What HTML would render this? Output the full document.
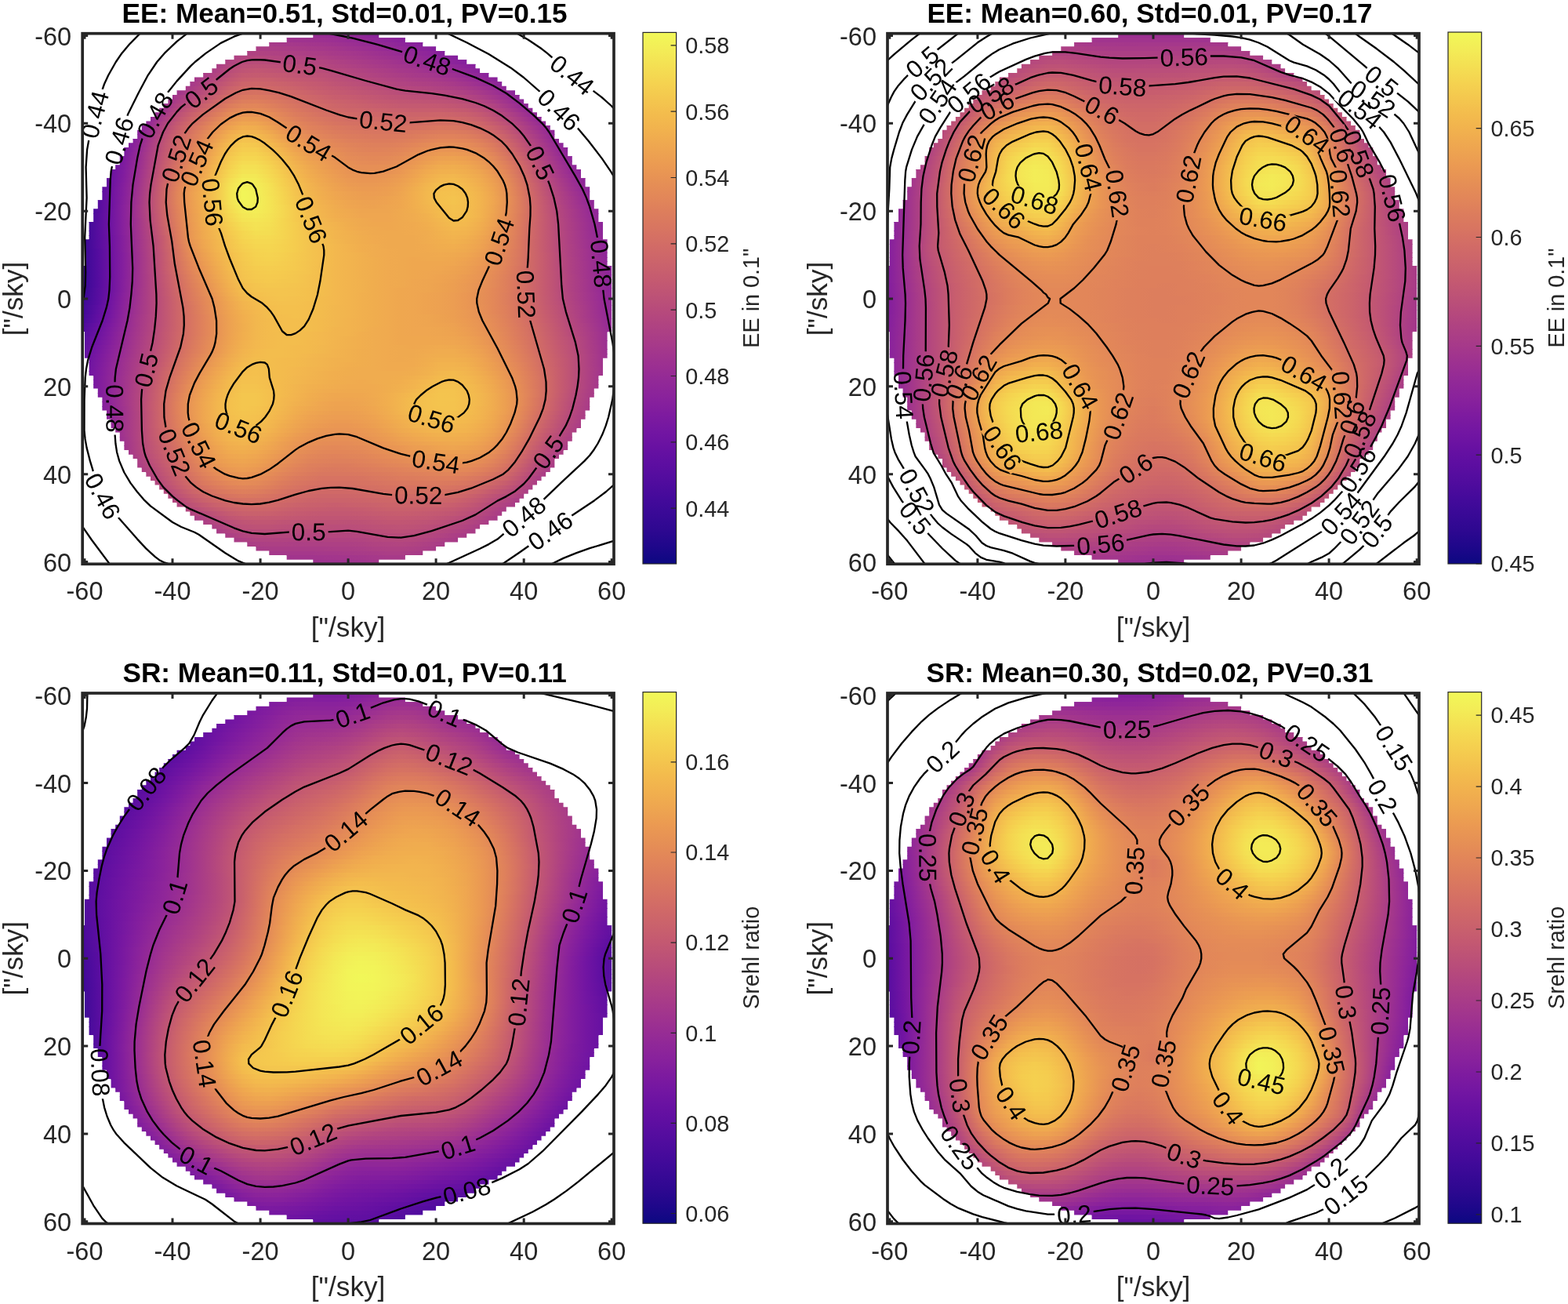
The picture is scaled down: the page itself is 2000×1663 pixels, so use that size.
<!DOCTYPE html><html><head><meta charset="utf-8"><style>
html,body{margin:0;padding:0;background:#fff}
body{width:2000px;height:1663px;position:relative;overflow:hidden}
.hm{position:absolute;overflow:hidden}
.hm div{position:absolute;left:0;width:100%}
svg{position:absolute;left:0;top:0}
text{font-family:"Liberation Sans",Arial,sans-serif}
</style></head><body>
<div class="hm" style="left:105.2px;top:42.7px;width:677.8px;height:676.6px;clip-path:polygon(378.1px 0.0px,378.1px 5.6px,411.7px 5.6px,411.7px 11.2px,434.1px 11.2px,434.1px 16.8px,450.9px 16.8px,450.9px 22.4px,462.1px 22.4px,462.1px 28.0px,478.9px 28.0px,478.9px 33.6px,490.1px 33.6px,490.1px 39.1px,501.3px 39.1px,501.3px 44.7px,506.9px 44.7px,506.9px 50.3px,518.2px 50.3px,518.2px 55.9px,529.4px 55.9px,529.4px 61.5px,535.0px 61.5px,535.0px 67.1px,540.6px 67.1px,540.6px 72.7px,551.8px 72.7px,551.8px 78.3px,557.4px 78.3px,557.4px 83.9px,563.0px 83.9px,563.0px 89.5px,568.6px 89.5px,568.6px 95.1px,574.2px 95.1px,574.2px 100.7px,579.8px 100.7px,579.8px 106.2px,585.4px 106.2px,585.4px 111.8px,591.0px 111.8px,591.0px 117.4px,596.6px 117.4px,596.6px 123.0px,602.2px 123.0px,602.2px 128.6px,602.2px 128.6px,602.2px 134.2px,607.8px 134.2px,607.8px 139.8px,613.4px 139.8px,613.4px 145.4px,619.0px 145.4px,619.0px 151.0px,619.0px 151.0px,619.0px 156.6px,624.6px 156.6px,624.6px 162.2px,624.6px 162.2px,624.6px 167.8px,630.2px 167.8px,630.2px 173.3px,635.8px 173.3px,635.8px 178.9px,635.8px 178.9px,635.8px 184.5px,641.4px 184.5px,641.4px 190.1px,641.4px 190.1px,641.4px 195.7px,647.0px 195.7px,647.0px 201.3px,647.0px 201.3px,647.0px 206.9px,647.0px 206.9px,647.0px 212.5px,652.6px 212.5px,652.6px 218.1px,652.6px 218.1px,652.6px 223.7px,658.2px 223.7px,658.2px 229.3px,658.2px 229.3px,658.2px 234.9px,658.2px 234.9px,658.2px 240.4px,663.8px 240.4px,663.8px 246.0px,663.8px 246.0px,663.8px 251.6px,663.8px 251.6px,663.8px 257.2px,663.8px 257.2px,663.8px 262.8px,669.4px 262.8px,669.4px 268.4px,669.4px 268.4px,669.4px 274.0px,669.4px 274.0px,669.4px 279.6px,669.4px 279.6px,669.4px 285.2px,669.4px 285.2px,669.4px 290.8px,669.4px 290.8px,669.4px 296.4px,675.0px 296.4px,675.0px 302.0px,675.0px 302.0px,675.0px 307.5px,675.0px 307.5px,675.0px 313.1px,675.0px 313.1px,675.0px 318.7px,675.0px 318.7px,675.0px 324.3px,675.0px 324.3px,675.0px 329.9px,675.0px 329.9px,675.0px 335.5px,675.0px 335.5px,675.0px 341.1px,675.0px 341.1px,675.0px 346.7px,675.0px 346.7px,675.0px 352.3px,675.0px 352.3px,675.0px 357.9px,675.0px 357.9px,675.0px 363.5px,675.0px 363.5px,675.0px 369.1px,675.0px 369.1px,675.0px 374.6px,675.0px 374.6px,675.0px 380.2px,669.4px 380.2px,669.4px 385.8px,669.4px 385.8px,669.4px 391.4px,669.4px 391.4px,669.4px 397.0px,669.4px 397.0px,669.4px 402.6px,669.4px 402.6px,669.4px 408.2px,669.4px 408.2px,669.4px 413.8px,663.8px 413.8px,663.8px 419.4px,663.8px 419.4px,663.8px 425.0px,663.8px 425.0px,663.8px 430.6px,663.8px 430.6px,663.8px 436.2px,658.2px 436.2px,658.2px 441.7px,658.2px 441.7px,658.2px 447.3px,658.2px 447.3px,658.2px 452.9px,652.6px 452.9px,652.6px 458.5px,652.6px 458.5px,652.6px 464.1px,647.0px 464.1px,647.0px 469.7px,647.0px 469.7px,647.0px 475.3px,647.0px 475.3px,647.0px 480.9px,641.4px 480.9px,641.4px 486.5px,641.4px 486.5px,641.4px 492.1px,635.8px 492.1px,635.8px 497.7px,635.8px 497.7px,635.8px 503.3px,630.2px 503.3px,630.2px 508.8px,624.6px 508.8px,624.6px 514.4px,624.6px 514.4px,624.6px 520.0px,619.0px 520.0px,619.0px 525.6px,619.0px 525.6px,619.0px 531.2px,613.4px 531.2px,613.4px 536.8px,607.8px 536.8px,607.8px 542.4px,602.2px 542.4px,602.2px 548.0px,602.2px 548.0px,602.2px 553.6px,596.6px 553.6px,596.6px 559.2px,591.0px 559.2px,591.0px 564.8px,585.4px 564.8px,585.4px 570.4px,579.8px 570.4px,579.8px 575.9px,574.2px 575.9px,574.2px 581.5px,568.6px 581.5px,568.6px 587.1px,563.0px 587.1px,563.0px 592.7px,557.4px 592.7px,557.4px 598.3px,551.8px 598.3px,551.8px 603.9px,540.6px 603.9px,540.6px 609.5px,535.0px 609.5px,535.0px 615.1px,529.4px 615.1px,529.4px 620.7px,518.2px 620.7px,518.2px 626.3px,506.9px 626.3px,506.9px 631.9px,501.3px 631.9px,501.3px 637.5px,490.1px 637.5px,490.1px 643.0px,478.9px 643.0px,478.9px 648.6px,462.1px 648.6px,462.1px 654.2px,450.9px 654.2px,450.9px 659.8px,434.1px 659.8px,434.1px 665.4px,411.7px 665.4px,411.7px 671.0px,378.1px 671.0px,378.1px 676.6px,294.1px 676.6px,294.1px 671.0px,260.5px 671.0px,260.5px 665.4px,238.1px 665.4px,238.1px 659.8px,221.3px 659.8px,221.3px 654.2px,210.1px 654.2px,210.1px 648.6px,193.3px 648.6px,193.3px 643.0px,182.1px 643.0px,182.1px 637.5px,170.9px 637.5px,170.9px 631.9px,165.2px 631.9px,165.2px 626.3px,154.0px 626.3px,154.0px 620.7px,142.8px 620.7px,142.8px 615.1px,137.2px 615.1px,137.2px 609.5px,131.6px 609.5px,131.6px 603.9px,120.4px 603.9px,120.4px 598.3px,114.8px 598.3px,114.8px 592.7px,109.2px 592.7px,109.2px 587.1px,103.6px 587.1px,103.6px 581.5px,98.0px 581.5px,98.0px 575.9px,92.4px 575.9px,92.4px 570.4px,86.8px 570.4px,86.8px 564.8px,81.2px 564.8px,81.2px 559.2px,75.6px 559.2px,75.6px 553.6px,70.0px 553.6px,70.0px 548.0px,70.0px 548.0px,70.0px 542.4px,64.4px 542.4px,64.4px 536.8px,58.8px 536.8px,58.8px 531.2px,53.2px 531.2px,53.2px 525.6px,53.2px 525.6px,53.2px 520.0px,47.6px 520.0px,47.6px 514.4px,47.6px 514.4px,47.6px 508.8px,42.0px 508.8px,42.0px 503.3px,36.4px 503.3px,36.4px 497.7px,36.4px 497.7px,36.4px 492.1px,30.8px 492.1px,30.8px 486.5px,30.8px 486.5px,30.8px 480.9px,25.2px 480.9px,25.2px 475.3px,25.2px 475.3px,25.2px 469.7px,25.2px 469.7px,25.2px 464.1px,19.6px 464.1px,19.6px 458.5px,19.6px 458.5px,19.6px 452.9px,14.0px 452.9px,14.0px 447.3px,14.0px 447.3px,14.0px 441.7px,14.0px 441.7px,14.0px 436.2px,8.4px 436.2px,8.4px 430.6px,8.4px 430.6px,8.4px 425.0px,8.4px 425.0px,8.4px 419.4px,8.4px 419.4px,8.4px 413.8px,2.8px 413.8px,2.8px 408.2px,2.8px 408.2px,2.8px 402.6px,2.8px 402.6px,2.8px 397.0px,2.8px 397.0px,2.8px 391.4px,2.8px 391.4px,2.8px 385.8px,2.8px 385.8px,2.8px 380.2px,-2.8px 380.2px,-2.8px 374.6px,-2.8px 374.6px,-2.8px 369.1px,-2.8px 369.1px,-2.8px 363.5px,-2.8px 363.5px,-2.8px 357.9px,-2.8px 357.9px,-2.8px 352.3px,-2.8px 352.3px,-2.8px 346.7px,-2.8px 346.7px,-2.8px 341.1px,-2.8px 341.1px,-2.8px 335.5px,-2.8px 335.5px,-2.8px 329.9px,-2.8px 329.9px,-2.8px 324.3px,-2.8px 324.3px,-2.8px 318.7px,-2.8px 318.7px,-2.8px 313.1px,-2.8px 313.1px,-2.8px 307.5px,-2.8px 307.5px,-2.8px 302.0px,-2.8px 302.0px,-2.8px 296.4px,2.8px 296.4px,2.8px 290.8px,2.8px 290.8px,2.8px 285.2px,2.8px 285.2px,2.8px 279.6px,2.8px 279.6px,2.8px 274.0px,2.8px 274.0px,2.8px 268.4px,2.8px 268.4px,2.8px 262.8px,8.4px 262.8px,8.4px 257.2px,8.4px 257.2px,8.4px 251.6px,8.4px 251.6px,8.4px 246.0px,8.4px 246.0px,8.4px 240.4px,14.0px 240.4px,14.0px 234.9px,14.0px 234.9px,14.0px 229.3px,14.0px 229.3px,14.0px 223.7px,19.6px 223.7px,19.6px 218.1px,19.6px 218.1px,19.6px 212.5px,25.2px 212.5px,25.2px 206.9px,25.2px 206.9px,25.2px 201.3px,25.2px 201.3px,25.2px 195.7px,30.8px 195.7px,30.8px 190.1px,30.8px 190.1px,30.8px 184.5px,36.4px 184.5px,36.4px 178.9px,36.4px 178.9px,36.4px 173.3px,42.0px 173.3px,42.0px 167.8px,47.6px 167.8px,47.6px 162.2px,47.6px 162.2px,47.6px 156.6px,53.2px 156.6px,53.2px 151.0px,53.2px 151.0px,53.2px 145.4px,58.8px 145.4px,58.8px 139.8px,64.4px 139.8px,64.4px 134.2px,70.0px 134.2px,70.0px 128.6px,70.0px 128.6px,70.0px 123.0px,75.6px 123.0px,75.6px 117.4px,81.2px 117.4px,81.2px 111.8px,86.8px 111.8px,86.8px 106.2px,92.4px 106.2px,92.4px 100.7px,98.0px 100.7px,98.0px 95.1px,103.6px 95.1px,103.6px 89.5px,109.2px 89.5px,109.2px 83.9px,114.8px 83.9px,114.8px 78.3px,120.4px 78.3px,120.4px 72.7px,131.6px 72.7px,131.6px 67.1px,137.2px 67.1px,137.2px 61.5px,142.8px 61.5px,142.8px 55.9px,154.0px 55.9px,154.0px 50.3px,165.2px 50.3px,165.2px 44.7px,170.9px 44.7px,170.9px 39.1px,182.1px 39.1px,182.1px 33.6px,193.3px 33.6px,193.3px 28.0px,210.1px 28.0px,210.1px 22.4px,221.3px 22.4px,221.3px 16.8px,238.1px 16.8px,238.1px 11.2px,260.5px 11.2px,260.5px 5.6px,294.1px 5.6px,294.1px 0.0px)"><div style="top:0.00px;height:6.29px;background:linear-gradient(90deg,#0c0881 2.8px,#0c0881,#20078b,#300892,#3c0997,#4a0b9c,#570da0,#6410a2,#7114a2,#7e1b9f,#89229c,#912898,#972c94,#9c3091,#9d3190,#9c3091,#9b2f92,#9a2e93,#982d93,#962b95,#942a96,#902798,#8c249a,#89229c,#851f9d,#7f1c9f,#7918a1,#7215a2,#6b12a2,#6210a2,#580da0,#500c9e,#470b9b,#3e0a98,#350994,#2d0890,#20078b,#140785,#0c0881,#0c0881,#0c0881 calc(100% - 2.8px))"></div><div style="top:5.59px;height:6.29px;background:linear-gradient(90deg,#0c0881 2.8px,#110783,#24078c,#330893,#410a99,#4e0c9e,#5b0ea1,#6a12a2,#7617a1,#831e9e,#8e259a,#972c94,#9d3190,#a2358d,#a2358d,#a0348e,#9f338f,#9e328f,#9d3190,#9b2f92,#972c94,#952a95,#912898,#8e259a,#8a229b,#851f9d,#7e1b9f,#7718a1,#7114a2,#6811a2,#5e0fa1,#560d9f,#4b0b9d,#420a9a,#390996,#300892,#26078d,#1a0788,#0c0881,#0c0881,#0c0881 calc(100% - 2.8px))"></div><div style="top:11.18px;height:6.29px;background:linear-gradient(90deg,#0c0881 2.8px,#160786,#29088f,#380995,#450a9b,#530c9f,#610fa1,#6f14a2,#7d1aa0,#89229c,#942a96,#9c3091,#a3368c,#a6398a,#a73a89,#a6398a,#a5388b,#a3368c,#a2358d,#9f338f,#9c3091,#982d93,#962b95,#922997,#8e259a,#89229c,#831e9e,#7d1aa0,#7617a1,#6e13a2,#6510a2,#5b0ea1,#510c9e,#480b9c,#3f0a98,#350994,#2b0890,#1e078a,#110783,#0c0881,#0c0881 calc(100% - 2.8px))"></div><div style="top:16.78px;height:6.29px;background:linear-gradient(90deg,#0c0881 2.8px,#1a0788,#2d0890,#3b0997,#4a0b9c,#570da0,#6510a2,#7316a2,#821d9e,#8e259a,#982d93,#a2358d,#a83b88,#ab3e86,#ab3e86,#aa3d86,#a93c87,#a73a89,#a6398a,#a4378b,#a0348e,#9d3190,#9a2e93,#962b95,#922997,#8e259a,#89229c,#821d9e,#7b1aa0,#7316a2,#6b12a2,#610fa1,#570da0,#4d0b9d,#440a9a,#390996,#2e0891,#24078c,#180787,#0c0881,#0c0881 calc(100% - 2.8px))"></div><div style="top:22.37px;height:6.29px;background:linear-gradient(90deg,#0c0881 2.8px,#20078b,#300892,#3f0a98,#4d0b9d,#5b0ea1,#6b12a2,#7918a1,#87219c,#922997,#9d3190,#a73a89,#ad4084,#b04381,#af4282,#ae4183,#ad4084,#ab3e86,#aa3d86,#a73a89,#a5388b,#a2358d,#9e328f,#9b2f92,#962b95,#922997,#8e259a,#87219c,#811d9f,#7918a1,#7114a2,#6711a2,#5d0ea1,#510c9e,#480b9c,#3e0a98,#330893,#28088e,#1c0789,#0f0882,#0c0881 calc(100% - 2.8px))"></div><div style="top:27.96px;height:6.29px;background:linear-gradient(90deg,#0c0881 2.8px,#24078c,#350994,#420a9a,#510c9e,#600fa1,#6f14a2,#7e1b9f,#8b239b,#972c94,#a2358d,#ab3e86,#b24580,#b5487d,#b4477e,#b24580,#b14481,#af4282,#ae4183,#ab3e86,#a83b88,#a5388b,#a2358d,#9e328f,#9b2f92,#962b95,#912898,#8c249a,#86209d,#7f1c9f,#7617a1,#6c13a2,#610fa1,#570da0,#4d0b9d,#420a9a,#380995,#2d0890,#22078c,#160786,#0c0881 calc(100% - 2.8px))"></div><div style="top:33.55px;height:6.29px;background:linear-gradient(90deg,#110783 2.8px,#28088e,#380995,#450a9b,#540c9f,#6410a2,#7316a2,#821d9e,#902798,#9c3091,#a6398a,#b04381,#b74a7c,#b94d7a,#b84b7b,#b6497d,#b5487d,#b3467f,#b24580,#af4282,#ac3f85,#a93c87,#a6398a,#a3368c,#9e328f,#9b2f92,#962b95,#912898,#8b239b,#851f9d,#7d1aa0,#7215a2,#6711a2,#5b0ea1,#510c9e,#450a9b,#3b0997,#310893,#28088e,#1c0789,#0f0882 calc(100% - 2.8px))"></div><div style="top:39.14px;height:6.29px;background:linear-gradient(90deg,#160786 2.8px,#29088f,#3b0997,#4a0b9c,#580da0,#6711a2,#7718a1,#87219c,#952a95,#a0348e,#aa3d86,#b4477e,#bc5078,#bd5276,#bc5177,#bb4f79,#b94d7a,#b74a7c,#b5487d,#b24580,#af4282,#ac3f85,#a93c87,#a6398a,#a3368c,#9f338f,#9b2f92,#962b95,#912898,#8b239b,#821d9e,#7918a1,#6e13a2,#610fa1,#560d9f,#4a0b9c,#3f0a98,#350994,#2b0890,#20078b,#160786 calc(100% - 2.8px))"></div><div style="top:44.73px;height:6.29px;background:linear-gradient(90deg,#1a0788 2.8px,#2d0890,#3c0997,#4b0b9d,#5b0ea1,#6b12a2,#7b1aa0,#8b239b,#982d93,#a4378b,#ae4183,#b94d7a,#bf5475,#c25773,#c05574,#be5376,#bc5177,#bb4f79,#b94d7a,#b6497d,#b3467f,#b04381,#ad4084,#aa3d86,#a6398a,#a4378b,#9f338f,#9c3091,#962b95,#902798,#89229c,#7f1c9f,#7316a2,#6711a2,#5a0ea0,#4e0c9e,#420a9a,#390996,#300892,#26078d,#1a0788 calc(100% - 2.8px))"></div><div style="top:50.33px;height:6.29px;background:linear-gradient(90deg,#1c0789 2.8px,#300892,#3f0a98,#4e0c9e,#5e0fa1,#6e13a2,#7f1c9f,#8f2699,#9d3190,#a83b88,#b24580,#bc5177,#c45971,#c55b70,#c45a71,#c35872,#c05574,#be5376,#bc5177,#ba4e7a,#b6497d,#b3467f,#b04381,#ad4084,#aa3d86,#a73a89,#a5388b,#a0348e,#9c3091,#962b95,#8f2699,#851f9d,#7a19a0,#6c13a2,#5e0fa1,#530c9f,#470b9b,#3c0997,#330893,#2b0890,#20078b calc(100% - 2.8px))"></div><div style="top:55.92px;height:6.29px;background:linear-gradient(90deg,#20078b 2.8px,#310893,#420a9a,#510c9e,#610fa1,#7215a2,#831e9e,#942a96,#a0348e,#ac3f85,#b74a7c,#c15673,#c85e6e,#c9616c,#c9606d,#c65c6f,#c45971,#c25773,#bf5475,#bc5177,#ba4e7a,#b74a7c,#b4477e,#b14481,#ae4183,#ab3e86,#a93c87,#a6398a,#a2358d,#9c3091,#952a95,#8c249a,#811d9f,#7215a2,#6410a2,#570da0,#4b0b9d,#410a99,#380995,#2e0891,#26078d calc(100% - 2.8px))"></div><div style="top:61.51px;height:6.29px;background:linear-gradient(90deg,#22078c 2.8px,#350994,#450a9b,#540c9f,#6410a2,#7516a1,#87219c,#972c94,#a5388b,#b04381,#bc5078,#c55b70,#cc646a,#cd6669,#cc646a,#ca626c,#c85e6e,#c55b70,#c35872,#bf5475,#bc5177,#ba4e7a,#b74a7c,#b4477e,#b14481,#af4282,#ad4084,#ab3e86,#a73a89,#a2358d,#9b2f92,#922997,#87219c,#7918a1,#6a12a2,#5b0ea1,#500c9e,#450a9b,#3c0997,#330893,#29088f calc(100% - 2.8px))"></div><div style="top:67.10px;height:6.29px;background:linear-gradient(90deg,#24078c 2.8px,#360995,#470b9b,#570da0,#6711a2,#7918a1,#8b239b,#9c3091,#a93c87,#b4477e,#c05574,#ca626c,#d06967,#d16b66,#d06967,#cd6669,#cb636b,#c85e6e,#c55b70,#c35872,#c05574,#bd5276,#bb4f79,#b84b7b,#b5487d,#b4477e,#b24580,#af4282,#ac3f85,#a83b88,#a2358d,#982d93,#8e259a,#7f1c9f,#6f14a2,#610fa1,#540c9f,#480b9c,#3f0a98,#380995,#2e0891 calc(100% - 2.8px))"></div><div style="top:72.69px;height:6.29px;background:linear-gradient(90deg,#26078d 2.8px,#390996,#4a0b9c,#5a0ea0,#6a12a2,#7b1aa0,#8f2699,#a0348e,#ae4183,#b94d7a,#c45a71,#ce6768,#d47063,#d67262,#d46f64,#d16b66,#ce6768,#cb636b,#c85e6e,#c55b70,#c35872,#c05574,#be5376,#bc5078,#b94d7a,#b84b7b,#b6497d,#b4477e,#b14481,#ad4084,#a73a89,#9f338f,#942a96,#86209d,#7516a1,#6510a2,#580da0,#4d0b9d,#440a9a,#3b0997,#310893 calc(100% - 2.8px))"></div><div style="top:78.28px;height:6.29px;background:linear-gradient(90deg,#28088e 2.8px,#3b0997,#4b0b9d,#5b0ea1,#6c13a2,#7f1c9f,#942a96,#a6398a,#b3467f,#bd5276,#c9616c,#d36e65,#d97760,#da795f,#d87661,#d47063,#d16b66,#ce6768,#cb636b,#c85e6e,#c65c6f,#c45971,#c25773,#bf5475,#bd5276,#bc5078,#bb4f79,#ba4e7a,#b74a7c,#b3467f,#ad4084,#a5388b,#9b2f92,#8c249a,#7b1aa0,#6b12a2,#5d0ea1,#510c9e,#480b9c,#3f0a98,#360995 calc(100% - 2.8px))"></div><div style="top:83.88px;height:6.29px;background:linear-gradient(90deg,#29088f 2.8px,#3c0997,#4d0b9d,#5e0fa1,#6f14a2,#821d9e,#972c94,#ab3e86,#b84b7b,#c35872,#ce6768,#d77461,#dd7e5d,#de7f5c,#dc7b5e,#d87661,#d47063,#d16a67,#cd6669,#cb636b,#c9606d,#c75d6e,#c45a71,#c35872,#c15673,#c05574,#bf5475,#be5376,#bc5177,#b94d7a,#b3467f,#ab3e86,#a0348e,#922997,#821d9e,#7215a2,#610fa1,#560d9f,#4b0b9d,#420a9a,#390996 calc(100% - 2.8px))"></div><div style="top:89.47px;height:6.29px;background:linear-gradient(90deg,#2b0890 2.8px,#3e0a98,#500c9e,#610fa1,#7215a2,#86209d,#9c3091,#b04381,#bd5276,#c9606d,#d36e65,#dc7c5d,#e1855a,#e28659,#df815b,#db7a5e,#d77461,#d46f64,#d16a67,#cd6669,#cb636b,#c9616c,#c85e6e,#c65c6f,#c45a71,#c45a71,#c45971,#c35872,#c15673,#be5376,#b94d7a,#b14481,#a6398a,#982d93,#89229c,#7718a1,#6711a2,#5a0ea0,#500c9e,#450a9b,#3c0997 calc(100% - 2.8px))"></div><div style="top:95.06px;height:6.29px;background:linear-gradient(90deg,#2d0890 2.8px,#3f0a98,#510c9e,#6410a2,#7617a1,#89229c,#a0348e,#b5487d,#c35872,#cd6669,#d87661,#e0845a,#e58d56,#e58d56,#e28759,#de805c,#da785f,#d67262,#d36e65,#d06967,#cd6669,#cd656a,#cb636b,#c9616c,#c9606d,#c85e6e,#c85e6e,#c85e6e,#c65c6f,#c45971,#be5376,#b74a7c,#ac3f85,#9e328f,#8f2699,#7e1b9f,#6c13a2,#5e0fa1,#530c9f,#4a0b9c,#3f0a98 calc(100% - 2.8px))"></div><div style="top:100.65px;height:6.29px;background:linear-gradient(90deg,#2e0891 2.8px,#410a99,#530c9f,#6510a2,#7918a1,#8c249a,#a6398a,#ba4e7a,#c85e6e,#d26d65,#dc7c5d,#e58c57,#e99554,#e99554,#e68f56,#e1855a,#dc7c5d,#d97760,#d57163,#d36e65,#d16a67,#cf6868,#ce6768,#cd656a,#cc646a,#cc646a,#cc646a,#cd656a,#cb636b,#c9606d,#c45971,#bc5078,#b24580,#a5388b,#952a95,#851f9d,#7215a2,#6210a2,#570da0,#4d0b9d,#420a9a calc(100% - 2.8px))"></div><div style="top:106.24px;height:6.29px;background:linear-gradient(90deg,#300892 2.8px,#420a9a,#560d9f,#6811a2,#7b1aa0,#912898,#ab3e86,#be5376,#cc646a,#d77362,#e0845a,#e89454,#ec9e51,#ec9d52,#e99554,#e38a58,#df815b,#db7a5e,#d87661,#d57163,#d36e65,#d26d65,#d16b66,#d06967,#cf6868,#cf6868,#d06967,#d16a67,#d06967,#cd6669,#c9606d,#c15673,#b74a7c,#aa3d86,#9b2f92,#8a229b,#7718a1,#6811a2,#5b0ea1,#500c9e,#450a9b calc(100% - 2.8px))"></div><div style="top:111.83px;height:6.29px;background:linear-gradient(90deg,#310893 2.8px,#440a9a,#570da0,#6b12a2,#7f1c9f,#962b95,#b04381,#c35872,#d06967,#da795f,#e48b57,#eb9b52,#efa650,#eea550,#eb9b52,#e69055,#e28659,#de7f5c,#da795f,#d77461,#d57163,#d47063,#d46f64,#d36e65,#d26d65,#d36e65,#d46f64,#d47063,#d47063,#d26d65,#cd6669,#c65c6f,#bc5078,#af4282,#a0348e,#902798,#7d1aa0,#6c13a2,#600fa1,#540c9f,#480b9c calc(100% - 2.8px))"></div><div style="top:117.43px;height:6.29px;background:linear-gradient(90deg,#330893 2.8px,#450a9b,#580da0,#6e13a2,#831e9e,#9b2f92,#b4477e,#c65c6f,#d36e65,#de7f5c,#e79155,#eda250,#f1ae4e,#f0ad4e,#eda250,#e99554,#e48b57,#e0825b,#dd7e5d,#da795f,#d87661,#d77362,#d67262,#d57163,#d57163,#d67262,#d77461,#d97760,#d87661,#d67262,#d16b66,#cb636b,#c15673,#b4477e,#a5388b,#952a95,#821d9e,#7114a2,#6210a2,#570da0,#4b0b9d calc(100% - 2.8px))"></div><div style="top:123.02px;height:6.29px;background:linear-gradient(90deg,#350994 2.8px,#470b9b,#5b0ea1,#6f14a2,#87219c,#9f338f,#b84b7b,#c9616c,#d67262,#e1855a,#ea9753,#f0aa4f,#f2b54e,#f2b44e,#efa94f,#eb9a52,#e69055,#e28759,#df815b,#dc7c5d,#da795f,#d97760,#d87661,#d87661,#d87661,#da785f,#db7a5e,#dc7c5d,#dc7c5d,#da795f,#d67262,#cf6868,#c55b70,#b84b7b,#a93c87,#9a2e93,#87219c,#7617a1,#6711a2,#5a0ea0,#4e0c9e calc(100% - 2.8px))"></div><div style="top:128.61px;height:6.29px;background:linear-gradient(90deg,#360995 2.8px,#4a0b9c,#5d0ea1,#7215a2,#8a229b,#a4378b,#bb4f79,#cc646a,#d87661,#e38858,#ec9d52,#f1b04e,#f3bd4d,#f3bb4d,#f1b04e,#eda151,#e99554,#e58c57,#e1855a,#de805c,#dc7c5d,#db7a5e,#da795f,#da795f,#db7a5e,#dc7c5d,#de805c,#e0825b,#e0825b,#de7f5c,#da785f,#d46f64,#c9616c,#bc5177,#ad4084,#9d3190,#8b239b,#7a19a0,#6b12a2,#5e0fa1,#510c9e calc(100% - 2.8px))"></div><div style="top:134.20px;height:6.29px;background:linear-gradient(90deg,#360995 2.8px,#4b0b9d,#5e0fa1,#7516a1,#8c249a,#a73a89,#bd5276,#cd6669,#da795f,#e58d56,#eda250,#f2b54e,#f4c34e,#f4c14e,#f2b54e,#efa650,#eb9a52,#e69055,#e38a58,#e1855a,#de805c,#dd7e5d,#dc7c5d,#dc7c5d,#dd7e5d,#df815b,#e1855a,#e38858,#e38858,#e28659,#de7f5c,#d77461,#cd6669,#c05574,#b14481,#a0348e,#8f2699,#7e1b9f,#6e13a2,#610fa1,#540c9f calc(100% - 2.8px))"></div><div style="top:139.79px;height:6.29px;background:linear-gradient(90deg,#380995 2.8px,#4d0b9d,#610fa1,#7617a1,#8f2699,#a93c87,#bf5475,#cf6868,#dc7c5d,#e79155,#efa74f,#f3bb4d,#f5c94e,#f4c74e,#f3bb4d,#f0ad4e,#ec9f51,#e99554,#e58d56,#e38858,#e0845a,#df815b,#de805c,#de805c,#e0825b,#e28659,#e48b57,#e68f56,#e68f56,#e58c57,#e1855a,#db7a5e,#d16b66,#c45971,#b4477e,#a4378b,#922997,#811d9f,#7215a2,#6410a2,#570da0 calc(100% - 2.8px))"></div><div style="top:145.39px;height:6.29px;background:linear-gradient(90deg,#390996 2.8px,#4e0c9e,#6210a2,#7918a1,#912898,#ab3e86,#c05574,#d06967,#de7f5c,#e89454,#f0ac4f,#f4c04d,#f5cd4f,#f5cd4f,#f4c14e,#f2b34e,#eea350,#ea9953,#e79155,#e58c57,#e28759,#e0845a,#e0825b,#e0845a,#e28659,#e48b57,#e69055,#e99554,#e99554,#e79255,#e48b57,#de7f5c,#d47063,#c75d6e,#b84b7b,#a73a89,#962b95,#851f9d,#7617a1,#6811a2,#5a0ea0 calc(100% - 2.8px))"></div><div style="top:150.98px;height:6.29px;background:linear-gradient(90deg,#390996 2.8px,#500c9e,#6410a2,#7a19a0,#942a96,#ad4084,#c25773,#d16b66,#df815b,#ea9753,#f1ae4e,#f4c44e,#f5d24f,#f5d24f,#f4c74e,#f2b74e,#efa94f,#ec9d52,#e99554,#e69055,#e38a58,#e28759,#e28659,#e28659,#e38a58,#e68f56,#e99653,#eb9a52,#eb9b52,#ea9753,#e69055,#e1855a,#d77461,#ca626c,#bb4f79,#aa3d86,#982d93,#89229c,#7918a1,#6b12a2,#5e0fa1 calc(100% - 2.8px))"></div><div style="top:156.57px;height:6.29px;background:linear-gradient(90deg,#390996 2.8px,#500c9e,#6711a2,#7d1aa0,#952a95,#ae4183,#c35872,#d36e65,#e0845a,#eb9a52,#f2b34e,#f5c94e,#f5d650,#f5d650,#f5cc4e,#f3bd4d,#f0ad4e,#eda151,#ea9953,#e79255,#e58c57,#e38a58,#e38858,#e38a58,#e58d56,#e89454,#eb9b52,#eda151,#eda250,#ec9e51,#e99653,#e38a58,#da795f,#cd6669,#bd5276,#ad4084,#9c3091,#8b239b,#7d1aa0,#6f14a2,#610fa1 calc(100% - 2.8px))"></div><div style="top:162.16px;height:6.29px;background:linear-gradient(90deg,#3b0997 2.8px,#510c9e,#6811a2,#7e1b9f,#962b95,#af4282,#c45a71,#d47063,#e28659,#ec9e51,#f2b54e,#f5cd4f,#f5db52,#f5db52,#f5d04f,#f4c14e,#f1b14e,#eea550,#ec9d52,#e99554,#e69055,#e58c57,#e48b57,#e58c57,#e69055,#ea9753,#ec9f51,#efa650,#efa74f,#eea350,#eb9b52,#e68f56,#dd7e5d,#d16a67,#c15673,#b04381,#9f338f,#8f2699,#811d9f,#7215a2,#6410a2 calc(100% - 2.8px))"></div><div style="top:167.75px;height:6.29px;background:linear-gradient(90deg,#3b0997 2.8px,#530c9f,#6a12a2,#7f1c9f,#972c94,#b04381,#c65c6f,#d77362,#e38a58,#eda151,#f3ba4d,#f5d04f,#f4e053,#f4e053,#f5d550,#f4c44e,#f2b54e,#efa94f,#ec9f51,#ea9753,#e79255,#e68f56,#e68f56,#e69055,#e89454,#eb9b52,#eea550,#f0ac4f,#f0ad4e,#efa94f,#ec9f51,#e79255,#e0825b,#d36e65,#c45971,#b24580,#a2358d,#922997,#831e9e,#7516a1,#6711a2 calc(100% - 2.8px))"></div><div style="top:173.34px;height:6.29px;background:linear-gradient(90deg,#3b0997 2.8px,#530c9f,#6b12a2,#811d9f,#9a2e93,#b24580,#c85e6e,#d97760,#e58d56,#eea550,#f3bd4d,#f5d550,#f4e354,#f4e354,#f5d851,#f5c94e,#f3b84e,#f0ac4f,#eda250,#eb9a52,#e89454,#e79155,#e79155,#e79255,#ea9753,#eda151,#f0aa4f,#f1b04e,#f1b14e,#f0ad4e,#eea550,#ea9753,#e28659,#d57163,#c55b70,#b5487d,#a5388b,#952a95,#87219c,#7918a1,#6b12a2 calc(100% - 2.8px))"></div><div style="top:178.94px;height:6.29px;background:linear-gradient(90deg,#3b0997 2.8px,#540c9f,#6c13a2,#821d9e,#9b2f92,#b3467f,#c9616c,#db7a5e,#e79155,#efa74f,#f4c04d,#f5d851,#f3e855,#f3e855,#f5db52,#f5cc4e,#f3bb4d,#f1ae4e,#eea550,#ec9d52,#e99653,#e89454,#e89454,#e99653,#eb9b52,#eea350,#f1ae4e,#f2b54e,#f2b74e,#f1b14e,#efa94f,#eb9b52,#e38a58,#d77461,#c85e6e,#b74a7c,#a73a89,#982d93,#8a229b,#7b1aa0,#6e13a2 calc(100% - 2.8px))"></div><div style="top:184.53px;height:6.29px;background:linear-gradient(90deg,#390996 2.8px,#540c9f,#6c13a2,#831e9e,#9c3091,#b5487d,#cb636b,#dd7e5d,#e99554,#f0ac4f,#f4c34e,#f4dd52,#f3ed57,#f3eb56,#f4de52,#f5cf4f,#f4be4d,#f1b14e,#efa74f,#ec9f51,#ea9953,#e99653,#e99653,#ea9953,#ec9e51,#efa74f,#f1b14e,#f3b84e,#f3ba4d,#f2b54e,#f0ac4f,#ec9e51,#e58d56,#d97760,#c9616c,#ba4e7a,#aa3d86,#9b2f92,#8c249a,#7e1b9f,#7114a2 calc(100% - 2.8px))"></div><div style="top:190.12px;height:6.29px;background:linear-gradient(90deg,#390996 2.8px,#540c9f,#6c13a2,#851f9d,#9d3190,#b6497d,#cd656a,#de805c,#ea9953,#f0ad4e,#f4c64e,#f4e053,#f2f058,#f3ed57,#f4e253,#f5d04f,#f4c14e,#f2b44e,#efa94f,#eda250,#eb9b52,#ea9953,#ea9953,#eb9b52,#eda151,#f0aa4f,#f2b54e,#f3bd4d,#f4be4d,#f3b84e,#f1ae4e,#eda151,#e69055,#da795f,#cc646a,#bc5078,#ac3f85,#9d3190,#8f2699,#811d9f,#7316a2 calc(100% - 2.8px))"></div><div style="top:195.71px;height:6.29px;background:linear-gradient(90deg,#390996 2.8px,#540c9f,#6e13a2,#86209d,#9e328f,#b74a7c,#cd6669,#e0825b,#eb9b52,#f1ae4e,#f4c64e,#f4e253,#f2f458,#f2ef57,#f4e354,#f5d350,#f4c34e,#f2b54e,#f0ac4f,#eea350,#ec9e51,#eb9b52,#eb9b52,#ec9e51,#eea350,#f0ad4e,#f2b74e,#f4be4d,#f4c04d,#f3bb4d,#f1b14e,#eea350,#e79155,#dc7b5e,#cd656a,#bd5276,#ae4183,#9f338f,#912898,#831e9e,#7516a1 calc(100% - 2.8px))"></div><div style="top:201.30px;height:6.29px;background:linear-gradient(90deg,#390996 2.8px,#540c9f,#6e13a2,#86209d,#9f338f,#b84b7b,#ce6768,#e0845a,#ec9d52,#f1b04e,#f4c64e,#f4e253,#f2f558,#f2f058,#f4e354,#f5d550,#f4c44e,#f2b74e,#f0ad4e,#efa650,#eda151,#ec9e51,#ec9d52,#ec9f51,#eea550,#f1ae4e,#f3b84e,#f4c04d,#f4c14e,#f3bd4d,#f2b34e,#eea550,#e79255,#dc7c5d,#ce6768,#be5376,#b04381,#a2358d,#942a96,#86209d,#7718a1 calc(100% - 2.8px))"></div><div style="top:206.89px;height:6.29px;background:linear-gradient(90deg,#380995 2.8px,#540c9f,#6e13a2,#87219c,#a0348e,#b94d7a,#ce6768,#e0845a,#ec9d52,#f1b04e,#f4c64e,#f4e253,#f2f558,#f2f058,#f4e554,#f5d650,#f4c64e,#f3ba4d,#f1ae4e,#efa74f,#eda250,#ec9f51,#ec9f51,#eda250,#efa650,#f1ae4e,#f3b84e,#f4c04d,#f4c34e,#f4be4d,#f2b44e,#efa650,#e89454,#dd7e5d,#cf6868,#c05574,#b14481,#a4378b,#962b95,#89229c,#7a19a0 calc(100% - 2.8px))"></div><div style="top:212.49px;height:6.29px;background:linear-gradient(90deg,#390996 2.8px,#540c9f,#6e13a2,#87219c,#a0348e,#b94d7a,#ce6768,#e0845a,#eb9b52,#f1b04e,#f4c44e,#f4e053,#f2f258,#f2f058,#f4e554,#f5d650,#f4c74e,#f3bb4d,#f1b14e,#f0aa4f,#eea550,#eda250,#eda151,#eea350,#efa74f,#f1ae4e,#f2b74e,#f4c04d,#f4c34e,#f4be4d,#f2b44e,#efa650,#e89454,#dd7e5d,#cf6868,#c15673,#b24580,#a5388b,#972c94,#8a229b,#7b1aa0 calc(100% - 2.8px))"></div><div style="top:218.08px;height:6.29px;background:linear-gradient(90deg,#390996 2.8px,#540c9f,#6e13a2,#89229c,#a2358d,#b94d7a,#ce6768,#e0825b,#eb9b52,#f1ae4e,#f4c34e,#f4dd52,#f2ef57,#f2ef57,#f4e554,#f5d851,#f5c94e,#f3bb4d,#f2b34e,#f0ac4f,#efa650,#eea350,#eda250,#eea550,#efa74f,#f1ae4e,#f2b54e,#f4be4d,#f4c14e,#f4be4d,#f2b44e,#eea550,#e79255,#dd7e5d,#d06967,#c25773,#b4477e,#a6398a,#9a2e93,#8c249a,#7e1b9f calc(100% - 2.8px))"></div><div style="top:223.67px;height:6.29px;background:linear-gradient(90deg,#390996 2.8px,#540c9f,#6f14a2,#89229c,#a2358d,#b94d7a,#cd6669,#df815b,#eb9a52,#f1ae4e,#f4c34e,#f5da51,#f3eb56,#f3ed57,#f4e554,#f5d851,#f5ca4e,#f3bd4d,#f2b44e,#f0ad4e,#efa94f,#eea550,#eea550,#eea550,#efa94f,#f0ad4e,#f2b44e,#f3bb4d,#f4c14e,#f3bd4d,#f2b34e,#eea550,#e79255,#dd7e5d,#d06967,#c25773,#b4477e,#a83b88,#9b2f92,#8e259a,#7f1c9f calc(100% - 2.8px))"></div><div style="top:229.26px;height:6.29px;background:linear-gradient(90deg,#3b0997 2.8px,#560d9f,#6f14a2,#89229c,#a2358d,#b84b7b,#cd656a,#de805c,#ea9953,#f0ad4e,#f4c14e,#f5d650,#f4e655,#f3ea56,#f4e354,#f5d851,#f5ca4e,#f4be4d,#f2b54e,#f1ae4e,#f0aa4f,#efa650,#efa650,#efa650,#efa94f,#f0ac4f,#f1b14e,#f3ba4d,#f4c04d,#f3bd4d,#f2b34e,#eea350,#e79155,#dc7c5d,#d06967,#c35872,#b5487d,#a83b88,#9c3091,#8f2699,#811d9f calc(100% - 2.8px))"></div><div style="top:234.85px;height:6.29px;background:linear-gradient(90deg,#3b0997 2.8px,#560d9f,#6f14a2,#89229c,#a0348e,#b84b7b,#cc646a,#de7f5c,#ea9953,#f0ad4e,#f4be4d,#f5d350,#f4e354,#f4e655,#f4e253,#f5d650,#f5ca4e,#f4c04d,#f2b74e,#f1b04e,#f0ac4f,#efa94f,#efa650,#efa650,#efa94f,#f0ac4f,#f1b04e,#f2b74e,#f4be4d,#f3ba4d,#f1b14e,#eda250,#e69055,#dc7c5d,#d06967,#c35872,#b6497d,#a93c87,#9d3190,#902798,#821d9e calc(100% - 2.8px))"></div><div style="top:240.44px;height:6.29px;background:linear-gradient(90deg,#3b0997 2.8px,#560d9f,#6f14a2,#89229c,#a0348e,#b74a7c,#cb636b,#dd7e5d,#ea9753,#f0ac4f,#f3bd4d,#f5cf4f,#f4de52,#f4e354,#f4e053,#f5d650,#f5cc4e,#f4c14e,#f3b84e,#f2b34e,#f0ad4e,#efa94f,#efa74f,#efa74f,#efa94f,#f0aa4f,#f1ae4e,#f2b54e,#f3bb4d,#f3b84e,#f1ae4e,#eda151,#e68f56,#dc7b5e,#cf6868,#c35872,#b6497d,#aa3d86,#9e328f,#912898,#831e9e calc(100% - 2.8px))"></div><div style="top:246.04px;height:6.29px;background:linear-gradient(90deg,#3c0997 2.8px,#560d9f,#6f14a2,#89229c,#a0348e,#b6497d,#c9616c,#dc7c5d,#ea9753,#f0aa4f,#f3ba4d,#f5cc4e,#f5db52,#f4e253,#f4de52,#f5d650,#f5cc4e,#f4c14e,#f3ba4d,#f2b44e,#f1ae4e,#f0aa4f,#efa94f,#efa74f,#efa94f,#f0aa4f,#f0ad4e,#f2b34e,#f3b84e,#f2b54e,#f0ad4e,#ec9e51,#e58d56,#db7a5e,#cf6868,#c35872,#b6497d,#aa3d86,#9e328f,#922997,#851f9d calc(100% - 2.8px))"></div><div style="top:251.63px;height:6.29px;background:linear-gradient(90deg,#3c0997 2.8px,#560d9f,#6f14a2,#89229c,#9f338f,#b5487d,#c9606d,#db7a5e,#e99653,#efa94f,#f3b84e,#f5c94e,#f5d650,#f4de52,#f4dd52,#f5d550,#f5cc4e,#f4c34e,#f3bb4d,#f2b54e,#f1b04e,#f0ac4f,#efa94f,#efa94f,#efa94f,#f0aa4f,#f0ac4f,#f1b14e,#f2b54e,#f2b34e,#f0aa4f,#ec9d52,#e58c57,#db7a5e,#cf6868,#c35872,#b74a7c,#ab3e86,#9f338f,#922997,#86209d calc(100% - 2.8px))"></div><div style="top:257.22px;height:6.29px;background:linear-gradient(90deg,#3c0997 2.8px,#560d9f,#6e13a2,#87219c,#9f338f,#b4477e,#c75d6e,#da795f,#e99653,#efa94f,#f2b74e,#f4c64e,#f5d550,#f5db52,#f5da51,#f5d550,#f5cc4e,#f4c44e,#f3bd4d,#f2b54e,#f1b14e,#f0ad4e,#f0aa4f,#efa94f,#efa94f,#efa94f,#f0ac4f,#f1b04e,#f2b34e,#f1b04e,#efa74f,#eb9a52,#e48b57,#da795f,#cf6868,#c35872,#b74a7c,#ab3e86,#9f338f,#942a96,#87219c calc(100% - 2.8px))"></div><div style="top:262.81px;height:6.29px;background:linear-gradient(90deg,#3c0997 2.8px,#560d9f,#6e13a2,#87219c,#9e328f,#b3467f,#c65c6f,#da785f,#e89454,#efa650,#f2b54e,#f4c44e,#f5d24f,#f5d851,#f5d851,#f5d350,#f5cc4e,#f4c44e,#f3bd4d,#f2b74e,#f1b14e,#f0ad4e,#f0aa4f,#efa94f,#efa94f,#efa94f,#f0ac4f,#f1ae4e,#f1b14e,#f0ad4e,#eea550,#ea9953,#e38a58,#da785f,#ce6768,#c35872,#b74a7c,#ab3e86,#a0348e,#952a95,#89229c calc(100% - 2.8px))"></div><div style="top:268.40px;height:6.29px;background:linear-gradient(90deg,#3c0997 2.8px,#560d9f,#6e13a2,#87219c,#9e328f,#b3467f,#c65c6f,#d87661,#e79155,#eea550,#f2b44e,#f4c34e,#f5cf4f,#f5d650,#f5d650,#f5d24f,#f5cc4e,#f4c44e,#f4be4d,#f3b84e,#f2b34e,#f1ae4e,#f0ac4f,#efa94f,#efa94f,#efa94f,#f0aa4f,#f0ad4e,#f1ae4e,#f0aa4f,#eea350,#e99653,#e38858,#da785f,#ce6768,#c35872,#b74a7c,#ac3f85,#a0348e,#952a95,#89229c calc(100% - 2.8px))"></div><div style="top:274.00px;height:6.29px;background:linear-gradient(90deg,#3c0997 2.8px,#540c9f,#6e13a2,#87219c,#9e328f,#b24580,#c55b70,#d77461,#e68f56,#eda250,#f2b34e,#f4c14e,#f5cd4f,#f5d350,#f5d550,#f5d24f,#f5cc4e,#f4c44e,#f4be4d,#f3b84e,#f2b34e,#f1ae4e,#f0ac4f,#f0aa4f,#efa94f,#efa94f,#f0aa4f,#f0ac4f,#f0ac4f,#efa94f,#eda151,#e99554,#e28659,#d97760,#ce6768,#c35872,#b74a7c,#ac3f85,#a2358d,#962b95,#8a229b calc(100% - 2.8px))"></div><div style="top:279.59px;height:6.29px;background:linear-gradient(90deg,#3c0997 2.8px,#540c9f,#6e13a2,#86209d,#9d3190,#b24580,#c45a71,#d77362,#e58c57,#ec9f51,#f1b04e,#f4be4d,#f5ca4e,#f5d24f,#f5d350,#f5d04f,#f5ca4e,#f4c44e,#f4be4d,#f3b84e,#f2b44e,#f1b04e,#f0ac4f,#f0aa4f,#efa94f,#efa94f,#efa94f,#f0aa4f,#efa94f,#efa650,#ec9e51,#e79255,#e1855a,#d97760,#ce6768,#c45971,#b84b7b,#ac3f85,#a2358d,#962b95,#8a229b calc(100% - 2.8px))"></div><div style="top:285.18px;height:6.29px;background:linear-gradient(90deg,#3c0997 2.8px,#540c9f,#6e13a2,#86209d,#9d3190,#b14481,#c45a71,#d67262,#e38a58,#ec9d52,#f1ae4e,#f3bd4d,#f5c94e,#f5d04f,#f5d24f,#f5cf4f,#f5ca4e,#f4c44e,#f4be4d,#f3b84e,#f2b44e,#f1b04e,#f0ad4e,#f0aa4f,#efa94f,#efa74f,#efa94f,#efa94f,#efa74f,#eea350,#eb9b52,#e79155,#e0845a,#d87661,#ce6768,#c45971,#b84b7b,#ad4084,#a2358d,#972c94,#8b239b calc(100% - 2.8px))"></div><div style="top:290.77px;height:6.29px;background:linear-gradient(90deg,#3b0997 2.8px,#540c9f,#6e13a2,#86209d,#9d3190,#b14481,#c45971,#d47063,#e28759,#eb9a52,#f0ac4f,#f3bb4d,#f4c74e,#f5cf4f,#f5d04f,#f5cd4f,#f5c94e,#f4c34e,#f4be4d,#f3b84e,#f2b44e,#f1b04e,#f0ad4e,#f0aa4f,#efa94f,#efa74f,#efa74f,#efa74f,#efa650,#eda151,#eb9a52,#e69055,#e0845a,#d87661,#ce6768,#c45971,#b84b7b,#ad4084,#a3368c,#972c94,#8b239b calc(100% - 2.8px))"></div><div style="top:296.36px;height:6.29px;background:linear-gradient(90deg,#3b0997 2.8px,#540c9f,#6e13a2,#86209d,#9d3190,#b14481,#c45971,#d46f64,#e1855a,#ea9753,#efa94f,#f3ba4d,#f4c64e,#f5cc4e,#f5cd4f,#f5cc4e,#f5c94e,#f4c34e,#f3bd4d,#f3b84e,#f2b44e,#f1b04e,#f0ad4e,#f0aa4f,#efa94f,#efa74f,#efa74f,#efa650,#eea350,#ec9f51,#ea9753,#e68f56,#e0825b,#d77461,#ce6768,#c45971,#b84b7b,#ad4084,#a3368c,#972c94,#8b239b calc(100% - 2.8px))"></div><div style="top:301.95px;height:6.29px;background:linear-gradient(90deg,#3b0997 2.8px,#540c9f,#6e13a2,#86209d,#9d3190,#b14481,#c35872,#d36e65,#e0825b,#e99554,#efa74f,#f2b74e,#f4c44e,#f5ca4e,#f5cc4e,#f5ca4e,#f4c74e,#f4c34e,#f3bd4d,#f3b84e,#f2b44e,#f1b04e,#f0ad4e,#f0aa4f,#efa94f,#efa74f,#efa650,#eea550,#eda250,#ec9e51,#e99653,#e58c57,#df815b,#d77461,#cd6669,#c45971,#b94d7a,#ad4084,#a3368c,#972c94,#8c249a calc(100% - 2.8px))"></div><div style="top:307.55px;height:6.29px;background:linear-gradient(90deg,#3b0997 2.8px,#540c9f,#6e13a2,#86209d,#9d3190,#b04381,#c25773,#d16b66,#de805c,#e79255,#eea550,#f2b54e,#f4c34e,#f5c94e,#f5ca4e,#f5c94e,#f4c64e,#f4c14e,#f3bd4d,#f3b84e,#f2b44e,#f1b04e,#f0ad4e,#f0aa4f,#efa94f,#efa74f,#efa650,#eea350,#eda151,#eb9b52,#e99554,#e48b57,#de805c,#d77362,#cd6669,#c45971,#b94d7a,#ae4183,#a3368c,#982d93,#8c249a calc(100% - 2.8px))"></div><div style="top:313.14px;height:6.29px;background:linear-gradient(90deg,#3b0997 2.8px,#540c9f,#6e13a2,#87219c,#9d3190,#b04381,#c25773,#d16a67,#dd7e5d,#e69055,#eda250,#f2b34e,#f4c14e,#f4c74e,#f5c94e,#f4c74e,#f4c64e,#f4c14e,#f3bd4d,#f3b84e,#f2b44e,#f1b14e,#f0ad4e,#f0aa4f,#efa94f,#efa650,#eea550,#eea350,#ec9f51,#eb9a52,#e89454,#e38a58,#de7f5c,#d77362,#cd6669,#c45971,#b94d7a,#ae4183,#a4378b,#982d93,#8c249a calc(100% - 2.8px))"></div><div style="top:318.73px;height:6.29px;background:linear-gradient(90deg,#3b0997 2.8px,#540c9f,#6e13a2,#87219c,#9d3190,#b04381,#c15673,#d06967,#dc7c5d,#e58d56,#ec9f51,#f1b14e,#f4be4d,#f4c44e,#f4c74e,#f4c64e,#f4c44e,#f4c14e,#f3bd4d,#f3b84e,#f2b44e,#f1b14e,#f0ad4e,#f0aa4f,#efa94f,#efa650,#eea550,#eda250,#ec9e51,#ea9953,#e79255,#e38a58,#de7f5c,#d77362,#cd6669,#c45971,#b94d7a,#ae4183,#a4378b,#982d93,#8c249a calc(100% - 2.8px))"></div><div style="top:324.32px;height:6.29px;background:linear-gradient(90deg,#3c0997 2.8px,#560d9f,#6e13a2,#87219c,#9e328f,#b04381,#c05574,#cf6868,#db7a5e,#e48b57,#ec9d52,#f1ae4e,#f3bd4d,#f4c34e,#f4c44e,#f4c44e,#f4c34e,#f4c04d,#f3bd4d,#f3b84e,#f2b44e,#f1b14e,#f0ad4e,#f0aa4f,#efa74f,#efa650,#eea550,#eda250,#ec9e51,#ea9953,#e79155,#e38858,#de7f5c,#d67262,#cd6669,#c45971,#b94d7a,#ae4183,#a4378b,#982d93,#8c249a calc(100% - 2.8px))"></div><div style="top:329.91px;height:6.29px;background:linear-gradient(90deg,#3e0a98 2.8px,#560d9f,#6f14a2,#89229c,#9e328f,#b04381,#c05574,#ce6768,#da795f,#e38a58,#eb9a52,#f0ac4f,#f3ba4d,#f4c04d,#f4c34e,#f4c44e,#f4c34e,#f4c04d,#f3bd4d,#f3b84e,#f2b44e,#f1b04e,#f0ad4e,#f0aa4f,#efa74f,#efa650,#eea350,#eda151,#ec9d52,#ea9753,#e69055,#e38858,#dd7e5d,#d67262,#cd6669,#c45971,#ba4e7a,#af4282,#a5388b,#9a2e93,#8e259a calc(100% - 2.8px))"></div><div style="top:335.50px;height:6.29px;background:linear-gradient(90deg,#3f0a98 2.8px,#570da0,#7114a2,#8a229b,#9f338f,#b04381,#bf5475,#cd6669,#da785f,#e28759,#ea9753,#efa94f,#f2b74e,#f4be4d,#f4c14e,#f4c34e,#f4c14e,#f4c04d,#f3bb4d,#f3b84e,#f2b44e,#f1b04e,#f0ad4e,#f0aa4f,#efa74f,#efa650,#eea350,#eda151,#ec9d52,#ea9753,#e69055,#e38858,#dd7e5d,#d67262,#cd6669,#c45a71,#ba4e7a,#af4282,#a5388b,#9a2e93,#8e259a calc(100% - 2.8px))"></div><div style="top:341.10px;height:6.29px;background:linear-gradient(90deg,#410a99 2.8px,#580da0,#7215a2,#8b239b,#9f338f,#b04381,#bf5475,#cd656a,#d87661,#e28659,#e99653,#efa650,#f2b44e,#f3bb4d,#f4c04d,#f4c14e,#f4c14e,#f4be4d,#f3bb4d,#f3b84e,#f2b44e,#f1b04e,#f0ad4e,#f0aa4f,#efa74f,#efa650,#eea350,#eda151,#ec9d52,#ea9753,#e69055,#e38858,#dd7e5d,#d77362,#ce6768,#c45a71,#bb4f79,#b04381,#a6398a,#9b2f92,#8f2699 calc(100% - 2.8px))"></div><div style="top:346.69px;height:6.29px;background:linear-gradient(90deg,#440a9a 2.8px,#5b0ea1,#7316a2,#8c249a,#a0348e,#b04381,#bf5475,#cd656a,#d77461,#e1855a,#e99554,#eea550,#f2b34e,#f3ba4d,#f4be4d,#f4c04d,#f4c04d,#f4be4d,#f3bb4d,#f2b74e,#f2b44e,#f1b04e,#f0ad4e,#f0aa4f,#efa74f,#efa650,#eea350,#eda151,#ec9d52,#ea9753,#e79155,#e38858,#de7f5c,#d77362,#ce6768,#c55b70,#bc5078,#b14481,#a73a89,#9b2f92,#8f2699 calc(100% - 2.8px))"></div><div style="top:352.28px;height:6.29px;background:linear-gradient(90deg,#450a9b 2.8px,#5e0fa1,#7617a1,#8e259a,#a0348e,#b04381,#bf5475,#cc646a,#d77461,#e0845a,#e89454,#eea350,#f1b04e,#f3b84e,#f3bd4d,#f4c04d,#f4c04d,#f4be4d,#f3bb4d,#f2b74e,#f2b44e,#f1b04e,#f0ad4e,#f0aa4f,#efa74f,#efa650,#eea350,#eda151,#ec9e51,#ea9953,#e79155,#e38858,#de7f5c,#d77461,#cf6868,#c65c6f,#bc5177,#b24580,#a83b88,#9c3091,#902798 calc(100% - 2.8px))"></div><div style="top:357.87px;height:6.29px;background:linear-gradient(90deg,#480b9c 2.8px,#610fa1,#7718a1,#8f2699,#a2358d,#b14481,#bf5475,#cc646a,#d77362,#e0825b,#e79255,#eda250,#f1ae4e,#f2b74e,#f3bd4d,#f4be4d,#f4c04d,#f4be4d,#f3bb4d,#f2b74e,#f2b44e,#f1b04e,#f0ad4e,#f0aa4f,#efa74f,#efa650,#eea550,#eda250,#ec9e51,#ea9953,#e79255,#e38a58,#de805c,#d77461,#d06967,#c75d6e,#bd5276,#b3467f,#a83b88,#9d3190,#902798 calc(100% - 2.8px))"></div><div style="top:363.46px;height:6.29px;background:linear-gradient(90deg,#4b0b9d 2.8px,#6210a2,#7a19a0,#902798,#a3368c,#b14481,#bf5475,#cc646a,#d77362,#e0825b,#e79255,#eda151,#f1ae4e,#f2b74e,#f3bb4d,#f4be4d,#f4be4d,#f3bd4d,#f3ba4d,#f2b74e,#f2b34e,#f1b04e,#f0ad4e,#f0aa4f,#efa74f,#efa650,#eea550,#eda250,#ec9f51,#eb9a52,#e89454,#e48b57,#df815b,#d87661,#d16a67,#c85e6e,#be5376,#b4477e,#a93c87,#9e328f,#912898 calc(100% - 2.8px))"></div><div style="top:369.05px;height:6.29px;background:linear-gradient(90deg,#500c9e 2.8px,#6711a2,#7d1aa0,#912898,#a3368c,#b24580,#bf5475,#cc646a,#d77362,#e0825b,#e79155,#eda151,#f0ad4e,#f2b74e,#f3bb4d,#f4be4d,#f4be4d,#f3bd4d,#f3ba4d,#f2b74e,#f2b34e,#f1b04e,#f0ad4e,#f0aa4f,#efa74f,#efa650,#eea550,#eea350,#eda151,#eb9b52,#e99554,#e58c57,#e0825b,#d97760,#d16b66,#c9606d,#bf5475,#b5487d,#ab3e86,#9f338f,#922997 calc(100% - 2.8px))"></div><div style="top:374.65px;height:6.29px;background:linear-gradient(90deg,#530c9f 2.8px,#6a12a2,#7f1c9f,#922997,#a4378b,#b24580,#c05574,#cc646a,#d77362,#e0825b,#e79155,#eda151,#f0ad4e,#f2b74e,#f3bb4d,#f4be4d,#f4be4d,#f3bd4d,#f3ba4d,#f2b54e,#f2b34e,#f1b04e,#f0ac4f,#f0aa4f,#efa74f,#efa650,#efa650,#eea550,#eda250,#ec9d52,#e99653,#e58d56,#e0845a,#da785f,#d26d65,#c9616c,#c05574,#b6497d,#ac3f85,#a0348e,#942a96 calc(100% - 2.8px))"></div><div style="top:380.24px;height:6.29px;background:linear-gradient(90deg,#560d9f 2.8px,#6c13a2,#811d9f,#952a95,#a5388b,#b3467f,#c15673,#cd656a,#d77362,#e0825b,#e79155,#eda151,#f1ae4e,#f2b74e,#f3bb4d,#f3bd4d,#f3bd4d,#f3bb4d,#f3b84e,#f2b54e,#f2b34e,#f1ae4e,#f0ac4f,#f0aa4f,#efa74f,#efa650,#efa650,#eea550,#eea350,#ec9e51,#ea9753,#e69055,#e1855a,#da795f,#d36e65,#ca626c,#c15673,#b74a7c,#ad4084,#a2358d,#942a96 calc(100% - 2.8px))"></div><div style="top:385.83px;height:6.29px;background:linear-gradient(90deg,#5a0ea0 2.8px,#6f14a2,#831e9e,#962b95,#a6398a,#b4477e,#c15673,#cd6669,#d77461,#e0845a,#e79255,#eda250,#f1ae4e,#f2b74e,#f3bb4d,#f3bd4d,#f3bd4d,#f3bb4d,#f3b84e,#f2b54e,#f1b14e,#f1ae4e,#f0ac4f,#f0aa4f,#efa74f,#efa74f,#efa74f,#efa650,#eea550,#eda151,#eb9a52,#e79155,#e28659,#db7a5e,#d46f64,#cb636b,#c25773,#b94d7a,#ae4183,#a2358d,#952a95 calc(100% - 2.8px))"></div><div style="top:391.42px;height:6.29px;background:linear-gradient(90deg,#5d0ea1 2.8px,#7215a2,#851f9d,#972c94,#a73a89,#b5487d,#c25773,#ce6768,#d87661,#e1855a,#e89454,#eea350,#f1b04e,#f3b84e,#f3bb4d,#f3bd4d,#f3bd4d,#f3ba4d,#f3b84e,#f2b44e,#f1b14e,#f1ae4e,#f0ac4f,#f0aa4f,#efa74f,#efa74f,#efa74f,#efa74f,#efa650,#eea350,#eb9b52,#e79255,#e38858,#dc7c5d,#d47063,#cc646a,#c35872,#ba4e7a,#af4282,#a3368c,#962b95 calc(100% - 2.8px))"></div><div style="top:397.01px;height:6.29px;background:linear-gradient(90deg,#600fa1 2.8px,#7516a1,#87219c,#982d93,#a83b88,#b6497d,#c35872,#cf6868,#d97760,#e28659,#e99554,#eea550,#f1b14e,#f3b84e,#f3bb4d,#f3bd4d,#f3bb4d,#f3ba4d,#f2b74e,#f2b44e,#f1b14e,#f1ae4e,#f0ac4f,#f0aa4f,#efa94f,#efa74f,#efa94f,#f0aa4f,#efa94f,#eea550,#ec9e51,#e99554,#e38a58,#dd7e5d,#d57163,#cd656a,#c45971,#bb4f79,#af4282,#a4378b,#962b95 calc(100% - 2.8px))"></div><div style="top:402.60px;height:6.29px;background:linear-gradient(90deg,#6210a2 2.8px,#7617a1,#89229c,#9a2e93,#a93c87,#b74a7c,#c45971,#d06967,#da795f,#e28759,#e99653,#efa650,#f2b34e,#f3ba4d,#f3bd4d,#f3bd4d,#f3bb4d,#f3ba4d,#f2b74e,#f2b34e,#f1b04e,#f0ad4e,#f0ac4f,#f0aa4f,#efa94f,#efa94f,#f0aa4f,#f0ac4f,#f0ac4f,#efa74f,#eda151,#e99653,#e48b57,#de7f5c,#d67262,#cd6669,#c45a71,#bb4f79,#b04381,#a4378b,#972c94 calc(100% - 2.8px))"></div><div style="top:408.20px;height:6.29px;background:linear-gradient(90deg,#6410a2 2.8px,#7918a1,#8b239b,#9b2f92,#aa3d86,#b84b7b,#c55b70,#d16b66,#dc7b5e,#e38a58,#ea9953,#efa94f,#f2b54e,#f3bb4d,#f3bd4d,#f3bd4d,#f3bb4d,#f3b84e,#f2b54e,#f2b34e,#f1b04e,#f0ad4e,#f0ac4f,#f0aa4f,#efa94f,#efa94f,#f0ac4f,#f0ad4e,#f0ad4e,#f0aa4f,#eea350,#ea9953,#e58d56,#df815b,#d77461,#ce6768,#c55b70,#bc5078,#b14481,#a5388b,#972c94 calc(100% - 2.8px))"></div><div style="top:413.79px;height:6.29px;background:linear-gradient(90deg,#6711a2 2.8px,#7a19a0,#8c249a,#9d3190,#ab3e86,#b94d7a,#c65c6f,#d36e65,#dd7e5d,#e58d56,#ec9d52,#f0ac4f,#f2b74e,#f3bd4d,#f3bd4d,#f3bb4d,#f3ba4d,#f2b74e,#f2b44e,#f1b14e,#f1b04e,#f0ad4e,#f0ac4f,#f0aa4f,#efa94f,#f0aa4f,#f0ad4e,#f1b04e,#f1b04e,#f0ad4e,#efa650,#eb9b52,#e68f56,#e0825b,#d87661,#cf6868,#c65c6f,#bc5177,#b14481,#a5388b,#982d93 calc(100% - 2.8px))"></div><div style="top:419.38px;height:6.29px;background:linear-gradient(90deg,#6811a2 2.8px,#7b1aa0,#8e259a,#9e328f,#ac3f85,#ba4e7a,#c85e6e,#d47063,#de805c,#e69055,#ec9f51,#f1ae4e,#f3ba4d,#f4be4d,#f3bd4d,#f3bb4d,#f3ba4d,#f2b74e,#f2b44e,#f1b14e,#f1ae4e,#f0ad4e,#f0ac4f,#f0aa4f,#f0aa4f,#f0aa4f,#f1ae4e,#f2b34e,#f2b34e,#f1b04e,#efa74f,#ec9e51,#e79155,#e1855a,#d97760,#d06967,#c65c6f,#bc5177,#b14481,#a5388b,#982d93 calc(100% - 2.8px))"></div><div style="top:424.97px;height:6.29px;background:linear-gradient(90deg,#6811a2 2.8px,#7d1aa0,#8f2699,#9e328f,#ad4084,#bc5078,#c9616c,#d67262,#e0825b,#e89454,#eea350,#f1b14e,#f3bd4d,#f4c04d,#f3bd4d,#f3bb4d,#f3b84e,#f2b54e,#f2b34e,#f1b04e,#f0ad4e,#f0ac4f,#f0ac4f,#f0aa4f,#f0aa4f,#f0ac4f,#f1b04e,#f2b44e,#f2b54e,#f2b34e,#f0aa4f,#ec9f51,#e89454,#e28659,#da785f,#d16a67,#c75d6e,#bc5177,#b14481,#a6398a,#982d93 calc(100% - 2.8px))"></div><div style="top:430.56px;height:6.29px;background:linear-gradient(90deg,#6a12a2 2.8px,#7d1aa0,#8f2699,#9f338f,#ae4183,#bc5177,#cb636b,#d77461,#e28659,#e99653,#efa650,#f2b44e,#f4be4d,#f4c04d,#f3bd4d,#f3bb4d,#f3b84e,#f2b54e,#f1b14e,#f1ae4e,#f0ad4e,#f0ac4f,#f0ac4f,#f0ac4f,#f0ac4f,#f0ad4e,#f1b14e,#f2b74e,#f3ba4d,#f2b54e,#f0ad4e,#eda250,#e99653,#e38858,#db7a5e,#d16b66,#c75d6e,#bc5177,#b14481,#a5388b,#982d93 calc(100% - 2.8px))"></div><div style="top:436.16px;height:6.29px;background:linear-gradient(90deg,#6b12a2 2.8px,#7e1b9f,#902798,#a0348e,#af4282,#bd5276,#cc646a,#d97760,#e38858,#eb9a52,#efa94f,#f2b74e,#f4c04d,#f4c14e,#f3bd4d,#f3bb4d,#f2b74e,#f2b44e,#f1b14e,#f1ae4e,#f0ac4f,#f0ac4f,#f0ac4f,#f0ac4f,#f0ad4e,#f1b04e,#f2b44e,#f3ba4d,#f3bb4d,#f3b84e,#f1b04e,#eea550,#ea9753,#e38a58,#dc7b5e,#d26d65,#c75d6e,#bc5177,#b14481,#a5388b,#982d93 calc(100% - 2.8px))"></div><div style="top:441.75px;height:6.29px;background:linear-gradient(90deg,#6b12a2 2.8px,#7e1b9f,#902798,#a0348e,#b04381,#bf5475,#cd6669,#da795f,#e48b57,#ec9d52,#f0ac4f,#f3ba4d,#f4c14e,#f4c14e,#f4be4d,#f3ba4d,#f2b74e,#f2b34e,#f1b04e,#f0ad4e,#f0ac4f,#f0aa4f,#f0ac4f,#f0ad4e,#f1ae4e,#f2b34e,#f3b84e,#f3bd4d,#f4be4d,#f3ba4d,#f1b14e,#efa74f,#eb9a52,#e48b57,#dc7c5d,#d26d65,#c75d6e,#bc5078,#b04381,#a5388b,#982d93 calc(100% - 2.8px))"></div><div style="top:447.34px;height:6.29px;background:linear-gradient(90deg,#6b12a2 2.8px,#7e1b9f,#902798,#a0348e,#b14481,#c05574,#cf6868,#dc7b5e,#e68f56,#ec9f51,#f1ae4e,#f3bb4d,#f4c34e,#f4c34e,#f4be4d,#f3ba4d,#f2b54e,#f1b14e,#f1ae4e,#f0ac4f,#f0aa4f,#f0aa4f,#f0aa4f,#f0ad4e,#f1b04e,#f2b44e,#f3bb4d,#f4c04d,#f4c14e,#f3bd4d,#f2b44e,#efa94f,#eb9b52,#e58d56,#dc7c5d,#d26d65,#c75d6e,#bc5078,#b04381,#a4378b,#972c94 calc(100% - 2.8px))"></div><div style="top:452.93px;height:6.29px;background:linear-gradient(90deg,#6b12a2 2.8px,#7e1b9f,#902798,#a2358d,#b14481,#c15673,#d06967,#dc7c5d,#e69055,#eda250,#f1b14e,#f3bd4d,#f4c44e,#f4c44e,#f4c04d,#f3ba4d,#f2b54e,#f1b04e,#f0ac4f,#f0aa4f,#efa94f,#efa94f,#f0aa4f,#f0ad4e,#f1b14e,#f2b74e,#f4be4d,#f4c34e,#f4c34e,#f3bd4d,#f2b54e,#f0aa4f,#ec9d52,#e58d56,#dd7e5d,#d26d65,#c75d6e,#bb4f79,#af4282,#a4378b,#972c94 calc(100% - 2.8px))"></div><div style="top:458.52px;height:6.29px;background:linear-gradient(90deg,#6b12a2 2.8px,#7e1b9f,#902798,#a2358d,#b24580,#c25773,#d16a67,#de7f5c,#e79255,#eea350,#f2b34e,#f4be4d,#f4c64e,#f4c64e,#f4c04d,#f3ba4d,#f2b44e,#f1ae4e,#f0aa4f,#efa74f,#efa74f,#efa74f,#f0aa4f,#f1ae4e,#f2b44e,#f3ba4d,#f4c04d,#f4c44e,#f4c34e,#f4be4d,#f2b74e,#f0ac4f,#ec9e51,#e68f56,#dd7e5d,#d26d65,#c65c6f,#ba4e7a,#ae4183,#a3368c,#962b95 calc(100% - 2.8px))"></div><div style="top:464.11px;height:6.29px;background:linear-gradient(90deg,#6b12a2 2.8px,#7e1b9f,#902798,#a2358d,#b24580,#c25773,#d16b66,#de805c,#e89454,#eea550,#f2b44e,#f4c04d,#f4c64e,#f4c64e,#f4c04d,#f3b84e,#f2b34e,#f0ad4e,#efa94f,#efa650,#eea550,#efa650,#efa94f,#f1ae4e,#f2b54e,#f3bd4d,#f4c14e,#f4c44e,#f4c44e,#f4be4d,#f2b74e,#f0ac4f,#ec9e51,#e68f56,#dc7c5d,#d16b66,#c55b70,#b94d7a,#ad4084,#a2358d,#962b95 calc(100% - 2.8px))"></div><div style="top:469.71px;height:6.29px;background:linear-gradient(90deg,#6c13a2 2.8px,#7e1b9f,#902798,#a2358d,#b24580,#c35872,#d16b66,#df815b,#e99554,#efa650,#f2b54e,#f4c04d,#f4c64e,#f4c64e,#f4c04d,#f3b84e,#f1b14e,#f0ac4f,#efa650,#eea350,#eea350,#eea550,#efa94f,#f1ae4e,#f2b54e,#f3bd4d,#f4c14e,#f4c44e,#f4c34e,#f4be4d,#f2b74e,#f0ac4f,#ec9e51,#e68f56,#dc7c5d,#d16a67,#c45a71,#b84b7b,#ac3f85,#a2358d,#952a95 calc(100% - 2.8px))"></div><div style="top:475.30px;height:6.29px;background:linear-gradient(90deg,#6c13a2 2.8px,#7e1b9f,#902798,#a0348e,#b24580,#c35872,#d16b66,#df815b,#e99554,#efa650,#f2b54e,#f4c04d,#f4c64e,#f4c44e,#f4be4d,#f2b74e,#f1ae4e,#efa94f,#eea550,#eda250,#eda250,#eea350,#efa74f,#f0ad4e,#f2b54e,#f3bd4d,#f4c14e,#f4c34e,#f4c34e,#f4be4d,#f2b54e,#f0ac4f,#ec9e51,#e58d56,#db7a5e,#d06967,#c45971,#b74a7c,#ab3e86,#a0348e,#942a96 calc(100% - 2.8px))"></div><div style="top:480.89px;height:6.29px;background:linear-gradient(90deg,#6c13a2 2.8px,#7e1b9f,#902798,#a0348e,#b14481,#c25773,#d16b66,#df815b,#e99554,#efa650,#f2b54e,#f4c04d,#f4c44e,#f4c34e,#f3bd4d,#f2b54e,#f0ad4e,#efa650,#eda250,#ec9f51,#ec9f51,#eda151,#efa650,#f0ac4f,#f2b44e,#f3bb4d,#f4c04d,#f4c14e,#f4c14e,#f3bd4d,#f2b54e,#f0aa4f,#ec9d52,#e48b57,#da785f,#ce6768,#c25773,#b6497d,#aa3d86,#9f338f,#922997 calc(100% - 2.8px))"></div><div style="top:486.48px;height:6.29px;background:linear-gradient(90deg,#6c13a2 2.8px,#7e1b9f,#902798,#a0348e,#b14481,#c25773,#d16b66,#de805c,#e89454,#efa650,#f2b44e,#f4be4d,#f4c34e,#f4c14e,#f3bb4d,#f2b34e,#f0aa4f,#eea350,#ec9f51,#ec9d52,#ec9d52,#ec9f51,#eea350,#f0aa4f,#f1b14e,#f3b84e,#f3bd4d,#f4c04d,#f4be4d,#f3ba4d,#f2b44e,#efa94f,#eb9a52,#e38a58,#d87661,#cd656a,#c05574,#b4477e,#a93c87,#9e328f,#922997 calc(100% - 2.8px))"></div><div style="top:492.07px;height:6.29px;background:linear-gradient(90deg,#6c13a2 2.8px,#7e1b9f,#902798,#a2358d,#b14481,#c25773,#d16a67,#de7f5c,#e79255,#eea550,#f2b34e,#f3bd4d,#f4c14e,#f4c04d,#f3b84e,#f1b04e,#efa74f,#eda151,#ec9d52,#eb9a52,#eb9a52,#ec9d52,#eda151,#efa74f,#f1ae4e,#f2b54e,#f3ba4d,#f3bd4d,#f3bb4d,#f3b84e,#f1b14e,#efa74f,#ea9953,#e28659,#d77362,#ca626c,#be5376,#b3467f,#a83b88,#9d3190,#912898 calc(100% - 2.8px))"></div><div style="top:497.66px;height:6.29px;background:linear-gradient(90deg,#6c13a2 2.8px,#7e1b9f,#902798,#a2358d,#b14481,#c25773,#d16a67,#dd7e5d,#e79155,#eda250,#f1b14e,#f3bb4d,#f4c04d,#f3bd4d,#f2b74e,#f0ad4e,#eea550,#ec9e51,#eb9a52,#ea9753,#ea9753,#eb9a52,#ec9f51,#eea550,#f0ac4f,#f2b34e,#f2b74e,#f3ba4d,#f3b84e,#f2b54e,#f1ae4e,#eea550,#e99653,#e0845a,#d47063,#c9606d,#bc5177,#b14481,#a6398a,#9b2f92,#902798 calc(100% - 2.8px))"></div><div style="top:503.26px;height:6.29px;background:linear-gradient(90deg,#6b12a2 2.8px,#7e1b9f,#902798,#a2358d,#b14481,#c15673,#cf6868,#dc7b5e,#e68f56,#eda151,#f1ae4e,#f3b84e,#f3bd4d,#f3ba4d,#f2b44e,#f0aa4f,#eda250,#eb9b52,#e99653,#e99554,#e99554,#ea9753,#eb9b52,#eda250,#efa94f,#f1ae4e,#f2b34e,#f2b54e,#f2b54e,#f2b34e,#f0ac4f,#eda250,#e89454,#df815b,#d36e65,#c65c6f,#bb4f79,#af4282,#a5388b,#9a2e93,#8e259a calc(100% - 2.8px))"></div><div style="top:508.85px;height:6.29px;background:linear-gradient(90deg,#6b12a2 2.8px,#7e1b9f,#902798,#a2358d,#b14481,#c15673,#ce6768,#da795f,#e58c57,#ec9e51,#f0ad4e,#f2b54e,#f3ba4d,#f2b74e,#f1b04e,#efa74f,#ec9e51,#ea9753,#e89454,#e79155,#e79155,#e99554,#ea9953,#ec9e51,#eea550,#f0aa4f,#f1ae4e,#f1b14e,#f1b14e,#f1ae4e,#efa94f,#ec9f51,#e69055,#dd7e5d,#d16a67,#c45971,#b84b7b,#ad4084,#a3368c,#982d93,#8c249a calc(100% - 2.8px))"></div><div style="top:514.44px;height:6.29px;background:linear-gradient(90deg,#6b12a2 2.8px,#7d1aa0,#8f2699,#a0348e,#b14481,#c05574,#cd6669,#d97760,#e38a58,#eb9b52,#f0aa4f,#f2b44e,#f2b74e,#f2b44e,#f0ad4e,#eea350,#eb9a52,#e99554,#e69055,#e68f56,#e68f56,#e79155,#e99653,#eb9b52,#eda151,#efa650,#f0aa4f,#f0ad4e,#f0ad4e,#f0ac4f,#eea550,#eb9b52,#e58c57,#db7a5e,#ce6768,#c25773,#b6497d,#ab3e86,#a0348e,#962b95,#8b239b calc(100% - 2.8px))"></div><div style="top:520.03px;height:6.29px;background:linear-gradient(90deg,#6a12a2 2.8px,#7d1aa0,#8f2699,#a0348e,#b04381,#bf5475,#cc646a,#d77461,#e28759,#ea9953,#efa74f,#f1b04e,#f2b44e,#f1b14e,#efa94f,#ec9f51,#ea9753,#e79155,#e58d56,#e58c57,#e58c57,#e68f56,#e79255,#ea9753,#ec9d52,#eda151,#eea550,#efa74f,#efa94f,#efa74f,#eda151,#ea9753,#e38858,#d97760,#cc646a,#be5376,#b3467f,#a93c87,#9f338f,#952a95,#89229c calc(100% - 2.8px))"></div><div style="top:525.62px;height:6.29px;background:linear-gradient(90deg,#6811a2 2.8px,#7b1aa0,#8e259a,#9f338f,#b04381,#be5376,#ca626c,#d67262,#e0845a,#e99653,#eea350,#f0ad4e,#f1b04e,#f0ad4e,#efa650,#ec9d52,#e89454,#e58d56,#e38a58,#e38858,#e38a58,#e48b57,#e68f56,#e89454,#ea9753,#ec9d52,#ec9f51,#eea350,#eea550,#eda250,#ec9d52,#e89454,#e1855a,#d77362,#c9616c,#bc5078,#b04381,#a6398a,#9d3190,#922997,#87219c calc(100% - 2.8px))"></div><div style="top:531.21px;height:6.29px;background:linear-gradient(90deg,#6711a2 2.8px,#7a19a0,#8c249a,#9e328f,#af4282,#bd5276,#c9606d,#d46f64,#df815b,#e79255,#eda151,#f0aa4f,#f0ad4e,#f0aa4f,#eda250,#ea9953,#e69055,#e48b57,#e28759,#e28659,#e28659,#e38858,#e58c57,#e69055,#e89454,#ea9753,#eb9b52,#ec9e51,#ec9f51,#ec9e51,#ea9953,#e68f56,#df815b,#d46f64,#c65c6f,#b94d7a,#ad4084,#a4378b,#9a2e93,#902798,#851f9d calc(100% - 2.8px))"></div><div style="top:536.81px;height:6.29px;background:linear-gradient(90deg,#6510a2 2.8px,#7918a1,#8b239b,#9d3190,#ad4084,#bc5078,#c85e6e,#d26d65,#de7f5c,#e69055,#ec9e51,#efa650,#efa94f,#efa650,#ec9e51,#e99554,#e58c57,#e28759,#e0845a,#e0825b,#e0845a,#e1855a,#e38858,#e58c57,#e69055,#e79255,#e99653,#ea9953,#eb9a52,#ea9953,#e89454,#e38a58,#dc7c5d,#d16b66,#c45971,#b6497d,#aa3d86,#a0348e,#972c94,#8e259a,#821d9e calc(100% - 2.8px))"></div><div style="top:542.40px;height:6.29px;background:linear-gradient(90deg,#6210a2 2.8px,#7617a1,#8a229b,#9b2f92,#ab3e86,#ba4e7a,#c65c6f,#d16a67,#dc7c5d,#e58c57,#eb9a52,#eda250,#eea550,#eda250,#eb9a52,#e79155,#e38a58,#e0845a,#df815b,#de805c,#de805c,#e0825b,#e1855a,#e38858,#e48b57,#e68f56,#e79155,#e89454,#e99554,#e89454,#e58d56,#e1855a,#da785f,#ce6768,#c05574,#b3467f,#a83b88,#9d3190,#942a96,#8a229b,#7f1c9f calc(100% - 2.8px))"></div><div style="top:547.99px;height:6.29px;background:linear-gradient(90deg,#610fa1 2.8px,#7516a1,#87219c,#9a2e93,#a93c87,#b84b7b,#c45a71,#d06967,#da795f,#e38858,#e99653,#ec9e51,#eda151,#ec9e51,#e99653,#e58d56,#e28659,#de805c,#dd7e5d,#dc7c5d,#dc7c5d,#de7f5c,#df815b,#e1855a,#e28759,#e38a58,#e58c57,#e68f56,#e69055,#e58d56,#e38858,#de805c,#d77362,#cb636b,#bc5177,#b04381,#a5388b,#9b2f92,#912898,#87219c,#7d1aa0 calc(100% - 2.8px))"></div><div style="top:553.58px;height:6.29px;background:linear-gradient(90deg,#600fa1 2.8px,#7316a2,#851f9d,#962b95,#a73a89,#b5487d,#c25773,#cd6669,#d97760,#e1855a,#e79155,#ea9953,#ec9d52,#ea9953,#e79155,#e38a58,#e0825b,#dd7e5d,#db7a5e,#da795f,#db7a5e,#dc7b5e,#dd7e5d,#de805c,#e0825b,#e1855a,#e28759,#e38a58,#e38a58,#e38858,#e0825b,#db7a5e,#d46f64,#c85e6e,#ba4e7a,#ac3f85,#a2358d,#972c94,#8e259a,#831e9e,#7918a1 calc(100% - 2.8px))"></div><div style="top:559.17px;height:6.29px;background:linear-gradient(90deg,#5e0fa1 2.8px,#7114a2,#831e9e,#942a96,#a4378b,#b3467f,#c05574,#cc646a,#d77362,#df815b,#e58c57,#e89454,#ea9753,#e89454,#e58d56,#e1855a,#de7f5c,#db7a5e,#d97760,#d97760,#d97760,#da785f,#db7a5e,#dc7c5d,#de7f5c,#de805c,#e0825b,#e0845a,#e1855a,#e0825b,#dc7c5d,#d77461,#d06967,#c45a71,#b6497d,#a93c87,#9e328f,#942a96,#8a229b,#7f1c9f,#7617a1 calc(100% - 2.8px))"></div><div style="top:564.77px;height:6.29px;background:linear-gradient(90deg,#5b0ea1 2.8px,#6f14a2,#811d9f,#912898,#a0348e,#b04381,#bd5276,#c9616c,#d47063,#dc7c5d,#e28759,#e68f56,#e79255,#e68f56,#e38858,#df815b,#db7a5e,#d97760,#d77362,#d77362,#d77362,#d77461,#d97760,#da795f,#dc7b5e,#dc7c5d,#dd7e5d,#de7f5c,#de7f5c,#dc7b5e,#d87661,#d36e65,#cc646a,#c05574,#b24580,#a6398a,#9a2e93,#902798,#86209d,#7d1aa0,#7215a2 calc(100% - 2.8px))"></div><div style="top:570.36px;height:6.29px;background:linear-gradient(90deg,#5a0ea0 2.8px,#6c13a2,#7e1b9f,#8e259a,#9d3190,#ac3f85,#bb4f79,#c75d6e,#d16b66,#da785f,#df815b,#e38858,#e58c57,#e38a58,#e0845a,#dc7c5d,#d97760,#d77362,#d57163,#d47063,#d47063,#d67262,#d77362,#d87661,#d97760,#da785f,#da795f,#db7a5e,#da795f,#d87661,#d46f64,#ce6768,#c75d6e,#bc5078,#af4282,#a3368c,#962b95,#8c249a,#821d9e,#7918a1,#6e13a2 calc(100% - 2.8px))"></div><div style="top:575.95px;height:6.29px;background:linear-gradient(90deg,#580da0 2.8px,#6a12a2,#7a19a0,#8a229b,#9a2e93,#a93c87,#b74a7c,#c45971,#ce6768,#d67262,#dc7b5e,#e0825b,#e1855a,#e0845a,#de7f5c,#da785f,#d77362,#d46f64,#d36e65,#d26d65,#d26d65,#d46f64,#d47063,#d67262,#d77362,#d77362,#d77461,#d87661,#d77362,#d47063,#d06967,#c9616c,#c25773,#b74a7c,#ab3e86,#9e328f,#922997,#87219c,#7e1b9f,#7516a1,#6b12a2 calc(100% - 2.8px))"></div><div style="top:581.54px;height:6.29px;background:linear-gradient(90deg,#560d9f 2.8px,#6811a2,#7718a1,#87219c,#952a95,#a5388b,#b3467f,#bf5475,#ca626c,#d26d65,#d87661,#dc7b5e,#de7f5c,#dd7e5d,#da795f,#d77362,#d46f64,#d16b66,#d06967,#d06967,#d06967,#d16a67,#d26d65,#d46f64,#d46f64,#d47063,#d47063,#d47063,#d46f64,#d06967,#cb636b,#c45971,#bc5177,#b3467f,#a73a89,#9b2f92,#8f2699,#831e9e,#7a19a0,#7114a2,#6711a2 calc(100% - 2.8px))"></div><div style="top:587.13px;height:6.29px;background:linear-gradient(90deg,#540c9f 2.8px,#6510a2,#7516a1,#831e9e,#912898,#a0348e,#ae4183,#bc5078,#c65c6f,#cd6669,#d46f64,#d77461,#da785f,#d97760,#d77362,#d46f64,#d16a67,#cf6868,#cd6669,#cd6669,#cd6669,#ce6768,#d06967,#d16b66,#d16b66,#d16b66,#d16b66,#d16b66,#d06967,#cc646a,#c65c6f,#be5376,#b74a7c,#ae4183,#a3368c,#962b95,#8a229b,#7f1c9f,#7617a1,#6c13a2,#6410a2 calc(100% - 2.8px))"></div><div style="top:592.72px;height:6.29px;background:linear-gradient(90deg,#510c9e 2.8px,#6210a2,#7215a2,#7f1c9f,#8e259a,#9b2f92,#a93c87,#b6497d,#c15673,#c9616c,#cf6868,#d36e65,#d57163,#d57163,#d46f64,#d16a67,#ce6768,#cc646a,#cb636b,#cb636b,#cb636b,#cc646a,#cd6669,#ce6768,#cf6868,#ce6768,#ce6768,#cd6669,#cc646a,#c85e6e,#c25773,#ba4e7a,#b24580,#a93c87,#9e328f,#922997,#86209d,#7b1aa0,#7215a2,#6811a2,#600fa1 calc(100% - 2.8px))"></div><div style="top:598.32px;height:6.29px;background:linear-gradient(90deg,#4e0c9e 2.8px,#600fa1,#6e13a2,#7b1aa0,#89229c,#962b95,#a4378b,#b14481,#bc5177,#c45971,#ca626c,#ce6768,#d16a67,#d16b66,#d06967,#cd6669,#cb636b,#c9616c,#c9606d,#c85e6e,#c9606d,#c9616c,#ca626c,#cc646a,#cc646a,#cc646a,#cb636b,#ca626c,#c85e6e,#c45971,#bd5276,#b5487d,#ae4183,#a5388b,#9a2e93,#8e259a,#811d9f,#7617a1,#6c13a2,#6410a2,#5d0ea1 calc(100% - 2.8px))"></div><div style="top:603.91px;height:6.29px;background:linear-gradient(90deg,#4d0b9d 2.8px,#5d0ea1,#6b12a2,#7718a1,#851f9d,#912898,#9e328f,#ab3e86,#b6497d,#be5376,#c55b70,#ca626c,#cd656a,#cd6669,#cd656a,#ca626c,#c85e6e,#c75d6e,#c65c6f,#c55b70,#c55b70,#c65c6f,#c85e6e,#c9616c,#c9616c,#c9606d,#c85e6e,#c65c6f,#c45971,#bf5475,#ba4e7a,#b14481,#a93c87,#a0348e,#952a95,#89229c,#7d1aa0,#7215a2,#6811a2,#610fa1,#580da0 calc(100% - 2.8px))"></div><div style="top:609.50px;height:6.29px;background:linear-gradient(90deg,#4a0b9c 2.8px,#580da0,#6711a2,#7516a1,#811d9f,#8c249a,#972c94,#a5388b,#b04381,#b84b7b,#bf5475,#c55b70,#c9606d,#c9616c,#c9606d,#c75d6e,#c55b70,#c45971,#c35872,#c35872,#c35872,#c45971,#c55b70,#c65c6f,#c75d6e,#c65c6f,#c45a71,#c35872,#c05574,#bc5078,#b6497d,#ae4183,#a6398a,#9c3091,#902798,#831e9e,#7718a1,#6c13a2,#6410a2,#5d0ea1,#560d9f calc(100% - 2.8px))"></div><div style="top:615.09px;height:6.29px;background:linear-gradient(90deg,#450a9b 2.8px,#560d9f,#6410a2,#7114a2,#7d1aa0,#87219c,#922997,#9e328f,#a93c87,#b14481,#ba4e7a,#c05574,#c45971,#c55b70,#c45a71,#c45971,#c25773,#c15673,#c05574,#c05574,#c05574,#c15673,#c25773,#c45971,#c45971,#c35872,#c25773,#bf5475,#bc5078,#b84b7b,#b24580,#aa3d86,#a2358d,#972c94,#8b239b,#7e1b9f,#7316a2,#6811a2,#600fa1,#580da0,#510c9e calc(100% - 2.8px))"></div><div style="top:620.68px;height:6.29px;background:linear-gradient(90deg,#420a9a 2.8px,#510c9e,#600fa1,#6c13a2,#7918a1,#831e9e,#8e259a,#982d93,#a2358d,#ab3e86,#b4477e,#bb4f79,#bf5475,#c15673,#c15673,#bf5475,#be5376,#bd5276,#bd5276,#bd5276,#bc5177,#bd5276,#bf5475,#c15673,#c15673,#c05574,#be5376,#bc5078,#b84b7b,#b4477e,#ae4183,#a73a89,#9e328f,#922997,#86209d,#7a19a0,#6e13a2,#6410a2,#5b0ea1,#540c9f,#4e0c9e calc(100% - 2.8px))"></div><div style="top:626.27px;height:6.29px;background:linear-gradient(90deg,#3f0a98 2.8px,#4e0c9e,#5d0ea1,#6a12a2,#7516a1,#7f1c9f,#89229c,#922997,#9b2f92,#a4378b,#ae4183,#b6497d,#bc5078,#bd5276,#bd5276,#bc5078,#bb4f79,#bb4f79,#bb4f79,#ba4e7a,#ba4e7a,#bb4f79,#bc5177,#bd5276,#be5376,#bd5276,#bb4f79,#b84b7b,#b4477e,#b04381,#aa3d86,#a4378b,#9a2e93,#8e259a,#811d9f,#7516a1,#6811a2,#5e0fa1,#570da0,#500c9e,#4a0b9c calc(100% - 2.8px))"></div><div style="top:631.87px;height:6.29px;background:linear-gradient(90deg,#3c0997 2.8px,#4b0b9d,#580da0,#6510a2,#7114a2,#7b1aa0,#831e9e,#8c249a,#942a96,#9d3190,#a83b88,#b14481,#b74a7c,#b94d7a,#b94d7a,#b84b7b,#b74a7c,#b74a7c,#b74a7c,#b74a7c,#b6497d,#b84b7b,#ba4e7a,#bb4f79,#bc5078,#ba4e7a,#b84b7b,#b4477e,#b04381,#ac3f85,#a73a89,#9f338f,#952a95,#89229c,#7b1aa0,#6f14a2,#6210a2,#5a0ea0,#530c9f,#4b0b9d,#470b9b calc(100% - 2.8px))"></div><div style="top:637.46px;height:6.29px;background:linear-gradient(90deg,#380995 2.8px,#470b9b,#560d9f,#6210a2,#6e13a2,#7718a1,#7f1c9f,#87219c,#8e259a,#972c94,#a3368c,#ac3f85,#b24580,#b5487d,#b5487d,#b4477e,#b4477e,#b4477e,#b4477e,#b4477e,#b3467f,#b4477e,#b6497d,#b84b7b,#b84b7b,#b74a7c,#b4477e,#b14481,#ac3f85,#a83b88,#a3368c,#9c3091,#912898,#831e9e,#7617a1,#6a12a2,#5e0fa1,#540c9f,#4d0b9d,#470b9b,#420a9a calc(100% - 2.8px))"></div><div style="top:643.05px;height:6.29px;background:linear-gradient(90deg,#350994 2.8px,#440a9a,#510c9e,#5e0fa1,#6b12a2,#7516a1,#7b1aa0,#821d9e,#89229c,#912898,#9d3190,#a73a89,#ad4084,#b14481,#b14481,#b04381,#b04381,#b04381,#b04381,#b04381,#b04381,#b14481,#b3467f,#b5487d,#b5487d,#b4477e,#b14481,#ad4084,#a93c87,#a4378b,#9e328f,#972c94,#8c249a,#7e1b9f,#6f14a2,#6210a2,#580da0,#500c9e,#480b9c,#420a9a,#3e0a98 calc(100% - 2.8px))"></div><div style="top:648.64px;height:6.29px;background:linear-gradient(90deg,#310893 2.8px,#3f0a98,#4e0c9e,#5b0ea1,#6711a2,#7114a2,#7918a1,#7e1b9f,#831e9e,#8c249a,#972c94,#a2358d,#a93c87,#ac3f85,#ad4084,#ad4084,#ac3f85,#ad4084,#ad4084,#ad4084,#ad4084,#ae4183,#b04381,#b14481,#b24580,#b04381,#ad4084,#a93c87,#a5388b,#9f338f,#9a2e93,#922997,#86209d,#7718a1,#6a12a2,#5d0ea1,#530c9f,#4a0b9c,#440a9a,#3e0a98,#390996 calc(100% - 2.8px))"></div><div style="top:654.23px;height:6.29px;background:linear-gradient(90deg,#2d0890 2.8px,#3c0997,#4b0b9d,#580da0,#6410a2,#6e13a2,#7516a1,#7a19a0,#7f1c9f,#87219c,#922997,#9d3190,#a5388b,#a83b88,#a93c87,#a93c87,#a93c87,#a93c87,#a93c87,#aa3d86,#aa3d86,#ab3e86,#ad4084,#ae4183,#ae4183,#ad4084,#aa3d86,#a6398a,#a0348e,#9c3091,#952a95,#8c249a,#7f1c9f,#7114a2,#6410a2,#570da0,#4d0b9d,#440a9a,#3e0a98,#390996,#350994 calc(100% - 2.8px))"></div><div style="top:659.82px;height:6.29px;background:linear-gradient(90deg,#29088f 2.8px,#390996,#470b9b,#560d9f,#610fa1,#6b12a2,#7215a2,#7617a1,#7a19a0,#821d9e,#8e259a,#982d93,#9f338f,#a4378b,#a5388b,#a5388b,#a5388b,#a5388b,#a6398a,#a6398a,#a73a89,#a83b88,#a93c87,#ab3e86,#ab3e86,#a93c87,#a6398a,#a2358d,#9d3190,#972c94,#902798,#86209d,#7918a1,#6b12a2,#5d0ea1,#510c9e,#470b9b,#3f0a98,#390996,#350994,#300892 calc(100% - 2.8px))"></div><div style="top:665.42px;height:6.29px;background:linear-gradient(90deg,#26078d 2.8px,#350994,#440a9a,#510c9e,#5e0fa1,#6811a2,#6e13a2,#7215a2,#7617a1,#7e1b9f,#89229c,#922997,#9b2f92,#9f338f,#a0348e,#a0348e,#a2358d,#a2358d,#a2358d,#a3368c,#a3368c,#a4378b,#a6398a,#a73a89,#a73a89,#a6398a,#a3368c,#9e328f,#982d93,#922997,#8a229b,#7f1c9f,#7215a2,#6410a2,#560d9f,#4a0b9c,#410a99,#390996,#330893,#2e0891,#2b0890 calc(100% - 2.8px))"></div><div style="top:671.01px;height:6.29px;background:linear-gradient(90deg,#20078b 2.8px,#310893,#3f0a98,#4e0c9e,#5b0ea1,#6510a2,#6b12a2,#6e13a2,#7215a2,#7918a1,#831e9e,#8e259a,#962b95,#9b2f92,#9c3091,#9d3190,#9d3190,#9d3190,#9e328f,#9e328f,#9f338f,#a0348e,#a3368c,#a4378b,#a4378b,#a2358d,#9e328f,#9a2e93,#942a96,#8e259a,#851f9d,#7918a1,#6a12a2,#5d0ea1,#500c9e,#440a9a,#3b0997,#330893,#2e0891,#29088f,#24078c calc(100% - 2.8px))"></div></div>
<div class="hm" style="left:1132.0px;top:42.7px;width:678.0px;height:676.6px;clip-path:polygon(378.2px 0.0px,378.2px 5.6px,411.8px 5.6px,411.8px 11.2px,434.3px 11.2px,434.3px 16.8px,451.1px 16.8px,451.1px 22.4px,462.3px 22.4px,462.3px 28.0px,479.1px 28.0px,479.1px 33.6px,490.3px 33.6px,490.3px 39.1px,501.5px 39.1px,501.5px 44.7px,507.1px 44.7px,507.1px 50.3px,518.3px 50.3px,518.3px 55.9px,529.5px 55.9px,529.5px 61.5px,535.1px 61.5px,535.1px 67.1px,540.7px 67.1px,540.7px 72.7px,551.9px 72.7px,551.9px 78.3px,557.5px 78.3px,557.5px 83.9px,563.1px 83.9px,563.1px 89.5px,568.7px 89.5px,568.7px 95.1px,574.3px 95.1px,574.3px 100.7px,579.9px 100.7px,579.9px 106.2px,585.5px 106.2px,585.5px 111.8px,591.1px 111.8px,591.1px 117.4px,596.8px 117.4px,596.8px 123.0px,602.4px 123.0px,602.4px 128.6px,602.4px 128.6px,602.4px 134.2px,608.0px 134.2px,608.0px 139.8px,613.6px 139.8px,613.6px 145.4px,619.2px 145.4px,619.2px 151.0px,619.2px 151.0px,619.2px 156.6px,624.8px 156.6px,624.8px 162.2px,624.8px 162.2px,624.8px 167.8px,630.4px 167.8px,630.4px 173.3px,636.0px 173.3px,636.0px 178.9px,636.0px 178.9px,636.0px 184.5px,641.6px 184.5px,641.6px 190.1px,641.6px 190.1px,641.6px 195.7px,647.2px 195.7px,647.2px 201.3px,647.2px 201.3px,647.2px 206.9px,647.2px 206.9px,647.2px 212.5px,652.8px 212.5px,652.8px 218.1px,652.8px 218.1px,652.8px 223.7px,658.4px 223.7px,658.4px 229.3px,658.4px 229.3px,658.4px 234.9px,658.4px 234.9px,658.4px 240.4px,664.0px 240.4px,664.0px 246.0px,664.0px 246.0px,664.0px 251.6px,664.0px 251.6px,664.0px 257.2px,664.0px 257.2px,664.0px 262.8px,669.6px 262.8px,669.6px 268.4px,669.6px 268.4px,669.6px 274.0px,669.6px 274.0px,669.6px 279.6px,669.6px 279.6px,669.6px 285.2px,669.6px 285.2px,669.6px 290.8px,669.6px 290.8px,669.6px 296.4px,675.2px 296.4px,675.2px 302.0px,675.2px 302.0px,675.2px 307.5px,675.2px 307.5px,675.2px 313.1px,675.2px 313.1px,675.2px 318.7px,675.2px 318.7px,675.2px 324.3px,675.2px 324.3px,675.2px 329.9px,675.2px 329.9px,675.2px 335.5px,675.2px 335.5px,675.2px 341.1px,675.2px 341.1px,675.2px 346.7px,675.2px 346.7px,675.2px 352.3px,675.2px 352.3px,675.2px 357.9px,675.2px 357.9px,675.2px 363.5px,675.2px 363.5px,675.2px 369.1px,675.2px 369.1px,675.2px 374.6px,675.2px 374.6px,675.2px 380.2px,669.6px 380.2px,669.6px 385.8px,669.6px 385.8px,669.6px 391.4px,669.6px 391.4px,669.6px 397.0px,669.6px 397.0px,669.6px 402.6px,669.6px 402.6px,669.6px 408.2px,669.6px 408.2px,669.6px 413.8px,664.0px 413.8px,664.0px 419.4px,664.0px 419.4px,664.0px 425.0px,664.0px 425.0px,664.0px 430.6px,664.0px 430.6px,664.0px 436.2px,658.4px 436.2px,658.4px 441.7px,658.4px 441.7px,658.4px 447.3px,658.4px 447.3px,658.4px 452.9px,652.8px 452.9px,652.8px 458.5px,652.8px 458.5px,652.8px 464.1px,647.2px 464.1px,647.2px 469.7px,647.2px 469.7px,647.2px 475.3px,647.2px 475.3px,647.2px 480.9px,641.6px 480.9px,641.6px 486.5px,641.6px 486.5px,641.6px 492.1px,636.0px 492.1px,636.0px 497.7px,636.0px 497.7px,636.0px 503.3px,630.4px 503.3px,630.4px 508.8px,624.8px 508.8px,624.8px 514.4px,624.8px 514.4px,624.8px 520.0px,619.2px 520.0px,619.2px 525.6px,619.2px 525.6px,619.2px 531.2px,613.6px 531.2px,613.6px 536.8px,608.0px 536.8px,608.0px 542.4px,602.4px 542.4px,602.4px 548.0px,602.4px 548.0px,602.4px 553.6px,596.8px 553.6px,596.8px 559.2px,591.1px 559.2px,591.1px 564.8px,585.5px 564.8px,585.5px 570.4px,579.9px 570.4px,579.9px 575.9px,574.3px 575.9px,574.3px 581.5px,568.7px 581.5px,568.7px 587.1px,563.1px 587.1px,563.1px 592.7px,557.5px 592.7px,557.5px 598.3px,551.9px 598.3px,551.9px 603.9px,540.7px 603.9px,540.7px 609.5px,535.1px 609.5px,535.1px 615.1px,529.5px 615.1px,529.5px 620.7px,518.3px 620.7px,518.3px 626.3px,507.1px 626.3px,507.1px 631.9px,501.5px 631.9px,501.5px 637.5px,490.3px 637.5px,490.3px 643.0px,479.1px 643.0px,479.1px 648.6px,462.3px 648.6px,462.3px 654.2px,451.1px 654.2px,451.1px 659.8px,434.3px 659.8px,434.3px 665.4px,411.8px 665.4px,411.8px 671.0px,378.2px 671.0px,378.2px 676.6px,294.2px 676.6px,294.2px 671.0px,260.6px 671.0px,260.6px 665.4px,238.1px 665.4px,238.1px 659.8px,221.3px 659.8px,221.3px 654.2px,210.1px 654.2px,210.1px 648.6px,193.3px 648.6px,193.3px 643.0px,182.1px 643.0px,182.1px 637.5px,170.9px 637.5px,170.9px 631.9px,165.3px 631.9px,165.3px 626.3px,154.1px 626.3px,154.1px 620.7px,142.9px 620.7px,142.9px 615.1px,137.3px 615.1px,137.3px 609.5px,131.7px 609.5px,131.7px 603.9px,120.5px 603.9px,120.5px 598.3px,114.9px 598.3px,114.9px 592.7px,109.3px 592.7px,109.3px 587.1px,103.7px 587.1px,103.7px 581.5px,98.1px 581.5px,98.1px 575.9px,92.5px 575.9px,92.5px 570.4px,86.9px 570.4px,86.9px 564.8px,81.2px 564.8px,81.2px 559.2px,75.6px 559.2px,75.6px 553.6px,70.0px 553.6px,70.0px 548.0px,70.0px 548.0px,70.0px 542.4px,64.4px 542.4px,64.4px 536.8px,58.8px 536.8px,58.8px 531.2px,53.2px 531.2px,53.2px 525.6px,53.2px 525.6px,53.2px 520.0px,47.6px 520.0px,47.6px 514.4px,47.6px 514.4px,47.6px 508.8px,42.0px 508.8px,42.0px 503.3px,36.4px 503.3px,36.4px 497.7px,36.4px 497.7px,36.4px 492.1px,30.8px 492.1px,30.8px 486.5px,30.8px 486.5px,30.8px 480.9px,25.2px 480.9px,25.2px 475.3px,25.2px 475.3px,25.2px 469.7px,25.2px 469.7px,25.2px 464.1px,19.6px 464.1px,19.6px 458.5px,19.6px 458.5px,19.6px 452.9px,14.0px 452.9px,14.0px 447.3px,14.0px 447.3px,14.0px 441.7px,14.0px 441.7px,14.0px 436.2px,8.4px 436.2px,8.4px 430.6px,8.4px 430.6px,8.4px 425.0px,8.4px 425.0px,8.4px 419.4px,8.4px 419.4px,8.4px 413.8px,2.8px 413.8px,2.8px 408.2px,2.8px 408.2px,2.8px 402.6px,2.8px 402.6px,2.8px 397.0px,2.8px 397.0px,2.8px 391.4px,2.8px 391.4px,2.8px 385.8px,2.8px 385.8px,2.8px 380.2px,-2.8px 380.2px,-2.8px 374.6px,-2.8px 374.6px,-2.8px 369.1px,-2.8px 369.1px,-2.8px 363.5px,-2.8px 363.5px,-2.8px 357.9px,-2.8px 357.9px,-2.8px 352.3px,-2.8px 352.3px,-2.8px 346.7px,-2.8px 346.7px,-2.8px 341.1px,-2.8px 341.1px,-2.8px 335.5px,-2.8px 335.5px,-2.8px 329.9px,-2.8px 329.9px,-2.8px 324.3px,-2.8px 324.3px,-2.8px 318.7px,-2.8px 318.7px,-2.8px 313.1px,-2.8px 313.1px,-2.8px 307.5px,-2.8px 307.5px,-2.8px 302.0px,-2.8px 302.0px,-2.8px 296.4px,2.8px 296.4px,2.8px 290.8px,2.8px 290.8px,2.8px 285.2px,2.8px 285.2px,2.8px 279.6px,2.8px 279.6px,2.8px 274.0px,2.8px 274.0px,2.8px 268.4px,2.8px 268.4px,2.8px 262.8px,8.4px 262.8px,8.4px 257.2px,8.4px 257.2px,8.4px 251.6px,8.4px 251.6px,8.4px 246.0px,8.4px 246.0px,8.4px 240.4px,14.0px 240.4px,14.0px 234.9px,14.0px 234.9px,14.0px 229.3px,14.0px 229.3px,14.0px 223.7px,19.6px 223.7px,19.6px 218.1px,19.6px 218.1px,19.6px 212.5px,25.2px 212.5px,25.2px 206.9px,25.2px 206.9px,25.2px 201.3px,25.2px 201.3px,25.2px 195.7px,30.8px 195.7px,30.8px 190.1px,30.8px 190.1px,30.8px 184.5px,36.4px 184.5px,36.4px 178.9px,36.4px 178.9px,36.4px 173.3px,42.0px 173.3px,42.0px 167.8px,47.6px 167.8px,47.6px 162.2px,47.6px 162.2px,47.6px 156.6px,53.2px 156.6px,53.2px 151.0px,53.2px 151.0px,53.2px 145.4px,58.8px 145.4px,58.8px 139.8px,64.4px 139.8px,64.4px 134.2px,70.0px 134.2px,70.0px 128.6px,70.0px 128.6px,70.0px 123.0px,75.6px 123.0px,75.6px 117.4px,81.2px 117.4px,81.2px 111.8px,86.9px 111.8px,86.9px 106.2px,92.5px 106.2px,92.5px 100.7px,98.1px 100.7px,98.1px 95.1px,103.7px 95.1px,103.7px 89.5px,109.3px 89.5px,109.3px 83.9px,114.9px 83.9px,114.9px 78.3px,120.5px 78.3px,120.5px 72.7px,131.7px 72.7px,131.7px 67.1px,137.3px 67.1px,137.3px 61.5px,142.9px 61.5px,142.9px 55.9px,154.1px 55.9px,154.1px 50.3px,165.3px 50.3px,165.3px 44.7px,170.9px 44.7px,170.9px 39.1px,182.1px 39.1px,182.1px 33.6px,193.3px 33.6px,193.3px 28.0px,210.1px 28.0px,210.1px 22.4px,221.3px 22.4px,221.3px 16.8px,238.1px 16.8px,238.1px 11.2px,260.6px 11.2px,260.6px 5.6px,294.2px 5.6px,294.2px 0.0px)"><div style="top:0.00px;height:6.29px;background:linear-gradient(90deg,#2e0891 2.8px,#390996,#440a9a,#4d0b9d,#570da0,#6210a2,#6f14a2,#7a19a0,#851f9d,#8e259a,#942a96,#972c94,#9c3091,#9e328f,#9e328f,#9e328f,#9d3190,#9c3091,#9c3091,#9c3091,#9c3091,#9c3091,#9c3091,#9c3091,#9b2f92,#9a2e93,#982d93,#962b95,#912898,#8a229b,#821d9e,#7a19a0,#7114a2,#6510a2,#580da0,#4b0b9d,#3e0a98,#330893,#28088e,#180787,#0c0881 calc(100% - 2.8px))"></div><div style="top:5.59px;height:6.29px;background:linear-gradient(90deg,#330893 2.8px,#3e0a98,#470b9b,#510c9e,#5b0ea1,#6811a2,#7516a1,#7f1c9f,#8b239b,#922997,#982d93,#9d3190,#a2358d,#a4378b,#a3368c,#a3368c,#a0348e,#a0348e,#a0348e,#a0348e,#a0348e,#a0348e,#a0348e,#a0348e,#9f338f,#9f338f,#9e328f,#9b2f92,#962b95,#8f2699,#87219c,#7e1b9f,#7516a1,#6b12a2,#5e0fa1,#510c9e,#440a9a,#380995,#2d0890,#20078b,#110783 calc(100% - 2.8px))"></div><div style="top:11.18px;height:6.29px;background:linear-gradient(90deg,#360995 2.8px,#410a99,#4b0b9d,#560d9f,#610fa1,#6c13a2,#7a19a0,#86209d,#902798,#982d93,#9e328f,#a3368c,#a73a89,#a83b88,#a83b88,#a6398a,#a5388b,#a5388b,#a4378b,#a5388b,#a5388b,#a5388b,#a5388b,#a5388b,#a5388b,#a4378b,#a3368c,#a0348e,#9c3091,#942a96,#8b239b,#821d9e,#7a19a0,#6f14a2,#6210a2,#560d9f,#4a0b9c,#3e0a98,#330893,#26078d,#180787 calc(100% - 2.8px))"></div><div style="top:16.78px;height:6.29px;background:linear-gradient(90deg,#3b0997 2.8px,#450a9b,#500c9e,#5a0ea0,#6510a2,#7215a2,#7e1b9f,#8b239b,#962b95,#9d3190,#a3368c,#a83b88,#ac3f85,#ad4084,#ac3f85,#aa3d86,#a93c87,#a83b88,#a83b88,#a83b88,#a83b88,#a93c87,#a93c87,#a93c87,#a93c87,#a93c87,#a83b88,#a6398a,#a0348e,#982d93,#8f2699,#87219c,#7e1b9f,#7516a1,#6811a2,#5b0ea1,#500c9e,#440a9a,#380995,#2d0890,#1e078a calc(100% - 2.8px))"></div><div style="top:22.37px;height:6.29px;background:linear-gradient(90deg,#3f0a98 2.8px,#4a0b9c,#540c9f,#600fa1,#6b12a2,#7718a1,#831e9e,#902798,#9b2f92,#a3368c,#a83b88,#ad4084,#b04381,#b14481,#b04381,#ae4183,#ad4084,#ac3f85,#ac3f85,#ac3f85,#ac3f85,#ac3f85,#ac3f85,#ad4084,#ad4084,#ad4084,#ac3f85,#aa3d86,#a6398a,#9d3190,#942a96,#8b239b,#851f9d,#7a19a0,#6e13a2,#610fa1,#540c9f,#480b9c,#3c0997,#310893,#24078c calc(100% - 2.8px))"></div><div style="top:27.96px;height:6.29px;background:linear-gradient(90deg,#440a9a 2.8px,#4e0c9e,#580da0,#6410a2,#7114a2,#7d1aa0,#89229c,#952a95,#9f338f,#a73a89,#ac3f85,#b14481,#b5487d,#b6497d,#b4477e,#b24580,#b04381,#af4282,#af4282,#af4282,#b04381,#b04381,#b04381,#b14481,#b14481,#b14481,#b14481,#af4282,#ab3e86,#a3368c,#982d93,#912898,#8a229b,#7f1c9f,#7316a2,#6510a2,#5a0ea0,#4e0c9e,#420a9a,#360995,#29088f calc(100% - 2.8px))"></div><div style="top:33.55px;height:6.29px;background:linear-gradient(90deg,#470b9b 2.8px,#510c9e,#5d0ea1,#6a12a2,#7617a1,#811d9f,#8e259a,#9a2e93,#a4378b,#ab3e86,#b04381,#b6497d,#b94d7a,#ba4e7a,#b84b7b,#b6497d,#b4477e,#b3467f,#b3467f,#b3467f,#b3467f,#b3467f,#b4477e,#b4477e,#b5487d,#b6497d,#b6497d,#b4477e,#b04381,#a83b88,#9e328f,#972c94,#902798,#86209d,#7718a1,#6b12a2,#5e0fa1,#530c9f,#470b9b,#3b0997,#2e0891 calc(100% - 2.8px))"></div><div style="top:39.14px;height:6.29px;background:linear-gradient(90deg,#4b0b9d 2.8px,#560d9f,#610fa1,#6e13a2,#7b1aa0,#86209d,#922997,#9e328f,#a83b88,#af4282,#b5487d,#ba4e7a,#bd5276,#bd5276,#bc5078,#ba4e7a,#b84b7b,#b6497d,#b6497d,#b6497d,#b74a7c,#b74a7c,#b74a7c,#b84b7b,#b94d7a,#ba4e7a,#ba4e7a,#b94d7a,#b4477e,#ad4084,#a5388b,#9e328f,#972c94,#8c249a,#7d1aa0,#6f14a2,#6210a2,#570da0,#4b0b9d,#3f0a98,#330893 calc(100% - 2.8px))"></div><div style="top:44.73px;height:6.29px;background:linear-gradient(90deg,#4e0c9e 2.8px,#5a0ea0,#6711a2,#7316a2,#811d9f,#8b239b,#972c94,#a4378b,#ad4084,#b3467f,#b94d7a,#be5376,#c15673,#c25773,#bf5475,#bd5276,#bb4f79,#ba4e7a,#b94d7a,#ba4e7a,#ba4e7a,#ba4e7a,#bb4f79,#bc5078,#bc5177,#bd5276,#be5376,#bc5177,#b94d7a,#b3467f,#ab3e86,#a5388b,#9e328f,#922997,#821d9e,#7316a2,#6711a2,#5b0ea1,#500c9e,#440a9a,#380995 calc(100% - 2.8px))"></div><div style="top:50.33px;height:6.29px;background:linear-gradient(90deg,#530c9f 2.8px,#5e0fa1,#6b12a2,#7918a1,#86209d,#912898,#9c3091,#a83b88,#b14481,#b74a7c,#bc5177,#c35872,#c55b70,#c55b70,#c45971,#c05574,#be5376,#bc5177,#bc5177,#bc5177,#bc5177,#bd5276,#bd5276,#bf5475,#c05574,#c25773,#c35872,#c15673,#be5376,#b94d7a,#b24580,#ad4084,#a5388b,#982d93,#87219c,#7718a1,#6b12a2,#600fa1,#540c9f,#480b9c,#3c0997 calc(100% - 2.8px))"></div><div style="top:55.92px;height:6.29px;background:linear-gradient(90deg,#560d9f 2.8px,#610fa1,#6f14a2,#7e1b9f,#8b239b,#962b95,#a2358d,#ac3f85,#b5487d,#bc5078,#c15673,#c75d6e,#c9616c,#c9616c,#c75d6e,#c45971,#c15673,#c05574,#bf5475,#bf5475,#c05574,#c05574,#c15673,#c25773,#c45971,#c55b70,#c65c6f,#c55b70,#c35872,#be5376,#b94d7a,#b4477e,#ac3f85,#9f338f,#8e259a,#7b1aa0,#6f14a2,#6410a2,#580da0,#4d0b9d,#410a99 calc(100% - 2.8px))"></div><div style="top:61.51px;height:6.29px;background:linear-gradient(90deg,#580da0 2.8px,#6510a2,#7316a2,#821d9e,#902798,#9b2f92,#a6398a,#b14481,#ba4e7a,#c05574,#c55b70,#cb636b,#ce6768,#cd6669,#ca626c,#c75d6e,#c45a71,#c35872,#c25773,#c25773,#c35872,#c35872,#c45971,#c55b70,#c75d6e,#c9616c,#ca626c,#ca626c,#c85e6e,#c45971,#bf5475,#bb4f79,#b3467f,#a6398a,#922997,#811d9f,#7516a1,#6a12a2,#5e0fa1,#530c9f,#450a9b calc(100% - 2.8px))"></div><div style="top:67.10px;height:6.29px;background:linear-gradient(90deg,#5b0ea1 2.8px,#6a12a2,#7617a1,#86209d,#942a96,#9f338f,#ab3e86,#b6497d,#be5376,#c45a71,#ca626c,#d06967,#d36e65,#d16b66,#cd6669,#c9616c,#c75d6e,#c55b70,#c45a71,#c45a71,#c55b70,#c55b70,#c65c6f,#c85e6e,#ca626c,#cd656a,#ce6768,#ce6768,#cd656a,#c9616c,#c55b70,#c05574,#ba4e7a,#ad4084,#982d93,#851f9d,#7918a1,#6f14a2,#6210a2,#570da0,#4a0b9c calc(100% - 2.8px))"></div><div style="top:72.69px;height:6.29px;background:linear-gradient(90deg,#5e0fa1 2.8px,#6c13a2,#7a19a0,#8a229b,#982d93,#a5388b,#b04381,#bb4f79,#c45971,#ca626c,#d06967,#d57163,#d77461,#d67262,#d16b66,#cd656a,#c9616c,#c85e6e,#c75d6e,#c75d6e,#c75d6e,#c85e6e,#c9606d,#ca626c,#cd6669,#d16a67,#d36e65,#d36e65,#d16b66,#cf6868,#cb636b,#c65c6f,#c05574,#b4477e,#9e328f,#8b239b,#7e1b9f,#7516a1,#6811a2,#5b0ea1,#4e0c9e calc(100% - 2.8px))"></div><div style="top:78.28px;height:6.29px;background:linear-gradient(90deg,#610fa1 2.8px,#6f14a2,#7d1aa0,#8c249a,#9c3091,#a93c87,#b4477e,#bf5475,#c9606d,#cf6868,#d57163,#da785f,#dc7b5e,#da785f,#d57163,#d06967,#cd656a,#ca626c,#c9616c,#c9606d,#c9616c,#ca626c,#cb636b,#cd6669,#d16a67,#d47063,#d77362,#d77461,#d67262,#d46f64,#d16a67,#cc646a,#c65c6f,#bc5078,#a5388b,#912898,#851f9d,#7a19a0,#6e13a2,#610fa1,#540c9f calc(100% - 2.8px))"></div><div style="top:83.88px;height:6.29px;background:linear-gradient(90deg,#6210a2 2.8px,#7215a2,#811d9f,#902798,#9f338f,#ad4084,#b94d7a,#c45a71,#cd6669,#d47063,#da795f,#de805c,#e0845a,#de7f5c,#d97760,#d36e65,#cf6868,#cd656a,#cb636b,#cb636b,#cb636b,#cc646a,#cd6669,#d06967,#d36e65,#d77461,#db7a5e,#dc7b5e,#db7a5e,#d97760,#d67262,#d16a67,#cc646a,#c25773,#ad4084,#982d93,#8a229b,#7f1c9f,#7316a2,#6711a2,#580da0 calc(100% - 2.8px))"></div><div style="top:89.47px;height:6.29px;background:linear-gradient(90deg,#6510a2 2.8px,#7516a1,#831e9e,#922997,#a3368c,#b04381,#bd5276,#c9616c,#d36e65,#da785f,#df815b,#e38858,#e48b57,#e28659,#dc7c5d,#d77362,#d26d65,#cf6868,#cd6669,#cd656a,#cd656a,#cd6669,#d06967,#d26d65,#d67262,#db7a5e,#de805c,#e0845a,#e0825b,#de7f5c,#da795f,#d67262,#d16b66,#c9606d,#b5487d,#9f338f,#902798,#851f9d,#7918a1,#6c13a2,#5e0fa1 calc(100% - 2.8px))"></div><div style="top:95.06px;height:6.29px;background:linear-gradient(90deg,#6811a2 2.8px,#7718a1,#86209d,#962b95,#a6398a,#b4477e,#c15673,#cd6669,#d87661,#df815b,#e48b57,#e79255,#e89454,#e68f56,#e0845a,#da785f,#d47063,#d16b66,#cf6868,#ce6768,#ce6768,#d06967,#d16b66,#d57163,#da785f,#de805c,#e28759,#e48b57,#e48b57,#e28759,#e0825b,#dc7b5e,#d77461,#ce6768,#bc5078,#a73a89,#962b95,#8a229b,#7e1b9f,#7215a2,#6210a2 calc(100% - 2.8px))"></div><div style="top:100.65px;height:6.29px;background:linear-gradient(90deg,#6a12a2 2.8px,#7a19a0,#8a229b,#982d93,#a93c87,#b84b7b,#c55b70,#d26d65,#dd7e5d,#e38a58,#e89454,#eb9b52,#ec9d52,#e99653,#e38a58,#dd7e5d,#d77461,#d36e65,#d16a67,#d06967,#d06967,#d16b66,#d46f64,#d77461,#dc7b5e,#e28659,#e58d56,#e89454,#e89454,#e79155,#e48b57,#e0845a,#dc7c5d,#d36e65,#c25773,#ad4084,#9c3091,#8f2699,#831e9e,#7617a1,#6811a2 calc(100% - 2.8px))"></div><div style="top:106.24px;height:6.29px;background:linear-gradient(90deg,#6c13a2 2.8px,#7d1aa0,#8c249a,#9c3091,#ac3f85,#bc5078,#c9616c,#d77362,#e28659,#e79255,#ec9d52,#eea550,#efa650,#ec9e51,#e69055,#e0825b,#da785f,#d57163,#d26d65,#d16a67,#d16a67,#d26d65,#d57163,#d97760,#de805c,#e48b57,#e89454,#eb9b52,#ec9e51,#eb9a52,#e89454,#e58d56,#e28659,#d77461,#c75d6e,#b3467f,#a2358d,#942a96,#89229c,#7b1aa0,#6c13a2 calc(100% - 2.8px))"></div><div style="top:111.83px;height:6.29px;background:linear-gradient(90deg,#6e13a2 2.8px,#7f1c9f,#8f2699,#9f338f,#af4282,#bf5475,#cd6669,#db7a5e,#e58d56,#eb9b52,#efa650,#f1ae4e,#f1b04e,#eea550,#e99653,#e28659,#db7a5e,#d77362,#d46f64,#d26d65,#d26d65,#d46f64,#d77362,#db7a5e,#e0845a,#e68f56,#eb9a52,#eea350,#efa74f,#eea350,#eb9b52,#e99653,#e58d56,#dc7b5e,#cc646a,#b94d7a,#a73a89,#982d93,#8c249a,#7f1c9f,#6f14a2 calc(100% - 2.8px))"></div><div style="top:117.43px;height:6.29px;background:linear-gradient(90deg,#7114a2 2.8px,#821d9e,#922997,#a3368c,#b24580,#c35872,#d16b66,#df815b,#e99653,#eea550,#f1ae4e,#f2b74e,#f3b84e,#f0ad4e,#eb9b52,#e48b57,#dd7e5d,#d87661,#d57163,#d36e65,#d36e65,#d57163,#d87661,#dc7c5d,#e28759,#e79255,#eda151,#f0ac4f,#f1b04e,#f0ac4f,#eea550,#ec9e51,#e89454,#e0825b,#d06967,#bd5276,#ab3e86,#9c3091,#902798,#821d9e,#7316a2 calc(100% - 2.8px))"></div><div style="top:123.02px;height:6.29px;background:linear-gradient(90deg,#7215a2 2.8px,#851f9d,#952a95,#a6398a,#b6497d,#c55b70,#d57163,#e38858,#ec9e51,#f0ad4e,#f2b74e,#f4c04d,#f4c14e,#f2b34e,#eda151,#e68f56,#de805c,#d97760,#d67262,#d46f64,#d46f64,#d67262,#da785f,#de7f5c,#e38a58,#e99653,#eea550,#f2b44e,#f3ba4d,#f2b44e,#f0ad4e,#efa650,#eb9b52,#e38858,#d46f64,#c25773,#ae4183,#9f338f,#942a96,#86209d,#7617a1 calc(100% - 2.8px))"></div><div style="top:128.61px;height:6.29px;background:linear-gradient(90deg,#7316a2 2.8px,#86209d,#972c94,#a83b88,#b84b7b,#c9606d,#d87661,#e68f56,#efa650,#f2b44e,#f4be4d,#f5c94e,#f5c94e,#f3ba4d,#efa650,#e79255,#e0825b,#da795f,#d77362,#d57163,#d47063,#d77362,#da795f,#df815b,#e58c57,#ea9953,#f0aa4f,#f3bb4d,#f4c14e,#f3bd4d,#f2b54e,#f0ad4e,#eda151,#e58c57,#d67262,#c55b70,#b14481,#a3368c,#962b95,#89229c,#7918a1 calc(100% - 2.8px))"></div><div style="top:134.20px;height:6.29px;background:linear-gradient(90deg,#7516a1 2.8px,#89229c,#9b2f92,#ab3e86,#bb4f79,#cb636b,#db7a5e,#e89454,#f0ad4e,#f3bb4d,#f4c64e,#f5cf4f,#f5cf4f,#f4be4d,#f0aa4f,#e99554,#e1855a,#db7a5e,#d77461,#d67262,#d67262,#d77461,#db7a5e,#e0825b,#e58d56,#eb9b52,#f0ad4e,#f4c14e,#f5c94e,#f4c44e,#f3bd4d,#f2b44e,#efa650,#e68f56,#d87661,#c85e6e,#b4477e,#a5388b,#982d93,#8b239b,#7b1aa0 calc(100% - 2.8px))"></div><div style="top:139.79px;height:6.29px;background:linear-gradient(90deg,#7718a1 2.8px,#8b239b,#9d3190,#ad4084,#bc5177,#cd6669,#dd7e5d,#ea9753,#f1b14e,#f4c34e,#f5cd4f,#f5d650,#f5d550,#f4c44e,#f1ae4e,#ea9953,#e28759,#dc7c5d,#d87661,#d77362,#d77362,#d87661,#dc7b5e,#e1855a,#e69055,#ec9e51,#f1b14e,#f4c44e,#f5cd4f,#f5cc4e,#f4c44e,#f3bb4d,#f0ac4f,#e79155,#d97760,#ca626c,#b74a7c,#a83b88,#9b2f92,#8e259a,#7d1aa0 calc(100% - 2.8px))"></div><div style="top:145.39px;height:6.29px;background:linear-gradient(90deg,#7918a1 2.8px,#8e259a,#9f338f,#af4282,#be5376,#d06967,#de805c,#ea9953,#f2b54e,#f5c94e,#f5d350,#f4dd52,#f5da51,#f5c94e,#f1b14e,#eb9b52,#e38858,#dd7e5d,#da785f,#d77461,#d77461,#d97760,#dc7c5d,#e28659,#e79155,#eda151,#f2b44e,#f5c94e,#f5d24f,#f5d24f,#f5cc4e,#f4c34e,#f1b04e,#e79255,#da795f,#cc646a,#ba4e7a,#ab3e86,#9d3190,#902798,#7f1c9f calc(100% - 2.8px))"></div><div style="top:150.98px;height:6.29px;background:linear-gradient(90deg,#7a19a0 2.8px,#8f2699,#a0348e,#b04381,#c05574,#d16b66,#e0825b,#eb9a52,#f3b84e,#f5cd4f,#f5da51,#f4e253,#f4de52,#f5cd4f,#f2b54e,#ec9e51,#e48b57,#de7f5c,#da795f,#d87661,#d87661,#da785f,#dd7e5d,#e28759,#e89454,#eea350,#f2b74e,#f5cc4e,#f5d650,#f5d650,#f5d24f,#f5c94e,#f2b54e,#e99554,#db7a5e,#cd656a,#bc5177,#ad4084,#a0348e,#922997,#821d9e calc(100% - 2.8px))"></div><div style="top:156.57px;height:6.29px;background:linear-gradient(90deg,#7d1aa0 2.8px,#912898,#a3368c,#b24580,#c35872,#d46f64,#e0845a,#eb9a52,#f3ba4d,#f5d24f,#f4de52,#f4e655,#f4e354,#f5d24f,#f3b84e,#eda151,#e58c57,#df815b,#db7a5e,#d97760,#d97760,#da795f,#de7f5c,#e38858,#e99554,#efa650,#f3ba4d,#f5cf4f,#f5da51,#f5db52,#f5d851,#f5cf4f,#f3bb4d,#ea9753,#dc7c5d,#ce6768,#bf5475,#b04381,#a3368c,#952a95,#851f9d calc(100% - 2.8px))"></div><div style="top:162.16px;height:6.29px;background:linear-gradient(90deg,#7e1b9f 2.8px,#922997,#a4378b,#b3467f,#c45971,#d57163,#e28659,#ea9953,#f3bb4d,#f5d550,#f4e253,#f3e855,#f4e655,#f5d550,#f3bb4d,#eea350,#e68f56,#e0825b,#dc7b5e,#da785f,#da785f,#db7a5e,#de805c,#e38a58,#e99653,#efa74f,#f3bd4d,#f5d04f,#f4dd52,#f4e053,#f4dd52,#f5d350,#f4c04d,#ec9d52,#de805c,#d06967,#c15673,#b3467f,#a5388b,#972c94,#87219c calc(100% - 2.8px))"></div><div style="top:167.75px;height:6.29px;background:linear-gradient(90deg,#7e1b9f 2.8px,#952a95,#a6398a,#b5487d,#c55b70,#d67262,#e28759,#ea9753,#f3bd4d,#f5d650,#f4e554,#f3eb56,#f3e855,#f5d851,#f4be4d,#eea550,#e79155,#e1855a,#dc7c5d,#da795f,#da795f,#dc7b5e,#df815b,#e38a58,#ea9753,#f0aa4f,#f4c04d,#f5d350,#f4de52,#f4e354,#f4e253,#f5d851,#f4c44e,#eea350,#e0845a,#d26d65,#c45971,#b5487d,#a73a89,#9a2e93,#8a229b calc(100% - 2.8px))"></div><div style="top:173.34px;height:6.29px;background:linear-gradient(90deg,#7f1c9f 2.8px,#952a95,#a73a89,#b6497d,#c65c6f,#d77461,#e38a58,#eb9a52,#f4c04d,#f5d851,#f4e655,#f3ed57,#f3ea56,#f5da51,#f4c04d,#efa74f,#e79255,#e28659,#dd7e5d,#db7a5e,#da795f,#dc7b5e,#df815b,#e48b57,#ea9953,#f0ac4f,#f4c14e,#f5d550,#f4e253,#f4e655,#f4e354,#f5da51,#f4c74e,#efa74f,#e28759,#d46f64,#c55b70,#b84b7b,#a93c87,#9c3091,#8e259a calc(100% - 2.8px))"></div><div style="top:178.94px;height:6.29px;background:linear-gradient(90deg,#7f1c9f 2.8px,#962b95,#a83b88,#b74a7c,#c75d6e,#d87661,#e58c57,#eda151,#f4c34e,#f5da51,#f4e655,#f3ed57,#f3eb56,#f4dd52,#f4c14e,#efa74f,#e99554,#e28759,#de7f5c,#dc7b5e,#db7a5e,#dc7c5d,#e0825b,#e48b57,#ea9953,#f0ac4f,#f4c34e,#f5d650,#f4e554,#f3ea56,#f4e655,#f4dd52,#f5ca4e,#f0ac4f,#e38a58,#d57163,#c85e6e,#ba4e7a,#ab3e86,#9d3190,#902798 calc(100% - 2.8px))"></div><div style="top:184.53px;height:6.29px;background:linear-gradient(90deg,#7f1c9f 2.8px,#962b95,#a83b88,#b84b7b,#c85e6e,#d97760,#e68f56,#efa650,#f4c64e,#f5da51,#f4e554,#f3ed57,#f3eb56,#f4dd52,#f4c34e,#efa94f,#e99653,#e38858,#de805c,#dc7c5d,#dc7b5e,#dd7e5d,#e0825b,#e58c57,#eb9a52,#f0ad4e,#f4c34e,#f5d851,#f4e655,#f3eb56,#f4e655,#f4dd52,#f5cc4e,#f0ad4e,#e48b57,#d67262,#c9616c,#bc5078,#ad4084,#9f338f,#922997 calc(100% - 2.8px))"></div><div style="top:190.12px;height:6.29px;background:linear-gradient(90deg,#7f1c9f 2.8px,#962b95,#a93c87,#b94d7a,#c9606d,#da785f,#e79155,#f0aa4f,#f4c64e,#f5d851,#f4e354,#f3eb56,#f3eb56,#f4de52,#f4c34e,#efa94f,#e99653,#e38a58,#df815b,#dd7e5d,#dc7c5d,#de7f5c,#e0845a,#e58c57,#eb9a52,#f0ad4e,#f4c34e,#f5d851,#f3e855,#f3eb56,#f4e655,#f4dd52,#f5cc4e,#f1ae4e,#e58c57,#d77461,#cb636b,#bd5276,#af4282,#a2358d,#952a95 calc(100% - 2.8px))"></div><div style="top:195.71px;height:6.29px;background:linear-gradient(90deg,#7f1c9f 2.8px,#962b95,#a93c87,#ba4e7a,#c9616c,#da785f,#e79155,#f0ac4f,#f4c64e,#f5d650,#f4e253,#f3ea56,#f3ea56,#f4de52,#f4c14e,#efa94f,#e99653,#e38a58,#e0825b,#dd7e5d,#dc7c5d,#de7f5c,#e1855a,#e58d56,#eb9a52,#f0ac4f,#f4c34e,#f5d650,#f4e655,#f3ea56,#f4e354,#f5db52,#f5cc4e,#f1b04e,#e58c57,#d87661,#cc646a,#bf5475,#b04381,#a3368c,#972c94 calc(100% - 2.8px))"></div><div style="top:201.30px;height:6.29px;background:linear-gradient(90deg,#811d9f 2.8px,#972c94,#a93c87,#ba4e7a,#c9616c,#da785f,#e79155,#f0ac4f,#f4c34e,#f5d350,#f4de52,#f4e655,#f3e855,#f5db52,#f4c04d,#efa74f,#e99653,#e48b57,#e0825b,#de7f5c,#dd7e5d,#de805c,#e1855a,#e58d56,#ea9953,#f0aa4f,#f4c14e,#f5d550,#f4e554,#f4e655,#f4e053,#f5d851,#f5cc4e,#f1b04e,#e58d56,#d97760,#cd6669,#c05574,#b14481,#a5388b,#982d93 calc(100% - 2.8px))"></div><div style="top:206.89px;height:6.29px;background:linear-gradient(90deg,#811d9f 2.8px,#972c94,#aa3d86,#ba4e7a,#c9616c,#d97760,#e69055,#efa94f,#f4c04d,#f5d04f,#f5db52,#f4e354,#f4e354,#f5d650,#f3bd4d,#efa650,#e99653,#e48b57,#e0845a,#de805c,#de7f5c,#de805c,#e28659,#e58d56,#ea9953,#efa94f,#f4be4d,#f5d04f,#f4e253,#f4e253,#f5db52,#f5d550,#f5c94e,#f1b04e,#e68f56,#da785f,#cd6669,#c05574,#b24580,#a6398a,#9b2f92 calc(100% - 2.8px))"></div><div style="top:212.49px;height:6.29px;background:linear-gradient(90deg,#821d9e 2.8px,#972c94,#aa3d86,#ba4e7a,#c9616c,#d97760,#e68f56,#efa650,#f3bd4d,#f5cc4e,#f5d650,#f4de52,#f4de52,#f5d24f,#f3b84e,#eea550,#e99554,#e48b57,#e0845a,#de805c,#de7f5c,#df815b,#e28659,#e58d56,#ea9753,#efa74f,#f3ba4d,#f5cc4e,#f5db52,#f4dd52,#f5d650,#f5cf4f,#f4c64e,#f1ae4e,#e69055,#da785f,#ce6768,#c15673,#b3467f,#a73a89,#9c3091 calc(100% - 2.8px))"></div><div style="top:218.08px;height:6.29px;background:linear-gradient(90deg,#821d9e 2.8px,#972c94,#aa3d86,#ba4e7a,#c9616c,#d87661,#e58c57,#eea350,#f2b74e,#f4c74e,#f5d24f,#f5da51,#f5da51,#f5cc4e,#f2b44e,#eda250,#e99554,#e48b57,#e1855a,#de805c,#de805c,#df815b,#e28659,#e58d56,#ea9753,#eea550,#f2b54e,#f4c64e,#f5d350,#f5d650,#f5d04f,#f5ca4e,#f4c14e,#f0ad4e,#e69055,#da785f,#cd6669,#c15673,#b4477e,#a83b88,#9d3190 calc(100% - 2.8px))"></div><div style="top:223.67px;height:6.29px;background:linear-gradient(90deg,#821d9e 2.8px,#972c94,#aa3d86,#ba4e7a,#c9606d,#d77362,#e38a58,#ec9f51,#f2b34e,#f4c14e,#f5cc4e,#f5d350,#f5d350,#f4c64e,#f1b04e,#ec9f51,#e79255,#e48b57,#e1855a,#df815b,#de805c,#e0825b,#e28659,#e58c57,#e99653,#eda250,#f1b14e,#f4c04d,#f5cd4f,#f5cf4f,#f5c94e,#f4c44e,#f3bb4d,#efa94f,#e68f56,#d97760,#cd6669,#c15673,#b5487d,#a93c87,#9e328f calc(100% - 2.8px))"></div><div style="top:229.26px;height:6.29px;background:linear-gradient(90deg,#831e9e 2.8px,#972c94,#aa3d86,#ba4e7a,#c9606d,#d67262,#e28659,#eb9b52,#f1ae4e,#f3bb4d,#f4c64e,#f5cd4f,#f5cf4f,#f4c04d,#f0aa4f,#eb9b52,#e79155,#e38a58,#e1855a,#df815b,#de805c,#e0825b,#e28659,#e58c57,#e99554,#ec9f51,#f0ad4e,#f3ba4d,#f4c64e,#f4c74e,#f4c34e,#f3bd4d,#f2b54e,#eea550,#e48b57,#d77461,#cd656a,#c15673,#b6497d,#ab3e86,#9f338f calc(100% - 2.8px))"></div><div style="top:234.85px;height:6.29px;background:linear-gradient(90deg,#831e9e 2.8px,#972c94,#aa3d86,#ba4e7a,#c85e6e,#d47063,#e0845a,#e99653,#efa94f,#f2b54e,#f4be4d,#f4c74e,#f5c94e,#f3ba4d,#efa650,#ea9953,#e69055,#e38a58,#e1855a,#df815b,#df815b,#e0825b,#e28659,#e48b57,#e79255,#ec9d52,#efa94f,#f2b44e,#f4be4d,#f4c04d,#f3bd4d,#f2b74e,#f1b04e,#ec9f51,#e28759,#d77362,#cc646a,#c15673,#b74a7c,#ac3f85,#a0348e calc(100% - 2.8px))"></div><div style="top:240.44px;height:6.29px;background:linear-gradient(90deg,#831e9e 2.8px,#982d93,#aa3d86,#ba4e7a,#c85e6e,#d46f64,#de805c,#e79255,#eea550,#f1b04e,#f2b74e,#f4c04d,#f4c34e,#f2b54e,#eda250,#e99653,#e68f56,#e38858,#e1855a,#df815b,#df815b,#e0825b,#e28659,#e48b57,#e79155,#eb9a52,#eea550,#f1ae4e,#f2b74e,#f3ba4d,#f2b74e,#f1b14e,#f0aa4f,#eb9a52,#e1855a,#d57163,#cb636b,#c15673,#b74a7c,#ad4084,#a2358d calc(100% - 2.8px))"></div><div style="top:246.04px;height:6.29px;background:linear-gradient(90deg,#831e9e 2.8px,#982d93,#aa3d86,#ba4e7a,#c75d6e,#d26d65,#dc7c5d,#e68f56,#ec9f51,#f0aa4f,#f1b14e,#f3ba4d,#f4be4d,#f1b04e,#ec9f51,#e99554,#e58d56,#e38858,#e1855a,#e0825b,#df815b,#e0825b,#e1855a,#e38a58,#e69055,#ea9753,#eda151,#f0aa4f,#f1b14e,#f2b34e,#f1b14e,#f0ac4f,#eea550,#e99653,#e0825b,#d46f64,#ca626c,#c25773,#b84b7b,#ae4183,#a3368c calc(100% - 2.8px))"></div><div style="top:251.63px;height:6.29px;background:linear-gradient(90deg,#851f9d 2.8px,#982d93,#ab3e86,#ba4e7a,#c75d6e,#d16b66,#db7a5e,#e48b57,#eb9a52,#eea550,#f0aa4f,#f2b34e,#f2b74e,#f0ac4f,#ec9d52,#e89454,#e58d56,#e38858,#e1855a,#e0825b,#df815b,#e0825b,#e1855a,#e38858,#e68f56,#e99554,#ec9d52,#eea550,#f0aa4f,#f0ad4e,#f0ac4f,#efa74f,#ec9f51,#e79255,#de805c,#d46f64,#ca626c,#c25773,#b84b7b,#ae4183,#a4378b calc(100% - 2.8px))"></div><div style="top:257.22px;height:6.29px;background:linear-gradient(90deg,#851f9d 2.8px,#982d93,#ab3e86,#bb4f79,#c75d6e,#d16a67,#d97760,#e28659,#e99653,#ec9f51,#eea550,#f0ad4e,#f1b04e,#efa74f,#eb9a52,#e79155,#e58c57,#e28759,#e0845a,#df815b,#df815b,#df815b,#e0845a,#e28759,#e58c57,#e79255,#eb9a52,#eda151,#efa650,#efa74f,#efa650,#eea350,#eb9b52,#e69055,#de7f5c,#d36e65,#ca626c,#c25773,#b94d7a,#af4282,#a5388b calc(100% - 2.8px))"></div><div style="top:262.81px;height:6.29px;background:linear-gradient(90deg,#851f9d 2.8px,#9a2e93,#ab3e86,#bb4f79,#c75d6e,#cf6868,#d77461,#e0825b,#e79155,#eb9a52,#ec9f51,#efa74f,#f0aa4f,#eea350,#ea9953,#e69055,#e48b57,#e28759,#e0845a,#df815b,#df815b,#df815b,#e0845a,#e28759,#e48b57,#e79155,#e99653,#ec9d52,#eda151,#eea350,#eda250,#ec9e51,#ea9953,#e58d56,#dd7e5d,#d36e65,#ca626c,#c25773,#b94d7a,#b04381,#a6398a calc(100% - 2.8px))"></div><div style="top:268.40px;height:6.29px;background:linear-gradient(90deg,#86209d 2.8px,#9a2e93,#ac3f85,#bc5078,#c75d6e,#ce6768,#d67262,#de7f5c,#e58c57,#e99653,#eb9b52,#eda250,#eea550,#ec9f51,#e99653,#e68f56,#e48b57,#e28759,#e0845a,#df815b,#de805c,#df815b,#e0825b,#e28659,#e38a58,#e68f56,#e89454,#ea9953,#ec9d52,#ec9e51,#ec9e51,#eb9a52,#e99554,#e48b57,#dc7c5d,#d36e65,#ca626c,#c25773,#ba4e7a,#b04381,#a6398a calc(100% - 2.8px))"></div><div style="top:274.00px;height:6.29px;background:linear-gradient(90deg,#86209d 2.8px,#9a2e93,#ac3f85,#bc5078,#c65c6f,#cd6669,#d47063,#dc7c5d,#e38858,#e79155,#ea9753,#ec9d52,#ec9f51,#eb9b52,#e89454,#e68f56,#e38a58,#e28659,#e0845a,#df815b,#de805c,#df815b,#e0825b,#e1855a,#e38858,#e58d56,#e79155,#e99653,#ea9953,#eb9a52,#eb9a52,#e99653,#e79155,#e38a58,#dc7b5e,#d26d65,#ca626c,#c25773,#ba4e7a,#b04381,#a73a89 calc(100% - 2.8px))"></div><div style="top:279.59px;height:6.29px;background:linear-gradient(90deg,#86209d 2.8px,#9a2e93,#ac3f85,#bb4f79,#c55b70,#cd656a,#d46f64,#da795f,#e1855a,#e58d56,#e89454,#ea9953,#eb9b52,#ea9753,#e79255,#e58d56,#e38858,#e28659,#e0845a,#df815b,#de805c,#de805c,#df815b,#e0845a,#e28759,#e48b57,#e69055,#e89454,#e99653,#ea9753,#e99653,#e89454,#e68f56,#e28759,#db7a5e,#d26d65,#ca626c,#c25773,#ba4e7a,#b14481,#a73a89 calc(100% - 2.8px))"></div><div style="top:285.18px;height:6.29px;background:linear-gradient(90deg,#86209d 2.8px,#9a2e93,#ab3e86,#ba4e7a,#c45a71,#cc646a,#d26d65,#d97760,#df815b,#e38a58,#e69055,#e99554,#ea9753,#e99554,#e69055,#e58c57,#e38858,#e1855a,#e0825b,#df815b,#de805c,#de805c,#df815b,#e0845a,#e28659,#e38a58,#e58d56,#e79155,#e89454,#e89454,#e79255,#e69055,#e48b57,#e0845a,#da785f,#d16b66,#c9616c,#c25773,#ba4e7a,#b14481,#a83b88 calc(100% - 2.8px))"></div><div style="top:290.77px;height:6.29px;background:linear-gradient(90deg,#86209d 2.8px,#9a2e93,#ab3e86,#b94d7a,#c45971,#cb636b,#d16b66,#d87661,#de7f5c,#e28759,#e58d56,#e79255,#e89454,#e79255,#e68f56,#e48b57,#e28759,#e1855a,#e0825b,#de805c,#de805c,#de805c,#de805c,#e0825b,#e1855a,#e38858,#e58c57,#e68f56,#e79155,#e79155,#e69055,#e58c57,#e38858,#df815b,#d97760,#d16a67,#c9616c,#c25773,#ba4e7a,#b14481,#a83b88 calc(100% - 2.8px))"></div><div style="top:296.36px;height:6.29px;background:linear-gradient(90deg,#86209d 2.8px,#9a2e93,#aa3d86,#b84b7b,#c35872,#ca626c,#d16a67,#d77362,#dc7c5d,#e1855a,#e48b57,#e68f56,#e79155,#e69055,#e58d56,#e38a58,#e28659,#e0845a,#e0825b,#de805c,#de7f5c,#de7f5c,#de805c,#e0825b,#e1855a,#e28759,#e38a58,#e58d56,#e68f56,#e68f56,#e58d56,#e38a58,#e1855a,#dd7e5d,#d77461,#d06967,#c9606d,#c25773,#ba4e7a,#b14481,#a83b88 calc(100% - 2.8px))"></div><div style="top:301.95px;height:6.29px;background:linear-gradient(90deg,#86209d 2.8px,#982d93,#a93c87,#b74a7c,#c25773,#c9616c,#d06967,#d67262,#db7a5e,#e0825b,#e38858,#e58c57,#e68f56,#e68f56,#e58c57,#e38858,#e28659,#e0845a,#df815b,#de805c,#de7f5c,#de7f5c,#de805c,#df815b,#e0845a,#e28659,#e38858,#e48b57,#e58c57,#e58c57,#e48b57,#e28759,#e0825b,#dc7b5e,#d67262,#cf6868,#c9606d,#c15673,#ba4e7a,#b14481,#a83b88 calc(100% - 2.8px))"></div><div style="top:307.55px;height:6.29px;background:linear-gradient(90deg,#86209d 2.8px,#982d93,#a93c87,#b74a7c,#c15673,#c9606d,#cf6868,#d47063,#da795f,#de805c,#e28659,#e48b57,#e58c57,#e58c57,#e48b57,#e28759,#e1855a,#e0845a,#df815b,#de805c,#de7f5c,#de7f5c,#de7f5c,#df815b,#e0825b,#e1855a,#e28759,#e38a58,#e48b57,#e48b57,#e38858,#e1855a,#de7f5c,#da795f,#d47063,#ce6768,#c85e6e,#c15673,#ba4e7a,#b14481,#a83b88 calc(100% - 2.8px))"></div><div style="top:313.14px;height:6.29px;background:linear-gradient(90deg,#86209d 2.8px,#982d93,#a83b88,#b6497d,#c15673,#c9606d,#ce6768,#d46f64,#d97760,#de7f5c,#e1855a,#e38858,#e48b57,#e48b57,#e38a58,#e28759,#e1855a,#e0825b,#df815b,#de7f5c,#de7f5c,#de7f5c,#de7f5c,#de805c,#e0825b,#e1855a,#e28659,#e38858,#e38a58,#e38858,#e28659,#e0825b,#dc7c5d,#d87661,#d46f64,#cd6669,#c85e6e,#c15673,#b94d7a,#b14481,#a83b88 calc(100% - 2.8px))"></div><div style="top:318.73px;height:6.29px;background:linear-gradient(90deg,#851f9d 2.8px,#972c94,#a73a89,#b5487d,#c05574,#c85e6e,#ce6768,#d46f64,#d87661,#dd7e5d,#e0845a,#e28759,#e38a58,#e38a58,#e38858,#e28659,#e1855a,#e0825b,#df815b,#de7f5c,#de7f5c,#dd7e5d,#de7f5c,#de805c,#df815b,#e0845a,#e28659,#e28759,#e38858,#e28759,#e1855a,#df815b,#dc7b5e,#d77461,#d26d65,#cd656a,#c75d6e,#c05574,#b94d7a,#b14481,#a83b88 calc(100% - 2.8px))"></div><div style="top:324.32px;height:6.29px;background:linear-gradient(90deg,#851f9d 2.8px,#972c94,#a73a89,#b4477e,#bf5475,#c85e6e,#cd6669,#d36e65,#d87661,#dc7c5d,#e0825b,#e28759,#e38858,#e38858,#e28759,#e28659,#e0845a,#e0825b,#de805c,#de7f5c,#dd7e5d,#dd7e5d,#de7f5c,#de805c,#df815b,#e0845a,#e1855a,#e28659,#e28759,#e28659,#e0845a,#de805c,#da795f,#d67262,#d16b66,#cd656a,#c75d6e,#c05574,#b94d7a,#b04381,#a73a89 calc(100% - 2.8px))"></div><div style="top:329.91px;height:6.29px;background:linear-gradient(90deg,#851f9d 2.8px,#962b95,#a6398a,#b4477e,#bf5475,#c85e6e,#cd6669,#d36e65,#d77461,#dc7c5d,#e0825b,#e28659,#e38858,#e38858,#e28759,#e28659,#e0845a,#e0825b,#de805c,#de7f5c,#dd7e5d,#dd7e5d,#de7f5c,#de7f5c,#df815b,#e0825b,#e1855a,#e28659,#e28659,#e28659,#e0845a,#de7f5c,#da795f,#d57163,#d16a67,#cc646a,#c65c6f,#c05574,#b84b7b,#b04381,#a73a89 calc(100% - 2.8px))"></div><div style="top:335.50px;height:6.29px;background:linear-gradient(90deg,#851f9d 2.8px,#962b95,#a6398a,#b4477e,#bf5475,#c85e6e,#cd6669,#d26d65,#d77461,#dc7c5d,#e0825b,#e28659,#e38858,#e38858,#e28759,#e28659,#e0845a,#e0825b,#de805c,#de7f5c,#dd7e5d,#dd7e5d,#dd7e5d,#de7f5c,#df815b,#e0825b,#e1855a,#e28659,#e28659,#e28659,#e0845a,#de7f5c,#da785f,#d47063,#d16a67,#cc646a,#c65c6f,#bf5475,#b84b7b,#af4282,#a6398a calc(100% - 2.8px))"></div><div style="top:341.10px;height:6.29px;background:linear-gradient(90deg,#851f9d 2.8px,#962b95,#a6398a,#b3467f,#bf5475,#c85e6e,#cd6669,#d36e65,#d77461,#dc7c5d,#e0825b,#e28659,#e38858,#e38858,#e28759,#e28659,#e0845a,#e0825b,#de805c,#de7f5c,#dd7e5d,#dd7e5d,#dd7e5d,#de7f5c,#df815b,#e0825b,#e1855a,#e28659,#e28659,#e28659,#e0845a,#de7f5c,#da785f,#d47063,#d16a67,#cc646a,#c65c6f,#bf5475,#b84b7b,#af4282,#a5388b calc(100% - 2.8px))"></div><div style="top:346.69px;height:6.29px;background:linear-gradient(90deg,#851f9d 2.8px,#962b95,#a6398a,#b3467f,#bf5475,#c85e6e,#cd6669,#d36e65,#d87661,#dd7e5d,#e0845a,#e28759,#e38858,#e38858,#e28759,#e28659,#e0845a,#e0825b,#de805c,#de7f5c,#dd7e5d,#dd7e5d,#de7f5c,#de7f5c,#df815b,#e0845a,#e1855a,#e28659,#e28759,#e28659,#e0845a,#de805c,#da795f,#d57163,#d16a67,#cc646a,#c65c6f,#bf5475,#b74a7c,#ae4183,#a5388b calc(100% - 2.8px))"></div><div style="top:352.28px;height:6.29px;background:linear-gradient(90deg,#851f9d 2.8px,#962b95,#a6398a,#b3467f,#be5376,#c85e6e,#ce6768,#d46f64,#d97760,#dd7e5d,#e0845a,#e28759,#e38a58,#e38a58,#e38858,#e28659,#e1855a,#e0825b,#de805c,#de7f5c,#dd7e5d,#dd7e5d,#de7f5c,#de805c,#df815b,#e0845a,#e28659,#e28759,#e38858,#e28759,#e1855a,#df815b,#db7a5e,#d67262,#d16a67,#cc646a,#c65c6f,#bf5475,#b74a7c,#ae4183,#a4378b calc(100% - 2.8px))"></div><div style="top:357.87px;height:6.29px;background:linear-gradient(90deg,#86209d 2.8px,#962b95,#a6398a,#b3467f,#be5376,#c85e6e,#ce6768,#d47063,#da785f,#de7f5c,#e1855a,#e38858,#e48b57,#e38a58,#e38858,#e28759,#e1855a,#e0825b,#de805c,#de7f5c,#dd7e5d,#dd7e5d,#de7f5c,#de805c,#e0825b,#e0845a,#e28759,#e38858,#e38a58,#e38858,#e28659,#e0825b,#dc7b5e,#d77362,#d16b66,#cc646a,#c65c6f,#bf5475,#b74a7c,#ae4183,#a4378b calc(100% - 2.8px))"></div><div style="top:363.46px;height:6.29px;background:linear-gradient(90deg,#86209d 2.8px,#972c94,#a6398a,#b3467f,#be5376,#c85e6e,#cf6868,#d57163,#da795f,#df815b,#e28759,#e48b57,#e58c57,#e48b57,#e38a58,#e28759,#e1855a,#e0825b,#df815b,#de7f5c,#de7f5c,#dd7e5d,#de7f5c,#de805c,#e0825b,#e1855a,#e28759,#e38a58,#e48b57,#e48b57,#e38858,#e0845a,#dd7e5d,#d87661,#d26d65,#cd656a,#c75d6e,#c05574,#b74a7c,#ad4084,#a4378b calc(100% - 2.8px))"></div><div style="top:369.05px;height:6.29px;background:linear-gradient(90deg,#86209d 2.8px,#972c94,#a6398a,#b3467f,#be5376,#c85e6e,#cf6868,#d67262,#db7a5e,#e0825b,#e38858,#e58c57,#e58d56,#e58c57,#e48b57,#e38858,#e28659,#e0845a,#df815b,#de805c,#de7f5c,#de7f5c,#de7f5c,#df815b,#e0845a,#e28659,#e38a58,#e58c57,#e58d56,#e58c57,#e38a58,#e28659,#de805c,#d97760,#d36e65,#cd6669,#c85e6e,#c05574,#b74a7c,#ad4084,#a3368c calc(100% - 2.8px))"></div><div style="top:374.65px;height:6.29px;background:linear-gradient(90deg,#87219c 2.8px,#972c94,#a6398a,#b3467f,#be5376,#c85e6e,#d06967,#d77362,#dc7c5d,#e1855a,#e48b57,#e68f56,#e69055,#e68f56,#e58c57,#e38a58,#e28659,#e0845a,#df815b,#de805c,#de7f5c,#de7f5c,#de805c,#df815b,#e0845a,#e28759,#e48b57,#e58d56,#e68f56,#e68f56,#e58c57,#e38858,#e0825b,#da795f,#d47063,#ce6768,#c85e6e,#c15673,#b84b7b,#ad4084,#a3368c calc(100% - 2.8px))"></div><div style="top:380.24px;height:6.29px;background:linear-gradient(90deg,#87219c 2.8px,#972c94,#a6398a,#b3467f,#be5376,#c85e6e,#d06967,#d77461,#de7f5c,#e28759,#e58c57,#e69055,#e79155,#e79155,#e58d56,#e48b57,#e28759,#e1855a,#e0825b,#de805c,#de7f5c,#de7f5c,#de805c,#e0825b,#e1855a,#e38858,#e58c57,#e69055,#e79155,#e79155,#e68f56,#e48b57,#e1855a,#dc7b5e,#d57163,#cf6868,#c9606d,#c25773,#b84b7b,#ad4084,#a4378b calc(100% - 2.8px))"></div><div style="top:385.83px;height:6.29px;background:linear-gradient(90deg,#87219c 2.8px,#982d93,#a6398a,#b3467f,#be5376,#c85e6e,#d16a67,#d87661,#df815b,#e38a58,#e68f56,#e79255,#e89454,#e79255,#e69055,#e58c57,#e38858,#e1855a,#e0825b,#de805c,#de7f5c,#de7f5c,#de805c,#e0825b,#e28659,#e38a58,#e68f56,#e79255,#e89454,#e89454,#e79155,#e58d56,#e28759,#dd7e5d,#d67262,#d06967,#c9616c,#c35872,#b94d7a,#ae4183,#a4378b calc(100% - 2.8px))"></div><div style="top:391.42px;height:6.29px;background:linear-gradient(90deg,#89229c 2.8px,#982d93,#a73a89,#b3467f,#be5376,#c9606d,#d16b66,#da785f,#e0845a,#e58c57,#e79255,#e99653,#ea9753,#e99554,#e79155,#e58d56,#e38858,#e28659,#e0825b,#df815b,#de805c,#de805c,#df815b,#e0845a,#e28759,#e58c57,#e79155,#e99554,#ea9753,#e99653,#e89454,#e68f56,#e38858,#de7f5c,#d77461,#d16a67,#cb636b,#c45971,#ba4e7a,#af4282,#a5388b calc(100% - 2.8px))"></div><div style="top:397.01px;height:6.29px;background:linear-gradient(90deg,#89229c 2.8px,#982d93,#a73a89,#b3467f,#be5376,#c9606d,#d26d65,#db7a5e,#e28659,#e69055,#e99554,#ea9953,#eb9a52,#ea9953,#e89454,#e68f56,#e38a58,#e28659,#e0845a,#df815b,#de805c,#de805c,#df815b,#e1855a,#e38858,#e68f56,#e89454,#ea9953,#eb9b52,#eb9a52,#e99653,#e79155,#e48b57,#df815b,#d87661,#d16b66,#cc646a,#c55b70,#bc5078,#b04381,#a5388b calc(100% - 2.8px))"></div><div style="top:402.60px;height:6.29px;background:linear-gradient(90deg,#89229c 2.8px,#982d93,#a73a89,#b3467f,#be5376,#c9616c,#d36e65,#dc7c5d,#e38a58,#e89454,#ea9953,#ec9e51,#ec9e51,#eb9b52,#e99653,#e69055,#e48b57,#e28759,#e0845a,#df815b,#de805c,#de805c,#e0825b,#e1855a,#e38a58,#e69055,#e99653,#ec9d52,#ec9f51,#ec9e51,#eb9a52,#e89454,#e58d56,#e0845a,#da785f,#d36e65,#cd656a,#c65c6f,#bd5276,#b24580,#a6398a calc(100% - 2.8px))"></div><div style="top:408.20px;height:6.29px;background:linear-gradient(90deg,#89229c 2.8px,#982d93,#a73a89,#b3467f,#be5376,#c9616c,#d46f64,#de7f5c,#e68f56,#ea9753,#ec9d52,#eda250,#eea350,#ec9f51,#ea9753,#e79155,#e58c57,#e28759,#e1855a,#e0825b,#de805c,#de805c,#e0825b,#e28659,#e58c57,#e79255,#eb9a52,#eda151,#eea350,#eda250,#ec9d52,#e99653,#e68f56,#e28659,#db7a5e,#d46f64,#cd6669,#c75d6e,#be5376,#b3467f,#a6398a calc(100% - 2.8px))"></div><div style="top:413.79px;height:6.29px;background:linear-gradient(90deg,#89229c 2.8px,#9a2e93,#a73a89,#b3467f,#bf5475,#ca626c,#d57163,#df815b,#e79255,#ec9d52,#eda250,#efa74f,#efa94f,#eea350,#eb9a52,#e79255,#e58c57,#e38858,#e1855a,#e0825b,#df815b,#df815b,#e0825b,#e28759,#e58d56,#e99554,#ec9d52,#eea550,#efa94f,#efa74f,#eda250,#eb9a52,#e79255,#e38858,#dc7c5d,#d47063,#ce6768,#c85e6e,#be5376,#b3467f,#a4378b calc(100% - 2.8px))"></div><div style="top:419.38px;height:6.29px;background:linear-gradient(90deg,#89229c 2.8px,#9a2e93,#a73a89,#b4477e,#c05574,#cb636b,#d67262,#e0845a,#ea9953,#eea350,#efa74f,#f1ae4e,#f1ae4e,#efa74f,#ec9d52,#e89454,#e58d56,#e38a58,#e28659,#e0825b,#df815b,#df815b,#e0845a,#e38858,#e68f56,#ea9753,#eda151,#efa94f,#f1ae4e,#f0ad4e,#efa650,#ec9e51,#e99554,#e48b57,#de7f5c,#d67262,#cf6868,#c85e6e,#be5376,#b24580,#a2358d calc(100% - 2.8px))"></div><div style="top:424.97px;height:6.29px;background:linear-gradient(90deg,#89229c 2.8px,#9a2e93,#a83b88,#b4477e,#c15673,#cd656a,#d77461,#e28759,#ec9e51,#efa94f,#f1ae4e,#f2b54e,#f2b54e,#f0ac4f,#ec9f51,#e99554,#e68f56,#e38a58,#e28659,#e0825b,#df815b,#df815b,#e0845a,#e38858,#e79155,#eb9a52,#eea550,#f1ae4e,#f2b44e,#f2b34e,#f0ac4f,#eda250,#ea9953,#e68f56,#df815b,#d77362,#cf6868,#c75d6e,#bd5276,#b04381,#9e328f calc(100% - 2.8px))"></div><div style="top:430.56px;height:6.29px;background:linear-gradient(90deg,#89229c 2.8px,#9a2e93,#a83b88,#b5487d,#c25773,#cd6669,#d97760,#e38a58,#eea550,#f1b04e,#f2b74e,#f3bd4d,#f3bd4d,#f1b14e,#eda250,#e99653,#e69055,#e48b57,#e28659,#e0825b,#df815b,#df815b,#e1855a,#e38a58,#e79255,#ec9d52,#efa94f,#f2b44e,#f3bb4d,#f3ba4d,#f2b34e,#efa74f,#ec9e51,#e89454,#e1855a,#d87661,#cf6868,#c75d6e,#bc5177,#ae4183,#9b2f92 calc(100% - 2.8px))"></div><div style="top:436.16px;height:6.29px;background:linear-gradient(90deg,#89229c 2.8px,#9a2e93,#a83b88,#b6497d,#c35872,#cf6868,#db7a5e,#e58d56,#f0aa4f,#f2b74e,#f4be4d,#f4c44e,#f4c34e,#f2b54e,#eea550,#ea9753,#e69055,#e48b57,#e28759,#e0825b,#df815b,#df815b,#e1855a,#e48b57,#e89454,#ec9f51,#f0ad4e,#f3ba4d,#f4c14e,#f4c14e,#f3ba4d,#f1ae4e,#eea550,#ea9953,#e28759,#d97760,#cf6868,#c65c6f,#bb4f79,#ac3f85,#972c94 calc(100% - 2.8px))"></div><div style="top:441.75px;height:6.29px;background:linear-gradient(90deg,#89229c 2.8px,#982d93,#a83b88,#b6497d,#c45a71,#d16b66,#dd7e5d,#e89454,#f1b04e,#f4be4d,#f4c64e,#f5cc4e,#f5ca4e,#f3bb4d,#efa74f,#eb9a52,#e79155,#e58c57,#e28759,#e0825b,#de805c,#df815b,#e28659,#e58c57,#e99554,#eda250,#f1b04e,#f4c04d,#f5c94e,#f5c94e,#f4c14e,#f2b74e,#f0ac4f,#ec9e51,#e48b57,#da785f,#cf6868,#c45a71,#b94d7a,#aa3d86,#962b95 calc(100% - 2.8px))"></div><div style="top:447.34px;height:6.29px;background:linear-gradient(90deg,#87219c 2.8px,#982d93,#a83b88,#b74a7c,#c55b70,#d36e65,#e0825b,#eb9a52,#f2b74e,#f4c64e,#f5cd4f,#f5d350,#f5d24f,#f4c04d,#f0ac4f,#eb9b52,#e79255,#e58c57,#e28759,#e0825b,#de805c,#e0825b,#e28659,#e58d56,#e99653,#eea350,#f2b44e,#f4c44e,#f5d04f,#f5d04f,#f5c94e,#f4be4d,#f2b44e,#eea350,#e58d56,#da785f,#ce6768,#c45971,#b74a7c,#a83b88,#942a96 calc(100% - 2.8px))"></div><div style="top:452.93px;height:6.29px;background:linear-gradient(90deg,#87219c 2.8px,#982d93,#a93c87,#b74a7c,#c65c6f,#d47063,#e28659,#eda151,#f3bd4d,#f5cc4e,#f5d350,#f5da51,#f5d851,#f4c74e,#f1b04e,#ec9e51,#e89454,#e58c57,#e28759,#df815b,#de805c,#df815b,#e28759,#e58d56,#ea9753,#efa650,#f2b74e,#f5ca4e,#f5d650,#f5d650,#f5cf4f,#f4c64e,#f3ba4d,#efa74f,#e69055,#da795f,#cd6669,#c35872,#b5487d,#a6398a,#922997 calc(100% - 2.8px))"></div><div style="top:458.52px;height:6.29px;background:linear-gradient(90deg,#86209d 2.8px,#982d93,#a93c87,#b84b7b,#c75d6e,#d67262,#e38a58,#efa650,#f4c34e,#f5d24f,#f5da51,#f4e053,#f4e053,#f5cd4f,#f2b54e,#eda151,#e99554,#e58c57,#e28659,#df815b,#de7f5c,#df815b,#e28759,#e68f56,#ea9953,#efa74f,#f3ba4d,#f5cf4f,#f4dd52,#f4dd52,#f5d550,#f5cd4f,#f4c14e,#f0ac4f,#e79155,#da785f,#cd656a,#c15673,#b4477e,#a4378b,#912898 calc(100% - 2.8px))"></div><div style="top:464.11px;height:6.29px;background:linear-gradient(90deg,#86209d 2.8px,#982d93,#a83b88,#b84b7b,#c75d6e,#d77461,#e58d56,#f0aa4f,#f4c74e,#f5d550,#f4de52,#f4e554,#f4e554,#f5d350,#f3bb4d,#eea550,#e99653,#e58c57,#e28659,#de805c,#dd7e5d,#df815b,#e28759,#e68f56,#eb9a52,#efa94f,#f3bd4d,#f5d24f,#f4e253,#f4e253,#f5db52,#f5d24f,#f4c64e,#f1ae4e,#e79155,#da785f,#cc646a,#bf5475,#b24580,#a3368c,#902798 calc(100% - 2.8px))"></div><div style="top:469.71px;height:6.29px;background:linear-gradient(90deg,#851f9d 2.8px,#972c94,#a83b88,#b84b7b,#c75d6e,#d87661,#e69055,#f0ad4e,#f5ca4e,#f5d851,#f4e053,#f3e855,#f3e855,#f5d851,#f4be4d,#efa650,#e99653,#e58c57,#e1855a,#de805c,#dd7e5d,#df815b,#e28759,#e69055,#eb9a52,#f0aa4f,#f4be4d,#f5d350,#f4e554,#f4e554,#f4de52,#f5d550,#f5c94e,#f1b04e,#e79155,#d97760,#cb636b,#be5376,#b04381,#a0348e,#8f2699 calc(100% - 2.8px))"></div><div style="top:475.30px;height:6.29px;background:linear-gradient(90deg,#851f9d 2.8px,#972c94,#a83b88,#b74a7c,#c75d6e,#d87661,#e69055,#f1ae4e,#f5ca4e,#f5da51,#f4e253,#f3e855,#f3ea56,#f5da51,#f4c04d,#efa74f,#e99653,#e58c57,#e1855a,#de7f5c,#dc7c5d,#de805c,#e28759,#e68f56,#eb9a52,#f0aa4f,#f4c04d,#f5d550,#f4e554,#f3e855,#f4e253,#f5d851,#f5c94e,#f1ae4e,#e69055,#d87661,#c9616c,#bc5177,#ae4183,#9e328f,#8c249a calc(100% - 2.8px))"></div><div style="top:480.89px;height:6.29px;background:linear-gradient(90deg,#831e9e 2.8px,#962b95,#a73a89,#b74a7c,#c65c6f,#d77461,#e69055,#f1ae4e,#f5ca4e,#f5da51,#f4e253,#f3e855,#f3ea56,#f5da51,#f4c04d,#efa74f,#e99653,#e58c57,#e0845a,#de7f5c,#dc7c5d,#de805c,#e28659,#e68f56,#eb9a52,#f0aa4f,#f4c04d,#f5d550,#f4e554,#f3e855,#f4e354,#f5da51,#f5c94e,#f0ad4e,#e58d56,#d77362,#c9606d,#bb4f79,#ac3f85,#9d3190,#8b239b calc(100% - 2.8px))"></div><div style="top:486.48px;height:6.29px;background:linear-gradient(90deg,#821d9e 2.8px,#952a95,#a6398a,#b6497d,#c55b70,#d77362,#e68f56,#f0ad4e,#f5c94e,#f5d851,#f4e253,#f3e855,#f3e855,#f5d851,#f4be4d,#efa650,#e99653,#e48b57,#e0825b,#dd7e5d,#dc7b5e,#de7f5c,#e1855a,#e58d56,#eb9a52,#f0aa4f,#f4be4d,#f5d350,#f4e354,#f3e855,#f4e354,#f5da51,#f4c74e,#f0ac4f,#e48b57,#d57163,#c75d6e,#b94d7a,#aa3d86,#9b2f92,#8a229b calc(100% - 2.8px))"></div><div style="top:492.07px;height:6.29px;background:linear-gradient(90deg,#811d9f 2.8px,#942a96,#a5388b,#b4477e,#c45971,#d57163,#e58c57,#f0aa4f,#f4c64e,#f5d851,#f4e053,#f4e655,#f4e554,#f5d650,#f3bd4d,#efa650,#e99554,#e38a58,#df815b,#dc7c5d,#dc7b5e,#dd7e5d,#e0845a,#e58c57,#ea9953,#f0aa4f,#f4be4d,#f5d24f,#f4e253,#f4e655,#f4e253,#f5d851,#f4c64e,#efa94f,#e38858,#d46f64,#c55b70,#b74a7c,#a83b88,#982d93,#87219c calc(100% - 2.8px))"></div><div style="top:497.66px;height:6.29px;background:linear-gradient(90deg,#7f1c9f 2.8px,#942a96,#a4378b,#b3467f,#c25773,#d47063,#e38a58,#efa650,#f4c34e,#f5d550,#f4e053,#f4e554,#f4e354,#f5d350,#f3bb4d,#eea550,#e89454,#e38858,#de805c,#dc7b5e,#db7a5e,#dc7c5d,#df815b,#e38a58,#e99653,#efa94f,#f3bb4d,#f5cf4f,#f4de52,#f4e354,#f4e053,#f5d650,#f4c44e,#eea550,#e1855a,#d16b66,#c35872,#b5487d,#a6398a,#972c94,#86209d calc(100% - 2.8px))"></div><div style="top:503.26px;height:6.29px;background:linear-gradient(90deg,#7f1c9f 2.8px,#922997,#a3368c,#b24580,#c15673,#d36e65,#e28759,#eea350,#f4c04d,#f5d350,#f4dd52,#f4e253,#f4e053,#f5d04f,#f3b84e,#eea350,#e79255,#e28759,#de7f5c,#db7a5e,#da795f,#db7a5e,#de805c,#e28759,#e89454,#efa650,#f3ba4d,#f5cc4e,#f5da51,#f4e053,#f4dd52,#f5d350,#f4c14e,#eda250,#df815b,#d06967,#c15673,#b24580,#a4378b,#952a95,#831e9e calc(100% - 2.8px))"></div><div style="top:508.85px;height:6.29px;background:linear-gradient(90deg,#7e1b9f 2.8px,#912898,#a2358d,#b14481,#c05574,#d16b66,#e28659,#eda151,#f3bd4d,#f5d04f,#f5db52,#f4e053,#f4dd52,#f5cf4f,#f2b74e,#eda250,#e79155,#e1855a,#dd7e5d,#da795f,#da785f,#da795f,#dd7e5d,#e1855a,#e79155,#eea350,#f2b74e,#f5c94e,#f5d650,#f5db52,#f5d851,#f5d04f,#f4be4d,#ec9f51,#dd7e5d,#cd6669,#be5376,#b04381,#a2358d,#922997,#821d9e calc(100% - 2.8px))"></div><div style="top:514.44px;height:6.29px;background:linear-gradient(90deg,#7d1aa0 2.8px,#902798,#a0348e,#af4282,#be5376,#d16a67,#e1855a,#ec9f51,#f3bb4d,#f5cd4f,#f5d851,#f4dd52,#f5da51,#f5cc4e,#f2b54e,#eda151,#e68f56,#e0845a,#dc7c5d,#da785f,#d97760,#da785f,#dc7b5e,#e0825b,#e58d56,#eda151,#f2b34e,#f4c44e,#f5d24f,#f5d650,#f5d350,#f5cc4e,#f3bb4d,#ec9d52,#db7a5e,#cb636b,#bc5177,#ad4084,#9f338f,#902798,#7f1c9f calc(100% - 2.8px))"></div><div style="top:520.03px;height:6.29px;background:linear-gradient(90deg,#7b1aa0 2.8px,#8f2699,#9f338f,#ae4183,#bd5276,#cf6868,#e0845a,#ec9e51,#f3b84e,#f5ca4e,#f5d550,#f5da51,#f5d851,#f5ca4e,#f2b44e,#ec9f51,#e58d56,#e0825b,#dc7b5e,#d97760,#d77461,#d87661,#da795f,#de805c,#e48b57,#ec9d52,#f1b04e,#f4c14e,#f5cd4f,#f5d24f,#f5cf4f,#f4c74e,#f3b84e,#ea9953,#da785f,#c9616c,#ba4e7a,#aa3d86,#9c3091,#8c249a,#7d1aa0 calc(100% - 2.8px))"></div><div style="top:525.62px;height:6.29px;background:linear-gradient(90deg,#7a19a0 2.8px,#8e259a,#9d3190,#ad4084,#bc5078,#cd6669,#df815b,#ec9d52,#f2b54e,#f4c74e,#f5d24f,#f5d650,#f5d550,#f4c74e,#f2b34e,#ec9d52,#e58c57,#df815b,#db7a5e,#d87661,#d77362,#d77461,#d97760,#dd7e5d,#e38858,#eb9a52,#f0ad4e,#f3bd4d,#f5c94e,#f5cd4f,#f5c94e,#f4c44e,#f2b44e,#e99653,#d87661,#c75d6e,#b74a7c,#a83b88,#982d93,#8a229b,#7a19a0 calc(100% - 2.8px))"></div><div style="top:531.21px;height:6.29px;background:linear-gradient(90deg,#7718a1 2.8px,#8b239b,#9c3091,#ab3e86,#ba4e7a,#cc646a,#de7f5c,#eb9b52,#f2b34e,#f4c34e,#f5cd4f,#f5d350,#f5d24f,#f4c44e,#f1b04e,#eb9b52,#e48b57,#de805c,#da795f,#d77461,#d67262,#d67262,#d87661,#dc7b5e,#e28659,#ea9753,#efa94f,#f3b84e,#f4c44e,#f5c94e,#f4c44e,#f4c04d,#f1b14e,#e89454,#d77362,#c45a71,#b4477e,#a5388b,#962b95,#87219c,#7718a1 calc(100% - 2.8px))"></div><div style="top:536.81px;height:6.29px;background:linear-gradient(90deg,#7516a1 2.8px,#89229c,#9a2e93,#a93c87,#b74a7c,#c9616c,#dc7c5d,#ea9753,#f1b04e,#f4be4d,#f4c74e,#f5cd4f,#f5cd4f,#f4c14e,#f0ad4e,#eb9a52,#e38a58,#dd7e5d,#d97760,#d67262,#d47063,#d47063,#d77362,#da795f,#e1855a,#e89454,#eea550,#f2b44e,#f4c04d,#f4c34e,#f4c04d,#f3bb4d,#f0ad4e,#e68f56,#d47063,#c35872,#b14481,#a2358d,#922997,#831e9e,#7516a1 calc(100% - 2.8px))"></div><div style="top:542.40px;height:6.29px;background:linear-gradient(90deg,#7114a2 2.8px,#851f9d,#972c94,#a6398a,#b4477e,#c75d6e,#da785f,#e79255,#f0aa4f,#f3b84e,#f4c04d,#f5c94e,#f5c94e,#f3bd4d,#efa94f,#ea9753,#e38858,#dc7c5d,#d87661,#d57163,#d46f64,#d46f64,#d57163,#d97760,#e0825b,#e79155,#ec9f51,#f1ae4e,#f3ba4d,#f3bd4d,#f3ba4d,#f2b54e,#efa94f,#e38a58,#d26d65,#bf5475,#ae4183,#9e328f,#8f2699,#811d9f,#7215a2 calc(100% - 2.8px))"></div><div style="top:547.99px;height:6.29px;background:linear-gradient(90deg,#6e13a2 2.8px,#811d9f,#922997,#a2358d,#b14481,#c45971,#d67262,#e58c57,#eea550,#f1b14e,#f3b84e,#f4c14e,#f4c44e,#f2b74e,#eea550,#e99554,#e28759,#dc7b5e,#d77461,#d47063,#d26d65,#d26d65,#d46f64,#d77461,#de7f5c,#e58d56,#eb9a52,#efa94f,#f2b44e,#f2b74e,#f2b44e,#f1b04e,#eda250,#e1855a,#cf6868,#bc5177,#ab3e86,#9a2e93,#8b239b,#7d1aa0,#6f14a2 calc(100% - 2.8px))"></div><div style="top:553.58px;height:6.29px;background:linear-gradient(90deg,#6b12a2 2.8px,#7d1aa0,#8f2699,#9e328f,#ae4183,#c05574,#d26d65,#e28659,#ec9d52,#efa94f,#f1b04e,#f3b84e,#f3bd4d,#f1b14e,#ec9f51,#e79155,#e0845a,#da795f,#d67262,#d36e65,#d16a67,#d16a67,#d26d65,#d67262,#dc7b5e,#e38858,#e99554,#eda250,#f1ae4e,#f1b04e,#f1ae4e,#efa94f,#eb9a52,#de7f5c,#cc646a,#b94d7a,#a73a89,#962b95,#87219c,#7a19a0,#6c13a2 calc(100% - 2.8px))"></div><div style="top:559.17px;height:6.29px;background:linear-gradient(90deg,#6711a2 2.8px,#7918a1,#8b239b,#9b2f92,#ab3e86,#bc5177,#ce6768,#de805c,#e99554,#eda151,#efa650,#f1b04e,#f2b34e,#f0aa4f,#eb9b52,#e58d56,#de805c,#d87661,#d47063,#d16b66,#d06967,#cf6868,#d16a67,#d47063,#da785f,#e0845a,#e68f56,#eb9b52,#efa74f,#efa94f,#efa650,#eda151,#e79155,#da785f,#c85e6e,#b5487d,#a3368c,#922997,#831e9e,#7617a1,#6a12a2 calc(100% - 2.8px))"></div><div style="top:564.77px;height:6.29px;background:linear-gradient(90deg,#6410a2 2.8px,#7617a1,#87219c,#982d93,#a83b88,#b94d7a,#ca626c,#da795f,#e58d56,#ea9753,#ec9e51,#efa650,#efa94f,#eda250,#e99554,#e38858,#dc7c5d,#d67262,#d26d65,#d06967,#ce6768,#cd6669,#cf6868,#d26d65,#d77461,#dd7e5d,#e38858,#e99554,#ec9f51,#eda151,#ec9d52,#e99653,#e28759,#d57163,#c45971,#b14481,#9f338f,#8e259a,#7f1c9f,#7215a2,#6711a2 calc(100% - 2.8px))"></div><div style="top:570.36px;height:6.29px;background:linear-gradient(90deg,#610fa1 2.8px,#7215a2,#851f9d,#952a95,#a6398a,#b5487d,#c65c6f,#d67262,#e1855a,#e69055,#e99554,#ec9d52,#ec9f51,#eb9a52,#e69055,#e0845a,#da795f,#d46f64,#d16a67,#ce6768,#cd656a,#cc646a,#cd6669,#d06967,#d47063,#da795f,#e0825b,#e58d56,#ea9753,#ea9953,#e89454,#e48b57,#dd7e5d,#d16a67,#bf5475,#ad4084,#9b2f92,#8a229b,#7b1aa0,#6f14a2,#6410a2 calc(100% - 2.8px))"></div><div style="top:575.95px;height:6.29px;background:linear-gradient(90deg,#5e0fa1 2.8px,#6f14a2,#811d9f,#942a96,#a4378b,#b24580,#c35872,#d16b66,#dd7e5d,#e28759,#e58d56,#e89454,#e99653,#e79255,#e38a58,#de7f5c,#d77461,#d26d65,#cf6868,#cd656a,#ca626c,#ca626c,#cb636b,#ce6768,#d26d65,#d77461,#dc7c5d,#e28759,#e68f56,#e69055,#e48b57,#df815b,#d77461,#cb636b,#bb4f79,#a83b88,#962b95,#86209d,#7718a1,#6b12a2,#610fa1 calc(100% - 2.8px))"></div><div style="top:581.54px;height:6.29px;background:linear-gradient(90deg,#5a0ea0 2.8px,#6b12a2,#7e1b9f,#912898,#a2358d,#b04381,#be5376,#cd656a,#d87661,#de7f5c,#e1855a,#e48b57,#e58d56,#e48b57,#e0845a,#db7a5e,#d57163,#d06967,#cd656a,#ca626c,#c9606d,#c9606d,#c9616c,#cc646a,#d06967,#d47063,#da785f,#de805c,#e28659,#e28659,#e0825b,#da795f,#d26d65,#c65c6f,#b6497d,#a4378b,#922997,#811d9f,#7316a2,#6711a2,#5d0ea1 calc(100% - 2.8px))"></div><div style="top:587.13px;height:6.29px;background:linear-gradient(90deg,#570da0 2.8px,#6811a2,#7a19a0,#8f2699,#a0348e,#ae4183,#bb4f79,#c85e6e,#d46f64,#da785f,#dc7c5d,#e0825b,#e28659,#e0845a,#dd7e5d,#d87661,#d26d65,#cd6669,#cb636b,#c9606d,#c75d6e,#c65c6f,#c85e6e,#ca626c,#cd6669,#d26d65,#d67262,#da795f,#dd7e5d,#dd7e5d,#da795f,#d57163,#cd656a,#c05574,#b14481,#9f338f,#8e259a,#7d1aa0,#6f14a2,#6410a2,#5a0ea0 calc(100% - 2.8px))"></div><div style="top:592.72px;height:6.29px;background:linear-gradient(90deg,#540c9f 2.8px,#6410a2,#7617a1,#8c249a,#9f338f,#ab3e86,#b74a7c,#c45971,#cf6868,#d47063,#d87661,#dc7b5e,#de7f5c,#dd7e5d,#da785f,#d47063,#d06967,#cc646a,#c9606d,#c75d6e,#c45a71,#c45a71,#c55b70,#c85e6e,#cc646a,#cf6868,#d36e65,#d67262,#d77461,#d87661,#d57163,#d06967,#c75d6e,#bb4f79,#ac3f85,#9b2f92,#8a229b,#7a19a0,#6b12a2,#600fa1,#570da0 calc(100% - 2.8px))"></div><div style="top:598.32px;height:6.29px;background:linear-gradient(90deg,#510c9e 2.8px,#600fa1,#7215a2,#89229c,#9d3190,#a93c87,#b4477e,#c05574,#ca626c,#d06967,#d46f64,#d77461,#da785f,#d97760,#d67262,#d16b66,#cd656a,#c9616c,#c75d6e,#c45a71,#c35872,#c25773,#c45971,#c65c6f,#c9616c,#cd656a,#d06967,#d26d65,#d36e65,#d36e65,#d06967,#ca626c,#c15673,#b5487d,#a73a89,#972c94,#86209d,#7617a1,#6811a2,#5d0ea1,#540c9f calc(100% - 2.8px))"></div><div style="top:603.91px;height:6.29px;background:linear-gradient(90deg,#4d0b9d 2.8px,#5b0ea1,#6e13a2,#831e9e,#9b2f92,#a5388b,#b04381,#bc5078,#c65c6f,#cc646a,#cf6868,#d36e65,#d57163,#d47063,#d26d65,#ce6768,#ca626c,#c75d6e,#c45a71,#c25773,#c05574,#c05574,#c15673,#c45971,#c75d6e,#ca626c,#cd656a,#ce6768,#ce6768,#ce6768,#cb636b,#c45a71,#bc5078,#b04381,#a2358d,#922997,#831e9e,#7215a2,#6410a2,#5a0ea0,#510c9e calc(100% - 2.8px))"></div><div style="top:609.50px;height:6.29px;background:linear-gradient(90deg,#4a0b9c 2.8px,#580da0,#6811a2,#7e1b9f,#952a95,#a0348e,#ac3f85,#b84b7b,#c25773,#c75d6e,#cb636b,#cf6868,#d16b66,#d16a67,#ce6768,#ca626c,#c75d6e,#c45a71,#c25773,#c05574,#be5376,#bd5276,#be5376,#c15673,#c45a71,#c85e6e,#c9616c,#ca626c,#ca626c,#c9616c,#c65c6f,#bf5475,#b6497d,#ab3e86,#9d3190,#8f2699,#7f1c9f,#6f14a2,#610fa1,#570da0,#4e0c9e calc(100% - 2.8px))"></div><div style="top:615.09px;height:6.29px;background:linear-gradient(90deg,#470b9b 2.8px,#540c9f,#6410a2,#7718a1,#8f2699,#9c3091,#a73a89,#b3467f,#bd5276,#c35872,#c75d6e,#cb636b,#cd656a,#cd656a,#ca626c,#c75d6e,#c45a71,#c25773,#bf5475,#bd5276,#bc5078,#bb4f79,#bc5177,#bf5475,#c25773,#c45a71,#c65c6f,#c75d6e,#c75d6e,#c55b70,#c15673,#ba4e7a,#b14481,#a6398a,#982d93,#8b239b,#7d1aa0,#6c13a2,#5e0fa1,#540c9f,#4b0b9d calc(100% - 2.8px))"></div><div style="top:620.68px;height:6.29px;background:linear-gradient(90deg,#440a9a 2.8px,#500c9e,#5e0fa1,#7215a2,#87219c,#962b95,#a3368c,#af4282,#b94d7a,#bf5475,#c35872,#c75d6e,#c9606d,#c9606d,#c65c6f,#c45971,#c15673,#be5376,#bc5177,#ba4e7a,#b94d7a,#b84b7b,#ba4e7a,#bc5078,#bf5475,#c25773,#c35872,#c45971,#c35872,#c15673,#bc5078,#b5487d,#ac3f85,#a2358d,#952a95,#87219c,#7918a1,#6811a2,#5b0ea1,#510c9e,#4a0b9c calc(100% - 2.8px))"></div><div style="top:626.27px;height:6.29px;background:linear-gradient(90deg,#3f0a98 2.8px,#4b0b9d,#5a0ea0,#6c13a2,#811d9f,#8f2699,#9d3190,#ab3e86,#b5487d,#bb4f79,#bf5475,#c35872,#c45a71,#c45a71,#c35872,#c05574,#bd5276,#bc5078,#ba4e7a,#b74a7c,#b5487d,#b5487d,#b6497d,#b94d7a,#bc5078,#be5376,#bf5475,#c05574,#bf5475,#bc5177,#b74a7c,#af4282,#a73a89,#9c3091,#902798,#831e9e,#7516a1,#6510a2,#580da0,#4e0c9e,#470b9b calc(100% - 2.8px))"></div><div style="top:631.87px;height:6.29px;background:linear-gradient(90deg,#3b0997 2.8px,#480b9c,#560d9f,#6711a2,#7918a1,#89229c,#962b95,#a6398a,#b04381,#b6497d,#bb4f79,#be5376,#c05574,#c05574,#be5376,#bc5177,#bb4f79,#b94d7a,#b74a7c,#b4477e,#b24580,#b24580,#b3467f,#b6497d,#b94d7a,#bb4f79,#bc5177,#bc5177,#bc5078,#b84b7b,#b24580,#aa3d86,#a2358d,#972c94,#8c249a,#7f1c9f,#7114a2,#610fa1,#560d9f,#4d0b9d,#450a9b calc(100% - 2.8px))"></div><div style="top:637.46px;height:6.29px;background:linear-gradient(90deg,#380995 2.8px,#440a9a,#510c9e,#610fa1,#7316a2,#811d9f,#902798,#a2358d,#ab3e86,#b14481,#b6497d,#b94d7a,#bc5078,#bc5078,#ba4e7a,#b94d7a,#b74a7c,#b5487d,#b3467f,#b14481,#af4282,#af4282,#b04381,#b24580,#b5487d,#b74a7c,#b94d7a,#b94d7a,#b84b7b,#b4477e,#ae4183,#a6398a,#9c3091,#942a96,#89229c,#7b1aa0,#6c13a2,#5e0fa1,#530c9f,#4a0b9c,#420a9a calc(100% - 2.8px))"></div><div style="top:643.05px;height:6.29px;background:linear-gradient(90deg,#330893 2.8px,#3f0a98,#4e0c9e,#5d0ea1,#6c13a2,#7a19a0,#89229c,#9d3190,#a6398a,#ab3e86,#b04381,#b4477e,#b74a7c,#b74a7c,#b6497d,#b5487d,#b3467f,#b24580,#b04381,#ae4183,#ac3f85,#ac3f85,#ad4084,#af4282,#b14481,#b3467f,#b5487d,#b5487d,#b4477e,#b04381,#a93c87,#a0348e,#972c94,#8f2699,#851f9d,#7617a1,#6811a2,#5a0ea0,#4e0c9e,#450a9b,#3f0a98 calc(100% - 2.8px))"></div><div style="top:648.64px;height:6.29px;background:linear-gradient(90deg,#2e0891 2.8px,#3c0997,#4a0b9c,#580da0,#6711a2,#7516a1,#821d9e,#972c94,#a0348e,#a6398a,#ab3e86,#af4282,#b14481,#b24580,#b14481,#b04381,#b04381,#ae4183,#ac3f85,#aa3d86,#a93c87,#a83b88,#a93c87,#ab3e86,#ad4084,#af4282,#b14481,#b14481,#b04381,#ac3f85,#a5388b,#9c3091,#922997,#8b239b,#811d9f,#7215a2,#6410a2,#560d9f,#4b0b9d,#420a9a,#3c0997 calc(100% - 2.8px))"></div><div style="top:654.23px;height:6.29px;background:linear-gradient(90deg,#2b0890 2.8px,#390996,#470b9b,#540c9f,#6210a2,#6f14a2,#7b1aa0,#912898,#9a2e93,#9f338f,#a6398a,#aa3d86,#ad4084,#ad4084,#ad4084,#ac3f85,#ac3f85,#ab3e86,#a93c87,#a73a89,#a5388b,#a5388b,#a6398a,#a83b88,#aa3d86,#ac3f85,#ad4084,#ae4183,#ac3f85,#a83b88,#a0348e,#972c94,#8f2699,#87219c,#7b1aa0,#6c13a2,#5e0fa1,#530c9f,#480b9c,#3f0a98,#380995 calc(100% - 2.8px))"></div><div style="top:659.82px;height:6.29px;background:linear-gradient(90deg,#26078d 2.8px,#350994,#420a9a,#510c9e,#5e0fa1,#6a12a2,#7617a1,#89229c,#912898,#972c94,#9f338f,#a6398a,#a83b88,#a83b88,#a83b88,#a83b88,#a83b88,#a73a89,#a5388b,#a4378b,#a2358d,#a2358d,#a3368c,#a4378b,#a6398a,#a83b88,#a93c87,#aa3d86,#a83b88,#a4378b,#9c3091,#922997,#8a229b,#821d9e,#7718a1,#6811a2,#5a0ea0,#4e0c9e,#440a9a,#3b0997,#350994 calc(100% - 2.8px))"></div><div style="top:665.42px;height:6.29px;background:linear-gradient(90deg,#22078c 2.8px,#310893,#3f0a98,#4d0b9d,#5a0ea0,#6510a2,#7114a2,#811d9f,#89229c,#8f2699,#982d93,#a0348e,#a3368c,#a4378b,#a4378b,#a4378b,#a4378b,#a3368c,#a2358d,#9f338f,#9e328f,#9d3190,#9e328f,#9f338f,#a2358d,#a4378b,#a6398a,#a6398a,#a4378b,#9f338f,#972c94,#8e259a,#851f9d,#7e1b9f,#7114a2,#610fa1,#560d9f,#4a0b9c,#3f0a98,#380995,#300892 calc(100% - 2.8px))"></div><div style="top:671.01px;height:6.29px;background:linear-gradient(90deg,#1e078a 2.8px,#2e0891,#3c0997,#4a0b9c,#560d9f,#610fa1,#6b12a2,#7718a1,#7e1b9f,#86209d,#922997,#9b2f92,#9e328f,#9e328f,#9f338f,#9f338f,#9f338f,#9f338f,#9d3190,#9c3091,#9b2f92,#9a2e93,#9b2f92,#9c3091,#9e328f,#9f338f,#a2358d,#a2358d,#9f338f,#9b2f92,#922997,#89229c,#7f1c9f,#7918a1,#6b12a2,#5b0ea1,#500c9e,#450a9b,#3c0997,#350994,#2d0890 calc(100% - 2.8px))"></div></div>
<div class="hm" style="left:105.2px;top:884.0px;width:677.8px;height:676.5px;clip-path:polygon(378.1px 0.0px,378.1px 5.6px,411.7px 5.6px,411.7px 11.2px,434.1px 11.2px,434.1px 16.8px,450.9px 16.8px,450.9px 22.4px,462.1px 22.4px,462.1px 28.0px,478.9px 28.0px,478.9px 33.5px,490.1px 33.5px,490.1px 39.1px,501.3px 39.1px,501.3px 44.7px,506.9px 44.7px,506.9px 50.3px,518.2px 50.3px,518.2px 55.9px,529.4px 55.9px,529.4px 61.5px,535.0px 61.5px,535.0px 67.1px,540.6px 67.1px,540.6px 72.7px,551.8px 72.7px,551.8px 78.3px,557.4px 78.3px,557.4px 83.9px,563.0px 83.9px,563.0px 89.5px,568.6px 89.5px,568.6px 95.0px,574.2px 95.0px,574.2px 100.6px,579.8px 100.6px,579.8px 106.2px,585.4px 106.2px,585.4px 111.8px,591.0px 111.8px,591.0px 117.4px,596.6px 117.4px,596.6px 123.0px,602.2px 123.0px,602.2px 128.6px,602.2px 128.6px,602.2px 134.2px,607.8px 134.2px,607.8px 139.8px,613.4px 139.8px,613.4px 145.4px,619.0px 145.4px,619.0px 151.0px,619.0px 151.0px,619.0px 156.5px,624.6px 156.5px,624.6px 162.1px,624.6px 162.1px,624.6px 167.7px,630.2px 167.7px,630.2px 173.3px,635.8px 173.3px,635.8px 178.9px,635.8px 178.9px,635.8px 184.5px,641.4px 184.5px,641.4px 190.1px,641.4px 190.1px,641.4px 195.7px,647.0px 195.7px,647.0px 201.3px,647.0px 201.3px,647.0px 206.9px,647.0px 206.9px,647.0px 212.5px,652.6px 212.5px,652.6px 218.0px,652.6px 218.0px,652.6px 223.6px,658.2px 223.6px,658.2px 229.2px,658.2px 229.2px,658.2px 234.8px,658.2px 234.8px,658.2px 240.4px,663.8px 240.4px,663.8px 246.0px,663.8px 246.0px,663.8px 251.6px,663.8px 251.6px,663.8px 257.2px,663.8px 257.2px,663.8px 262.8px,669.4px 262.8px,669.4px 268.4px,669.4px 268.4px,669.4px 274.0px,669.4px 274.0px,669.4px 279.5px,669.4px 279.5px,669.4px 285.1px,669.4px 285.1px,669.4px 290.7px,669.4px 290.7px,669.4px 296.3px,675.0px 296.3px,675.0px 301.9px,675.0px 301.9px,675.0px 307.5px,675.0px 307.5px,675.0px 313.1px,675.0px 313.1px,675.0px 318.7px,675.0px 318.7px,675.0px 324.3px,675.0px 324.3px,675.0px 329.9px,675.0px 329.9px,675.0px 335.5px,675.0px 335.5px,675.0px 341.0px,675.0px 341.0px,675.0px 346.6px,675.0px 346.6px,675.0px 352.2px,675.0px 352.2px,675.0px 357.8px,675.0px 357.8px,675.0px 363.4px,675.0px 363.4px,675.0px 369.0px,675.0px 369.0px,675.0px 374.6px,675.0px 374.6px,675.0px 380.2px,669.4px 380.2px,669.4px 385.8px,669.4px 385.8px,669.4px 391.4px,669.4px 391.4px,669.4px 397.0px,669.4px 397.0px,669.4px 402.5px,669.4px 402.5px,669.4px 408.1px,669.4px 408.1px,669.4px 413.7px,663.8px 413.7px,663.8px 419.3px,663.8px 419.3px,663.8px 424.9px,663.8px 424.9px,663.8px 430.5px,663.8px 430.5px,663.8px 436.1px,658.2px 436.1px,658.2px 441.7px,658.2px 441.7px,658.2px 447.3px,658.2px 447.3px,658.2px 452.9px,652.6px 452.9px,652.6px 458.5px,652.6px 458.5px,652.6px 464.0px,647.0px 464.0px,647.0px 469.6px,647.0px 469.6px,647.0px 475.2px,647.0px 475.2px,647.0px 480.8px,641.4px 480.8px,641.4px 486.4px,641.4px 486.4px,641.4px 492.0px,635.8px 492.0px,635.8px 497.6px,635.8px 497.6px,635.8px 503.2px,630.2px 503.2px,630.2px 508.8px,624.6px 508.8px,624.6px 514.4px,624.6px 514.4px,624.6px 520.0px,619.0px 520.0px,619.0px 525.5px,619.0px 525.5px,619.0px 531.1px,613.4px 531.1px,613.4px 536.7px,607.8px 536.7px,607.8px 542.3px,602.2px 542.3px,602.2px 547.9px,602.2px 547.9px,602.2px 553.5px,596.6px 553.5px,596.6px 559.1px,591.0px 559.1px,591.0px 564.7px,585.4px 564.7px,585.4px 570.3px,579.8px 570.3px,579.8px 575.9px,574.2px 575.9px,574.2px 581.5px,568.6px 581.5px,568.6px 587.0px,563.0px 587.0px,563.0px 592.6px,557.4px 592.6px,557.4px 598.2px,551.8px 598.2px,551.8px 603.8px,540.6px 603.8px,540.6px 609.4px,535.0px 609.4px,535.0px 615.0px,529.4px 615.0px,529.4px 620.6px,518.2px 620.6px,518.2px 626.2px,506.9px 626.2px,506.9px 631.8px,501.3px 631.8px,501.3px 637.4px,490.1px 637.4px,490.1px 643.0px,478.9px 643.0px,478.9px 648.5px,462.1px 648.5px,462.1px 654.1px,450.9px 654.1px,450.9px 659.7px,434.1px 659.7px,434.1px 665.3px,411.7px 665.3px,411.7px 670.9px,378.1px 670.9px,378.1px 676.5px,294.1px 676.5px,294.1px 670.9px,260.5px 670.9px,260.5px 665.3px,238.1px 665.3px,238.1px 659.7px,221.3px 659.7px,221.3px 654.1px,210.1px 654.1px,210.1px 648.5px,193.3px 648.5px,193.3px 643.0px,182.1px 643.0px,182.1px 637.4px,170.9px 637.4px,170.9px 631.8px,165.2px 631.8px,165.2px 626.2px,154.0px 626.2px,154.0px 620.6px,142.8px 620.6px,142.8px 615.0px,137.2px 615.0px,137.2px 609.4px,131.6px 609.4px,131.6px 603.8px,120.4px 603.8px,120.4px 598.2px,114.8px 598.2px,114.8px 592.6px,109.2px 592.6px,109.2px 587.0px,103.6px 587.0px,103.6px 581.5px,98.0px 581.5px,98.0px 575.9px,92.4px 575.9px,92.4px 570.3px,86.8px 570.3px,86.8px 564.7px,81.2px 564.7px,81.2px 559.1px,75.6px 559.1px,75.6px 553.5px,70.0px 553.5px,70.0px 547.9px,70.0px 547.9px,70.0px 542.3px,64.4px 542.3px,64.4px 536.7px,58.8px 536.7px,58.8px 531.1px,53.2px 531.1px,53.2px 525.5px,53.2px 525.5px,53.2px 520.0px,47.6px 520.0px,47.6px 514.4px,47.6px 514.4px,47.6px 508.8px,42.0px 508.8px,42.0px 503.2px,36.4px 503.2px,36.4px 497.6px,36.4px 497.6px,36.4px 492.0px,30.8px 492.0px,30.8px 486.4px,30.8px 486.4px,30.8px 480.8px,25.2px 480.8px,25.2px 475.2px,25.2px 475.2px,25.2px 469.6px,25.2px 469.6px,25.2px 464.0px,19.6px 464.0px,19.6px 458.5px,19.6px 458.5px,19.6px 452.9px,14.0px 452.9px,14.0px 447.3px,14.0px 447.3px,14.0px 441.7px,14.0px 441.7px,14.0px 436.1px,8.4px 436.1px,8.4px 430.5px,8.4px 430.5px,8.4px 424.9px,8.4px 424.9px,8.4px 419.3px,8.4px 419.3px,8.4px 413.7px,2.8px 413.7px,2.8px 408.1px,2.8px 408.1px,2.8px 402.5px,2.8px 402.5px,2.8px 397.0px,2.8px 397.0px,2.8px 391.4px,2.8px 391.4px,2.8px 385.8px,2.8px 385.8px,2.8px 380.2px,-2.8px 380.2px,-2.8px 374.6px,-2.8px 374.6px,-2.8px 369.0px,-2.8px 369.0px,-2.8px 363.4px,-2.8px 363.4px,-2.8px 357.8px,-2.8px 357.8px,-2.8px 352.2px,-2.8px 352.2px,-2.8px 346.6px,-2.8px 346.6px,-2.8px 341.0px,-2.8px 341.0px,-2.8px 335.5px,-2.8px 335.5px,-2.8px 329.9px,-2.8px 329.9px,-2.8px 324.3px,-2.8px 324.3px,-2.8px 318.7px,-2.8px 318.7px,-2.8px 313.1px,-2.8px 313.1px,-2.8px 307.5px,-2.8px 307.5px,-2.8px 301.9px,-2.8px 301.9px,-2.8px 296.3px,2.8px 296.3px,2.8px 290.7px,2.8px 290.7px,2.8px 285.1px,2.8px 285.1px,2.8px 279.5px,2.8px 279.5px,2.8px 274.0px,2.8px 274.0px,2.8px 268.4px,2.8px 268.4px,2.8px 262.8px,8.4px 262.8px,8.4px 257.2px,8.4px 257.2px,8.4px 251.6px,8.4px 251.6px,8.4px 246.0px,8.4px 246.0px,8.4px 240.4px,14.0px 240.4px,14.0px 234.8px,14.0px 234.8px,14.0px 229.2px,14.0px 229.2px,14.0px 223.6px,19.6px 223.6px,19.6px 218.0px,19.6px 218.0px,19.6px 212.5px,25.2px 212.5px,25.2px 206.9px,25.2px 206.9px,25.2px 201.3px,25.2px 201.3px,25.2px 195.7px,30.8px 195.7px,30.8px 190.1px,30.8px 190.1px,30.8px 184.5px,36.4px 184.5px,36.4px 178.9px,36.4px 178.9px,36.4px 173.3px,42.0px 173.3px,42.0px 167.7px,47.6px 167.7px,47.6px 162.1px,47.6px 162.1px,47.6px 156.5px,53.2px 156.5px,53.2px 151.0px,53.2px 151.0px,53.2px 145.4px,58.8px 145.4px,58.8px 139.8px,64.4px 139.8px,64.4px 134.2px,70.0px 134.2px,70.0px 128.6px,70.0px 128.6px,70.0px 123.0px,75.6px 123.0px,75.6px 117.4px,81.2px 117.4px,81.2px 111.8px,86.8px 111.8px,86.8px 106.2px,92.4px 106.2px,92.4px 100.6px,98.0px 100.6px,98.0px 95.0px,103.6px 95.0px,103.6px 89.5px,109.2px 89.5px,109.2px 83.9px,114.8px 83.9px,114.8px 78.3px,120.4px 78.3px,120.4px 72.7px,131.6px 72.7px,131.6px 67.1px,137.2px 67.1px,137.2px 61.5px,142.8px 61.5px,142.8px 55.9px,154.0px 55.9px,154.0px 50.3px,165.2px 50.3px,165.2px 44.7px,170.9px 44.7px,170.9px 39.1px,182.1px 39.1px,182.1px 33.5px,193.3px 33.5px,193.3px 28.0px,210.1px 28.0px,210.1px 22.4px,221.3px 22.4px,221.3px 16.8px,238.1px 16.8px,238.1px 11.2px,260.5px 11.2px,260.5px 5.6px,294.1px 5.6px,294.1px 0.0px)"><div style="top:0.00px;height:6.29px;background:linear-gradient(90deg,#160786 2.8px,#1c0789,#20078b,#28088e,#2d0890,#330893,#3b0997,#420a9a,#4b0b9d,#540c9f,#5d0ea1,#6410a2,#6b12a2,#7215a2,#7918a1,#7e1b9f,#811d9f,#811d9f,#7f1c9f,#7f1c9f,#821d9e,#86209d,#8b239b,#902798,#922997,#912898,#8c249a,#86209d,#7f1c9f,#7a19a0,#7516a1,#6f14a2,#6a12a2,#6410a2,#600fa1,#5d0ea1,#5b0ea1,#580da0,#560d9f,#530c9f,#510c9e calc(100% - 2.8px))"></div><div style="top:5.59px;height:6.29px;background:linear-gradient(90deg,#160786 2.8px,#1c0789,#22078c,#28088e,#2e0891,#350994,#3c0997,#440a9a,#4d0b9d,#570da0,#5e0fa1,#6711a2,#6e13a2,#7516a1,#7b1aa0,#811d9f,#831e9e,#851f9d,#831e9e,#831e9e,#86209d,#8a229b,#902798,#952a95,#972c94,#962b95,#912898,#8b239b,#851f9d,#7f1c9f,#7a19a0,#7316a2,#6e13a2,#6811a2,#6410a2,#610fa1,#5e0fa1,#5b0ea1,#5a0ea0,#570da0,#540c9f calc(100% - 2.8px))"></div><div style="top:11.18px;height:6.29px;background:linear-gradient(90deg,#160786 2.8px,#1c0789,#22078c,#29088f,#300892,#360995,#3e0a98,#450a9b,#4e0c9e,#580da0,#610fa1,#6811a2,#7114a2,#7718a1,#7e1b9f,#831e9e,#87219c,#89229c,#89229c,#89229c,#8a229b,#8f2699,#942a96,#9a2e93,#9c3091,#9b2f92,#962b95,#8f2699,#8a229b,#851f9d,#7e1b9f,#7718a1,#7215a2,#6b12a2,#6711a2,#6410a2,#6210a2,#600fa1,#5d0ea1,#5a0ea0,#570da0 calc(100% - 2.8px))"></div><div style="top:16.77px;height:6.29px;background:linear-gradient(90deg,#160786 2.8px,#1c0789,#24078c,#2b0890,#300892,#380995,#3f0a98,#470b9b,#510c9e,#5a0ea0,#6210a2,#6b12a2,#7215a2,#7a19a0,#811d9f,#87219c,#8b239b,#8c249a,#8c249a,#8c249a,#8f2699,#942a96,#982d93,#9e328f,#a0348e,#9f338f,#9b2f92,#942a96,#8e259a,#89229c,#831e9e,#7d1aa0,#7617a1,#6f14a2,#6b12a2,#6811a2,#6510a2,#6210a2,#610fa1,#5e0fa1,#5b0ea1 calc(100% - 2.8px))"></div><div style="top:22.36px;height:6.29px;background:linear-gradient(90deg,#160786 2.8px,#1e078a,#24078c,#2b0890,#310893,#390996,#410a99,#480b9c,#530c9f,#5b0ea1,#6410a2,#6c13a2,#7516a1,#7d1aa0,#831e9e,#8a229b,#8f2699,#902798,#902798,#902798,#922997,#972c94,#9d3190,#a3368c,#a5388b,#a4378b,#9f338f,#982d93,#922997,#8e259a,#89229c,#811d9f,#7918a1,#7316a2,#6f14a2,#6b12a2,#6a12a2,#6711a2,#6410a2,#610fa1,#5e0fa1 calc(100% - 2.8px))"></div><div style="top:27.95px;height:6.29px;background:linear-gradient(90deg,#160786 2.8px,#1e078a,#26078d,#2d0890,#330893,#3b0997,#420a9a,#4a0b9c,#540c9f,#5d0ea1,#6711a2,#6f14a2,#7718a1,#7f1c9f,#86209d,#8e259a,#912898,#942a96,#942a96,#942a96,#972c94,#9c3091,#a2358d,#a73a89,#a93c87,#a83b88,#a3368c,#9d3190,#972c94,#922997,#8c249a,#851f9d,#7d1aa0,#7718a1,#7215a2,#6f14a2,#6c13a2,#6a12a2,#6811a2,#6410a2,#610fa1 calc(100% - 2.8px))"></div><div style="top:33.55px;height:6.29px;background:linear-gradient(90deg,#160786 2.8px,#1e078a,#28088e,#2e0891,#350994,#3c0997,#440a9a,#4b0b9d,#560d9f,#600fa1,#6811a2,#7114a2,#7918a1,#811d9f,#89229c,#902798,#952a95,#972c94,#972c94,#982d93,#9c3091,#a0348e,#a73a89,#ab3e86,#ad4084,#ac3f85,#a73a89,#a2358d,#9c3091,#972c94,#912898,#8a229b,#811d9f,#7a19a0,#7617a1,#7316a2,#7114a2,#6e13a2,#6b12a2,#6811a2,#6510a2 calc(100% - 2.8px))"></div><div style="top:39.14px;height:6.29px;background:linear-gradient(90deg,#160786 2.8px,#20078b,#28088e,#300892,#360995,#3e0a98,#450a9b,#4d0b9d,#570da0,#610fa1,#6b12a2,#7316a2,#7b1aa0,#831e9e,#8b239b,#922997,#982d93,#9a2e93,#9b2f92,#9c3091,#9f338f,#a5388b,#ab3e86,#af4282,#b24580,#b04381,#ac3f85,#a6398a,#a0348e,#9c3091,#962b95,#8e259a,#851f9d,#7e1b9f,#7a19a0,#7617a1,#7316a2,#7215a2,#6e13a2,#6b12a2,#6811a2 calc(100% - 2.8px))"></div><div style="top:44.73px;height:6.29px;background:linear-gradient(90deg,#180787 2.8px,#20078b,#29088f,#310893,#380995,#3f0a98,#470b9b,#4e0c9e,#570da0,#6210a2,#6c13a2,#7617a1,#7e1b9f,#86209d,#8e259a,#952a95,#9b2f92,#9d3190,#9e328f,#a0348e,#a4378b,#a93c87,#af4282,#b4477e,#b6497d,#b4477e,#b04381,#aa3d86,#a5388b,#a0348e,#9a2e93,#912898,#89229c,#821d9e,#7d1aa0,#7a19a0,#7718a1,#7516a1,#7215a2,#6f14a2,#6b12a2 calc(100% - 2.8px))"></div><div style="top:50.32px;height:6.29px;background:linear-gradient(90deg,#180787 2.8px,#22078c,#2b0890,#310893,#390996,#410a99,#480b9c,#500c9e,#5a0ea0,#6410a2,#6f14a2,#7918a1,#811d9f,#89229c,#902798,#972c94,#9d3190,#a0348e,#a2358d,#a4378b,#a83b88,#ad4084,#b3467f,#b84b7b,#ba4e7a,#b84b7b,#b4477e,#af4282,#aa3d86,#a5388b,#9e328f,#952a95,#8c249a,#86209d,#811d9f,#7e1b9f,#7b1aa0,#7918a1,#7617a1,#7215a2,#6e13a2 calc(100% - 2.8px))"></div><div style="top:55.91px;height:6.29px;background:linear-gradient(90deg,#1a0788 2.8px,#24078c,#2d0890,#350994,#3b0997,#440a9a,#4b0b9d,#530c9f,#5b0ea1,#6711a2,#7114a2,#7a19a0,#831e9e,#8b239b,#922997,#9a2e93,#9f338f,#a4378b,#a5388b,#a83b88,#ac3f85,#b14481,#b74a7c,#bc5177,#be5376,#bc5177,#b84b7b,#b3467f,#ae4183,#a93c87,#a2358d,#982d93,#902798,#89229c,#851f9d,#821d9e,#7f1c9f,#7b1aa0,#7918a1,#7516a1,#7215a2 calc(100% - 2.8px))"></div><div style="top:61.50px;height:6.29px;background:linear-gradient(90deg,#1c0789 2.8px,#26078d,#2e0891,#360995,#3e0a98,#450a9b,#4d0b9d,#560d9f,#5d0ea1,#6811a2,#7316a2,#7e1b9f,#86209d,#8e259a,#952a95,#9c3091,#a3368c,#a6398a,#a93c87,#ab3e86,#af4282,#b5487d,#bb4f79,#c05574,#c25773,#c05574,#bc5078,#b74a7c,#b24580,#ad4084,#a6398a,#9d3190,#942a96,#8e259a,#89229c,#86209d,#821d9e,#7f1c9f,#7d1aa0,#7918a1,#7516a1 calc(100% - 2.8px))"></div><div style="top:67.09px;height:6.29px;background:linear-gradient(90deg,#1e078a 2.8px,#28088e,#300892,#380995,#3f0a98,#480b9c,#500c9e,#570da0,#600fa1,#6b12a2,#7718a1,#811d9f,#89229c,#902798,#972c94,#9f338f,#a5388b,#a93c87,#ac3f85,#af4282,#b3467f,#b94d7a,#be5376,#c45971,#c65c6f,#c45971,#c05574,#bc5078,#b6497d,#b14481,#aa3d86,#a0348e,#972c94,#912898,#8e259a,#8a229b,#86209d,#831e9e,#7f1c9f,#7b1aa0,#7718a1 calc(100% - 2.8px))"></div><div style="top:72.68px;height:6.29px;background:linear-gradient(90deg,#20078b 2.8px,#29088f,#310893,#390996,#420a9a,#4a0b9c,#530c9f,#5b0ea1,#6410a2,#6f14a2,#7a19a0,#831e9e,#8c249a,#942a96,#9b2f92,#a2358d,#a83b88,#ac3f85,#af4282,#b24580,#b6497d,#bc5177,#c25773,#c75d6e,#c9616c,#c85e6e,#c45971,#bf5475,#bb4f79,#b5487d,#ae4183,#a5388b,#9c3091,#962b95,#912898,#8e259a,#8a229b,#87219c,#831e9e,#7e1b9f,#7a19a0 calc(100% - 2.8px))"></div><div style="top:78.27px;height:6.29px;background:linear-gradient(90deg,#22078c 2.8px,#2b0890,#330893,#3b0997,#440a9a,#4d0b9d,#560d9f,#5e0fa1,#6811a2,#7215a2,#7e1b9f,#87219c,#902798,#972c94,#9e328f,#a5388b,#ab3e86,#af4282,#b24580,#b5487d,#ba4e7a,#bf5475,#c55b70,#ca626c,#cd656a,#cb636b,#c85e6e,#c45971,#be5376,#ba4e7a,#b24580,#aa3d86,#a0348e,#9b2f92,#962b95,#912898,#8e259a,#8a229b,#86209d,#821d9e,#7d1aa0 calc(100% - 2.8px))"></div><div style="top:83.86px;height:6.29px;background:linear-gradient(90deg,#24078c 2.8px,#2d0890,#350994,#3e0a98,#470b9b,#500c9e,#580da0,#610fa1,#6b12a2,#7617a1,#811d9f,#8b239b,#942a96,#9b2f92,#a2358d,#a83b88,#ae4183,#b24580,#b5487d,#b94d7a,#bc5177,#c35872,#c9606d,#cd6669,#d06967,#cf6868,#cc646a,#c85e6e,#c35872,#bd5276,#b74a7c,#ae4183,#a6398a,#9f338f,#9b2f92,#962b95,#912898,#8e259a,#89229c,#851f9d,#7f1c9f calc(100% - 2.8px))"></div><div style="top:89.45px;height:6.29px;background:linear-gradient(90deg,#26078d 2.8px,#2e0891,#380995,#3f0a98,#480b9c,#510c9e,#5b0ea1,#6510a2,#6f14a2,#7a19a0,#851f9d,#8f2699,#972c94,#9e328f,#a5388b,#ab3e86,#b14481,#b5487d,#b94d7a,#bc5078,#c05574,#c65c6f,#cc646a,#d16a67,#d36e65,#d26d65,#cf6868,#cc646a,#c75d6e,#c25773,#bb4f79,#b3467f,#ab3e86,#a4378b,#9f338f,#9a2e93,#952a95,#912898,#8c249a,#87219c,#821d9e calc(100% - 2.8px))"></div><div style="top:95.05px;height:6.29px;background:linear-gradient(90deg,#28088e 2.8px,#310893,#390996,#420a9a,#4b0b9d,#540c9f,#5e0fa1,#6a12a2,#7316a2,#7e1b9f,#89229c,#922997,#9b2f92,#a2358d,#a83b88,#ae4183,#b4477e,#b94d7a,#bc5078,#bf5475,#c35872,#c9616c,#cf6868,#d46f64,#d67262,#d57163,#d36e65,#cf6868,#cb636b,#c55b70,#bf5475,#b84b7b,#b04381,#a93c87,#a3368c,#9e328f,#982d93,#942a96,#8f2699,#8a229b,#831e9e calc(100% - 2.8px))"></div><div style="top:100.64px;height:6.29px;background:linear-gradient(90deg,#29088f 2.8px,#330893,#3c0997,#440a9a,#4d0b9d,#570da0,#610fa1,#6c13a2,#7718a1,#821d9e,#8c249a,#962b95,#9e328f,#a5388b,#ac3f85,#b24580,#b74a7c,#bc5078,#be5376,#c25773,#c65c6f,#cc646a,#d26d65,#d77362,#d97760,#d97760,#d77362,#d36e65,#cf6868,#c9616c,#c45971,#bc5078,#b4477e,#ad4084,#a73a89,#a2358d,#9c3091,#972c94,#912898,#8c249a,#86209d calc(100% - 2.8px))"></div><div style="top:106.23px;height:6.29px;background:linear-gradient(90deg,#2d0890 2.8px,#350994,#3e0a98,#470b9b,#500c9e,#5a0ea0,#6510a2,#7114a2,#7b1aa0,#86209d,#912898,#9a2e93,#a2358d,#a93c87,#af4282,#b5487d,#bb4f79,#be5376,#c25773,#c55b70,#c9616c,#cf6868,#d57163,#da785f,#dc7b5e,#dc7b5e,#da785f,#d77362,#d26d65,#cd6669,#c75d6e,#c05574,#b94d7a,#b24580,#ab3e86,#a5388b,#9f338f,#9a2e93,#942a96,#8e259a,#87219c calc(100% - 2.8px))"></div><div style="top:111.82px;height:6.29px;background:linear-gradient(90deg,#2e0891 2.8px,#380995,#410a99,#4a0b9c,#530c9f,#5d0ea1,#6811a2,#7316a2,#7f1c9f,#8b239b,#952a95,#9d3190,#a5388b,#ac3f85,#b24580,#b84b7b,#bd5276,#c15673,#c45a71,#c85e6e,#cd656a,#d26d65,#d87661,#dc7c5d,#de805c,#de805c,#dd7e5d,#da785f,#d67262,#d16a67,#cb636b,#c45971,#bc5177,#b6497d,#af4282,#a83b88,#a2358d,#9c3091,#962b95,#902798,#89229c calc(100% - 2.8px))"></div><div style="top:117.41px;height:6.29px;background:linear-gradient(90deg,#300892 2.8px,#390996,#420a9a,#4b0b9d,#560d9f,#600fa1,#6b12a2,#7718a1,#831e9e,#8f2699,#982d93,#a0348e,#a83b88,#af4282,#b5487d,#bb4f79,#c05574,#c45a71,#c75d6e,#cb636b,#cf6868,#d57163,#da795f,#df815b,#e1855a,#e1855a,#e0825b,#dd7e5d,#d97760,#d47063,#ce6768,#c85e6e,#c15673,#ba4e7a,#b24580,#ab3e86,#a5388b,#9e328f,#972c94,#912898,#8a229b calc(100% - 2.8px))"></div><div style="top:123.00px;height:6.29px;background:linear-gradient(90deg,#330893 2.8px,#3c0997,#450a9b,#4e0c9e,#570da0,#6210a2,#6e13a2,#7a19a0,#86209d,#922997,#9c3091,#a4378b,#ac3f85,#b24580,#b94d7a,#bd5276,#c35872,#c75d6e,#ca626c,#cd6669,#d26d65,#d77461,#dd7e5d,#e1855a,#e38a58,#e38a58,#e28759,#e0825b,#dc7b5e,#d77461,#d16b66,#cb636b,#c45a71,#bd5276,#b6497d,#ae4183,#a73a89,#a0348e,#9a2e93,#922997,#8b239b calc(100% - 2.8px))"></div><div style="top:128.59px;height:6.29px;background:linear-gradient(90deg,#350994 2.8px,#3e0a98,#480b9c,#510c9e,#5a0ea0,#6510a2,#7114a2,#7d1aa0,#8a229b,#952a95,#9f338f,#a73a89,#af4282,#b5487d,#bc5078,#c05574,#c55b70,#c9606d,#cd656a,#d06967,#d47063,#da785f,#df815b,#e38858,#e58d56,#e58d56,#e58c57,#e28759,#de805c,#da795f,#d47063,#ce6768,#c85e6e,#c05574,#b94d7a,#b04381,#a93c87,#a2358d,#9b2f92,#942a96,#8c249a calc(100% - 2.8px))"></div><div style="top:134.18px;height:6.29px;background:linear-gradient(90deg,#380995 2.8px,#410a99,#4a0b9c,#540c9f,#5d0ea1,#6811a2,#7316a2,#7f1c9f,#8c249a,#982d93,#a2358d,#aa3d86,#b24580,#b84b7b,#be5376,#c35872,#c85e6e,#cb636b,#ce6768,#d26d65,#d77362,#dc7c5d,#e1855a,#e58c57,#e79155,#e79155,#e69055,#e48b57,#e1855a,#dc7c5d,#d77461,#d16b66,#ca626c,#c45971,#bb4f79,#b24580,#aa3d86,#a3368c,#9c3091,#952a95,#8c249a calc(100% - 2.8px))"></div><div style="top:139.77px;height:6.29px;background:linear-gradient(90deg,#390996 2.8px,#420a9a,#4d0b9d,#560d9f,#600fa1,#6b12a2,#7617a1,#831e9e,#8f2699,#9b2f92,#a5388b,#ad4084,#b4477e,#bb4f79,#c05574,#c55b70,#c9616c,#cd6669,#d16a67,#d47063,#da785f,#de805c,#e38858,#e69055,#e89454,#e99554,#e89454,#e69055,#e38a58,#df815b,#da785f,#d46f64,#cd656a,#c55b70,#bd5276,#b4477e,#ac3f85,#a4378b,#9d3190,#952a95,#8c249a calc(100% - 2.8px))"></div><div style="top:145.36px;height:6.29px;background:linear-gradient(90deg,#3b0997 2.8px,#450a9b,#4e0c9e,#580da0,#6210a2,#6e13a2,#7918a1,#86209d,#912898,#9d3190,#a73a89,#af4282,#b74a7c,#bd5276,#c35872,#c85e6e,#cc646a,#cf6868,#d36e65,#d77362,#db7a5e,#e0825b,#e48b57,#e79255,#ea9753,#ea9953,#ea9753,#e89454,#e58d56,#e1855a,#dc7c5d,#d67262,#cf6868,#c85e6e,#be5376,#b6497d,#ad4084,#a5388b,#9d3190,#952a95,#8c249a calc(100% - 2.8px))"></div><div style="top:150.95px;height:6.29px;background:linear-gradient(90deg,#3e0a98 2.8px,#470b9b,#510c9e,#5b0ea1,#6510a2,#6f14a2,#7b1aa0,#87219c,#942a96,#9f338f,#a93c87,#b24580,#ba4e7a,#c05574,#c55b70,#c9616c,#cd6669,#d16b66,#d47063,#d97760,#dd7e5d,#e28659,#e68f56,#e99554,#eb9a52,#eb9b52,#eb9a52,#e99653,#e79155,#e38858,#de805c,#d87661,#d16b66,#c9616c,#c05574,#b74a7c,#ae4183,#a6398a,#9e328f,#952a95,#8c249a calc(100% - 2.8px))"></div><div style="top:156.55px;height:6.29px;background:linear-gradient(90deg,#3f0a98 2.8px,#4a0b9c,#540c9f,#5d0ea1,#6711a2,#7215a2,#7e1b9f,#8a229b,#962b95,#a2358d,#ab3e86,#b4477e,#bc5078,#c25773,#c85e6e,#cc646a,#d06967,#d36e65,#d77362,#da795f,#df815b,#e38a58,#e79155,#ea9753,#ec9d52,#ec9e51,#ec9d52,#eb9a52,#e89454,#e58c57,#e0825b,#da795f,#d36e65,#cb636b,#c15673,#b84b7b,#af4282,#a6398a,#9e328f,#952a95,#8c249a calc(100% - 2.8px))"></div><div style="top:162.14px;height:6.29px;background:linear-gradient(90deg,#410a99 2.8px,#4b0b9d,#560d9f,#600fa1,#6a12a2,#7516a1,#7f1c9f,#8c249a,#972c94,#a3368c,#ad4084,#b6497d,#bd5276,#c45a71,#c9616c,#cd6669,#d16b66,#d57163,#d87661,#dc7c5d,#e0845a,#e58c57,#e89454,#eb9a52,#ec9f51,#eda151,#ec9f51,#ec9d52,#ea9753,#e68f56,#e28659,#dc7b5e,#d47063,#cc646a,#c35872,#b94d7a,#af4282,#a73a89,#9e328f,#952a95,#8b239b calc(100% - 2.8px))"></div><div style="top:167.73px;height:6.29px;background:linear-gradient(90deg,#440a9a 2.8px,#4d0b9d,#570da0,#610fa1,#6b12a2,#7617a1,#821d9e,#8e259a,#9a2e93,#a5388b,#af4282,#b84b7b,#c05574,#c65c6f,#cb636b,#d06967,#d46f64,#d77362,#da795f,#de805c,#e28759,#e68f56,#e99653,#ec9d52,#eda250,#eea350,#eda250,#ec9f51,#eb9a52,#e79255,#e38858,#de7f5c,#d67262,#cd6669,#c45971,#ba4e7a,#b04381,#a73a89,#9d3190,#942a96,#8a229b calc(100% - 2.8px))"></div><div style="top:173.32px;height:6.29px;background:linear-gradient(90deg,#450a9b 2.8px,#500c9e,#5a0ea0,#6410a2,#6e13a2,#7918a1,#831e9e,#8f2699,#9b2f92,#a6398a,#b04381,#ba4e7a,#c25773,#c85e6e,#cd6669,#d16b66,#d57163,#d87661,#dc7b5e,#e0825b,#e48b57,#e79255,#eb9a52,#ec9f51,#eea350,#efa650,#eea550,#eda250,#ec9d52,#e99554,#e58c57,#df815b,#d77461,#ce6768,#c45971,#ba4e7a,#b04381,#a73a89,#9d3190,#942a96,#89229c calc(100% - 2.8px))"></div><div style="top:178.91px;height:6.29px;background:linear-gradient(90deg,#470b9b 2.8px,#510c9e,#5b0ea1,#6510a2,#6f14a2,#7a19a0,#851f9d,#902798,#9c3091,#a73a89,#b14481,#bb4f79,#c35872,#c9616c,#cf6868,#d46f64,#d77362,#da795f,#de7f5c,#e28659,#e58d56,#e99554,#ec9d52,#eda250,#efa650,#efa74f,#efa74f,#eea350,#ec9f51,#ea9753,#e68f56,#e0845a,#d97760,#cf6868,#c45a71,#bb4f79,#b04381,#a73a89,#9d3190,#922997,#87219c calc(100% - 2.8px))"></div><div style="top:184.50px;height:6.29px;background:linear-gradient(90deg,#480b9c 2.8px,#530c9f,#5d0ea1,#6711a2,#7114a2,#7b1aa0,#86209d,#912898,#9d3190,#a83b88,#b24580,#bc5177,#c45a71,#cb636b,#d16a67,#d57163,#d97760,#dc7b5e,#df815b,#e38858,#e79155,#ea9953,#ec9f51,#eea550,#efa94f,#f0aa4f,#efa94f,#efa650,#eda151,#eb9a52,#e79155,#e28659,#da785f,#d06967,#c55b70,#bb4f79,#b04381,#a6398a,#9c3091,#912898,#86209d calc(100% - 2.8px))"></div><div style="top:190.09px;height:6.29px;background:linear-gradient(90deg,#4a0b9c 2.8px,#540c9f,#5e0fa1,#6811a2,#7215a2,#7d1aa0,#87219c,#922997,#9e328f,#a93c87,#b3467f,#bd5276,#c55b70,#cd656a,#d26d65,#d77362,#da795f,#de7f5c,#e0845a,#e58c57,#e99554,#eb9b52,#eda250,#efa74f,#f0aa4f,#f0ac4f,#f0ac4f,#efa74f,#eea350,#eb9b52,#e79255,#e28759,#db7a5e,#d16b66,#c65c6f,#bc5078,#b14481,#a6398a,#9b2f92,#902798,#851f9d calc(100% - 2.8px))"></div><div style="top:195.68px;height:6.29px;background:linear-gradient(90deg,#4b0b9d 2.8px,#560d9f,#600fa1,#6a12a2,#7316a2,#7e1b9f,#89229c,#942a96,#9e328f,#a93c87,#b4477e,#be5376,#c65c6f,#cd6669,#d46f64,#d97760,#dc7c5d,#e0825b,#e28759,#e69055,#ea9753,#ec9f51,#eea550,#efa94f,#f0ac4f,#f0ad4e,#f0ad4e,#f0aa4f,#eea550,#ec9e51,#e99554,#e38a58,#dc7b5e,#d26d65,#c75d6e,#bc5078,#b14481,#a6398a,#9a2e93,#8f2699,#831e9e calc(100% - 2.8px))"></div><div style="top:201.27px;height:6.29px;background:linear-gradient(90deg,#4b0b9d 2.8px,#570da0,#610fa1,#6b12a2,#7516a1,#7f1c9f,#8a229b,#942a96,#9f338f,#aa3d86,#b4477e,#be5376,#c75d6e,#cf6868,#d57163,#da795f,#de805c,#e1855a,#e48b57,#e89454,#eb9b52,#eea350,#efa74f,#f0ac4f,#f1ae4e,#f1ae4e,#f1ae4e,#f0ac4f,#efa650,#ec9f51,#e99653,#e48b57,#dc7c5d,#d26d65,#c85e6e,#bc5177,#b04381,#a5388b,#9a2e93,#8e259a,#811d9f calc(100% - 2.8px))"></div><div style="top:206.86px;height:6.29px;background:linear-gradient(90deg,#4d0b9d 2.8px,#570da0,#6210a2,#6c13a2,#7617a1,#7f1c9f,#8a229b,#952a95,#9f338f,#aa3d86,#b5487d,#bf5475,#c85e6e,#d06967,#d77362,#dc7b5e,#e0845a,#e38a58,#e69055,#ea9753,#ec9f51,#efa650,#f0ac4f,#f1ae4e,#f1b04e,#f1b14e,#f1b04e,#f0ad4e,#efa74f,#eda151,#ea9753,#e58c57,#dd7e5d,#d36e65,#c85e6e,#bc5177,#b04381,#a4378b,#982d93,#8c249a,#7f1c9f calc(100% - 2.8px))"></div><div style="top:212.45px;height:6.29px;background:linear-gradient(90deg,#4e0c9e 2.8px,#580da0,#6210a2,#6c13a2,#7617a1,#811d9f,#8b239b,#952a95,#9f338f,#aa3d86,#b5487d,#bf5475,#c9606d,#d16a67,#d77461,#de7f5c,#e28659,#e58d56,#e99554,#ec9d52,#eea550,#f0aa4f,#f1ae4e,#f1b04e,#f1b14e,#f2b34e,#f1b14e,#f1ae4e,#efa94f,#eda250,#ea9953,#e58c57,#dd7e5d,#d46f64,#c85e6e,#bc5177,#b04381,#a4378b,#972c94,#8a229b,#7d1aa0 calc(100% - 2.8px))"></div><div style="top:218.05px;height:6.29px;background:linear-gradient(90deg,#4e0c9e 2.8px,#5a0ea0,#6410a2,#6e13a2,#7718a1,#811d9f,#8b239b,#952a95,#9f338f,#aa3d86,#b5487d,#bf5475,#c9606d,#d16b66,#d97760,#df815b,#e38a58,#e79155,#ea9953,#eda250,#efa94f,#f1ae4e,#f1b14e,#f2b34e,#f2b44e,#f2b44e,#f2b34e,#f1b04e,#f0aa4f,#eea350,#ea9953,#e58d56,#de7f5c,#d46f64,#c9606d,#bc5177,#af4282,#a3368c,#962b95,#89229c,#7b1aa0 calc(100% - 2.8px))"></div><div style="top:223.64px;height:6.29px;background:linear-gradient(90deg,#500c9e 2.8px,#5a0ea0,#6510a2,#6f14a2,#7918a1,#821d9e,#8b239b,#952a95,#9f338f,#aa3d86,#b5487d,#bf5475,#c9606d,#d26d65,#da795f,#e0845a,#e58d56,#e99653,#ec9e51,#efa650,#f0ad4e,#f1b14e,#f2b44e,#f2b44e,#f2b54e,#f2b54e,#f2b44e,#f1b04e,#f0ac4f,#eea350,#eb9a52,#e58d56,#de7f5c,#d46f64,#c85e6e,#bc5078,#af4282,#a2358d,#952a95,#87219c,#7a19a0 calc(100% - 2.8px))"></div><div style="top:229.23px;height:6.29px;background:linear-gradient(90deg,#500c9e 2.8px,#5b0ea1,#6510a2,#6f14a2,#7918a1,#821d9e,#8c249a,#962b95,#a0348e,#aa3d86,#b4477e,#bf5475,#c9606d,#d36e65,#db7a5e,#e28659,#e79155,#eb9a52,#eea350,#f0ac4f,#f2b34e,#f2b54e,#f2b74e,#f2b74e,#f2b74e,#f2b54e,#f2b44e,#f1b14e,#f0ac4f,#eea550,#eb9a52,#e58d56,#de7f5c,#d46f64,#c85e6e,#bc5078,#ae4183,#a0348e,#922997,#86209d,#7718a1 calc(100% - 2.8px))"></div><div style="top:234.82px;height:6.29px;background:linear-gradient(90deg,#510c9e 2.8px,#5b0ea1,#6711a2,#7114a2,#7a19a0,#831e9e,#8c249a,#962b95,#a0348e,#aa3d86,#b4477e,#be5376,#c9616c,#d36e65,#dc7c5d,#e38858,#e99554,#ec9e51,#efa94f,#f1b14e,#f2b74e,#f3ba4d,#f3ba4d,#f3b84e,#f3b84e,#f2b74e,#f2b54e,#f2b34e,#f0ad4e,#eea550,#eb9a52,#e58d56,#de7f5c,#d36e65,#c85e6e,#bb4f79,#ad4084,#9f338f,#912898,#831e9e,#7617a1 calc(100% - 2.8px))"></div><div style="top:240.41px;height:6.29px;background:linear-gradient(90deg,#510c9e 2.8px,#5d0ea1,#6711a2,#7114a2,#7b1aa0,#851f9d,#8e259a,#962b95,#a0348e,#aa3d86,#b4477e,#be5376,#c9616c,#d46f64,#dd7e5d,#e48b57,#ea9753,#eea350,#f0ad4e,#f2b54e,#f3bb4d,#f4be4d,#f3bd4d,#f3bb4d,#f3ba4d,#f3b84e,#f2b74e,#f2b34e,#f0ad4e,#eea550,#eb9a52,#e58d56,#dd7e5d,#d36e65,#c75d6e,#bb4f79,#ad4084,#9e328f,#902798,#821d9e,#7516a1 calc(100% - 2.8px))"></div><div style="top:246.00px;height:6.29px;background:linear-gradient(90deg,#510c9e 2.8px,#5d0ea1,#6811a2,#7215a2,#7b1aa0,#851f9d,#8e259a,#972c94,#a0348e,#aa3d86,#b4477e,#be5376,#c9616c,#d47063,#de805c,#e58d56,#eb9b52,#efa74f,#f1b14e,#f3bb4d,#f4c14e,#f4c14e,#f4c04d,#f3bd4d,#f3bb4d,#f3ba4d,#f3b84e,#f2b44e,#f1ae4e,#efa650,#eb9a52,#e58d56,#dd7e5d,#d36e65,#c65c6f,#ba4e7a,#ac3f85,#9e328f,#8f2699,#811d9f,#7215a2 calc(100% - 2.8px))"></div><div style="top:251.59px;height:6.29px;background:linear-gradient(90deg,#510c9e 2.8px,#5d0ea1,#6811a2,#7316a2,#7d1aa0,#86209d,#8f2699,#972c94,#a0348e,#aa3d86,#b4477e,#be5376,#c9616c,#d57163,#df815b,#e69055,#ec9e51,#f0aa4f,#f2b54e,#f4c04d,#f4c44e,#f4c44e,#f4c14e,#f4c04d,#f3bd4d,#f3bb4d,#f3b84e,#f2b54e,#f1ae4e,#efa650,#eb9a52,#e58d56,#dd7e5d,#d26d65,#c65c6f,#b94d7a,#ab3e86,#9d3190,#8e259a,#7f1c9f,#7114a2 calc(100% - 2.8px))"></div><div style="top:257.18px;height:6.29px;background:linear-gradient(90deg,#530c9f 2.8px,#5e0fa1,#6811a2,#7316a2,#7d1aa0,#87219c,#8f2699,#982d93,#a2358d,#ab3e86,#b4477e,#be5376,#c9616c,#d57163,#e0825b,#e79255,#eda151,#f1ae4e,#f3ba4d,#f4c34e,#f5c94e,#f5c94e,#f4c44e,#f4c14e,#f4be4d,#f3bd4d,#f3ba4d,#f2b54e,#f1b04e,#efa650,#eb9a52,#e58c57,#dc7c5d,#d16b66,#c55b70,#b84b7b,#aa3d86,#9c3091,#8c249a,#7e1b9f,#6f14a2 calc(100% - 2.8px))"></div><div style="top:262.77px;height:6.29px;background:linear-gradient(90deg,#530c9f 2.8px,#5e0fa1,#6a12a2,#7516a1,#7e1b9f,#87219c,#902798,#982d93,#a2358d,#ab3e86,#b4477e,#be5376,#c9616c,#d67262,#e0845a,#e99554,#eea350,#f1b14e,#f4be4d,#f4c74e,#f5cc4e,#f5cc4e,#f4c74e,#f4c44e,#f4c14e,#f4be4d,#f3bb4d,#f2b74e,#f1b04e,#efa650,#eb9a52,#e58c57,#dc7c5d,#d16b66,#c45a71,#b74a7c,#a93c87,#9b2f92,#8b239b,#7b1aa0,#6c13a2 calc(100% - 2.8px))"></div><div style="top:268.36px;height:6.29px;background:linear-gradient(90deg,#510c9e 2.8px,#5e0fa1,#6a12a2,#7516a1,#7f1c9f,#89229c,#912898,#9a2e93,#a3368c,#ac3f85,#b5487d,#bf5475,#ca626c,#d67262,#e1855a,#e99653,#efa650,#f2b44e,#f4c14e,#f5ca4e,#f5cf4f,#f5cf4f,#f5ca4e,#f4c74e,#f4c34e,#f4c04d,#f3bd4d,#f3b84e,#f1b14e,#efa650,#eb9a52,#e58c57,#dc7b5e,#d16a67,#c45971,#b6497d,#a73a89,#982d93,#8a229b,#7a19a0,#6b12a2 calc(100% - 2.8px))"></div><div style="top:273.95px;height:6.29px;background:linear-gradient(90deg,#510c9e 2.8px,#5e0fa1,#6a12a2,#7516a1,#7f1c9f,#8a229b,#922997,#9c3091,#a4378b,#ad4084,#b6497d,#bf5475,#cb636b,#d77362,#e28659,#ea9753,#efa74f,#f2b74e,#f4c44e,#f5cd4f,#f5d24f,#f5d24f,#f5cf4f,#f5ca4e,#f4c64e,#f4c34e,#f4be4d,#f3ba4d,#f1b14e,#efa74f,#eb9a52,#e48b57,#db7a5e,#d06967,#c35872,#b4477e,#a6398a,#972c94,#87219c,#7918a1,#6a12a2 calc(100% - 2.8px))"></div><div style="top:279.55px;height:6.29px;background:linear-gradient(90deg,#510c9e 2.8px,#5e0fa1,#6a12a2,#7617a1,#811d9f,#8b239b,#952a95,#9d3190,#a5388b,#ae4183,#b74a7c,#c05574,#cc646a,#d77461,#e28659,#ea9953,#efa94f,#f3b84e,#f4c74e,#f5d04f,#f5d550,#f5d550,#f5d24f,#f5cd4f,#f5c94e,#f4c44e,#f4c14e,#f3bb4d,#f2b34e,#efa74f,#eb9a52,#e48b57,#da795f,#cf6868,#c25773,#b3467f,#a4378b,#952a95,#86209d,#7617a1,#6711a2 calc(100% - 2.8px))"></div><div style="top:285.14px;height:6.29px;background:linear-gradient(90deg,#500c9e 2.8px,#5d0ea1,#6a12a2,#7617a1,#821d9e,#8c249a,#962b95,#9e328f,#a73a89,#af4282,#b84b7b,#c25773,#cd656a,#d87661,#e28759,#eb9a52,#f0ac4f,#f3bb4d,#f5c94e,#f5d350,#f5d851,#f5d851,#f5d550,#f5d04f,#f5cc4e,#f4c74e,#f4c34e,#f3bd4d,#f2b34e,#efa74f,#ea9953,#e38a58,#da785f,#ce6768,#c05574,#b14481,#a3368c,#922997,#831e9e,#7516a1,#6510a2 calc(100% - 2.8px))"></div><div style="top:290.73px;height:6.29px;background:linear-gradient(90deg,#500c9e 2.8px,#5d0ea1,#6a12a2,#7718a1,#831e9e,#8e259a,#972c94,#9f338f,#a83b88,#b04381,#b94d7a,#c35872,#cd6669,#d87661,#e38858,#eb9a52,#f0ad4e,#f3bd4d,#f5cc4e,#f5d550,#f5db52,#f5db52,#f5d851,#f5d350,#f5cf4f,#f5ca4e,#f4c44e,#f4be4d,#f2b44e,#efa74f,#ea9953,#e38858,#d97760,#cd6669,#bf5475,#b04381,#a0348e,#912898,#821d9e,#7215a2,#6410a2 calc(100% - 2.8px))"></div><div style="top:296.32px;height:6.29px;background:linear-gradient(90deg,#4e0c9e 2.8px,#5d0ea1,#6a12a2,#7718a1,#831e9e,#8f2699,#982d93,#a2358d,#a93c87,#b24580,#bb4f79,#c45971,#ce6768,#d97760,#e38a58,#ec9d52,#f1ae4e,#f4c04d,#f5cd4f,#f5d851,#f4dd52,#f4de52,#f4dd52,#f5d851,#f5d24f,#f5cd4f,#f4c74e,#f4c04d,#f2b54e,#efa74f,#ea9753,#e28759,#d87661,#cd656a,#be5376,#ae4183,#9e328f,#8f2699,#7f1c9f,#7114a2,#610fa1 calc(100% - 2.8px))"></div><div style="top:301.91px;height:6.29px;background:linear-gradient(90deg,#4d0b9d 2.8px,#5b0ea1,#6a12a2,#7718a1,#851f9d,#902798,#9b2f92,#a3368c,#ab3e86,#b3467f,#bc5078,#c55b70,#d06967,#da795f,#e48b57,#ec9e51,#f1b14e,#f4c14e,#f5d04f,#f5da51,#f4e053,#f4e253,#f4e053,#f5db52,#f5d550,#f5d04f,#f5c94e,#f4c14e,#f2b54e,#efa74f,#ea9753,#e28659,#d77461,#cb636b,#bd5276,#ad4084,#9c3091,#8c249a,#7d1aa0,#6e13a2,#600fa1 calc(100% - 2.8px))"></div><div style="top:307.50px;height:6.29px;background:linear-gradient(90deg,#4d0b9d 2.8px,#5b0ea1,#6a12a2,#7918a1,#86209d,#912898,#9c3091,#a5388b,#ac3f85,#b5487d,#bd5276,#c75d6e,#d16a67,#db7a5e,#e58c57,#ec9f51,#f2b34e,#f4c44e,#f5d24f,#f4dd52,#f4e354,#f4e554,#f4e354,#f4de52,#f5d851,#f5d24f,#f5cc4e,#f4c34e,#f2b74e,#efa74f,#e99653,#e1855a,#d77362,#ca626c,#bc5078,#ab3e86,#9b2f92,#8a229b,#7b1aa0,#6c13a2,#5e0fa1 calc(100% - 2.8px))"></div><div style="top:313.09px;height:6.29px;background:linear-gradient(90deg,#4b0b9d 2.8px,#5b0ea1,#6a12a2,#7918a1,#86209d,#922997,#9d3190,#a6398a,#ae4183,#b6497d,#bf5475,#c85e6e,#d26d65,#dc7b5e,#e58d56,#eda151,#f2b44e,#f4c64e,#f5d550,#f4de52,#f4e554,#f3e855,#f4e655,#f4e253,#f5db52,#f5d550,#f5cd4f,#f4c44e,#f2b74e,#efa74f,#e99653,#e0845a,#d67262,#c9616c,#bb4f79,#aa3d86,#982d93,#89229c,#7918a1,#6a12a2,#5b0ea1 calc(100% - 2.8px))"></div><div style="top:318.68px;height:6.29px;background:linear-gradient(90deg,#4a0b9c 2.8px,#5a0ea0,#6a12a2,#7918a1,#87219c,#942a96,#9e328f,#a83b88,#b04381,#b84b7b,#c15673,#c9616c,#d36e65,#dd7e5d,#e69055,#eea350,#f2b74e,#f5c94e,#f5d650,#f4e253,#f3e855,#f3ea56,#f3ea56,#f4e554,#f4de52,#f5d851,#f5d04f,#f4c64e,#f3b84e,#efa74f,#e99554,#e0845a,#d57163,#c9606d,#ba4e7a,#a93c87,#972c94,#87219c,#7718a1,#6811a2,#5a0ea0 calc(100% - 2.8px))"></div><div style="top:324.27px;height:6.29px;background:linear-gradient(90deg,#480b9c 2.8px,#5a0ea0,#6a12a2,#7a19a0,#89229c,#952a95,#a0348e,#a93c87,#b24580,#ba4e7a,#c35872,#cb636b,#d47063,#de7f5c,#e79155,#eea550,#f3ba4d,#f5ca4e,#f5da51,#f4e354,#f3ea56,#f3ed57,#f3eb56,#f4e655,#f4e253,#f5da51,#f5d24f,#f4c74e,#f3b84e,#efa74f,#e99554,#e0825b,#d47063,#c85e6e,#b94d7a,#a83b88,#962b95,#86209d,#7617a1,#6510a2,#570da0 calc(100% - 2.8px))"></div><div style="top:329.86px;height:6.29px;background:linear-gradient(90deg,#480b9c 2.8px,#580da0,#6a12a2,#7a19a0,#89229c,#962b95,#a2358d,#ab3e86,#b3467f,#bc5078,#c45a71,#cd656a,#d67262,#df815b,#e89454,#efa74f,#f3bb4d,#f5cd4f,#f5db52,#f4e655,#f3ed57,#f2ef57,#f2ef57,#f3ea56,#f4e354,#f5db52,#f5d350,#f4c74e,#f3b84e,#efa650,#e89454,#df815b,#d46f64,#c75d6e,#b84b7b,#a73a89,#962b95,#851f9d,#7516a1,#6410a2,#560d9f calc(100% - 2.8px))"></div><div style="top:335.45px;height:6.29px;background:linear-gradient(90deg,#470b9b 2.8px,#580da0,#6a12a2,#7a19a0,#8a229b,#972c94,#a3368c,#ad4084,#b5487d,#bd5276,#c65c6f,#ce6768,#d77461,#e0845a,#e99653,#f0aa4f,#f4be4d,#f5cf4f,#f4dd52,#f3e855,#f2ef57,#f2f258,#f2f058,#f3eb56,#f4e554,#f4dd52,#f5d550,#f5c94e,#f3b84e,#efa650,#e89454,#de805c,#d46f64,#c65c6f,#b84b7b,#a73a89,#952a95,#831e9e,#7316a2,#6210a2,#540c9f calc(100% - 2.8px))"></div><div style="top:341.05px;height:6.29px;background:linear-gradient(90deg,#450a9b 2.8px,#580da0,#6a12a2,#7a19a0,#8b239b,#982d93,#a5388b,#ae4183,#b74a7c,#bf5475,#c85e6e,#d16a67,#d97760,#e28659,#ea9953,#f0ad4e,#f4c04d,#f5d24f,#f4de52,#f3ea56,#f2f058,#f2f458,#f2f258,#f3ed57,#f4e655,#f4de52,#f5d550,#f5c94e,#f3ba4d,#efa650,#e79255,#de805c,#d36e65,#c65c6f,#b74a7c,#a6398a,#952a95,#831e9e,#7215a2,#6210a2,#530c9f calc(100% - 2.8px))"></div><div style="top:346.64px;height:6.29px;background:linear-gradient(90deg,#450a9b 2.8px,#570da0,#6a12a2,#7b1aa0,#8b239b,#9a2e93,#a6398a,#b04381,#ba4e7a,#c25773,#ca626c,#d26d65,#db7a5e,#e38a58,#eb9b52,#f1ae4e,#f4c34e,#f5d350,#f4e053,#f3eb56,#f2f258,#f2f558,#f2f458,#f2ef57,#f3e855,#f4e053,#f5d650,#f5c94e,#f3ba4d,#efa650,#e79255,#de7f5c,#d26d65,#c55b70,#b6497d,#a5388b,#942a96,#821d9e,#7215a2,#6210a2,#530c9f calc(100% - 2.8px))"></div><div style="top:352.23px;height:6.29px;background:linear-gradient(90deg,#440a9a 2.8px,#570da0,#6a12a2,#7b1aa0,#8c249a,#9b2f92,#a83b88,#b24580,#bc5078,#c45971,#cc646a,#d47063,#dc7c5d,#e58c57,#ec9e51,#f1b14e,#f4c44e,#f5d550,#f4e253,#f3eb56,#f2f458,#f2f558,#f2f458,#f2ef57,#f3e855,#f4e053,#f5d650,#f5c94e,#f3ba4d,#efa650,#e79255,#de7f5c,#d26d65,#c45a71,#b5487d,#a5388b,#942a96,#821d9e,#7215a2,#6210a2,#530c9f calc(100% - 2.8px))"></div><div style="top:357.82px;height:6.29px;background:linear-gradient(90deg,#440a9a 2.8px,#570da0,#6a12a2,#7b1aa0,#8e259a,#9d3190,#aa3d86,#b4477e,#bd5276,#c65c6f,#ce6768,#d67262,#de805c,#e69055,#eda151,#f2b44e,#f4c74e,#f5d650,#f4e354,#f3ed57,#f2f458,#f1f758,#f2f558,#f2f058,#f3ea56,#f4e253,#f5d650,#f5c94e,#f3ba4d,#efa650,#e79255,#de7f5c,#d26d65,#c45a71,#b5487d,#a4378b,#922997,#821d9e,#7215a2,#6210a2,#540c9f calc(100% - 2.8px))"></div><div style="top:363.41px;height:6.29px;background:linear-gradient(90deg,#420a9a 2.8px,#570da0,#6a12a2,#7d1aa0,#8e259a,#9e328f,#ab3e86,#b74a7c,#c05574,#c85e6e,#d16a67,#d87661,#e0845a,#e79255,#eea550,#f2b74e,#f5c94e,#f5d851,#f4e354,#f3ed57,#f2f458,#f1f758,#f2f558,#f2f058,#f3ea56,#f4e253,#f5d650,#f5ca4e,#f3ba4d,#efa74f,#e79255,#de7f5c,#d16b66,#c45971,#b4477e,#a4378b,#922997,#821d9e,#7215a2,#6210a2,#560d9f calc(100% - 2.8px))"></div><div style="top:369.00px;height:6.29px;background:linear-gradient(90deg,#420a9a 2.8px,#560d9f,#6a12a2,#7d1aa0,#8f2699,#9f338f,#ad4084,#b94d7a,#c25773,#ca626c,#d26d65,#da795f,#e28659,#e99653,#efa74f,#f3ba4d,#f5ca4e,#f5da51,#f4e554,#f3ed57,#f2f458,#f2f558,#f2f458,#f2f058,#f3ea56,#f4e053,#f5d650,#f5c94e,#f3ba4d,#efa74f,#e89454,#de7f5c,#d16b66,#c45971,#b4477e,#a3368c,#922997,#821d9e,#7215a2,#6410a2,#560d9f calc(100% - 2.8px))"></div><div style="top:374.59px;height:6.29px;background:linear-gradient(90deg,#410a99 2.8px,#560d9f,#6a12a2,#7d1aa0,#902798,#a0348e,#af4282,#bb4f79,#c45a71,#cd656a,#d47063,#dc7c5d,#e38a58,#ea9953,#f0aa4f,#f3bb4d,#f5cc4e,#f5da51,#f4e554,#f3ed57,#f2f458,#f2f558,#f2f458,#f2ef57,#f3e855,#f4e053,#f5d550,#f5c94e,#f3ba4d,#efa650,#e89454,#de7f5c,#d16b66,#c35872,#b3467f,#a3368c,#912898,#821d9e,#7215a2,#6410a2,#570da0 calc(100% - 2.8px))"></div><div style="top:380.18px;height:6.29px;background:linear-gradient(90deg,#410a99 2.8px,#560d9f,#6a12a2,#7e1b9f,#912898,#a3368c,#b14481,#bd5276,#c75d6e,#cf6868,#d77362,#de805c,#e58d56,#ec9d52,#f0ad4e,#f4be4d,#f5cd4f,#f5db52,#f4e655,#f3ed57,#f2f258,#f2f458,#f2f258,#f3ed57,#f4e655,#f4de52,#f5d550,#f5c94e,#f3b84e,#efa650,#e89454,#de7f5c,#d16b66,#c35872,#b24580,#a2358d,#912898,#821d9e,#7316a2,#6510a2,#580da0 calc(100% - 2.8px))"></div><div style="top:385.77px;height:6.29px;background:linear-gradient(90deg,#410a99 2.8px,#560d9f,#6a12a2,#7e1b9f,#912898,#a4378b,#b3467f,#bf5475,#c9616c,#d16b66,#d97760,#e0845a,#e79155,#eda151,#f1b14e,#f4c04d,#f5cf4f,#f5db52,#f4e655,#f3ed57,#f2f258,#f2f458,#f2f258,#f3eb56,#f4e554,#f4dd52,#f5d350,#f4c74e,#f2b74e,#efa650,#e79255,#de7f5c,#d16a67,#c25773,#b24580,#a2358d,#912898,#821d9e,#7316a2,#6711a2,#5a0ea0 calc(100% - 2.8px))"></div><div style="top:391.36px;height:6.29px;background:linear-gradient(90deg,#3f0a98 2.8px,#560d9f,#6b12a2,#7f1c9f,#922997,#a5388b,#b5487d,#c25773,#cb636b,#d46f64,#db7a5e,#e28759,#e99554,#eea550,#f2b44e,#f4c34e,#f5d04f,#f4dd52,#f4e655,#f3ed57,#f2f058,#f2f258,#f2ef57,#f3ea56,#f4e354,#f5db52,#f5d04f,#f4c64e,#f2b54e,#eea550,#e79255,#de7f5c,#d16a67,#c25773,#b14481,#a0348e,#902798,#821d9e,#7316a2,#6711a2,#5b0ea1 calc(100% - 2.8px))"></div><div style="top:396.95px;height:6.29px;background:linear-gradient(90deg,#3f0a98 2.8px,#560d9f,#6b12a2,#7f1c9f,#942a96,#a73a89,#b74a7c,#c45971,#cd6669,#d67262,#dd7e5d,#e48b57,#ea9953,#efa74f,#f2b74e,#f4c44e,#f5d24f,#f4dd52,#f4e655,#f3eb56,#f2f058,#f2f058,#f3ed57,#f3e855,#f4e053,#f5d851,#f5cf4f,#f4c34e,#f2b44e,#eea350,#e79155,#dd7e5d,#d06967,#c15673,#b14481,#a0348e,#902798,#811d9f,#7516a1,#6811a2,#5d0ea1 calc(100% - 2.8px))"></div><div style="top:402.55px;height:6.29px;background:linear-gradient(90deg,#3f0a98 2.8px,#560d9f,#6b12a2,#811d9f,#952a95,#a83b88,#b84b7b,#c55b70,#cf6868,#d77461,#df815b,#e68f56,#ec9d52,#f0ac4f,#f3ba4d,#f4c74e,#f5d350,#f4de52,#f4e655,#f3eb56,#f2ef57,#f2ef57,#f3eb56,#f4e554,#f4dd52,#f5d550,#f5cc4e,#f4c04d,#f1b14e,#eda151,#e68f56,#dc7c5d,#cf6868,#c05574,#b04381,#9f338f,#902798,#811d9f,#7516a1,#6811a2,#5d0ea1 calc(100% - 2.8px))"></div><div style="top:408.14px;height:6.29px;background:linear-gradient(90deg,#3f0a98 2.8px,#560d9f,#6c13a2,#821d9e,#962b95,#a93c87,#ba4e7a,#c75d6e,#d16a67,#da785f,#e1855a,#e79255,#eda151,#f1ae4e,#f3bd4d,#f5c94e,#f5d550,#f4de52,#f4e655,#f3eb56,#f3ed57,#f3ed57,#f3e855,#f4e253,#f5da51,#f5d24f,#f4c74e,#f3bd4d,#f1ae4e,#ec9e51,#e58d56,#db7a5e,#ce6768,#c05574,#b04381,#9f338f,#902798,#811d9f,#7516a1,#6a12a2,#5e0fa1 calc(100% - 2.8px))"></div><div style="top:413.73px;height:6.29px;background:linear-gradient(90deg,#3f0a98 2.8px,#560d9f,#6c13a2,#821d9e,#972c94,#ab3e86,#bb4f79,#c9606d,#d36e65,#db7a5e,#e38858,#e99653,#eea550,#f2b34e,#f4c04d,#f5ca4e,#f5d550,#f4de52,#f4e554,#f3ea56,#f3eb56,#f3ea56,#f4e655,#f4de52,#f5d650,#f5cd4f,#f4c44e,#f3b84e,#f0ac4f,#eb9b52,#e48b57,#da795f,#cd6669,#bf5475,#af4282,#9f338f,#8f2699,#811d9f,#7516a1,#6a12a2,#5e0fa1 calc(100% - 2.8px))"></div><div style="top:419.32px;height:6.29px;background:linear-gradient(90deg,#410a99 2.8px,#570da0,#6c13a2,#831e9e,#982d93,#ac3f85,#bc5177,#c9616c,#d46f64,#dd7e5d,#e48b57,#eb9a52,#efa94f,#f2b54e,#f4c14e,#f5cc4e,#f5d650,#f4de52,#f4e554,#f3e855,#f3ea56,#f3e855,#f4e354,#f5db52,#f5d350,#f5ca4e,#f4c04d,#f2b44e,#efa74f,#ea9953,#e38858,#d97760,#cd656a,#be5376,#ae4183,#9e328f,#8f2699,#811d9f,#7516a1,#6a12a2,#5e0fa1 calc(100% - 2.8px))"></div><div style="top:424.91px;height:6.29px;background:linear-gradient(90deg,#410a99 2.8px,#570da0,#6e13a2,#831e9e,#9a2e93,#ad4084,#bd5276,#cb636b,#d57163,#de805c,#e68f56,#ec9e51,#f0ac4f,#f3b84e,#f4c34e,#f5cd4f,#f5d650,#f4de52,#f4e354,#f4e655,#f3e855,#f4e554,#f4de52,#f5d650,#f5cf4f,#f4c64e,#f3bb4d,#f1b14e,#eea350,#e99554,#e28659,#d77461,#cc646a,#bd5276,#ae4183,#9e328f,#8f2699,#811d9f,#7516a1,#6a12a2,#600fa1 calc(100% - 2.8px))"></div><div style="top:430.50px;height:6.29px;background:linear-gradient(90deg,#410a99 2.8px,#580da0,#6e13a2,#851f9d,#9a2e93,#ad4084,#be5376,#cc646a,#d77362,#e0825b,#e79155,#eda151,#f1b04e,#f3bb4d,#f4c44e,#f5cf4f,#f5d650,#f4dd52,#f4e354,#f4e554,#f4e554,#f4e253,#f5db52,#f5d350,#f5ca4e,#f4c14e,#f2b74e,#f0ac4f,#ec9f51,#e79255,#e0825b,#d77362,#ca626c,#bc5177,#ad4084,#9d3190,#8f2699,#811d9f,#7516a1,#6a12a2,#600fa1 calc(100% - 2.8px))"></div><div style="top:436.09px;height:6.29px;background:linear-gradient(90deg,#420a9a 2.8px,#580da0,#6f14a2,#851f9d,#9b2f92,#ae4183,#bf5475,#cd656a,#d77461,#e0845a,#e89454,#eea550,#f2b34e,#f3bd4d,#f4c64e,#f5cf4f,#f5d650,#f4dd52,#f4e053,#f4e354,#f4e253,#f4de52,#f5d650,#f5cf4f,#f4c64e,#f3bd4d,#f2b34e,#efa74f,#eb9b52,#e68f56,#de805c,#d57163,#c9616c,#bc5078,#ad4084,#9d3190,#8e259a,#811d9f,#7516a1,#6a12a2,#600fa1 calc(100% - 2.8px))"></div><div style="top:441.68px;height:6.29px;background:linear-gradient(90deg,#420a9a 2.8px,#580da0,#6f14a2,#851f9d,#9b2f92,#af4282,#c05574,#cd6669,#d87661,#e28659,#e99653,#efa74f,#f2b54e,#f4c04d,#f4c74e,#f5cf4f,#f5d650,#f5db52,#f4de52,#f4e053,#f4de52,#f5da51,#f5d350,#f5ca4e,#f4c14e,#f2b74e,#f1ae4e,#eea350,#ea9753,#e48b57,#dd7e5d,#d46f64,#c9606d,#bc5078,#ac3f85,#9c3091,#8e259a,#811d9f,#7516a1,#6a12a2,#600fa1 calc(100% - 2.8px))"></div><div style="top:447.27px;height:6.29px;background:linear-gradient(90deg,#420a9a 2.8px,#580da0,#6f14a2,#86209d,#9b2f92,#af4282,#c05574,#ce6768,#d97760,#e28759,#ea9753,#f0aa4f,#f3ba4d,#f4c14e,#f4c74e,#f5cf4f,#f5d550,#f5da51,#f5db52,#f4dd52,#f5db52,#f5d650,#f5cd4f,#f4c44e,#f3bb4d,#f2b34e,#efa94f,#ec9f51,#e89454,#e28759,#dc7b5e,#d36e65,#c85e6e,#bb4f79,#ab3e86,#9c3091,#8e259a,#7f1c9f,#7516a1,#6a12a2,#600fa1 calc(100% - 2.8px))"></div><div style="top:452.86px;height:6.29px;background:linear-gradient(90deg,#420a9a 2.8px,#580da0,#6f14a2,#86209d,#9b2f92,#af4282,#c15673,#ce6768,#d97760,#e28759,#ea9953,#f0ac4f,#f3bb4d,#f4c44e,#f5c94e,#f5cf4f,#f5d350,#f5d650,#f5d851,#f5da51,#f5d650,#f5d24f,#f5c94e,#f4be4d,#f2b54e,#f0ad4e,#eea550,#eb9a52,#e69055,#e0845a,#da785f,#d16b66,#c75d6e,#ba4e7a,#aa3d86,#9b2f92,#8c249a,#7f1c9f,#7516a1,#6a12a2,#600fa1 calc(100% - 2.8px))"></div><div style="top:458.45px;height:6.29px;background:linear-gradient(90deg,#420a9a 2.8px,#580da0,#6f14a2,#851f9d,#9b2f92,#b04381,#c15673,#ce6768,#da785f,#e28759,#eb9a52,#f0ad4e,#f4be4d,#f4c64e,#f5c94e,#f5cd4f,#f5d24f,#f5d350,#f5d550,#f5d550,#f5d24f,#f5cc4e,#f4c34e,#f3b84e,#f1b04e,#efa74f,#ec9f51,#e99653,#e58c57,#df815b,#d87661,#d06967,#c55b70,#b94d7a,#a93c87,#9a2e93,#8b239b,#7f1c9f,#7316a2,#6a12a2,#600fa1 calc(100% - 2.8px))"></div><div style="top:464.05px;height:6.29px;background:linear-gradient(90deg,#420a9a 2.8px,#580da0,#6f14a2,#851f9d,#9b2f92,#af4282,#c15673,#ce6768,#d97760,#e28759,#eb9a52,#f1ae4e,#f4c04d,#f4c74e,#f5c94e,#f5cc4e,#f5cf4f,#f5d04f,#f5d04f,#f5cf4f,#f5cd4f,#f4c64e,#f3bd4d,#f2b34e,#f0aa4f,#eda250,#eb9a52,#e79155,#e28759,#dd7e5d,#d67262,#ce6768,#c45a71,#b74a7c,#a83b88,#982d93,#8b239b,#7e1b9f,#7316a2,#6a12a2,#600fa1 calc(100% - 2.8px))"></div><div style="top:469.64px;height:6.29px;background:linear-gradient(90deg,#420a9a 2.8px,#580da0,#6f14a2,#851f9d,#9b2f92,#af4282,#c15673,#ce6768,#d97760,#e28759,#ea9953,#f0ad4e,#f4c04d,#f4c64e,#f5c94e,#f5ca4e,#f5cc4e,#f5cc4e,#f5ca4e,#f5ca4e,#f4c74e,#f4c04d,#f2b54e,#f0ac4f,#eea350,#eb9b52,#e99554,#e58c57,#e0845a,#da795f,#d46f64,#cc646a,#c35872,#b6497d,#a73a89,#972c94,#8a229b,#7d1aa0,#7215a2,#6811a2,#600fa1 calc(100% - 2.8px))"></div><div style="top:475.23px;height:6.29px;background:linear-gradient(90deg,#420a9a 2.8px,#580da0,#6f14a2,#851f9d,#9a2e93,#ae4183,#c05574,#cd6669,#d87661,#e28659,#ea9753,#f0ac4f,#f3bd4d,#f4c44e,#f4c64e,#f4c74e,#f4c74e,#f4c74e,#f4c44e,#f4c34e,#f4c04d,#f3b84e,#f1ae4e,#eea550,#ec9d52,#e99653,#e69055,#e38858,#de805c,#d87661,#d16b66,#c9616c,#c05574,#b4477e,#a6398a,#962b95,#89229c,#7b1aa0,#7114a2,#6811a2,#5e0fa1 calc(100% - 2.8px))"></div><div style="top:480.82px;height:6.29px;background:linear-gradient(90deg,#420a9a 2.8px,#580da0,#6e13a2,#831e9e,#9a2e93,#ae4183,#bf5475,#cd656a,#d77461,#e1855a,#e99653,#efa94f,#f3ba4d,#f4c34e,#f4c44e,#f4c44e,#f4c34e,#f4c14e,#f4be4d,#f3bb4d,#f2b74e,#f1b04e,#efa74f,#ec9e51,#e99653,#e69055,#e38a58,#e0845a,#dc7b5e,#d67262,#cf6868,#c75d6e,#be5376,#b24580,#a4378b,#952a95,#87219c,#7a19a0,#7114a2,#6711a2,#5e0fa1 calc(100% - 2.8px))"></div><div style="top:486.41px;height:6.29px;background:linear-gradient(90deg,#420a9a 2.8px,#580da0,#6e13a2,#831e9e,#982d93,#ac3f85,#be5376,#cc646a,#d77362,#e0825b,#e89454,#efa650,#f2b54e,#f4be4d,#f4c04d,#f4c04d,#f4be4d,#f3bb4d,#f2b74e,#f2b44e,#f1ae4e,#efa74f,#ec9f51,#ea9753,#e69055,#e38a58,#e1855a,#de7f5c,#d97760,#d36e65,#cc646a,#c45a71,#bc5078,#af4282,#a2358d,#922997,#851f9d,#7918a1,#6f14a2,#6510a2,#5d0ea1 calc(100% - 2.8px))"></div><div style="top:492.00px;height:6.29px;background:linear-gradient(90deg,#420a9a 2.8px,#580da0,#6c13a2,#821d9e,#972c94,#ab3e86,#bc5177,#ca626c,#d57163,#de805c,#e69055,#eda250,#f1b14e,#f3ba4d,#f3bb4d,#f3ba4d,#f3b84e,#f2b44e,#f1b04e,#f0ac4f,#efa650,#ec9f51,#ea9753,#e69055,#e38858,#e0845a,#de7f5c,#db7a5e,#d77362,#d16a67,#c9616c,#c25773,#b84b7b,#ad4084,#9f338f,#912898,#831e9e,#7718a1,#6c13a2,#6410a2,#5b0ea1 calc(100% - 2.8px))"></div><div style="top:497.59px;height:6.29px;background:linear-gradient(90deg,#420a9a 2.8px,#570da0,#6c13a2,#811d9f,#962b95,#aa3d86,#bb4f79,#c9606d,#d46f64,#dd7e5d,#e58d56,#ec9e51,#f0ad4e,#f2b54e,#f2b74e,#f2b54e,#f1b14e,#f0ad4e,#efa74f,#eea350,#ec9d52,#ea9753,#e69055,#e38858,#e0825b,#dd7e5d,#db7a5e,#d77461,#d46f64,#cd6669,#c65c6f,#be5376,#b5487d,#aa3d86,#9d3190,#8f2699,#821d9e,#7617a1,#6b12a2,#610fa1,#580da0 calc(100% - 2.8px))"></div><div style="top:503.18px;height:6.29px;background:linear-gradient(90deg,#420a9a 2.8px,#570da0,#6b12a2,#811d9f,#952a95,#a83b88,#b94d7a,#c75d6e,#d26d65,#dc7b5e,#e38a58,#eb9a52,#efa74f,#f1b04e,#f1b14e,#f1ae4e,#f0aa4f,#efa650,#eda151,#eb9a52,#e99554,#e68f56,#e38858,#df815b,#dc7b5e,#da785f,#d77461,#d47063,#d16a67,#cb636b,#c45971,#bc5078,#b24580,#a73a89,#9b2f92,#8c249a,#7f1c9f,#7316a2,#6811a2,#5e0fa1,#560d9f calc(100% - 2.8px))"></div><div style="top:508.77px;height:6.29px;background:linear-gradient(90deg,#420a9a 2.8px,#560d9f,#6b12a2,#7e1b9f,#922997,#a6398a,#b74a7c,#c55b70,#d16a67,#da785f,#e28659,#e99554,#eea350,#f0aa4f,#f0ac4f,#efa94f,#eea350,#ec9e51,#ea9953,#e79255,#e58c57,#e28759,#df815b,#db7a5e,#d87661,#d67262,#d46f64,#d16b66,#cd6669,#c85e6e,#c05574,#b84b7b,#af4282,#a4378b,#972c94,#8a229b,#7d1aa0,#7114a2,#6510a2,#5d0ea1,#530c9f calc(100% - 2.8px))"></div><div style="top:514.36px;height:6.29px;background:linear-gradient(90deg,#410a99 2.8px,#560d9f,#6a12a2,#7d1aa0,#912898,#a4378b,#b5487d,#c35872,#ce6768,#d77461,#e0825b,#e79155,#ec9e51,#eea550,#efa650,#eda250,#ec9d52,#e99653,#e69055,#e38a58,#e0845a,#de7f5c,#da795f,#d77461,#d46f64,#d16b66,#d06967,#ce6768,#ca626c,#c45a71,#bc5177,#b4477e,#ab3e86,#a0348e,#952a95,#87219c,#7a19a0,#6e13a2,#6210a2,#5a0ea0,#500c9e calc(100% - 2.8px))"></div><div style="top:519.95px;height:6.29px;background:linear-gradient(90deg,#410a99 2.8px,#540c9f,#6811a2,#7b1aa0,#8f2699,#a2358d,#b24580,#c15673,#cd656a,#d67262,#de7f5c,#e58c57,#ea9953,#ec9f51,#ec9f51,#eb9b52,#e99554,#e69055,#e38858,#e0825b,#dc7c5d,#da785f,#d67262,#d36e65,#d06967,#cd6669,#cc646a,#ca626c,#c75d6e,#c15673,#ba4e7a,#b14481,#a83b88,#9d3190,#912898,#831e9e,#7718a1,#6b12a2,#600fa1,#560d9f,#4d0b9d calc(100% - 2.8px))"></div><div style="top:525.55px;height:6.29px;background:linear-gradient(90deg,#3f0a98 2.8px,#530c9f,#6510a2,#7918a1,#8b239b,#9e328f,#af4282,#be5376,#ca626c,#d36e65,#db7a5e,#e28759,#e89454,#ea9953,#ea9953,#e99554,#e68f56,#e38858,#df815b,#db7a5e,#d77461,#d47063,#d16b66,#ce6768,#cb636b,#c9616c,#c85e6e,#c65c6f,#c45971,#bd5276,#b6497d,#ad4084,#a4378b,#9a2e93,#8e259a,#811d9f,#7316a2,#6811a2,#5d0ea1,#530c9f,#480b9c calc(100% - 2.8px))"></div><div style="top:531.14px;height:6.29px;background:linear-gradient(90deg,#3f0a98 2.8px,#510c9e,#6410a2,#7617a1,#89229c,#9b2f92,#ac3f85,#bc5078,#c85e6e,#d16a67,#d97760,#e0825b,#e58d56,#e79255,#e79255,#e58d56,#e28759,#df815b,#db7a5e,#d67262,#d36e65,#d06967,#cd656a,#c9616c,#c75d6e,#c55b70,#c45a71,#c35872,#bf5475,#ba4e7a,#b24580,#a93c87,#a0348e,#962b95,#8a229b,#7d1aa0,#7114a2,#6410a2,#5a0ea0,#500c9e,#450a9b calc(100% - 2.8px))"></div><div style="top:536.73px;height:6.29px;background:linear-gradient(90deg,#3e0a98 2.8px,#500c9e,#6210a2,#7316a2,#86209d,#972c94,#a93c87,#b84b7b,#c45a71,#cd6669,#d67262,#dd7e5d,#e38858,#e58c57,#e48b57,#e28759,#df815b,#db7a5e,#d77362,#d16b66,#cd6669,#ca626c,#c85e6e,#c45a71,#c25773,#c15673,#c05574,#be5376,#bb4f79,#b5487d,#ad4084,#a5388b,#9c3091,#912898,#86209d,#7a19a0,#6c13a2,#610fa1,#560d9f,#4b0b9d,#410a99 calc(100% - 2.8px))"></div><div style="top:542.32px;height:6.29px;background:linear-gradient(90deg,#3c0997 2.8px,#4e0c9e,#600fa1,#7114a2,#821d9e,#942a96,#a5388b,#b4477e,#c15673,#ca626c,#d26d65,#da785f,#df815b,#e28659,#e1855a,#de805c,#db7a5e,#d77362,#d26d65,#cd656a,#c9606d,#c55b70,#c35872,#c05574,#bd5276,#bc5177,#bc5078,#ba4e7a,#b6497d,#b14481,#a93c87,#a0348e,#972c94,#8e259a,#821d9e,#7617a1,#6a12a2,#5d0ea1,#530c9f,#470b9b,#3c0997 calc(100% - 2.8px))"></div><div style="top:547.91px;height:6.29px;background:linear-gradient(90deg,#3b0997 2.8px,#4b0b9d,#5d0ea1,#6e13a2,#7e1b9f,#8f2699,#a0348e,#b04381,#bc5177,#c75d6e,#cf6868,#d67262,#dc7b5e,#de7f5c,#dd7e5d,#db7a5e,#d77461,#d36e65,#cd6669,#c85e6e,#c45971,#c05574,#bd5276,#bc5078,#b94d7a,#b84b7b,#b74a7c,#b5487d,#b24580,#ac3f85,#a5388b,#9c3091,#942a96,#8a229b,#7e1b9f,#7215a2,#6510a2,#5a0ea0,#4e0c9e,#440a9a,#390996 calc(100% - 2.8px))"></div><div style="top:553.50px;height:6.29px;background:linear-gradient(90deg,#390996 2.8px,#4a0b9c,#5a0ea0,#6a12a2,#7a19a0,#8b239b,#9c3091,#ac3f85,#b94d7a,#c35872,#cb636b,#d26d65,#d77461,#da785f,#d97760,#d77362,#d36e65,#ce6768,#c9606d,#c35872,#be5376,#bb4f79,#b94d7a,#b6497d,#b4477e,#b3467f,#b24580,#b04381,#ad4084,#a73a89,#a0348e,#972c94,#8f2699,#851f9d,#7a19a0,#6e13a2,#610fa1,#560d9f,#4a0b9c,#3f0a98,#350994 calc(100% - 2.8px))"></div><div style="top:559.09px;height:6.29px;background:linear-gradient(90deg,#360995 2.8px,#470b9b,#570da0,#6510a2,#7516a1,#86209d,#972c94,#a73a89,#b4477e,#be5376,#c65c6f,#cd6669,#d36e65,#d57163,#d47063,#d26d65,#cf6868,#ca626c,#c45971,#bd5276,#b94d7a,#b6497d,#b3467f,#b14481,#b04381,#ae4183,#ad4084,#ab3e86,#a83b88,#a3368c,#9b2f92,#942a96,#8b239b,#811d9f,#7617a1,#6a12a2,#5d0ea1,#510c9e,#470b9b,#3b0997,#300892 calc(100% - 2.8px))"></div><div style="top:564.68px;height:6.29px;background:linear-gradient(90deg,#350994 2.8px,#440a9a,#530c9f,#610fa1,#7114a2,#811d9f,#922997,#a2358d,#af4282,#b94d7a,#c25773,#c9606d,#ce6768,#d16a67,#d06967,#cd6669,#ca626c,#c55b70,#bf5475,#b94d7a,#b3467f,#b04381,#ae4183,#ad4084,#ab3e86,#aa3d86,#a83b88,#a6398a,#a3368c,#9d3190,#962b95,#8f2699,#86209d,#7d1aa0,#7215a2,#6510a2,#5a0ea0,#4d0b9d,#420a9a,#360995,#2b0890 calc(100% - 2.8px))"></div><div style="top:570.27px;height:6.29px;background:linear-gradient(90deg,#330893 2.8px,#410a99,#500c9e,#5d0ea1,#6b12a2,#7b1aa0,#8c249a,#9c3091,#a93c87,#b4477e,#bc5177,#c45971,#c9606d,#cc646a,#cb636b,#c9616c,#c55b70,#c15673,#ba4e7a,#b3467f,#ae4183,#ab3e86,#a93c87,#a83b88,#a73a89,#a5388b,#a3368c,#a0348e,#9d3190,#982d93,#912898,#8a229b,#821d9e,#7918a1,#6e13a2,#610fa1,#560d9f,#4a0b9c,#3e0a98,#330893,#26078d calc(100% - 2.8px))"></div><div style="top:575.86px;height:6.29px;background:linear-gradient(90deg,#300892 2.8px,#3e0a98,#4b0b9d,#580da0,#6510a2,#7617a1,#87219c,#962b95,#a4378b,#ae4183,#b74a7c,#be5376,#c45971,#c65c6f,#c65c6f,#c45a71,#c15673,#bc5078,#b5487d,#ae4183,#a83b88,#a5388b,#a4378b,#a3368c,#a2358d,#a0348e,#9e328f,#9c3091,#982d93,#922997,#8c249a,#851f9d,#7d1aa0,#7516a1,#6a12a2,#5e0fa1,#510c9e,#450a9b,#390996,#2e0891,#20078b calc(100% - 2.8px))"></div><div style="top:581.45px;height:6.29px;background:linear-gradient(90deg,#2d0890 2.8px,#3b0997,#480b9c,#540c9f,#610fa1,#7114a2,#811d9f,#902798,#9e328f,#a83b88,#b14481,#b94d7a,#be5376,#c15673,#c25773,#bf5475,#bc5078,#b6497d,#af4282,#a83b88,#a3368c,#9f338f,#9e328f,#9e328f,#9d3190,#9b2f92,#982d93,#962b95,#922997,#8e259a,#87219c,#811d9f,#7918a1,#7114a2,#6510a2,#5a0ea0,#4d0b9d,#410a99,#350994,#29088f,#1a0788 calc(100% - 2.8px))"></div><div style="top:587.05px;height:6.29px;background:linear-gradient(90deg,#2b0890 2.8px,#380995,#440a9a,#500c9e,#5b0ea1,#6b12a2,#7b1aa0,#8a229b,#972c94,#a3368c,#ab3e86,#b3467f,#b94d7a,#bc5177,#bc5177,#bb4f79,#b74a7c,#b14481,#aa3d86,#a3368c,#9d3190,#9b2f92,#9a2e93,#9a2e93,#982d93,#962b95,#942a96,#912898,#8e259a,#89229c,#821d9e,#7b1aa0,#7516a1,#6b12a2,#610fa1,#560d9f,#480b9c,#3c0997,#300892,#24078c,#140785 calc(100% - 2.8px))"></div><div style="top:592.64px;height:6.29px;background:linear-gradient(90deg,#28088e 2.8px,#350994,#410a99,#4b0b9d,#570da0,#6510a2,#7516a1,#831e9e,#912898,#9c3091,#a5388b,#ac3f85,#b3467f,#b74a7c,#b74a7c,#b5487d,#b14481,#ac3f85,#a5388b,#9d3190,#972c94,#952a95,#952a95,#952a95,#942a96,#912898,#8f2699,#8b239b,#87219c,#831e9e,#7d1aa0,#7617a1,#6f14a2,#6711a2,#5d0ea1,#510c9e,#440a9a,#380995,#2b0890,#1e078a,#0c0881 calc(100% - 2.8px))"></div><div style="top:598.23px;height:6.29px;background:linear-gradient(90deg,#26078d 2.8px,#310893,#3c0997,#470b9b,#530c9f,#610fa1,#6f14a2,#7d1aa0,#8a229b,#952a95,#9d3190,#a73a89,#ae4183,#b14481,#b24580,#b04381,#ac3f85,#a73a89,#9f338f,#982d93,#922997,#902798,#902798,#902798,#8f2699,#8c249a,#89229c,#86209d,#821d9e,#7e1b9f,#7918a1,#7215a2,#6b12a2,#6210a2,#580da0,#4d0b9d,#3f0a98,#330893,#26078d,#180787,#0c0881 calc(100% - 2.8px))"></div><div style="top:603.82px;height:6.29px;background:linear-gradient(90deg,#22078c 2.8px,#2e0891,#390996,#440a9a,#4e0c9e,#5b0ea1,#6a12a2,#7617a1,#831e9e,#8e259a,#962b95,#a0348e,#a83b88,#ac3f85,#ad4084,#ab3e86,#a73a89,#a2358d,#9a2e93,#942a96,#8e259a,#8b239b,#8b239b,#8b239b,#8a229b,#87219c,#831e9e,#811d9f,#7d1aa0,#7918a1,#7316a2,#6c13a2,#6510a2,#5d0ea1,#530c9f,#470b9b,#3b0997,#2e0891,#20078b,#110783,#0c0881 calc(100% - 2.8px))"></div><div style="top:609.41px;height:6.29px;background:linear-gradient(90deg,#20078b 2.8px,#2d0890,#360995,#3f0a98,#4a0b9c,#570da0,#6210a2,#6f14a2,#7b1aa0,#86209d,#902798,#9a2e93,#a3368c,#a73a89,#a83b88,#a6398a,#a2358d,#9c3091,#952a95,#8f2699,#8a229b,#87219c,#86209d,#86209d,#851f9d,#821d9e,#7e1b9f,#7b1aa0,#7718a1,#7316a2,#6e13a2,#6711a2,#600fa1,#580da0,#4e0c9e,#420a9a,#360995,#29088f,#1a0788,#0c0881,#0c0881 calc(100% - 2.8px))"></div><div style="top:615.00px;height:6.29px;background:linear-gradient(90deg,#1c0789 2.8px,#29088f,#330893,#3c0997,#470b9b,#510c9e,#5d0ea1,#6a12a2,#7516a1,#7e1b9f,#89229c,#942a96,#9d3190,#a2358d,#a3368c,#a0348e,#9d3190,#972c94,#902798,#8a229b,#851f9d,#821d9e,#821d9e,#811d9f,#7f1c9f,#7d1aa0,#7918a1,#7516a1,#7215a2,#6e13a2,#6811a2,#6210a2,#5b0ea1,#530c9f,#480b9c,#3e0a98,#310893,#24078c,#140785,#0c0881,#0c0881 calc(100% - 2.8px))"></div><div style="top:620.59px;height:6.29px;background:linear-gradient(90deg,#1a0788 2.8px,#26078d,#300892,#390996,#420a9a,#4d0b9d,#570da0,#6210a2,#6c13a2,#7718a1,#821d9e,#8e259a,#972c94,#9c3091,#9d3190,#9b2f92,#972c94,#922997,#8b239b,#86209d,#811d9f,#7e1b9f,#7d1aa0,#7b1aa0,#7a19a0,#7718a1,#7316a2,#6f14a2,#6c13a2,#6811a2,#6210a2,#5d0ea1,#560d9f,#4d0b9d,#440a9a,#380995,#2b0890,#1e078a,#0c0881,#0c0881,#0c0881 calc(100% - 2.8px))"></div><div style="top:626.18px;height:6.29px;background:linear-gradient(90deg,#180787 2.8px,#24078c,#2d0890,#360995,#3e0a98,#480b9c,#510c9e,#5b0ea1,#6510a2,#6f14a2,#7b1aa0,#87219c,#912898,#962b95,#972c94,#962b95,#922997,#8e259a,#87219c,#811d9f,#7d1aa0,#7a19a0,#7918a1,#7718a1,#7516a1,#7215a2,#6e13a2,#6a12a2,#6711a2,#6210a2,#5d0ea1,#570da0,#500c9e,#470b9b,#3e0a98,#330893,#26078d,#160786,#0c0881,#0c0881,#0c0881 calc(100% - 2.8px))"></div><div style="top:631.77px;height:6.29px;background:linear-gradient(90deg,#160786 2.8px,#22078c,#2b0890,#330893,#3b0997,#420a9a,#4d0b9d,#560d9f,#5e0fa1,#6811a2,#7516a1,#811d9f,#8b239b,#902798,#912898,#902798,#8c249a,#89229c,#821d9e,#7d1aa0,#7918a1,#7617a1,#7516a1,#7316a2,#7114a2,#6c13a2,#6811a2,#6410a2,#610fa1,#5d0ea1,#570da0,#510c9e,#4a0b9c,#410a99,#380995,#2d0890,#20078b,#0f0882,#0c0881,#0c0881,#0c0881 calc(100% - 2.8px))"></div><div style="top:637.36px;height:6.29px;background:linear-gradient(90deg,#140785 2.8px,#1e078a,#28088e,#300892,#360995,#3e0a98,#470b9b,#500c9e,#580da0,#610fa1,#6e13a2,#7a19a0,#851f9d,#8b239b,#8c249a,#8b239b,#87219c,#831e9e,#7e1b9f,#7918a1,#7516a1,#7215a2,#7114a2,#6e13a2,#6b12a2,#6711a2,#6210a2,#5e0fa1,#5b0ea1,#570da0,#510c9e,#4b0b9d,#440a9a,#3b0997,#310893,#26078d,#180787,#0c0881,#0c0881,#0c0881,#0c0881 calc(100% - 2.8px))"></div><div style="top:642.95px;height:6.29px;background:linear-gradient(90deg,#110783 2.8px,#1c0789,#26078d,#2d0890,#330893,#390996,#410a99,#480b9c,#510c9e,#5b0ea1,#6711a2,#7516a1,#7f1c9f,#851f9d,#86209d,#86209d,#821d9e,#7e1b9f,#7918a1,#7516a1,#7114a2,#6f14a2,#6c13a2,#6a12a2,#6711a2,#6210a2,#5d0ea1,#580da0,#560d9f,#510c9e,#4b0b9d,#450a9b,#3e0a98,#350994,#2b0890,#20078b,#110783,#0c0881,#0c0881,#0c0881,#0c0881 calc(100% - 2.8px))"></div><div style="top:648.55px;height:6.29px;background:linear-gradient(90deg,#0f0882 2.8px,#1a0788,#22078c,#29088f,#300892,#350994,#3c0997,#420a9a,#4b0b9d,#540c9f,#610fa1,#6f14a2,#7918a1,#7f1c9f,#811d9f,#7f1c9f,#7d1aa0,#7918a1,#7516a1,#7114a2,#6e13a2,#6b12a2,#6811a2,#6510a2,#610fa1,#5d0ea1,#580da0,#540c9f,#500c9e,#4b0b9d,#450a9b,#3f0a98,#380995,#2e0891,#24078c,#180787,#0c0881,#0c0881,#0c0881,#0c0881,#0c0881 calc(100% - 2.8px))"></div><div style="top:654.14px;height:6.29px;background:linear-gradient(90deg,#0f0882 2.8px,#180787,#20078b,#26078d,#2b0890,#300892,#360995,#3e0a98,#450a9b,#4e0c9e,#5b0ea1,#6811a2,#7316a2,#7918a1,#7b1aa0,#7a19a0,#7718a1,#7516a1,#7114a2,#6c13a2,#6a12a2,#6811a2,#6510a2,#610fa1,#5d0ea1,#580da0,#530c9f,#4e0c9e,#4a0b9c,#450a9b,#3f0a98,#390996,#310893,#28088e,#1c0789,#0f0882,#0c0881,#0c0881,#0c0881,#0c0881,#0c0881 calc(100% - 2.8px))"></div><div style="top:659.73px;height:6.29px;background:linear-gradient(90deg,#0c0881 2.8px,#160786,#1e078a,#22078c,#28088e,#2d0890,#310893,#380995,#3f0a98,#480b9c,#560d9f,#6210a2,#6e13a2,#7316a2,#7617a1,#7516a1,#7316a2,#6f14a2,#6b12a2,#6811a2,#6510a2,#6410a2,#610fa1,#5d0ea1,#580da0,#530c9f,#4d0b9d,#480b9c,#440a9a,#3f0a98,#390996,#330893,#2b0890,#20078b,#160786,#0c0881,#0c0881,#0c0881,#0c0881,#0c0881,#0c0881 calc(100% - 2.8px))"></div><div style="top:665.32px;height:6.29px;background:linear-gradient(90deg,#0c0881 2.8px,#140785,#1c0789,#20078b,#22078c,#28088e,#2d0890,#310893,#390996,#420a9a,#500c9e,#5e0fa1,#6811a2,#6e13a2,#7114a2,#6f14a2,#6e13a2,#6a12a2,#6711a2,#6410a2,#6210a2,#610fa1,#5e0fa1,#580da0,#540c9f,#4e0c9e,#480b9c,#420a9a,#3e0a98,#390996,#330893,#2d0890,#24078c,#180787,#0c0881,#0c0881,#0c0881,#0c0881,#0c0881,#0c0881,#0c0881 calc(100% - 2.8px))"></div><div style="top:670.91px;height:6.29px;background:linear-gradient(90deg,#0c0881 2.8px,#110783,#180787,#1c0789,#1e078a,#22078c,#26078d,#2d0890,#330893,#3e0a98,#4a0b9c,#580da0,#6210a2,#6811a2,#6a12a2,#6a12a2,#6811a2,#6510a2,#6210a2,#600fa1,#5e0fa1,#5d0ea1,#5a0ea0,#560d9f,#500c9e,#480b9c,#420a9a,#3e0a98,#380995,#330893,#2d0890,#26078d,#1c0789,#0f0882,#0c0881,#0c0881,#0c0881,#0c0881,#0c0881,#0c0881,#0c0881 calc(100% - 2.8px))"></div></div>
<div class="hm" style="left:1132.0px;top:884.0px;width:678.0px;height:676.5px;clip-path:polygon(378.2px 0.0px,378.2px 5.6px,411.8px 5.6px,411.8px 11.2px,434.3px 11.2px,434.3px 16.8px,451.1px 16.8px,451.1px 22.4px,462.3px 22.4px,462.3px 28.0px,479.1px 28.0px,479.1px 33.5px,490.3px 33.5px,490.3px 39.1px,501.5px 39.1px,501.5px 44.7px,507.1px 44.7px,507.1px 50.3px,518.3px 50.3px,518.3px 55.9px,529.5px 55.9px,529.5px 61.5px,535.1px 61.5px,535.1px 67.1px,540.7px 67.1px,540.7px 72.7px,551.9px 72.7px,551.9px 78.3px,557.5px 78.3px,557.5px 83.9px,563.1px 83.9px,563.1px 89.5px,568.7px 89.5px,568.7px 95.0px,574.3px 95.0px,574.3px 100.6px,579.9px 100.6px,579.9px 106.2px,585.5px 106.2px,585.5px 111.8px,591.1px 111.8px,591.1px 117.4px,596.8px 117.4px,596.8px 123.0px,602.4px 123.0px,602.4px 128.6px,602.4px 128.6px,602.4px 134.2px,608.0px 134.2px,608.0px 139.8px,613.6px 139.8px,613.6px 145.4px,619.2px 145.4px,619.2px 151.0px,619.2px 151.0px,619.2px 156.5px,624.8px 156.5px,624.8px 162.1px,624.8px 162.1px,624.8px 167.7px,630.4px 167.7px,630.4px 173.3px,636.0px 173.3px,636.0px 178.9px,636.0px 178.9px,636.0px 184.5px,641.6px 184.5px,641.6px 190.1px,641.6px 190.1px,641.6px 195.7px,647.2px 195.7px,647.2px 201.3px,647.2px 201.3px,647.2px 206.9px,647.2px 206.9px,647.2px 212.5px,652.8px 212.5px,652.8px 218.0px,652.8px 218.0px,652.8px 223.6px,658.4px 223.6px,658.4px 229.2px,658.4px 229.2px,658.4px 234.8px,658.4px 234.8px,658.4px 240.4px,664.0px 240.4px,664.0px 246.0px,664.0px 246.0px,664.0px 251.6px,664.0px 251.6px,664.0px 257.2px,664.0px 257.2px,664.0px 262.8px,669.6px 262.8px,669.6px 268.4px,669.6px 268.4px,669.6px 274.0px,669.6px 274.0px,669.6px 279.5px,669.6px 279.5px,669.6px 285.1px,669.6px 285.1px,669.6px 290.7px,669.6px 290.7px,669.6px 296.3px,675.2px 296.3px,675.2px 301.9px,675.2px 301.9px,675.2px 307.5px,675.2px 307.5px,675.2px 313.1px,675.2px 313.1px,675.2px 318.7px,675.2px 318.7px,675.2px 324.3px,675.2px 324.3px,675.2px 329.9px,675.2px 329.9px,675.2px 335.5px,675.2px 335.5px,675.2px 341.0px,675.2px 341.0px,675.2px 346.6px,675.2px 346.6px,675.2px 352.2px,675.2px 352.2px,675.2px 357.8px,675.2px 357.8px,675.2px 363.4px,675.2px 363.4px,675.2px 369.0px,675.2px 369.0px,675.2px 374.6px,675.2px 374.6px,675.2px 380.2px,669.6px 380.2px,669.6px 385.8px,669.6px 385.8px,669.6px 391.4px,669.6px 391.4px,669.6px 397.0px,669.6px 397.0px,669.6px 402.5px,669.6px 402.5px,669.6px 408.1px,669.6px 408.1px,669.6px 413.7px,664.0px 413.7px,664.0px 419.3px,664.0px 419.3px,664.0px 424.9px,664.0px 424.9px,664.0px 430.5px,664.0px 430.5px,664.0px 436.1px,658.4px 436.1px,658.4px 441.7px,658.4px 441.7px,658.4px 447.3px,658.4px 447.3px,658.4px 452.9px,652.8px 452.9px,652.8px 458.5px,652.8px 458.5px,652.8px 464.0px,647.2px 464.0px,647.2px 469.6px,647.2px 469.6px,647.2px 475.2px,647.2px 475.2px,647.2px 480.8px,641.6px 480.8px,641.6px 486.4px,641.6px 486.4px,641.6px 492.0px,636.0px 492.0px,636.0px 497.6px,636.0px 497.6px,636.0px 503.2px,630.4px 503.2px,630.4px 508.8px,624.8px 508.8px,624.8px 514.4px,624.8px 514.4px,624.8px 520.0px,619.2px 520.0px,619.2px 525.5px,619.2px 525.5px,619.2px 531.1px,613.6px 531.1px,613.6px 536.7px,608.0px 536.7px,608.0px 542.3px,602.4px 542.3px,602.4px 547.9px,602.4px 547.9px,602.4px 553.5px,596.8px 553.5px,596.8px 559.1px,591.1px 559.1px,591.1px 564.7px,585.5px 564.7px,585.5px 570.3px,579.9px 570.3px,579.9px 575.9px,574.3px 575.9px,574.3px 581.5px,568.7px 581.5px,568.7px 587.0px,563.1px 587.0px,563.1px 592.6px,557.5px 592.6px,557.5px 598.2px,551.9px 598.2px,551.9px 603.8px,540.7px 603.8px,540.7px 609.4px,535.1px 609.4px,535.1px 615.0px,529.5px 615.0px,529.5px 620.6px,518.3px 620.6px,518.3px 626.2px,507.1px 626.2px,507.1px 631.8px,501.5px 631.8px,501.5px 637.4px,490.3px 637.4px,490.3px 643.0px,479.1px 643.0px,479.1px 648.5px,462.3px 648.5px,462.3px 654.1px,451.1px 654.1px,451.1px 659.7px,434.3px 659.7px,434.3px 665.3px,411.8px 665.3px,411.8px 670.9px,378.2px 670.9px,378.2px 676.5px,294.2px 676.5px,294.2px 670.9px,260.6px 670.9px,260.6px 665.3px,238.1px 665.3px,238.1px 659.7px,221.3px 659.7px,221.3px 654.1px,210.1px 654.1px,210.1px 648.5px,193.3px 648.5px,193.3px 643.0px,182.1px 643.0px,182.1px 637.4px,170.9px 637.4px,170.9px 631.8px,165.3px 631.8px,165.3px 626.2px,154.1px 626.2px,154.1px 620.6px,142.9px 620.6px,142.9px 615.0px,137.3px 615.0px,137.3px 609.4px,131.7px 609.4px,131.7px 603.8px,120.5px 603.8px,120.5px 598.2px,114.9px 598.2px,114.9px 592.6px,109.3px 592.6px,109.3px 587.0px,103.7px 587.0px,103.7px 581.5px,98.1px 581.5px,98.1px 575.9px,92.5px 575.9px,92.5px 570.3px,86.9px 570.3px,86.9px 564.7px,81.2px 564.7px,81.2px 559.1px,75.6px 559.1px,75.6px 553.5px,70.0px 553.5px,70.0px 547.9px,70.0px 547.9px,70.0px 542.3px,64.4px 542.3px,64.4px 536.7px,58.8px 536.7px,58.8px 531.1px,53.2px 531.1px,53.2px 525.5px,53.2px 525.5px,53.2px 520.0px,47.6px 520.0px,47.6px 514.4px,47.6px 514.4px,47.6px 508.8px,42.0px 508.8px,42.0px 503.2px,36.4px 503.2px,36.4px 497.6px,36.4px 497.6px,36.4px 492.0px,30.8px 492.0px,30.8px 486.4px,30.8px 486.4px,30.8px 480.8px,25.2px 480.8px,25.2px 475.2px,25.2px 475.2px,25.2px 469.6px,25.2px 469.6px,25.2px 464.0px,19.6px 464.0px,19.6px 458.5px,19.6px 458.5px,19.6px 452.9px,14.0px 452.9px,14.0px 447.3px,14.0px 447.3px,14.0px 441.7px,14.0px 441.7px,14.0px 436.1px,8.4px 436.1px,8.4px 430.5px,8.4px 430.5px,8.4px 424.9px,8.4px 424.9px,8.4px 419.3px,8.4px 419.3px,8.4px 413.7px,2.8px 413.7px,2.8px 408.1px,2.8px 408.1px,2.8px 402.5px,2.8px 402.5px,2.8px 397.0px,2.8px 397.0px,2.8px 391.4px,2.8px 391.4px,2.8px 385.8px,2.8px 385.8px,2.8px 380.2px,-2.8px 380.2px,-2.8px 374.6px,-2.8px 374.6px,-2.8px 369.0px,-2.8px 369.0px,-2.8px 363.4px,-2.8px 363.4px,-2.8px 357.8px,-2.8px 357.8px,-2.8px 352.2px,-2.8px 352.2px,-2.8px 346.6px,-2.8px 346.6px,-2.8px 341.0px,-2.8px 341.0px,-2.8px 335.5px,-2.8px 335.5px,-2.8px 329.9px,-2.8px 329.9px,-2.8px 324.3px,-2.8px 324.3px,-2.8px 318.7px,-2.8px 318.7px,-2.8px 313.1px,-2.8px 313.1px,-2.8px 307.5px,-2.8px 307.5px,-2.8px 301.9px,-2.8px 301.9px,-2.8px 296.3px,2.8px 296.3px,2.8px 290.7px,2.8px 290.7px,2.8px 285.1px,2.8px 285.1px,2.8px 279.5px,2.8px 279.5px,2.8px 274.0px,2.8px 274.0px,2.8px 268.4px,2.8px 268.4px,2.8px 262.8px,8.4px 262.8px,8.4px 257.2px,8.4px 257.2px,8.4px 251.6px,8.4px 251.6px,8.4px 246.0px,8.4px 246.0px,8.4px 240.4px,14.0px 240.4px,14.0px 234.8px,14.0px 234.8px,14.0px 229.2px,14.0px 229.2px,14.0px 223.6px,19.6px 223.6px,19.6px 218.0px,19.6px 218.0px,19.6px 212.5px,25.2px 212.5px,25.2px 206.9px,25.2px 206.9px,25.2px 201.3px,25.2px 201.3px,25.2px 195.7px,30.8px 195.7px,30.8px 190.1px,30.8px 190.1px,30.8px 184.5px,36.4px 184.5px,36.4px 178.9px,36.4px 178.9px,36.4px 173.3px,42.0px 173.3px,42.0px 167.7px,47.6px 167.7px,47.6px 162.1px,47.6px 162.1px,47.6px 156.5px,53.2px 156.5px,53.2px 151.0px,53.2px 151.0px,53.2px 145.4px,58.8px 145.4px,58.8px 139.8px,64.4px 139.8px,64.4px 134.2px,70.0px 134.2px,70.0px 128.6px,70.0px 128.6px,70.0px 123.0px,75.6px 123.0px,75.6px 117.4px,81.2px 117.4px,81.2px 111.8px,86.9px 111.8px,86.9px 106.2px,92.5px 106.2px,92.5px 100.6px,98.1px 100.6px,98.1px 95.0px,103.7px 95.0px,103.7px 89.5px,109.3px 89.5px,109.3px 83.9px,114.9px 83.9px,114.9px 78.3px,120.5px 78.3px,120.5px 72.7px,131.7px 72.7px,131.7px 67.1px,137.3px 67.1px,137.3px 61.5px,142.9px 61.5px,142.9px 55.9px,154.1px 55.9px,154.1px 50.3px,165.3px 50.3px,165.3px 44.7px,170.9px 44.7px,170.9px 39.1px,182.1px 39.1px,182.1px 33.5px,193.3px 33.5px,193.3px 28.0px,210.1px 28.0px,210.1px 22.4px,221.3px 22.4px,221.3px 16.8px,238.1px 16.8px,238.1px 11.2px,260.6px 11.2px,260.6px 5.6px,294.2px 5.6px,294.2px 0.0px)"><div style="top:0.00px;height:6.29px;background:linear-gradient(90deg,#0f0882 2.8px,#20078b,#2e0891,#390996,#420a9a,#4d0b9d,#570da0,#610fa1,#6b12a2,#7316a2,#7918a1,#7e1b9f,#831e9e,#86209d,#87219c,#86209d,#851f9d,#851f9d,#86209d,#87219c,#8a229b,#8e259a,#902798,#942a96,#962b95,#972c94,#972c94,#952a95,#902798,#89229c,#811d9f,#7918a1,#7215a2,#6811a2,#5e0fa1,#530c9f,#470b9b,#390996,#2b0890,#180787,#0c0881 calc(100% - 2.8px))"></div><div style="top:5.59px;height:6.29px;background:linear-gradient(90deg,#160786 2.8px,#26078d,#330893,#3e0a98,#480b9c,#530c9f,#5d0ea1,#6811a2,#7215a2,#7a19a0,#811d9f,#86209d,#8b239b,#8c249a,#8c249a,#8b239b,#8b239b,#8a229b,#8b239b,#8c249a,#8f2699,#912898,#952a95,#982d93,#9b2f92,#9d3190,#9c3091,#9a2e93,#952a95,#8f2699,#86209d,#7e1b9f,#7617a1,#6e13a2,#6210a2,#570da0,#4b0b9d,#3e0a98,#2e0891,#1c0789,#0c0881 calc(100% - 2.8px))"></div><div style="top:11.18px;height:6.29px;background:linear-gradient(90deg,#1c0789 2.8px,#2b0890,#380995,#420a9a,#4d0b9d,#570da0,#6210a2,#6e13a2,#7918a1,#811d9f,#87219c,#8e259a,#912898,#942a96,#922997,#912898,#902798,#8f2699,#8f2699,#902798,#922997,#962b95,#9a2e93,#9d3190,#9f338f,#a2358d,#a2358d,#9f338f,#9b2f92,#942a96,#8c249a,#831e9e,#7b1aa0,#7215a2,#6711a2,#5b0ea1,#4e0c9e,#410a99,#330893,#22078c,#0c0881 calc(100% - 2.8px))"></div><div style="top:16.77px;height:6.29px;background:linear-gradient(90deg,#22078c 2.8px,#300892,#3c0997,#480b9c,#530c9f,#5d0ea1,#6811a2,#7316a2,#7e1b9f,#87219c,#8e259a,#942a96,#982d93,#9a2e93,#982d93,#962b95,#952a95,#942a96,#942a96,#952a95,#972c94,#9b2f92,#9e328f,#a2358d,#a4378b,#a6398a,#a6398a,#a4378b,#9f338f,#9a2e93,#912898,#89229c,#811d9f,#7617a1,#6c13a2,#600fa1,#530c9f,#450a9b,#360995,#26078d,#110783 calc(100% - 2.8px))"></div><div style="top:22.36px;height:6.29px;background:linear-gradient(90deg,#28088e 2.8px,#350994,#410a99,#4d0b9d,#570da0,#6210a2,#6e13a2,#7a19a0,#851f9d,#8e259a,#952a95,#9b2f92,#9e328f,#9f338f,#9e328f,#9c3091,#9a2e93,#982d93,#982d93,#9a2e93,#9c3091,#9e328f,#a2358d,#a6398a,#a83b88,#aa3d86,#aa3d86,#a93c87,#a5388b,#9e328f,#972c94,#8e259a,#851f9d,#7b1aa0,#7114a2,#6410a2,#570da0,#480b9c,#390996,#29088f,#160786 calc(100% - 2.8px))"></div><div style="top:27.95px;height:6.29px;background:linear-gradient(90deg,#2b0890 2.8px,#390996,#450a9b,#510c9e,#5b0ea1,#6711a2,#7316a2,#7f1c9f,#8b239b,#942a96,#9b2f92,#a0348e,#a5388b,#a5388b,#a3368c,#a0348e,#9e328f,#9d3190,#9d3190,#9e328f,#9f338f,#a3368c,#a6398a,#a93c87,#ac3f85,#ae4183,#ae4183,#ad4084,#a93c87,#a4378b,#9c3091,#922997,#8a229b,#7f1c9f,#7516a1,#6811a2,#5a0ea0,#4d0b9d,#3c0997,#2d0890,#1a0788 calc(100% - 2.8px))"></div><div style="top:33.55px;height:6.29px;background:linear-gradient(90deg,#300892 2.8px,#3c0997,#4a0b9c,#560d9f,#600fa1,#6c13a2,#7918a1,#851f9d,#902798,#9a2e93,#a2358d,#a73a89,#aa3d86,#aa3d86,#a83b88,#a5388b,#a3368c,#a2358d,#a0348e,#a2358d,#a4378b,#a6398a,#aa3d86,#ad4084,#b04381,#b24580,#b3467f,#b14481,#ae4183,#a83b88,#a0348e,#972c94,#8f2699,#851f9d,#7918a1,#6c13a2,#5e0fa1,#500c9e,#410a99,#310893,#20078b calc(100% - 2.8px))"></div><div style="top:39.14px;height:6.29px;background:linear-gradient(90deg,#330893 2.8px,#410a99,#4d0b9d,#580da0,#6410a2,#7114a2,#7d1aa0,#8a229b,#962b95,#a0348e,#a73a89,#ac3f85,#af4282,#af4282,#ac3f85,#a93c87,#a73a89,#a5388b,#a5388b,#a6398a,#a73a89,#aa3d86,#ad4084,#b14481,#b4477e,#b6497d,#b74a7c,#b6497d,#b24580,#ac3f85,#a5388b,#9c3091,#922997,#89229c,#7d1aa0,#6f14a2,#610fa1,#530c9f,#440a9a,#350994,#24078c calc(100% - 2.8px))"></div><div style="top:44.73px;height:6.29px;background:linear-gradient(90deg,#380995 2.8px,#450a9b,#510c9e,#5d0ea1,#6811a2,#7516a1,#821d9e,#8f2699,#9c3091,#a6398a,#ad4084,#b24580,#b4477e,#b4477e,#b14481,#ae4183,#ab3e86,#a93c87,#a93c87,#a93c87,#ab3e86,#ae4183,#b14481,#b5487d,#b84b7b,#bb4f79,#bc5078,#ba4e7a,#b74a7c,#b14481,#aa3d86,#a0348e,#972c94,#8c249a,#811d9f,#7316a2,#6510a2,#560d9f,#470b9b,#380995,#28088e calc(100% - 2.8px))"></div><div style="top:50.32px;height:6.29px;background:linear-gradient(90deg,#3b0997 2.8px,#480b9c,#560d9f,#610fa1,#6c13a2,#7918a1,#86209d,#942a96,#a2358d,#ac3f85,#b3467f,#b74a7c,#b94d7a,#b84b7b,#b6497d,#b24580,#af4282,#ad4084,#ac3f85,#ad4084,#ae4183,#b14481,#b5487d,#b84b7b,#bc5078,#be5376,#bf5475,#be5376,#bb4f79,#b5487d,#ae4183,#a6398a,#9c3091,#912898,#851f9d,#7718a1,#6811a2,#580da0,#4a0b9c,#3b0997,#2b0890 calc(100% - 2.8px))"></div><div style="top:55.91px;height:6.29px;background:linear-gradient(90deg,#3f0a98 2.8px,#4d0b9d,#580da0,#6410a2,#7114a2,#7d1aa0,#8a229b,#982d93,#a83b88,#b3467f,#ba4e7a,#bc5177,#bd5276,#bc5177,#ba4e7a,#b6497d,#b3467f,#b04381,#b04381,#b04381,#b24580,#b5487d,#b84b7b,#bc5078,#bf5475,#c25773,#c45971,#c35872,#bf5475,#ba4e7a,#b3467f,#aa3d86,#a0348e,#952a95,#89229c,#7b1aa0,#6c13a2,#5d0ea1,#4d0b9d,#3e0a98,#2e0891 calc(100% - 2.8px))"></div><div style="top:61.50px;height:6.29px;background:linear-gradient(90deg,#420a9a 2.8px,#500c9e,#5d0ea1,#6811a2,#7316a2,#7f1c9f,#8e259a,#9d3190,#ad4084,#b94d7a,#bf5475,#c35872,#c35872,#c25773,#be5376,#bb4f79,#b6497d,#b4477e,#b3467f,#b4477e,#b5487d,#b84b7b,#bc5078,#bf5475,#c35872,#c65c6f,#c85e6e,#c75d6e,#c45971,#be5376,#b74a7c,#af4282,#a5388b,#9a2e93,#8e259a,#7f1c9f,#6f14a2,#600fa1,#500c9e,#410a99,#330893 calc(100% - 2.8px))"></div><div style="top:67.09px;height:6.29px;background:linear-gradient(90deg,#450a9b 2.8px,#530c9f,#600fa1,#6c13a2,#7718a1,#831e9e,#902798,#a2358d,#b3467f,#bf5475,#c55b70,#c85e6e,#c85e6e,#c65c6f,#c35872,#be5376,#ba4e7a,#b84b7b,#b74a7c,#b74a7c,#b94d7a,#bc5078,#be5376,#c35872,#c65c6f,#c9616c,#cc646a,#cc646a,#c9606d,#c35872,#bc5177,#b4477e,#aa3d86,#9f338f,#912898,#831e9e,#7316a2,#6210a2,#530c9f,#440a9a,#360995 calc(100% - 2.8px))"></div><div style="top:72.68px;height:6.29px;background:linear-gradient(90deg,#4a0b9c 2.8px,#570da0,#6410a2,#6f14a2,#7b1aa0,#86209d,#942a96,#a73a89,#b94d7a,#c55b70,#cb636b,#cd6669,#cd656a,#cb636b,#c75d6e,#c35872,#bd5276,#bb4f79,#ba4e7a,#bb4f79,#bc5078,#be5376,#c25773,#c65c6f,#c9616c,#cd6669,#d06967,#d16a67,#cd6669,#c85e6e,#c25773,#ba4e7a,#b04381,#a4378b,#962b95,#87219c,#7617a1,#6510a2,#560d9f,#470b9b,#390996 calc(100% - 2.8px))"></div><div style="top:78.27px;height:6.29px;background:linear-gradient(90deg,#4d0b9d 2.8px,#5a0ea0,#6811a2,#7316a2,#7f1c9f,#8a229b,#972c94,#ab3e86,#bf5475,#cb636b,#d16a67,#d36e65,#d26d65,#d06967,#cc646a,#c65c6f,#c15673,#be5376,#bd5276,#bd5276,#bf5475,#c25773,#c55b70,#c9606d,#cd6669,#d16b66,#d47063,#d57163,#d36e65,#cd6669,#c75d6e,#c05574,#b6497d,#a93c87,#9b2f92,#8b239b,#7a19a0,#6811a2,#580da0,#4a0b9c,#3c0997 calc(100% - 2.8px))"></div><div style="top:83.86px;height:6.29px;background:linear-gradient(90deg,#500c9e 2.8px,#5e0fa1,#6b12a2,#7718a1,#831e9e,#8f2699,#9c3091,#b04381,#c45a71,#d06967,#d67262,#d87661,#d77461,#d57163,#d06967,#ca626c,#c45a71,#c15673,#c05574,#c05574,#c25773,#c45a71,#c85e6e,#cc646a,#d16a67,#d57163,#d87661,#da785f,#d87661,#d36e65,#cd656a,#c55b70,#bc5078,#af4282,#a0348e,#902798,#7e1b9f,#6c13a2,#5b0ea1,#4d0b9d,#3f0a98 calc(100% - 2.8px))"></div><div style="top:89.45px;height:6.29px;background:linear-gradient(90deg,#530c9f 2.8px,#610fa1,#6f14a2,#7b1aa0,#89229c,#942a96,#a0348e,#b5487d,#c9616c,#d57163,#db7a5e,#dd7e5d,#dc7c5d,#da785f,#d47063,#ce6768,#c85e6e,#c45a71,#c35872,#c45971,#c45a71,#c75d6e,#cb636b,#cf6868,#d46f64,#d87661,#dc7c5d,#de7f5c,#dd7e5d,#d87661,#d26d65,#cb636b,#c25773,#b5487d,#a73a89,#952a95,#821d9e,#6f14a2,#5e0fa1,#510c9e,#420a9a calc(100% - 2.8px))"></div><div style="top:95.05px;height:6.29px;background:linear-gradient(90deg,#560d9f 2.8px,#6510a2,#7316a2,#811d9f,#8c249a,#9a2e93,#a73a89,#bc5078,#ce6768,#da785f,#df815b,#e28659,#e1855a,#de805c,#d97760,#d26d65,#cc646a,#c85e6e,#c65c6f,#c65c6f,#c75d6e,#ca626c,#cd6669,#d26d65,#d77362,#dc7b5e,#e0825b,#e28759,#e28659,#de7f5c,#d87661,#d16a67,#c85e6e,#bc5078,#ad4084,#9b2f92,#86209d,#7215a2,#610fa1,#530c9f,#450a9b calc(100% - 2.8px))"></div><div style="top:100.64px;height:6.29px;background:linear-gradient(90deg,#580da0 2.8px,#6811a2,#7718a1,#851f9d,#912898,#9f338f,#af4282,#c35872,#d46f64,#de805c,#e38a58,#e68f56,#e58d56,#e28759,#dd7e5d,#d67262,#cf6868,#cb636b,#c9606d,#c9606d,#ca626c,#cd656a,#d06967,#d47063,#da785f,#df815b,#e38a58,#e68f56,#e68f56,#e28759,#dd7e5d,#d77362,#cd656a,#c25773,#b3467f,#9f338f,#8a229b,#7617a1,#6410a2,#560d9f,#480b9c calc(100% - 2.8px))"></div><div style="top:106.23px;height:6.29px;background:linear-gradient(90deg,#5b0ea1 2.8px,#6b12a2,#7a19a0,#89229c,#972c94,#a6398a,#b74a7c,#c9616c,#d97760,#e28759,#e79155,#ea9753,#ea9753,#e69055,#e1855a,#da785f,#d26d65,#cd6669,#cc646a,#cb636b,#cd656a,#cf6868,#d26d65,#d77461,#dc7c5d,#e28659,#e69055,#e99653,#ea9753,#e79155,#e28659,#dc7b5e,#d26d65,#c75d6e,#b94d7a,#a5388b,#8e259a,#7918a1,#6711a2,#580da0,#4a0b9c calc(100% - 2.8px))"></div><div style="top:111.82px;height:6.29px;background:linear-gradient(90deg,#5e0fa1 2.8px,#6f14a2,#7e1b9f,#8c249a,#9c3091,#ab3e86,#be5376,#d06967,#de7f5c,#e68f56,#ea9953,#ec9f51,#ec9f51,#ea9953,#e48b57,#dc7c5d,#d57163,#d16a67,#ce6768,#cd6669,#cf6868,#d16b66,#d47063,#da785f,#df815b,#e58c57,#e99653,#ec9e51,#eda151,#eb9a52,#e68f56,#e0825b,#d77362,#cc646a,#bd5276,#a93c87,#922997,#7d1aa0,#6a12a2,#5a0ea0,#4b0b9d calc(100% - 2.8px))"></div><div style="top:117.41px;height:6.29px;background:linear-gradient(90deg,#610fa1 2.8px,#7215a2,#811d9f,#902798,#a0348e,#b04381,#c45a71,#d67262,#e28759,#e99653,#eda151,#efa74f,#efa94f,#eda151,#e79255,#e0825b,#d87661,#d46f64,#d16a67,#d06967,#d16b66,#d46f64,#d77362,#dc7b5e,#e28659,#e79155,#eb9b52,#efa650,#efa94f,#eda250,#ea9753,#e38a58,#da795f,#d06967,#c25773,#ae4183,#962b95,#7f1c9f,#6c13a2,#5d0ea1,#4e0c9e calc(100% - 2.8px))"></div><div style="top:123.00px;height:6.29px;background:linear-gradient(90deg,#6410a2 2.8px,#7516a1,#851f9d,#942a96,#a4378b,#b5487d,#c9606d,#da795f,#e68f56,#ec9e51,#efa74f,#f1b04e,#f1b14e,#efa94f,#ea9953,#e38858,#db7a5e,#d67262,#d36e65,#d26d65,#d36e65,#d57163,#d97760,#de7f5c,#e38a58,#e99653,#eda250,#f0ad4e,#f1b14e,#f0aa4f,#ec9e51,#e69055,#de7f5c,#d46f64,#c65c6f,#b24580,#9b2f92,#831e9e,#6f14a2,#600fa1,#500c9e calc(100% - 2.8px))"></div><div style="top:128.59px;height:6.29px;background:linear-gradient(90deg,#6510a2 2.8px,#7718a1,#87219c,#972c94,#a73a89,#b94d7a,#cc646a,#de7f5c,#e99554,#eea550,#f1b04e,#f2b74e,#f3b84e,#f1b04e,#ec9f51,#e58d56,#de7f5c,#d87661,#d57163,#d47063,#d57163,#d77461,#db7a5e,#e0825b,#e58d56,#eb9a52,#efa74f,#f2b34e,#f3b84e,#f2b34e,#efa650,#e99653,#e0845a,#d77362,#ca626c,#b84b7b,#a0348e,#89229c,#7316a2,#6210a2,#510c9e calc(100% - 2.8px))"></div><div style="top:134.18px;height:6.29px;background:linear-gradient(90deg,#6811a2 2.8px,#7918a1,#8a229b,#9a2e93,#aa3d86,#bc5078,#ce6768,#e0845a,#eb9b52,#f0ac4f,#f2b54e,#f4be4d,#f4c04d,#f2b54e,#eea550,#e79255,#e0825b,#db7a5e,#d77461,#d77362,#d77461,#da785f,#dd7e5d,#e28659,#e79255,#ec9f51,#f0ad4e,#f3b84e,#f4be4d,#f3b84e,#f0ad4e,#ec9d52,#e38a58,#d97760,#cd6669,#bc5177,#a5388b,#8c249a,#7718a1,#6510a2,#530c9f calc(100% - 2.8px))"></div><div style="top:139.77px;height:6.29px;background:linear-gradient(90deg,#6a12a2 2.8px,#7b1aa0,#8c249a,#9d3190,#ad4084,#bd5276,#d16a67,#e28759,#eda151,#f1b14e,#f3bd4d,#f4c64e,#f4c64e,#f3bd4d,#f0aa4f,#ea9753,#e28759,#dd7e5d,#da785f,#d87661,#d97760,#db7a5e,#de805c,#e38858,#e99653,#eea350,#f2b34e,#f4be4d,#f4c44e,#f4c04d,#f2b44e,#eea350,#e68f56,#dc7b5e,#d16b66,#c25773,#aa3d86,#912898,#7b1aa0,#6811a2,#560d9f calc(100% - 2.8px))"></div><div style="top:145.36px;height:6.29px;background:linear-gradient(90deg,#6b12a2 2.8px,#7d1aa0,#8e259a,#9f338f,#af4282,#c05574,#d26d65,#e48b57,#efa650,#f3b84e,#f4c44e,#f5cc4e,#f5cc4e,#f4c14e,#f1b04e,#eb9b52,#e48b57,#df815b,#dc7b5e,#da795f,#da795f,#dc7c5d,#e0825b,#e58c57,#ea9953,#efa94f,#f2b74e,#f4c44e,#f5ca4e,#f4c74e,#f3bb4d,#f0ac4f,#e99554,#df815b,#d47063,#c65c6f,#af4282,#962b95,#7f1c9f,#6b12a2,#570da0 calc(100% - 2.8px))"></div><div style="top:150.95px;height:6.29px;background:linear-gradient(90deg,#6c13a2 2.8px,#7e1b9f,#902798,#a0348e,#b24580,#c35872,#d47063,#e68f56,#f0ac4f,#f4be4d,#f5ca4e,#f5d24f,#f5d24f,#f4c74e,#f2b44e,#ec9f51,#e68f56,#e1855a,#dd7e5d,#dc7b5e,#dc7b5e,#de7f5c,#e28659,#e69055,#ec9d52,#f0ad4e,#f3bb4d,#f5c94e,#f5d04f,#f5cd4f,#f4c34e,#f2b34e,#ec9d52,#e28759,#d77362,#c9606d,#b3467f,#9b2f92,#831e9e,#6f14a2,#5a0ea0 calc(100% - 2.8px))"></div><div style="top:156.55px;height:6.29px;background:linear-gradient(90deg,#6e13a2 2.8px,#7f1c9f,#912898,#a3368c,#b4477e,#c45a71,#d67262,#e79155,#f1b04e,#f4c44e,#f5d04f,#f5d851,#f5d650,#f5cc4e,#f3b84e,#eea350,#e79255,#e28759,#df815b,#dd7e5d,#dd7e5d,#df815b,#e38858,#e79255,#ec9f51,#f1b04e,#f4c14e,#f5cf4f,#f5d550,#f5d350,#f5ca4e,#f3ba4d,#eea550,#e58c57,#d97760,#cb636b,#b74a7c,#9f338f,#89229c,#7215a2,#5d0ea1 calc(100% - 2.8px))"></div><div style="top:162.14px;height:6.29px;background:linear-gradient(90deg,#6e13a2 2.8px,#811d9f,#922997,#a5388b,#b6497d,#c75d6e,#d77461,#e89454,#f2b34e,#f5c94e,#f5d550,#f4dd52,#f5db52,#f5cf4f,#f3bb4d,#efa74f,#e99653,#e38a58,#e0845a,#de805c,#de805c,#e0845a,#e38a58,#e99554,#eea350,#f2b44e,#f4c44e,#f5d350,#f5db52,#f5da51,#f5d04f,#f4c14e,#f0ad4e,#e79255,#db7a5e,#cd656a,#ba4e7a,#a3368c,#8c249a,#7617a1,#600fa1 calc(100% - 2.8px))"></div><div style="top:167.73px;height:6.29px;background:linear-gradient(90deg,#6f14a2 2.8px,#821d9e,#942a96,#a6398a,#b84b7b,#c9606d,#da785f,#e99653,#f2b74e,#f5cc4e,#f5da51,#f4e053,#f4de52,#f5d350,#f4c04d,#f0aa4f,#ea9953,#e58c57,#e1855a,#df815b,#df815b,#e1855a,#e58c57,#e99653,#eea550,#f2b74e,#f5c94e,#f5d650,#f4de52,#f4de52,#f5d550,#f4c74e,#f2b44e,#ea9753,#dd7e5d,#ce6768,#bc5078,#a73a89,#902798,#7918a1,#6210a2 calc(100% - 2.8px))"></div><div style="top:173.32px;height:6.29px;background:linear-gradient(90deg,#6f14a2 2.8px,#821d9e,#952a95,#a73a89,#ba4e7a,#cb636b,#db7a5e,#ea9953,#f3b84e,#f5cf4f,#f4dd52,#f4e554,#f4e354,#f5d650,#f4c14e,#f0ac4f,#eb9b52,#e68f56,#e28759,#e0845a,#e0825b,#e28659,#e58d56,#ea9953,#efa74f,#f3b84e,#f5cc4e,#f5db52,#f4e354,#f4e354,#f5db52,#f5cd4f,#f3b84e,#eb9b52,#de805c,#d16a67,#be5376,#a93c87,#942a96,#7d1aa0,#6711a2 calc(100% - 2.8px))"></div><div style="top:178.91px;height:6.29px;background:linear-gradient(90deg,#7114a2 2.8px,#831e9e,#962b95,#a83b88,#bc5078,#cd656a,#dc7c5d,#eb9b52,#f3bb4d,#f5d24f,#f4e053,#f4e655,#f4e655,#f5d851,#f4c34e,#f0ad4e,#ec9d52,#e69055,#e38858,#e1855a,#e0845a,#e28759,#e68f56,#eb9a52,#efa94f,#f3bb4d,#f5cd4f,#f4de52,#f4e655,#f4e655,#f4de52,#f5d24f,#f3bd4d,#eda151,#e0845a,#d26d65,#c05574,#ac3f85,#962b95,#7f1c9f,#6a12a2 calc(100% - 2.8px))"></div><div style="top:184.50px;height:6.29px;background:linear-gradient(90deg,#7114a2 2.8px,#831e9e,#962b95,#a93c87,#bc5177,#ce6768,#de7f5c,#ec9e51,#f3bd4d,#f5d24f,#f4e053,#f3e855,#f3e855,#f5db52,#f4c44e,#f1ae4e,#ec9e51,#e79155,#e38a58,#e1855a,#e0845a,#e28759,#e68f56,#eb9b52,#f0aa4f,#f3bb4d,#f5cf4f,#f4e053,#f3ea56,#f3e855,#f4e253,#f5d550,#f4c14e,#eea550,#e28759,#d46f64,#c25773,#ae4183,#9a2e93,#831e9e,#6c13a2 calc(100% - 2.8px))"></div><div style="top:190.09px;height:6.29px;background:linear-gradient(90deg,#7114a2 2.8px,#831e9e,#962b95,#aa3d86,#bd5276,#cf6868,#df815b,#ec9f51,#f3bd4d,#f5d24f,#f4e053,#f3ea56,#f3ea56,#f4dd52,#f4c44e,#f1ae4e,#ec9e51,#e79255,#e38a58,#e1855a,#e0845a,#e38858,#e69055,#eb9b52,#f0aa4f,#f3bd4d,#f5d04f,#f4e253,#f3eb56,#f3ea56,#f4e354,#f5d650,#f4c44e,#efa94f,#e48b57,#d57163,#c45971,#b04381,#9c3091,#86209d,#6f14a2 calc(100% - 2.8px))"></div><div style="top:195.68px;height:6.29px;background:linear-gradient(90deg,#7114a2 2.8px,#831e9e,#972c94,#aa3d86,#be5376,#d06967,#e0825b,#ec9f51,#f3bd4d,#f5d24f,#f4e053,#f3e855,#f3eb56,#f4dd52,#f4c44e,#f1ae4e,#ec9e51,#e79255,#e38a58,#e0845a,#e0825b,#e28759,#e69055,#eb9b52,#f0aa4f,#f3bd4d,#f5cf4f,#f4e253,#f3eb56,#f3eb56,#f4e554,#f5d851,#f4c64e,#f0ac4f,#e58d56,#d67262,#c45a71,#b24580,#9e328f,#89229c,#7215a2 calc(100% - 2.8px))"></div><div style="top:201.27px;height:6.29px;background:linear-gradient(90deg,#7114a2 2.8px,#831e9e,#972c94,#aa3d86,#be5376,#d16a67,#e0825b,#ec9f51,#f3bb4d,#f5cf4f,#f4dd52,#f4e655,#f3ea56,#f5db52,#f4c34e,#f0ad4e,#ec9e51,#e79255,#e38a58,#e0825b,#df815b,#e28659,#e68f56,#eb9b52,#f0aa4f,#f3bb4d,#f5cf4f,#f4e053,#f3ea56,#f3ea56,#f4e354,#f5d851,#f4c64e,#f0ad4e,#e68f56,#d77362,#c55b70,#b3467f,#9f338f,#8b239b,#7516a1 calc(100% - 2.8px))"></div><div style="top:206.86px;height:6.29px;background:linear-gradient(90deg,#6f14a2 2.8px,#831e9e,#962b95,#aa3d86,#be5376,#d16a67,#e0825b,#ec9e51,#f3b84e,#f5cc4e,#f5da51,#f4e554,#f3e855,#f5d851,#f4c04d,#f0ac4f,#ec9d52,#e79255,#e38a58,#df815b,#dd7e5d,#e1855a,#e58d56,#eb9a52,#efa94f,#f3ba4d,#f5cc4e,#f4dd52,#f3e855,#f3ea56,#f4e253,#f5d650,#f4c44e,#f0ac4f,#e58d56,#d77362,#c55b70,#b4477e,#a2358d,#8c249a,#7617a1 calc(100% - 2.8px))"></div><div style="top:212.45px;height:6.29px;background:linear-gradient(90deg,#6f14a2 2.8px,#831e9e,#962b95,#aa3d86,#be5376,#d06967,#df815b,#eb9b52,#f2b54e,#f4c74e,#f5d650,#f4e053,#f4e354,#f5d350,#f3bd4d,#f0aa4f,#ec9d52,#e79255,#e38a58,#df815b,#db7a5e,#e0825b,#e58d56,#ea9953,#efa74f,#f2b74e,#f5c94e,#f5da51,#f4e554,#f4e655,#f4e053,#f5d350,#f4c14e,#efa94f,#e58c57,#d67262,#c65c6f,#b5487d,#a3368c,#8f2699,#7918a1 calc(100% - 2.8px))"></div><div style="top:218.05px;height:6.29px;background:linear-gradient(90deg,#6e13a2 2.8px,#821d9e,#962b95,#aa3d86,#bd5276,#d06967,#de805c,#eb9a52,#f1b14e,#f4c34e,#f5d04f,#f5db52,#f4de52,#f5cf4f,#f3ba4d,#efa74f,#eb9b52,#e79155,#e38a58,#df815b,#db7a5e,#df815b,#e58c57,#ea9753,#efa650,#f2b44e,#f4c64e,#f5d550,#f4e053,#f4e253,#f5db52,#f5d04f,#f4be4d,#eea550,#e38858,#d57163,#c65c6f,#b5487d,#a4378b,#902798,#7a19a0 calc(100% - 2.8px))"></div><div style="top:223.64px;height:6.29px;background:linear-gradient(90deg,#6c13a2 2.8px,#821d9e,#962b95,#a93c87,#bd5276,#ce6768,#dd7e5d,#e99653,#f0ad4e,#f3bd4d,#f5cc4e,#f5d550,#f5d650,#f5c94e,#f2b54e,#efa650,#eb9a52,#e79155,#e38a58,#e0825b,#dc7b5e,#df815b,#e48b57,#ea9753,#eea350,#f1b14e,#f4c14e,#f5d04f,#f5db52,#f4dd52,#f5d851,#f5cc4e,#f3ba4d,#eda151,#e28659,#d47063,#c55b70,#b6497d,#a5388b,#912898,#7d1aa0 calc(100% - 2.8px))"></div><div style="top:229.23px;height:6.29px;background:linear-gradient(90deg,#6c13a2 2.8px,#811d9f,#952a95,#a93c87,#bc5177,#cd6669,#dc7c5d,#e89454,#efa94f,#f2b74e,#f4c44e,#f5cf4f,#f5d04f,#f4c34e,#f1b14e,#eea350,#ea9953,#e69055,#e38a58,#e0825b,#dc7c5d,#df815b,#e48b57,#e99653,#eda250,#f1ae4e,#f3bb4d,#f5ca4e,#f5d550,#f5d650,#f5d24f,#f4c74e,#f2b54e,#ec9d52,#e0845a,#d36e65,#c55b70,#b6497d,#a5388b,#922997,#7e1b9f calc(100% - 2.8px))"></div><div style="top:234.82px;height:6.29px;background:linear-gradient(90deg,#6b12a2 2.8px,#7f1c9f,#952a95,#a83b88,#bb4f79,#cc646a,#db7a5e,#e69055,#eea350,#f1b14e,#f4be4d,#f5c94e,#f5c94e,#f4be4d,#f0ad4e,#eda151,#e99653,#e68f56,#e38858,#e0825b,#de7f5c,#e0825b,#e48b57,#e99554,#ec9f51,#f0ac4f,#f2b74e,#f4c44e,#f5cd4f,#f5d04f,#f5cc4e,#f4c14e,#f1b14e,#ea9953,#df815b,#d26d65,#c45a71,#b6497d,#a6398a,#942a96,#7f1c9f calc(100% - 2.8px))"></div><div style="top:240.41px;height:6.29px;background:linear-gradient(90deg,#6a12a2 2.8px,#7f1c9f,#942a96,#a73a89,#ba4e7a,#ca626c,#d97760,#e58c57,#ec9f51,#f0ad4e,#f3b84e,#f4c34e,#f4c34e,#f3b84e,#f0aa4f,#ec9e51,#e99554,#e58d56,#e38858,#e0825b,#de805c,#e0845a,#e48b57,#e89454,#ec9e51,#efa74f,#f2b34e,#f4be4d,#f4c74e,#f5ca4e,#f4c64e,#f3bb4d,#f0ac4f,#e99554,#de7f5c,#d16b66,#c45a71,#b6497d,#a6398a,#952a95,#811d9f calc(100% - 2.8px))"></div><div style="top:246.00px;height:6.29px;background:linear-gradient(90deg,#6811a2 2.8px,#7e1b9f,#922997,#a6398a,#b84b7b,#c9606d,#d77461,#e38a58,#eb9b52,#efa94f,#f2b44e,#f3bd4d,#f3bd4d,#f2b44e,#efa650,#eb9b52,#e79255,#e58c57,#e28759,#e0825b,#df815b,#e0845a,#e48b57,#e79255,#eb9b52,#eea550,#f1ae4e,#f3b84e,#f4c14e,#f4c34e,#f4c04d,#f2b54e,#efa650,#e79155,#dc7c5d,#d16a67,#c45971,#b6497d,#a6398a,#952a95,#821d9e calc(100% - 2.8px))"></div><div style="top:251.59px;height:6.29px;background:linear-gradient(90deg,#6811a2 2.8px,#7d1aa0,#912898,#a4378b,#b6497d,#c75d6e,#d67262,#e28659,#ea9753,#eea550,#f1ae4e,#f2b74e,#f2b74e,#f1b04e,#eea350,#ea9953,#e79155,#e48b57,#e28659,#e0825b,#df815b,#e1855a,#e48b57,#e79155,#ea9953,#eda250,#f0aa4f,#f2b34e,#f3ba4d,#f3bd4d,#f3b84e,#f1ae4e,#eda151,#e58d56,#db7a5e,#cf6868,#c35872,#b6497d,#a73a89,#962b95,#821d9e calc(100% - 2.8px))"></div><div style="top:257.18px;height:6.29px;background:linear-gradient(90deg,#6711a2 2.8px,#7b1aa0,#902798,#a3368c,#b4477e,#c55b70,#d46f64,#e0825b,#e89454,#eda151,#f0aa4f,#f1b14e,#f1b14e,#f0aa4f,#eda151,#e99653,#e68f56,#e38a58,#e1855a,#e0825b,#df815b,#e1855a,#e38a58,#e69055,#ea9753,#ec9f51,#efa650,#f1ae4e,#f2b44e,#f2b54e,#f2b34e,#efa94f,#eb9b52,#e38a58,#da785f,#ce6768,#c35872,#b5487d,#a73a89,#962b95,#831e9e calc(100% - 2.8px))"></div><div style="top:262.77px;height:6.29px;background:linear-gradient(90deg,#6510a2 2.8px,#7a19a0,#8f2699,#a0348e,#b24580,#c45971,#d26d65,#de805c,#e69055,#ec9d52,#efa650,#f0ac4f,#f0ad4e,#efa650,#ec9d52,#e89454,#e58c57,#e28759,#e0845a,#df815b,#df815b,#e1855a,#e38a58,#e69055,#e99653,#ec9d52,#eea350,#efa94f,#f1ae4e,#f1b04e,#f0ac4f,#eea350,#e99653,#e28659,#d87661,#cd6669,#c25773,#b5487d,#a73a89,#962b95,#831e9e calc(100% - 2.8px))"></div><div style="top:268.36px;height:6.29px;background:linear-gradient(90deg,#6410a2 2.8px,#7918a1,#8e259a,#9f338f,#b14481,#c25773,#d16a67,#dd7e5d,#e58d56,#ea9953,#eda151,#efa650,#efa74f,#eda250,#eb9a52,#e79155,#e48b57,#e28659,#e0825b,#de805c,#df815b,#e1855a,#e38858,#e68f56,#e89454,#eb9a52,#ec9f51,#eea550,#efa94f,#f0aa4f,#efa650,#ec9e51,#e79155,#e0825b,#d77362,#cd656a,#c15673,#b4477e,#a6398a,#962b95,#851f9d calc(100% - 2.8px))"></div><div style="top:273.95px;height:6.29px;background:linear-gradient(90deg,#6410a2 2.8px,#7918a1,#8c249a,#9e328f,#b04381,#c05574,#cf6868,#db7a5e,#e48b57,#e99554,#ec9d52,#eda250,#eda250,#ec9e51,#e99653,#e68f56,#e38858,#e0845a,#df815b,#de805c,#de805c,#e0845a,#e38858,#e58d56,#e79255,#ea9753,#ec9d52,#eda151,#eea350,#eea550,#eda151,#eb9a52,#e68f56,#de805c,#d67262,#cb636b,#c05574,#b4477e,#a6398a,#962b95,#851f9d calc(100% - 2.8px))"></div><div style="top:279.55px;height:6.29px;background:linear-gradient(90deg,#6210a2 2.8px,#7718a1,#8b239b,#9d3190,#ae4183,#bf5475,#cd6669,#da785f,#e38858,#e79255,#ea9953,#ec9d52,#ec9e51,#eb9a52,#e89454,#e58c57,#e28659,#e0825b,#de7f5c,#dd7e5d,#de7f5c,#e0825b,#e28759,#e58c57,#e69055,#e99554,#ea9953,#ec9d52,#ec9f51,#ec9f51,#eb9b52,#e99554,#e48b57,#dd7e5d,#d47063,#ca626c,#bf5475,#b3467f,#a6398a,#962b95,#851f9d calc(100% - 2.8px))"></div><div style="top:285.14px;height:6.29px;background:linear-gradient(90deg,#610fa1 2.8px,#7617a1,#8a229b,#9c3091,#ad4084,#bd5276,#cc646a,#d87661,#e1855a,#e68f56,#e99554,#ea9953,#eb9a52,#e99653,#e79155,#e38a58,#e0845a,#de805c,#dd7e5d,#dc7c5d,#dd7e5d,#df815b,#e28659,#e48b57,#e68f56,#e79255,#e99653,#ea9953,#eb9b52,#eb9a52,#ea9753,#e79155,#e38858,#dc7c5d,#d36e65,#c9616c,#be5376,#b24580,#a5388b,#952a95,#851f9d calc(100% - 2.8px))"></div><div style="top:290.73px;height:6.29px;background:linear-gradient(90deg,#600fa1 2.8px,#7516a1,#89229c,#9c3091,#ac3f85,#bc5177,#ca626c,#d77362,#df815b,#e48b57,#e79155,#e99554,#e99653,#e89454,#e58d56,#e28759,#e0825b,#de7f5c,#dc7c5d,#dc7b5e,#dc7c5d,#de805c,#e1855a,#e38a58,#e58d56,#e79155,#e89454,#e99653,#ea9753,#e99653,#e89454,#e68f56,#e28759,#db7a5e,#d26d65,#c85e6e,#bd5276,#b14481,#a4378b,#952a95,#851f9d calc(100% - 2.8px))"></div><div style="top:296.32px;height:6.29px;background:linear-gradient(90deg,#600fa1 2.8px,#7516a1,#89229c,#9b2f92,#ab3e86,#bb4f79,#c9606d,#d47063,#dd7e5d,#e28759,#e58d56,#e79155,#e79255,#e69055,#e48b57,#e28659,#de805c,#dc7c5d,#db7a5e,#da795f,#dc7b5e,#de7f5c,#e0845a,#e38858,#e58c57,#e68f56,#e79155,#e89454,#e89454,#e79255,#e69055,#e48b57,#e1855a,#da795f,#d16b66,#c75d6e,#bc5177,#b04381,#a4378b,#952a95,#831e9e calc(100% - 2.8px))"></div><div style="top:301.91px;height:6.29px;background:linear-gradient(90deg,#5e0fa1 2.8px,#7316a2,#87219c,#9a2e93,#ab3e86,#ba4e7a,#c75d6e,#d36e65,#db7a5e,#e0845a,#e38a58,#e58d56,#e68f56,#e58d56,#e38858,#e0845a,#de7f5c,#dc7b5e,#da795f,#da785f,#da795f,#dd7e5d,#e0825b,#e28759,#e48b57,#e58d56,#e69055,#e79155,#e79155,#e69055,#e58d56,#e38858,#e0845a,#da785f,#d06967,#c65c6f,#bb4f79,#af4282,#a3368c,#942a96,#831e9e calc(100% - 2.8px))"></div><div style="top:307.50px;height:6.29px;background:linear-gradient(90deg,#5e0fa1 2.8px,#7316a2,#87219c,#9a2e93,#aa3d86,#b94d7a,#c65c6f,#d16a67,#d97760,#de805c,#e28659,#e48b57,#e58c57,#e48b57,#e28759,#e0825b,#dd7e5d,#da795f,#d97760,#d97760,#da785f,#dc7b5e,#df815b,#e28659,#e38a58,#e58c57,#e58d56,#e68f56,#e68f56,#e58d56,#e48b57,#e28759,#e0825b,#d97760,#cf6868,#c55b70,#ba4e7a,#ae4183,#a2358d,#942a96,#831e9e calc(100% - 2.8px))"></div><div style="top:313.09px;height:6.29px;background:linear-gradient(90deg,#5e0fa1 2.8px,#7316a2,#87219c,#982d93,#a93c87,#b84b7b,#c45a71,#cf6868,#d77461,#dd7e5d,#e0845a,#e38858,#e38a58,#e38858,#e1855a,#de805c,#dc7b5e,#da785f,#d87661,#d77461,#d97760,#db7a5e,#de805c,#e1855a,#e38858,#e48b57,#e58c57,#e58c57,#e58c57,#e48b57,#e38858,#e28659,#de805c,#d77461,#ce6768,#c45971,#b94d7a,#ad4084,#a0348e,#922997,#821d9e calc(100% - 2.8px))"></div><div style="top:318.68px;height:6.29px;background:linear-gradient(90deg,#5d0ea1 2.8px,#7215a2,#86209d,#982d93,#a93c87,#b74a7c,#c35872,#cd6669,#d67262,#dc7b5e,#df815b,#e28659,#e28759,#e28759,#e0845a,#de7f5c,#db7a5e,#d97760,#d77461,#d77362,#d77461,#da795f,#de7f5c,#e0845a,#e28759,#e38a58,#e48b57,#e48b57,#e48b57,#e38a58,#e28759,#e0845a,#de7f5c,#d77362,#cd6669,#c35872,#b84b7b,#ad4084,#a0348e,#922997,#821d9e calc(100% - 2.8px))"></div><div style="top:324.27px;height:6.29px;background:linear-gradient(90deg,#5d0ea1 2.8px,#7215a2,#86209d,#982d93,#a83b88,#b6497d,#c25773,#cc646a,#d47063,#da795f,#de805c,#e0845a,#e28659,#e1855a,#e0825b,#dd7e5d,#db7a5e,#d87661,#d77362,#d67262,#d77362,#da785f,#dd7e5d,#e0845a,#e28759,#e38a58,#e38a58,#e48b57,#e38a58,#e38858,#e28659,#e0845a,#dd7e5d,#d67262,#cc646a,#c25773,#b84b7b,#ac3f85,#9f338f,#912898,#821d9e calc(100% - 2.8px))"></div><div style="top:329.86px;height:6.29px;background:linear-gradient(90deg,#5d0ea1 2.8px,#7215a2,#86209d,#982d93,#a83b88,#b6497d,#c15673,#cb636b,#d36e65,#d97760,#dd7e5d,#e0825b,#e1855a,#e0845a,#df815b,#dc7c5d,#da795f,#d87661,#d77362,#d67262,#d77362,#da785f,#dd7e5d,#e0825b,#e28759,#e38858,#e38a58,#e38a58,#e38a58,#e28759,#e1855a,#e0825b,#dc7c5d,#d57163,#cb636b,#c25773,#b74a7c,#ab3e86,#9f338f,#912898,#811d9f calc(100% - 2.8px))"></div><div style="top:335.45px;height:6.29px;background:linear-gradient(90deg,#5d0ea1 2.8px,#7215a2,#86209d,#982d93,#a83b88,#b5487d,#c05574,#ca626c,#d26d65,#d87661,#dc7c5d,#df815b,#e0845a,#e0825b,#de805c,#dc7c5d,#da785f,#d77461,#d67262,#d57163,#d67262,#d97760,#dd7e5d,#e0825b,#e28759,#e38858,#e38a58,#e38a58,#e38a58,#e28759,#e28659,#e0825b,#dc7c5d,#d57163,#cb636b,#c15673,#b74a7c,#ab3e86,#9e328f,#902798,#811d9f calc(100% - 2.8px))"></div><div style="top:341.05px;height:6.29px;background:linear-gradient(90deg,#5d0ea1 2.8px,#7215a2,#86209d,#982d93,#a83b88,#b5487d,#c05574,#c9616c,#d16b66,#d87661,#dc7c5d,#df815b,#e0825b,#e0825b,#de805c,#dc7b5e,#da785f,#d77461,#d67262,#d57163,#d67262,#d97760,#dd7e5d,#e0845a,#e28759,#e38a58,#e48b57,#e48b57,#e48b57,#e38858,#e28659,#e0845a,#dc7c5d,#d47063,#cb636b,#c15673,#b6497d,#ab3e86,#9e328f,#902798,#811d9f calc(100% - 2.8px))"></div><div style="top:346.64px;height:6.29px;background:linear-gradient(90deg,#5d0ea1 2.8px,#7215a2,#86209d,#982d93,#a83b88,#b5487d,#c05574,#c9616c,#d16b66,#d77461,#dc7c5d,#df815b,#e0845a,#e0825b,#de805c,#dc7b5e,#da785f,#d77461,#d67262,#d57163,#d67262,#da785f,#dd7e5d,#e0845a,#e28759,#e38a58,#e58c57,#e58c57,#e58c57,#e38a58,#e38858,#e0845a,#dc7c5d,#d57163,#cb636b,#c15673,#b6497d,#aa3d86,#9e328f,#8f2699,#7f1c9f calc(100% - 2.8px))"></div><div style="top:352.23px;height:6.29px;background:linear-gradient(90deg,#5b0ea1 2.8px,#7215a2,#86209d,#982d93,#a93c87,#b6497d,#c15673,#c9616c,#d16b66,#d77461,#dc7c5d,#df815b,#e1855a,#e0825b,#de805c,#dc7b5e,#d97760,#d77461,#d67262,#d57163,#d77362,#da785f,#de7f5c,#e0845a,#e38858,#e48b57,#e58d56,#e58d56,#e58d56,#e58c57,#e38a58,#e28659,#dd7e5d,#d57163,#cc646a,#c25773,#b6497d,#aa3d86,#9d3190,#8f2699,#7e1b9f calc(100% - 2.8px))"></div><div style="top:357.82px;height:6.29px;background:linear-gradient(90deg,#5b0ea1 2.8px,#7215a2,#86209d,#9a2e93,#a93c87,#b74a7c,#c25773,#ca626c,#d26d65,#d87661,#dc7c5d,#e0825b,#e1855a,#e0845a,#de805c,#dc7b5e,#d97760,#d77461,#d67262,#d67262,#d77461,#da795f,#de7f5c,#e1855a,#e38a58,#e58c57,#e68f56,#e69055,#e69055,#e68f56,#e58c57,#e28759,#de7f5c,#d67262,#cd656a,#c25773,#b74a7c,#ab3e86,#9d3190,#8f2699,#7e1b9f calc(100% - 2.8px))"></div><div style="top:363.41px;height:6.29px;background:linear-gradient(90deg,#5b0ea1 2.8px,#7215a2,#86209d,#9a2e93,#aa3d86,#b74a7c,#c25773,#cb636b,#d26d65,#d87661,#dd7e5d,#e0825b,#e28659,#e0845a,#de805c,#dc7b5e,#da785f,#d77461,#d67262,#d67262,#d77461,#db7a5e,#de805c,#e28659,#e48b57,#e68f56,#e79155,#e79255,#e89454,#e79255,#e69055,#e38a58,#df815b,#d77362,#cd656a,#c25773,#b74a7c,#ab3e86,#9d3190,#8e259a,#7d1aa0 calc(100% - 2.8px))"></div><div style="top:369.00px;height:6.29px;background:linear-gradient(90deg,#5b0ea1 2.8px,#7215a2,#86209d,#9a2e93,#aa3d86,#b84b7b,#c45971,#cc646a,#d36e65,#d97760,#de7f5c,#e0845a,#e28659,#e1855a,#df815b,#dc7c5d,#da785f,#d77461,#d77362,#d77362,#d87661,#dc7b5e,#df815b,#e28759,#e58c57,#e69055,#e89454,#e99554,#e99653,#e99653,#e79255,#e58d56,#e0845a,#d77461,#cd6669,#c35872,#b74a7c,#ab3e86,#9d3190,#8e259a,#7b1aa0 calc(100% - 2.8px))"></div><div style="top:374.59px;height:6.29px;background:linear-gradient(90deg,#5b0ea1 2.8px,#7215a2,#87219c,#9b2f92,#ab3e86,#ba4e7a,#c45a71,#cd656a,#d46f64,#da785f,#de805c,#e1855a,#e28759,#e28659,#df815b,#dc7c5d,#da785f,#d87661,#d77461,#d77461,#d97760,#dc7c5d,#e0825b,#e38858,#e58d56,#e79255,#e99653,#ea9953,#eb9a52,#eb9a52,#e99653,#e69055,#e1855a,#d97760,#ce6768,#c35872,#b74a7c,#ab3e86,#9d3190,#8c249a,#7a19a0 calc(100% - 2.8px))"></div><div style="top:380.18px;height:6.29px;background:linear-gradient(90deg,#5a0ea0 2.8px,#7114a2,#87219c,#9b2f92,#ac3f85,#bb4f79,#c65c6f,#ce6768,#d57163,#da795f,#df815b,#e28759,#e38a58,#e28759,#e0825b,#dd7e5d,#da795f,#d97760,#d77461,#d87661,#da785f,#dc7c5d,#e0845a,#e38a58,#e68f56,#e89454,#ea9953,#ec9d52,#ec9e51,#ec9e51,#eb9a52,#e89454,#e28759,#da785f,#ce6768,#c35872,#b84b7b,#ab3e86,#9d3190,#8c249a,#7918a1 calc(100% - 2.8px))"></div><div style="top:385.77px;height:6.29px;background:linear-gradient(90deg,#5a0ea0 2.8px,#7114a2,#87219c,#9b2f92,#ad4084,#bc5078,#c75d6e,#d06967,#d67262,#dc7b5e,#e0845a,#e38a58,#e48b57,#e38858,#e0845a,#de7f5c,#db7a5e,#d97760,#d87661,#d97760,#da795f,#dd7e5d,#e0845a,#e48b57,#e79155,#e99653,#eb9b52,#ec9f51,#eda250,#eda250,#ec9f51,#e99653,#e38a58,#da795f,#cf6868,#c45971,#b84b7b,#ab3e86,#9d3190,#8b239b,#7918a1 calc(100% - 2.8px))"></div><div style="top:391.36px;height:6.29px;background:linear-gradient(90deg,#5a0ea0 2.8px,#7114a2,#87219c,#9b2f92,#ae4183,#bd5276,#c9606d,#d16a67,#d77461,#dd7e5d,#e28659,#e58c57,#e58d56,#e48b57,#e1855a,#de805c,#dc7b5e,#da785f,#d97760,#da785f,#db7a5e,#de7f5c,#e1855a,#e58c57,#e79255,#ea9953,#ec9f51,#eea550,#efa74f,#efa74f,#eea350,#eb9a52,#e58c57,#db7a5e,#d06967,#c45971,#b84b7b,#ab3e86,#9d3190,#8b239b,#7718a1 calc(100% - 2.8px))"></div><div style="top:396.95px;height:6.29px;background:linear-gradient(90deg,#5a0ea0 2.8px,#7114a2,#86209d,#9c3091,#ae4183,#be5376,#ca626c,#d26d65,#d97760,#de805c,#e38858,#e68f56,#e69055,#e58d56,#e28759,#df815b,#dc7c5d,#da795f,#da785f,#da795f,#dc7b5e,#de805c,#e28659,#e58d56,#e99554,#eb9b52,#eda250,#efa94f,#f0ac4f,#f0ad4e,#efa94f,#ec9f51,#e69055,#dc7c5d,#d16a67,#c45a71,#b84b7b,#ab3e86,#9c3091,#8b239b,#7718a1 calc(100% - 2.8px))"></div><div style="top:402.55px;height:6.29px;background:linear-gradient(90deg,#580da0 2.8px,#7114a2,#86209d,#9c3091,#af4282,#bf5475,#cb636b,#d46f64,#db7a5e,#e0845a,#e58c57,#e79255,#e89454,#e69055,#e38a58,#e0825b,#dd7e5d,#db7a5e,#da795f,#db7a5e,#dc7c5d,#df815b,#e38858,#e68f56,#e99653,#ec9e51,#efa650,#f0ad4e,#f1b14e,#f2b34e,#f1ae4e,#eea350,#e79255,#de7f5c,#d16b66,#c55b70,#b94d7a,#ab3e86,#9c3091,#8a229b,#7718a1 calc(100% - 2.8px))"></div><div style="top:408.14px;height:6.29px;background:linear-gradient(90deg,#580da0 2.8px,#6f14a2,#86209d,#9c3091,#b04381,#c15673,#cd656a,#d57163,#dc7c5d,#e28759,#e69055,#e99653,#ea9753,#e89454,#e58c57,#e1855a,#de7f5c,#dc7b5e,#db7a5e,#dc7b5e,#dd7e5d,#e0825b,#e38a58,#e79155,#ea9953,#eda151,#f0aa4f,#f2b34e,#f2b74e,#f3b84e,#f2b44e,#efa94f,#e99653,#df815b,#d26d65,#c65c6f,#b94d7a,#ab3e86,#9c3091,#8a229b,#7617a1 calc(100% - 2.8px))"></div><div style="top:413.73px;height:6.29px;background:linear-gradient(90deg,#580da0 2.8px,#6f14a2,#86209d,#9c3091,#b04381,#c15673,#cd6669,#d77362,#de7f5c,#e48b57,#e99554,#eb9b52,#eb9b52,#ea9753,#e68f56,#e28659,#de805c,#dc7c5d,#dc7b5e,#dc7b5e,#dd7e5d,#e0845a,#e48b57,#e79255,#eb9b52,#eea550,#f1ae4e,#f2b74e,#f3bd4d,#f4be4d,#f3ba4d,#f0ad4e,#eb9a52,#e0845a,#d46f64,#c65c6f,#b94d7a,#ab3e86,#9b2f92,#8a229b,#7617a1 calc(100% - 2.8px))"></div><div style="top:419.32px;height:6.29px;background:linear-gradient(90deg,#580da0 2.8px,#6f14a2,#86209d,#9c3091,#b14481,#c25773,#ce6768,#d87661,#e0825b,#e69055,#eb9a52,#ec9f51,#eda151,#eb9b52,#e79255,#e38858,#df815b,#dd7e5d,#dc7c5d,#dc7c5d,#de7f5c,#e1855a,#e58c57,#e89454,#ec9d52,#efa74f,#f2b34e,#f3bd4d,#f4c44e,#f4c64e,#f4c04d,#f2b44e,#ec9f51,#e28659,#d47063,#c75d6e,#ba4e7a,#aa3d86,#9a2e93,#89229c,#7617a1 calc(100% - 2.8px))"></div><div style="top:424.91px;height:6.29px;background:linear-gradient(90deg,#580da0 2.8px,#6f14a2,#86209d,#9d3190,#b14481,#c25773,#d06967,#da785f,#e28659,#e89454,#ec9f51,#eea550,#eea550,#ec9f51,#e99554,#e48b57,#e0825b,#de805c,#de7f5c,#dd7e5d,#de7f5c,#e1855a,#e58c57,#e99554,#ec9f51,#f0aa4f,#f2b74e,#f4c34e,#f5ca4e,#f5cc4e,#f4c64e,#f3ba4d,#eea550,#e38a58,#d67262,#c85e6e,#ba4e7a,#aa3d86,#9a2e93,#87219c,#7516a1 calc(100% - 2.8px))"></div><div style="top:430.50px;height:6.29px;background:linear-gradient(90deg,#5a0ea0 2.8px,#7114a2,#87219c,#9d3190,#b14481,#c35872,#d16a67,#db7a5e,#e38a58,#ea9953,#eea550,#f0aa4f,#f0aa4f,#eea350,#ea9953,#e58d56,#e1855a,#df815b,#de805c,#dd7e5d,#de7f5c,#e28659,#e58d56,#ea9753,#eda250,#f0ad4e,#f3bb4d,#f5c94e,#f5d04f,#f5d24f,#f5cc4e,#f4c04d,#f0aa4f,#e58d56,#d77362,#c9606d,#ba4e7a,#a93c87,#982d93,#87219c,#7316a2 calc(100% - 2.8px))"></div><div style="top:436.09px;height:6.29px;background:linear-gradient(90deg,#5a0ea0 2.8px,#7114a2,#87219c,#9d3190,#b14481,#c35872,#d16b66,#dc7c5d,#e58d56,#ec9e51,#f0aa4f,#f1b04e,#f1b04e,#efa74f,#eb9b52,#e69055,#e28659,#e0825b,#df815b,#de7f5c,#de7f5c,#e1855a,#e68f56,#ea9953,#eea350,#f1b04e,#f4c04d,#f5cd4f,#f5d650,#f5d851,#f5d24f,#f4c44e,#f1ae4e,#e69055,#d87661,#c9616c,#ba4e7a,#a93c87,#972c94,#86209d,#7215a2 calc(100% - 2.8px))"></div><div style="top:441.68px;height:6.29px;background:linear-gradient(90deg,#5a0ea0 2.8px,#7215a2,#87219c,#9d3190,#b14481,#c45971,#d26d65,#de805c,#e79255,#eea550,#f1b04e,#f2b54e,#f2b44e,#f0ac4f,#ec9f51,#e79255,#e38858,#e1855a,#e0825b,#de7f5c,#dd7e5d,#e1855a,#e68f56,#eb9a52,#efa650,#f2b34e,#f4c34e,#f5d350,#f4dd52,#f4de52,#f5d851,#f5ca4e,#f2b34e,#e79255,#d97760,#ca626c,#bb4f79,#a83b88,#962b95,#831e9e,#7114a2 calc(100% - 2.8px))"></div><div style="top:447.27px;height:6.29px;background:linear-gradient(90deg,#5b0ea1 2.8px,#7215a2,#89229c,#9d3190,#b14481,#c45971,#d36e65,#e0825b,#ea9753,#f0aa4f,#f2b54e,#f3bb4d,#f3b84e,#f1b04e,#eda250,#e99554,#e48b57,#e28759,#e1855a,#de7f5c,#dc7c5d,#e1855a,#e69055,#eb9b52,#efa94f,#f2b54e,#f4c74e,#f5d851,#f4e354,#f4e354,#f5db52,#f5cf4f,#f2b74e,#e99554,#da785f,#cb636b,#bb4f79,#a83b88,#952a95,#821d9e,#6e13a2 calc(100% - 2.8px))"></div><div style="top:452.86px;height:6.29px;background:linear-gradient(90deg,#5d0ea1 2.8px,#7316a2,#89229c,#9d3190,#b14481,#c45a71,#d47063,#e28659,#ec9e51,#f1b04e,#f3bb4d,#f4c04d,#f3bd4d,#f2b34e,#eea550,#ea9753,#e58d56,#e38858,#e28659,#de7f5c,#dc7b5e,#e1855a,#e79155,#ec9d52,#f0aa4f,#f3ba4d,#f5cc4e,#f4de52,#f3ea56,#f3e855,#f4e053,#f5d24f,#f3bb4d,#ea9953,#da795f,#cc646a,#bb4f79,#a83b88,#942a96,#7f1c9f,#6b12a2 calc(100% - 2.8px))"></div><div style="top:458.45px;height:6.29px;background:linear-gradient(90deg,#5d0ea1 2.8px,#7316a2,#89229c,#9d3190,#b14481,#c45a71,#d57163,#e38a58,#eda250,#f2b54e,#f4c04d,#f4c44e,#f4c14e,#f2b74e,#efa94f,#eb9a52,#e69055,#e38a58,#e28659,#de7f5c,#db7a5e,#e1855a,#e79155,#ec9e51,#f0ad4e,#f3bb4d,#f5cf4f,#f4e253,#f2ef57,#f3ed57,#f4e354,#f5d550,#f4c04d,#ec9d52,#dc7b5e,#cd656a,#bc5078,#a73a89,#922997,#7d1aa0,#6811a2 calc(100% - 2.8px))"></div><div style="top:464.05px;height:6.29px;background:linear-gradient(90deg,#5e0fa1 2.8px,#7516a1,#8a229b,#9d3190,#b14481,#c45a71,#d67262,#e58c57,#efa650,#f3ba4d,#f4c44e,#f4c74e,#f4c44e,#f3ba4d,#f0aa4f,#ec9d52,#e79155,#e48b57,#e28659,#de7f5c,#db7a5e,#e28659,#e79255,#ec9f51,#f1ae4e,#f4be4d,#f5d04f,#f4e554,#f2f258,#f2ef57,#f4e554,#f5d650,#f4c14e,#eda151,#dd7e5d,#cd6669,#bc5078,#a73a89,#902798,#7a19a0,#6510a2 calc(100% - 2.8px))"></div><div style="top:469.64px;height:6.29px;background:linear-gradient(90deg,#5e0fa1 2.8px,#7516a1,#8a229b,#9d3190,#b14481,#c45a71,#d77362,#e68f56,#f0aa4f,#f3bd4d,#f4c74e,#f5cc4e,#f4c74e,#f3bb4d,#f0ad4e,#ec9e51,#e79255,#e48b57,#e1855a,#de7f5c,#dd7e5d,#e28759,#e79255,#ec9f51,#f1ae4e,#f4be4d,#f5d24f,#f4e655,#f2f458,#f2f058,#f4e554,#f5d851,#f4c34e,#eea350,#de805c,#ce6768,#bc5078,#a6398a,#8f2699,#7718a1,#6210a2 calc(100% - 2.8px))"></div><div style="top:475.23px;height:6.29px;background:linear-gradient(90deg,#5e0fa1 2.8px,#7516a1,#8a229b,#9d3190,#b14481,#c45a71,#d77362,#e69055,#f0aa4f,#f4be4d,#f5ca4e,#f5cd4f,#f5c94e,#f4be4d,#f1ae4e,#ec9f51,#e89454,#e48b57,#e1855a,#de7f5c,#de805c,#e38858,#e79255,#ec9f51,#f1ae4e,#f4be4d,#f5d24f,#f4e655,#f2f458,#f2f058,#f4e655,#f5d851,#f4c34e,#eea350,#de805c,#ce6768,#bc5078,#a5388b,#8c249a,#7617a1,#600fa1 calc(100% - 2.8px))"></div><div style="top:480.82px;height:6.29px;background:linear-gradient(90deg,#600fa1 2.8px,#7516a1,#8a229b,#9d3190,#b14481,#c45a71,#d77461,#e69055,#f0aa4f,#f4be4d,#f5ca4e,#f5cf4f,#f5cc4e,#f4c04d,#f1b14e,#eda151,#e89454,#e48b57,#e1855a,#de805c,#df815b,#e38858,#e79255,#ec9f51,#f0ad4e,#f3bd4d,#f5d04f,#f4e554,#f2f058,#f2ef57,#f4e554,#f5d650,#f4c14e,#eda151,#de805c,#cd6669,#bb4f79,#a4378b,#8a229b,#7316a2,#5d0ea1 calc(100% - 2.8px))"></div><div style="top:486.41px;height:6.29px;background:linear-gradient(90deg,#600fa1 2.8px,#7516a1,#8a229b,#9d3190,#b04381,#c45a71,#d77461,#e69055,#f0aa4f,#f4be4d,#f5cc4e,#f5d04f,#f5cd4f,#f4c14e,#f1b14e,#eda151,#e89454,#e38a58,#e0845a,#de805c,#df815b,#e38858,#e79255,#ec9e51,#f0ac4f,#f3bb4d,#f5cf4f,#f4e253,#f3eb56,#f3eb56,#f4e354,#f5d550,#f4be4d,#ec9e51,#de7f5c,#cd6669,#ba4e7a,#a2358d,#87219c,#7114a2,#5b0ea1 calc(100% - 2.8px))"></div><div style="top:492.00px;height:6.29px;background:linear-gradient(90deg,#600fa1 2.8px,#7516a1,#89229c,#9d3190,#b04381,#c45971,#d77362,#e69055,#efa94f,#f3bd4d,#f5ca4e,#f5d04f,#f5cd4f,#f4c14e,#f2b34e,#eda250,#e79255,#e38858,#e0825b,#de7f5c,#df815b,#e38858,#e79155,#ec9d52,#f0aa4f,#f3b84e,#f5cc4e,#f4dd52,#f4e655,#f3e855,#f4e053,#f5d24f,#f3ba4d,#eb9b52,#dc7c5d,#cd656a,#b94d7a,#a0348e,#86209d,#6e13a2,#580da0 calc(100% - 2.8px))"></div><div style="top:497.59px;height:6.29px;background:linear-gradient(90deg,#600fa1 2.8px,#7516a1,#89229c,#9c3091,#af4282,#c45971,#d77362,#e68f56,#efa74f,#f3bb4d,#f5c94e,#f5d04f,#f5cd4f,#f4c34e,#f2b34e,#eda151,#e79255,#e28759,#df815b,#de7f5c,#df815b,#e28759,#e79155,#eb9b52,#efa74f,#f2b54e,#f5c94e,#f5da51,#f4e354,#f4e354,#f4dd52,#f5cf4f,#f2b74e,#ea9753,#dc7b5e,#cb636b,#b74a7c,#9e328f,#831e9e,#6b12a2,#570da0 calc(100% - 2.8px))"></div><div style="top:503.18px;height:6.29px;background:linear-gradient(90deg,#600fa1 2.8px,#7316a2,#87219c,#9b2f92,#af4282,#c35872,#d67262,#e68f56,#efa650,#f3b84e,#f4c74e,#f5cf4f,#f5cc4e,#f4c14e,#f1b14e,#eda151,#e79155,#e28659,#de805c,#dd7e5d,#de805c,#e28659,#e69055,#eb9a52,#efa650,#f2b34e,#f4c64e,#f5d650,#f4de52,#f4e053,#f5da51,#f5ca4e,#f2b34e,#e89454,#da795f,#ca626c,#b5487d,#9b2f92,#811d9f,#6a12a2,#560d9f calc(100% - 2.8px))"></div><div style="top:508.77px;height:6.29px;background:linear-gradient(90deg,#5e0fa1 2.8px,#7316a2,#87219c,#9b2f92,#ae4183,#c25773,#d67262,#e68f56,#eea550,#f2b54e,#f4c44e,#f5cc4e,#f5ca4e,#f4c14e,#f1b04e,#ec9f51,#e69055,#e0845a,#de7f5c,#dc7c5d,#de7f5c,#e1855a,#e68f56,#ea9953,#eea350,#f1b14e,#f4c34e,#f5d24f,#f5db52,#f4dd52,#f5d550,#f4c64e,#f1ae4e,#e69055,#da785f,#c9616c,#b3467f,#972c94,#7d1aa0,#6711a2,#540c9f calc(100% - 2.8px))"></div><div style="top:514.36px;height:6.29px;background:linear-gradient(90deg,#5e0fa1 2.8px,#7215a2,#86209d,#9a2e93,#ac3f85,#c15673,#d57163,#e58d56,#eea350,#f2b34e,#f4c14e,#f5ca4e,#f5c94e,#f4be4d,#f1ae4e,#ec9d52,#e58d56,#e0825b,#dc7c5d,#dc7b5e,#dd7e5d,#e0845a,#e58d56,#ea9753,#eda250,#f1ae4e,#f4c04d,#f5cf4f,#f5d851,#f5d851,#f5d04f,#f4c14e,#efa94f,#e58d56,#d97760,#c85e6e,#af4282,#942a96,#7918a1,#6410a2,#530c9f calc(100% - 2.8px))"></div><div style="top:519.95px;height:6.29px;background:linear-gradient(90deg,#5e0fa1 2.8px,#7215a2,#851f9d,#972c94,#ab3e86,#bf5475,#d47063,#e58c57,#eda250,#f1b04e,#f3bd4d,#f4c74e,#f4c74e,#f3bd4d,#f0ad4e,#eb9b52,#e58c57,#df815b,#dc7b5e,#da795f,#dc7c5d,#e0825b,#e58c57,#e99554,#ec9f51,#f0ac4f,#f3bb4d,#f5ca4e,#f5d350,#f5d350,#f5cc4e,#f3bb4d,#eea550,#e48b57,#d77461,#c65c6f,#ac3f85,#8e259a,#7516a1,#610fa1,#530c9f calc(100% - 2.8px))"></div><div style="top:525.55px;height:6.29px;background:linear-gradient(90deg,#5d0ea1 2.8px,#7114a2,#831e9e,#962b95,#a93c87,#be5376,#d46f64,#e48b57,#ec9f51,#f0ad4e,#f3ba4d,#f4c34e,#f4c44e,#f3ba4d,#f0aa4f,#ea9953,#e38a58,#de7f5c,#da795f,#da785f,#db7a5e,#df815b,#e38a58,#e89454,#ec9d52,#efa94f,#f3b84e,#f4c74e,#f5cf4f,#f5cf4f,#f4c64e,#f2b44e,#ec9f51,#e28759,#d77362,#c45a71,#a73a89,#87219c,#7114a2,#600fa1,#510c9e calc(100% - 2.8px))"></div><div style="top:531.14px;height:6.29px;background:linear-gradient(90deg,#5b0ea1 2.8px,#6f14a2,#821d9e,#942a96,#a73a89,#bc5177,#d26d65,#e38a58,#ec9d52,#f0aa4f,#f2b74e,#f4c04d,#f4c04d,#f2b74e,#efa650,#e99554,#e28659,#dc7c5d,#d97760,#d87661,#da785f,#de7f5c,#e38858,#e79155,#eb9a52,#efa650,#f2b44e,#f4c14e,#f5ca4e,#f5c94e,#f4be4d,#f1ae4e,#ea9953,#e0845a,#d47063,#c25773,#a2358d,#811d9f,#6b12a2,#5d0ea1,#500c9e calc(100% - 2.8px))"></div><div style="top:536.73px;height:6.29px;background:linear-gradient(90deg,#5a0ea0 2.8px,#6c13a2,#7f1c9f,#912898,#a5388b,#bb4f79,#d06967,#e28759,#ea9953,#efa650,#f2b34e,#f3bb4d,#f3bb4d,#f2b34e,#eda250,#e79155,#e0845a,#da795f,#d77362,#d67262,#d87661,#dc7c5d,#e1855a,#e58d56,#e99653,#eda250,#f1b04e,#f3bd4d,#f4c44e,#f4c14e,#f2b74e,#efa74f,#e79255,#de7f5c,#d26d65,#be5376,#9b2f92,#7a19a0,#6711a2,#5a0ea0,#500c9e calc(100% - 2.8px))"></div><div style="top:542.32px;height:6.29px;background:linear-gradient(90deg,#580da0 2.8px,#6b12a2,#7d1aa0,#8f2699,#a3368c,#b84b7b,#cd6669,#e0825b,#e99554,#eda250,#f1ae4e,#f2b54e,#f2b74e,#f0ad4e,#ec9d52,#e58d56,#de7f5c,#d87661,#d57163,#d47063,#d67262,#da795f,#e0825b,#e38a58,#e79255,#ec9d52,#f0aa4f,#f2b74e,#f4be4d,#f3ba4d,#f1b04e,#ec9f51,#e58c57,#da795f,#ce6768,#ba4e7a,#952a95,#7316a2,#6210a2,#570da0,#4e0c9e calc(100% - 2.8px))"></div><div style="top:547.91px;height:6.29px;background:linear-gradient(90deg,#560d9f 2.8px,#6811a2,#7a19a0,#8b239b,#9f338f,#b5487d,#cb636b,#dc7c5d,#e69055,#ec9e51,#efa94f,#f1b04e,#f1b14e,#efa74f,#ea9753,#e38858,#dc7b5e,#d67262,#d36e65,#d26d65,#d47063,#d87661,#dd7e5d,#e28659,#e68f56,#ea9953,#eea350,#f1ae4e,#f2b74e,#f1b14e,#efa650,#ea9753,#e1855a,#d77362,#c9616c,#b3467f,#8f2699,#6f14a2,#5e0fa1,#540c9f,#4e0c9e calc(100% - 2.8px))"></div><div style="top:553.50px;height:6.29px;background:linear-gradient(90deg,#540c9f 2.8px,#6510a2,#7617a1,#89229c,#9c3091,#b24580,#c85e6e,#d97760,#e48b57,#ea9953,#eda250,#efa94f,#efa94f,#ec9f51,#e79255,#e0845a,#d97760,#d36e65,#d06967,#d06967,#d16b66,#d67262,#da795f,#df815b,#e38a58,#e79255,#ec9d52,#efa74f,#f0ad4e,#efa74f,#ec9d52,#e68f56,#dd7e5d,#d16b66,#c45971,#ad4084,#8a229b,#6b12a2,#5b0ea1,#530c9f,#4b0b9d calc(100% - 2.8px))"></div><div style="top:559.09px;height:6.29px;background:linear-gradient(90deg,#510c9e 2.8px,#6210a2,#7316a2,#851f9d,#982d93,#ae4183,#c45971,#d57163,#e1855a,#e79255,#eb9b52,#eda250,#eda151,#ea9953,#e48b57,#dd7e5d,#d67262,#d16a67,#cd6669,#cd656a,#cf6868,#d36e65,#d87661,#dc7c5d,#e1855a,#e58c57,#e99554,#ec9e51,#eda250,#ec9e51,#e89454,#e28659,#d87661,#cc646a,#bc5177,#a73a89,#851f9d,#6811a2,#580da0,#500c9e,#480b9c calc(100% - 2.8px))"></div><div style="top:564.68px;height:6.29px;background:linear-gradient(90deg,#4e0c9e 2.8px,#600fa1,#6f14a2,#811d9f,#952a95,#ab3e86,#c05574,#d16b66,#dd7e5d,#e58c57,#e99554,#eb9a52,#ea9953,#e79155,#e1855a,#da785f,#d26d65,#cd6669,#ca626c,#ca626c,#cc646a,#d06967,#d47063,#da785f,#de7f5c,#e28659,#e58d56,#e89454,#e99653,#e89454,#e38a58,#dc7c5d,#d36e65,#c65c6f,#b5487d,#9e328f,#7f1c9f,#6510a2,#560d9f,#4d0b9d,#450a9b calc(100% - 2.8px))"></div><div style="top:570.27px;height:6.29px;background:linear-gradient(90deg,#4b0b9d 2.8px,#5b0ea1,#6b12a2,#7d1aa0,#902798,#a6398a,#bc5078,#cd656a,#da785f,#e1855a,#e58d56,#e79155,#e69055,#e38858,#dd7e5d,#d67262,#ce6768,#c9616c,#c75d6e,#c75d6e,#c9606d,#cc646a,#d16b66,#d67262,#da795f,#de7f5c,#e28659,#e48b57,#e48b57,#e38858,#de805c,#d77461,#cd656a,#bf5475,#ad4084,#962b95,#7a19a0,#6210a2,#540c9f,#4a0b9c,#420a9a calc(100% - 2.8px))"></div><div style="top:575.86px;height:6.29px;background:linear-gradient(90deg,#480b9c 2.8px,#580da0,#6811a2,#7718a1,#8b239b,#a2358d,#b74a7c,#c9606d,#d57163,#dd7e5d,#e28759,#e38a58,#e28759,#df815b,#da785f,#d26d65,#cb636b,#c65c6f,#c45a71,#c45971,#c55b70,#c9606d,#ce6768,#d26d65,#d67262,#da785f,#dd7e5d,#df815b,#df815b,#dd7e5d,#d97760,#d16a67,#c65c6f,#b84b7b,#a5388b,#8e259a,#7316a2,#5e0fa1,#510c9e,#480b9c,#410a99 calc(100% - 2.8px))"></div><div style="top:581.45px;height:6.29px;background:linear-gradient(90deg,#450a9b 2.8px,#560d9f,#6410a2,#7316a2,#86209d,#9c3091,#b14481,#c45971,#d16a67,#d97760,#de805c,#e0825b,#de805c,#db7a5e,#d57163,#ce6768,#c75d6e,#c35872,#c15673,#c05574,#c25773,#c55b70,#ca626c,#ce6768,#d26d65,#d57163,#d87661,#da785f,#da785f,#d77461,#d26d65,#ca626c,#bf5475,#b04381,#9c3091,#851f9d,#6e13a2,#5b0ea1,#4e0c9e,#450a9b,#3e0a98 calc(100% - 2.8px))"></div><div style="top:587.05px;height:6.29px;background:linear-gradient(90deg,#420a9a 2.8px,#510c9e,#600fa1,#6f14a2,#811d9f,#952a95,#ab3e86,#be5376,#cc646a,#d47063,#da785f,#db7a5e,#da785f,#d77362,#d16b66,#ca626c,#c45971,#bf5475,#bc5177,#bc5177,#be5376,#c25773,#c65c6f,#ca626c,#cd6669,#d16a67,#d36e65,#d46f64,#d46f64,#d16b66,#cc646a,#c45971,#b74a7c,#a83b88,#942a96,#7b1aa0,#6811a2,#570da0,#4b0b9d,#420a9a,#3b0997 calc(100% - 2.8px))"></div><div style="top:592.64px;height:6.29px;background:linear-gradient(90deg,#3f0a98 2.8px,#4e0c9e,#5d0ea1,#6b12a2,#7b1aa0,#8f2699,#a5388b,#b94d7a,#c75d6e,#d16a67,#d57163,#d77362,#d57163,#d26d65,#cd656a,#c65c6f,#bf5475,#bc5078,#b94d7a,#b94d7a,#bb4f79,#be5376,#c35872,#c65c6f,#c9606d,#cb636b,#cd6669,#ce6768,#cd6669,#ca626c,#c55b70,#bc5078,#af4282,#9f338f,#8b239b,#7516a1,#6210a2,#540c9f,#480b9c,#3f0a98,#380995 calc(100% - 2.8px))"></div><div style="top:598.23px;height:6.29px;background:linear-gradient(90deg,#3c0997 2.8px,#4b0b9d,#580da0,#6711a2,#7516a1,#87219c,#9e328f,#b4477e,#c25773,#cc646a,#d16a67,#d26d65,#d16a67,#cd6669,#c9606d,#c25773,#bc5078,#b74a7c,#b5487d,#b5487d,#b74a7c,#ba4e7a,#be5376,#c15673,#c45971,#c65c6f,#c75d6e,#c85e6e,#c75d6e,#c45971,#bd5276,#b4477e,#a73a89,#972c94,#831e9e,#6f14a2,#5d0ea1,#500c9e,#450a9b,#3c0997,#350994 calc(100% - 2.8px))"></div><div style="top:603.82px;height:6.29px;background:linear-gradient(90deg,#390996 2.8px,#470b9b,#540c9f,#610fa1,#6f14a2,#7f1c9f,#962b95,#ae4183,#bd5276,#c75d6e,#cc646a,#cd6669,#cc646a,#c9606d,#c45971,#bd5276,#b74a7c,#b3467f,#b14481,#b14481,#b3467f,#b6497d,#b94d7a,#bc5177,#be5376,#c05574,#c15673,#c25773,#c05574,#bc5177,#b6497d,#ac3f85,#9f338f,#8f2699,#7b1aa0,#6811a2,#580da0,#4d0b9d,#420a9a,#390996,#310893 calc(100% - 2.8px))"></div><div style="top:609.41px;height:6.29px;background:linear-gradient(90deg,#360995 2.8px,#440a9a,#510c9e,#5d0ea1,#6a12a2,#7918a1,#8f2699,#a83b88,#b84b7b,#c25773,#c65c6f,#c85e6e,#c75d6e,#c45971,#bf5475,#b94d7a,#b3467f,#af4282,#ad4084,#ad4084,#ae4183,#b14481,#b4477e,#b74a7c,#b94d7a,#ba4e7a,#bb4f79,#bb4f79,#b94d7a,#b5487d,#af4282,#a5388b,#972c94,#87219c,#7516a1,#6210a2,#540c9f,#480b9c,#3f0a98,#360995,#2e0891 calc(100% - 2.8px))"></div><div style="top:615.00px;height:6.29px;background:linear-gradient(90deg,#330893 2.8px,#410a99,#4d0b9d,#580da0,#6410a2,#7215a2,#89229c,#a0348e,#b14481,#bc5078,#c15673,#c35872,#c25773,#be5376,#ba4e7a,#b4477e,#ae4183,#aa3d86,#a83b88,#a83b88,#aa3d86,#ac3f85,#af4282,#b14481,#b3467f,#b4477e,#b4477e,#b4477e,#b24580,#ae4183,#a73a89,#9d3190,#902798,#7f1c9f,#6e13a2,#5e0fa1,#500c9e,#440a9a,#3b0997,#330893,#2d0890 calc(100% - 2.8px))"></div><div style="top:620.59px;height:6.29px;background:linear-gradient(90deg,#300892 2.8px,#3e0a98,#4a0b9c,#540c9f,#600fa1,#6e13a2,#821d9e,#982d93,#aa3d86,#b5487d,#bb4f79,#bc5177,#bc5078,#ba4e7a,#b5487d,#af4282,#a93c87,#a5388b,#a3368c,#a3368c,#a5388b,#a73a89,#aa3d86,#ab3e86,#ac3f85,#ad4084,#ae4183,#ad4084,#ab3e86,#a73a89,#9f338f,#952a95,#87219c,#7918a1,#6811a2,#580da0,#4b0b9d,#410a99,#380995,#300892,#29088f calc(100% - 2.8px))"></div><div style="top:626.18px;height:6.29px;background:linear-gradient(90deg,#2d0890 2.8px,#390996,#450a9b,#510c9e,#5b0ea1,#6811a2,#7a19a0,#902798,#a2358d,#ae4183,#b3467f,#b6497d,#b6497d,#b4477e,#af4282,#aa3d86,#a4378b,#9f338f,#9e328f,#9e328f,#9f338f,#a2358d,#a4378b,#a5388b,#a6398a,#a73a89,#a73a89,#a6398a,#a4378b,#9f338f,#972c94,#8c249a,#811d9f,#7114a2,#6210a2,#540c9f,#470b9b,#3c0997,#350994,#2d0890,#26078d calc(100% - 2.8px))"></div><div style="top:631.77px;height:6.29px;background:linear-gradient(90deg,#29088f 2.8px,#360995,#420a9a,#4d0b9d,#570da0,#6210a2,#7316a2,#87219c,#972c94,#a5388b,#ac3f85,#af4282,#af4282,#ae4183,#a93c87,#a4378b,#9e328f,#9a2e93,#982d93,#982d93,#9a2e93,#9c3091,#9e328f,#9f338f,#9f338f,#a0348e,#a0348e,#9f338f,#9c3091,#972c94,#8f2699,#851f9d,#7918a1,#6b12a2,#5b0ea1,#4e0c9e,#420a9a,#390996,#310893,#29088f,#22078c calc(100% - 2.8px))"></div><div style="top:637.36px;height:6.29px;background:linear-gradient(90deg,#26078d 2.8px,#330893,#3e0a98,#480b9c,#510c9e,#5d0ea1,#6c13a2,#7d1aa0,#8c249a,#9b2f92,#a3368c,#a83b88,#a93c87,#a73a89,#a4378b,#9d3190,#982d93,#942a96,#922997,#922997,#942a96,#962b95,#972c94,#982d93,#9a2e93,#9b2f92,#9b2f92,#9a2e93,#952a95,#8f2699,#87219c,#7d1aa0,#7114a2,#6410a2,#560d9f,#4a0b9c,#3e0a98,#350994,#2e0891,#26078d,#20078b calc(100% - 2.8px))"></div><div style="top:642.95px;height:6.29px;background:linear-gradient(90deg,#22078c 2.8px,#2e0891,#390996,#440a9a,#4d0b9d,#580da0,#6510a2,#7316a2,#811d9f,#902798,#9a2e93,#9f338f,#a2358d,#a0348e,#9c3091,#962b95,#912898,#8e259a,#8c249a,#8c249a,#8e259a,#8f2699,#912898,#922997,#922997,#942a96,#952a95,#922997,#8f2699,#87219c,#7e1b9f,#7516a1,#6a12a2,#5d0ea1,#500c9e,#440a9a,#3b0997,#310893,#29088f,#22078c,#1c0789 calc(100% - 2.8px))"></div><div style="top:648.55px;height:6.29px;background:linear-gradient(90deg,#1e078a 2.8px,#2b0890,#360995,#3f0a98,#480b9c,#530c9f,#5d0ea1,#6a12a2,#7617a1,#851f9d,#8f2699,#962b95,#9a2e93,#982d93,#952a95,#8f2699,#8a229b,#87219c,#851f9d,#86209d,#87219c,#89229c,#8b239b,#8b239b,#8c249a,#8e259a,#8f2699,#8c249a,#87219c,#7f1c9f,#7617a1,#6c13a2,#610fa1,#570da0,#4b0b9d,#3f0a98,#360995,#2d0890,#26078d,#1e078a,#180787 calc(100% - 2.8px))"></div><div style="top:654.14px;height:6.29px;background:linear-gradient(90deg,#1a0788 2.8px,#28088e,#310893,#3b0997,#440a9a,#4d0b9d,#560d9f,#610fa1,#6b12a2,#7918a1,#831e9e,#8b239b,#902798,#8f2699,#8c249a,#87219c,#821d9e,#7f1c9f,#7e1b9f,#7e1b9f,#811d9f,#821d9e,#851f9d,#86209d,#86209d,#89229c,#89229c,#86209d,#811d9f,#7718a1,#6e13a2,#6410a2,#5a0ea0,#500c9e,#450a9b,#3b0997,#310893,#29088f,#22078c,#1a0788,#140785 calc(100% - 2.8px))"></div><div style="top:659.73px;height:6.29px;background:linear-gradient(90deg,#160786 2.8px,#24078c,#2e0891,#360995,#3e0a98,#450a9b,#4e0c9e,#570da0,#610fa1,#6c13a2,#7718a1,#7e1b9f,#851f9d,#851f9d,#831e9e,#7e1b9f,#7a19a0,#7718a1,#7718a1,#7718a1,#7918a1,#7b1aa0,#7e1b9f,#7f1c9f,#811d9f,#831e9e,#831e9e,#7f1c9f,#7918a1,#6f14a2,#6510a2,#5b0ea1,#510c9e,#480b9c,#3e0a98,#350994,#2d0890,#24078c,#1e078a,#160786,#0f0882 calc(100% - 2.8px))"></div><div style="top:665.32px;height:6.29px;background:linear-gradient(90deg,#110783 2.8px,#20078b,#29088f,#310893,#380995,#3f0a98,#470b9b,#4e0c9e,#570da0,#610fa1,#6a12a2,#6f14a2,#7516a1,#7718a1,#7918a1,#7617a1,#7215a2,#7114a2,#6f14a2,#7114a2,#7215a2,#7516a1,#7718a1,#7a19a0,#7d1aa0,#7f1c9f,#7e1b9f,#7918a1,#7215a2,#6811a2,#5b0ea1,#510c9e,#4a0b9c,#410a99,#380995,#300892,#28088e,#20078b,#180787,#110783,#0c0881 calc(100% - 2.8px))"></div><div style="top:670.91px;height:6.29px;background:linear-gradient(90deg,#0f0882 2.8px,#1c0789,#24078c,#2d0890,#330893,#390996,#3f0a98,#450a9b,#4b0b9d,#540c9f,#5d0ea1,#600fa1,#5e0fa1,#6811a2,#6e13a2,#6c13a2,#6a12a2,#6811a2,#6811a2,#6a12a2,#6b12a2,#6e13a2,#7114a2,#7516a1,#7a19a0,#7d1aa0,#7918a1,#7316a2,#6b12a2,#600fa1,#530c9f,#480b9c,#420a9a,#3b0997,#310893,#29088f,#22078c,#1a0788,#140785,#0c0881,#0c0881 calc(100% - 2.8px))"></div></div>
<svg width="2000" height="1663" viewBox="0 0 2000 1663" font-size="32.5" fill="#262626"><defs><clipPath id="cTL"><rect x="105.2" y="42.7" width="677.8" height="676.6"/></clipPath><mask id="mTL" maskUnits="userSpaceOnUse" x="105.2" y="42.7" width="677.8" height="676.6"><rect x="105.2" y="42.7" width="677.8" height="676.6" fill="#fff"/><g fill="#000"><rect x="87.1" y="135.1" width="67.3" height="22.0" transform="rotate(-75.4 120.8 146.1)"/><rect x="696.1" y="84.6" width="67.3" height="22.0" transform="rotate(38.8 729.8 95.6)"/><rect x="118.2" y="168.7" width="67.3" height="22.0" transform="rotate(-73.5 151.8 179.7)"/><rect x="679.3" y="128.9" width="67.3" height="22.0" transform="rotate(43.8 713.0 139.9)"/><rect x="97.5" y="621.6" width="67.3" height="22.0" transform="rotate(61.7 131.1 632.6)"/><rect x="668.1" y="665.8" width="67.3" height="22.0" transform="rotate(-35.2 701.8 676.8)"/><rect x="164.0" y="136.1" width="67.3" height="22.0" transform="rotate(-60.6 197.6 147.1)"/><rect x="511.3" y="66.0" width="67.3" height="22.0" transform="rotate(18.6 544.9 77.0)"/><rect x="733.3" y="325.3" width="67.3" height="22.0" transform="rotate(84.6 766.9 336.3)"/><rect x="113.1" y="509.8" width="67.3" height="22.0" transform="rotate(89.7 146.7 520.8)"/><rect x="634.5" y="647.9" width="67.3" height="22.0" transform="rotate(-39.9 668.2 658.9)"/><rect x="232.0" y="107.2" width="49.8" height="22.0" transform="rotate(-37.6 256.8 118.2)"/><rect x="357.6" y="71.4" width="49.8" height="22.0" transform="rotate(7.5 382.5 82.4)"/><rect x="664.2" y="196.7" width="49.8" height="22.0" transform="rotate(63.8 689.1 207.7)"/><rect x="161.5" y="460.8" width="49.8" height="22.0" transform="rotate(-76.6 186.4 471.8)"/><rect x="368.8" y="667.0" width="49.8" height="22.0" transform="rotate(-0.3 393.7 678.0)"/><rect x="674.3" y="565.7" width="49.8" height="22.0" transform="rotate(-53.9 699.2 576.7)"/><rect x="191.2" y="191.1" width="67.3" height="22.0" transform="rotate(-72.4 224.8 202.1)"/><rect x="455.3" y="143.8" width="67.3" height="22.0" transform="rotate(5.8 488.9 154.8)"/><rect x="637.6" y="364.4" width="67.3" height="22.0" transform="rotate(87.6 671.2 375.4)"/><rect x="188.9" y="565.7" width="67.3" height="22.0" transform="rotate(67.6 222.5 576.7)"/><rect x="500.1" y="620.4" width="67.3" height="22.0" transform="rotate(0.5 533.7 631.4)"/><rect x="217.3" y="196.7" width="67.3" height="22.0" transform="rotate(-66.3 250.9 207.7)"/><rect x="360.0" y="171.1" width="67.3" height="22.0" transform="rotate(31.3 393.7 182.1)"/><rect x="603.0" y="297.3" width="67.3" height="22.0" transform="rotate(-71.7 636.6 308.3)"/><rect x="220.0" y="556.6" width="67.3" height="22.0" transform="rotate(63.4 253.6 567.6)"/><rect x="522.5" y="577.6" width="67.3" height="22.0" transform="rotate(8.8 556.1 588.6)"/><rect x="237.5" y="247.0" width="67.3" height="22.0" transform="rotate(84.6 271.2 258.0)"/><rect x="363.4" y="269.3" width="67.3" height="22.0" transform="rotate(68.0 397.0 280.3)"/><rect x="270.4" y="534.4" width="67.3" height="22.0" transform="rotate(21.8 304.1 545.4)"/><rect x="516.9" y="522.8" width="67.3" height="22.0" transform="rotate(16.9 550.5 533.8)"/></g></mask><linearGradient id="gTL" x1="0" y1="0" x2="0" y2="1"><stop offset="0.000" stop-color="#f1f858"/><stop offset="0.031" stop-color="#f3ed57"/><stop offset="0.062" stop-color="#f4e053"/><stop offset="0.094" stop-color="#f5d350"/><stop offset="0.125" stop-color="#f4c74e"/><stop offset="0.156" stop-color="#f3bb4d"/><stop offset="0.188" stop-color="#f1b04e"/><stop offset="0.219" stop-color="#eea550"/><stop offset="0.250" stop-color="#eb9a52"/><stop offset="0.281" stop-color="#e69055"/><stop offset="0.312" stop-color="#e28659"/><stop offset="0.344" stop-color="#dc7c5d"/><stop offset="0.375" stop-color="#d77362"/><stop offset="0.406" stop-color="#d16a67"/><stop offset="0.438" stop-color="#ca626c"/><stop offset="0.469" stop-color="#c45971"/><stop offset="0.500" stop-color="#bc5177"/><stop offset="0.531" stop-color="#b5487d"/><stop offset="0.562" stop-color="#ad4084"/><stop offset="0.594" stop-color="#a5388b"/><stop offset="0.625" stop-color="#9c3091"/><stop offset="0.656" stop-color="#922997"/><stop offset="0.688" stop-color="#89229c"/><stop offset="0.719" stop-color="#7e1b9f"/><stop offset="0.750" stop-color="#7316a2"/><stop offset="0.781" stop-color="#6811a2"/><stop offset="0.812" stop-color="#5d0ea1"/><stop offset="0.844" stop-color="#510c9e"/><stop offset="0.875" stop-color="#450a9b"/><stop offset="0.906" stop-color="#390996"/><stop offset="0.938" stop-color="#2d0890"/><stop offset="0.969" stop-color="#1e078a"/><stop offset="1.000" stop-color="#0c0881"/></linearGradient><clipPath id="cTR"><rect x="1132.0" y="42.7" width="678.0" height="676.6"/></clipPath><mask id="mTR" maskUnits="userSpaceOnUse" x="1132.0" y="42.7" width="678.0" height="676.6"><rect x="1132.0" y="42.7" width="678.0" height="676.6" fill="#fff"/><g fill="#000"><rect x="1476.6" y="61.7" width="67.3" height="22.0" transform="rotate(-2.0 1510.2 72.7)"/><rect x="1398.1" y="98.8" width="67.3" height="22.0" transform="rotate(4.3 1431.8 109.8)"/><rect x="1380.7" y="129.6" width="49.8" height="22.0" transform="rotate(28.1 1405.6 140.6)"/><rect x="1151.4" y="68.0" width="49.8" height="22.0" transform="rotate(-40.6 1176.3 79.0)"/><rect x="1153.6" y="90.4" width="67.3" height="22.0" transform="rotate(-45.9 1187.3 101.4)"/><rect x="1161.8" y="118.4" width="67.3" height="22.0" transform="rotate(-55.9 1195.5 129.4)"/><rect x="1202.0" y="107.5" width="67.3" height="22.0" transform="rotate(-39.5 1235.7 118.5)"/><rect x="1230.0" y="109.9" width="67.3" height="22.0" transform="rotate(-30.0 1263.7 120.9)"/><rect x="1247.0" y="124.0" width="49.8" height="22.0" transform="rotate(-27.8 1271.9 135.0)"/><rect x="1205.5" y="191.1" width="67.3" height="22.0" transform="rotate(-75.2 1239.2 202.1)"/><rect x="1354.8" y="202.2" width="67.3" height="22.0" transform="rotate(76.0 1388.5 213.2)"/><rect x="1391.7" y="235.8" width="67.3" height="22.0" transform="rotate(81.4 1425.3 246.8)"/><rect x="1246.8" y="254.5" width="67.3" height="22.0" transform="rotate(42.7 1280.5 265.5)"/><rect x="1286.1" y="243.9" width="67.3" height="22.0" transform="rotate(16.9 1319.7 254.9)"/><rect x="1482.2" y="217.2" width="67.3" height="22.0" transform="rotate(-78.8 1515.8 228.2)"/><rect x="1633.5" y="160.7" width="67.3" height="22.0" transform="rotate(36.0 1667.1 171.7)"/><rect x="1687.0" y="174.3" width="49.8" height="22.0" transform="rotate(71.8 1711.9 185.3)"/><rect x="1699.5" y="185.5" width="67.3" height="22.0" transform="rotate(69.8 1733.1 196.5)"/><rect x="1675.8" y="235.8" width="67.3" height="22.0" transform="rotate(85.1 1709.4 246.8)"/><rect x="1577.4" y="268.5" width="67.3" height="22.0" transform="rotate(9.9 1611.1 279.5)"/><rect x="1742.3" y="241.4" width="67.3" height="22.0" transform="rotate(75.8 1776.0 252.4)"/><rect x="1737.5" y="92.4" width="49.8" height="22.0" transform="rotate(38.7 1762.4 103.4)"/><rect x="1717.5" y="114.8" width="67.3" height="22.0" transform="rotate(33.2 1751.2 125.8)"/><rect x="1700.7" y="128.2" width="67.3" height="22.0" transform="rotate(38.7 1734.4 139.2)"/><rect x="1119.1" y="493.0" width="67.3" height="22.0" transform="rotate(86.5 1152.7 504.0)"/><rect x="1144.4" y="470.7" width="67.3" height="22.0" transform="rotate(-84.8 1178.0 481.7)"/><rect x="1170.6" y="465.1" width="67.3" height="22.0" transform="rotate(-75.9 1204.2 476.1)"/><rect x="1198.2" y="476.2" width="49.8" height="22.0" transform="rotate(-67.2 1223.1 487.2)"/><rect x="1214.6" y="470.7" width="67.3" height="22.0" transform="rotate(-60.8 1248.2 481.7)"/><rect x="1344.2" y="481.8" width="67.3" height="22.0" transform="rotate(60.3 1377.9 492.8)"/><rect x="1392.5" y="519.6" width="67.3" height="22.0" transform="rotate(-71.2 1426.2 530.6)"/><rect x="1291.7" y="539.6" width="67.3" height="22.0" transform="rotate(-5.8 1325.3 550.6)"/><rect x="1245.1" y="560.1" width="67.3" height="22.0" transform="rotate(55.0 1278.7 571.1)"/><rect x="1482.2" y="467.1" width="67.3" height="22.0" transform="rotate(-67.2 1515.8 478.1)"/><rect x="1629.6" y="465.1" width="67.3" height="22.0" transform="rotate(29.9 1663.3 476.1)"/><rect x="1678.4" y="493.0" width="67.3" height="22.0" transform="rotate(85.6 1712.0 504.0)"/><rect x="1699.5" y="521.0" width="49.8" height="22.0" transform="rotate(-72.4 1724.4 532.0)"/><rect x="1700.7" y="543.3" width="67.3" height="22.0" transform="rotate(-66.3 1734.3 554.3)"/><rect x="1577.4" y="572.1" width="67.3" height="22.0" transform="rotate(17.1 1611.1 583.1)"/><rect x="1697.9" y="588.1" width="67.3" height="22.0" transform="rotate(-58.2 1731.5 599.1)"/><rect x="1676.9" y="644.0" width="67.3" height="22.0" transform="rotate(-47.7 1710.6 655.0)"/><rect x="1699.8" y="655.2" width="67.3" height="22.0" transform="rotate(-53.3 1733.5 666.2)"/><rect x="1731.1" y="666.4" width="49.8" height="22.0" transform="rotate(-52.3 1756.0 677.4)"/><rect x="1136.0" y="616.0" width="67.3" height="22.0" transform="rotate(61.7 1169.7 627.0)"/><rect x="1142.6" y="649.6" width="49.8" height="22.0" transform="rotate(51.1 1167.5 660.6)"/><rect x="1423.7" y="586.3" width="49.8" height="22.0" transform="rotate(-33.2 1448.6 597.3)"/><rect x="1392.5" y="644.1" width="67.3" height="22.0" transform="rotate(-17.5 1426.2 655.1)"/><rect x="1370.1" y="682.9" width="67.3" height="22.0" transform="rotate(-5.7 1403.8 693.9)"/></g></mask><linearGradient id="gTR" x1="0" y1="0" x2="0" y2="1"><stop offset="0.000" stop-color="#f1f858"/><stop offset="0.031" stop-color="#f3ed57"/><stop offset="0.062" stop-color="#f4e053"/><stop offset="0.094" stop-color="#f5d350"/><stop offset="0.125" stop-color="#f4c74e"/><stop offset="0.156" stop-color="#f3bb4d"/><stop offset="0.188" stop-color="#f1b04e"/><stop offset="0.219" stop-color="#eea550"/><stop offset="0.250" stop-color="#eb9a52"/><stop offset="0.281" stop-color="#e69055"/><stop offset="0.312" stop-color="#e28659"/><stop offset="0.344" stop-color="#dc7c5d"/><stop offset="0.375" stop-color="#d77362"/><stop offset="0.406" stop-color="#d16a67"/><stop offset="0.438" stop-color="#ca626c"/><stop offset="0.469" stop-color="#c45971"/><stop offset="0.500" stop-color="#bc5177"/><stop offset="0.531" stop-color="#b5487d"/><stop offset="0.562" stop-color="#ad4084"/><stop offset="0.594" stop-color="#a5388b"/><stop offset="0.625" stop-color="#9c3091"/><stop offset="0.656" stop-color="#922997"/><stop offset="0.688" stop-color="#89229c"/><stop offset="0.719" stop-color="#7e1b9f"/><stop offset="0.750" stop-color="#7316a2"/><stop offset="0.781" stop-color="#6811a2"/><stop offset="0.812" stop-color="#5d0ea1"/><stop offset="0.844" stop-color="#510c9e"/><stop offset="0.875" stop-color="#450a9b"/><stop offset="0.906" stop-color="#390996"/><stop offset="0.938" stop-color="#2d0890"/><stop offset="0.969" stop-color="#1e078a"/><stop offset="1.000" stop-color="#0c0881"/></linearGradient><clipPath id="cBL"><rect x="105.2" y="884.0" width="677.8" height="676.5"/></clipPath><mask id="mBL" maskUnits="userSpaceOnUse" x="105.2" y="884.0" width="677.8" height="676.5"><rect x="105.2" y="884.0" width="677.8" height="676.5" fill="#fff"/><g fill="#000"><rect x="424.8" y="900.9" width="49.8" height="22.0" transform="rotate(-18.8 449.7 911.9)"/><rect x="542.4" y="898.4" width="49.8" height="22.0" transform="rotate(23.1 567.3 909.4)"/><rect x="152.8" y="995.2" width="67.3" height="22.0" transform="rotate(-51.5 186.4 1006.2)"/><rect x="539.3" y="957.1" width="67.3" height="22.0" transform="rotate(21.7 572.9 968.1)"/><rect x="407.3" y="1049.1" width="67.3" height="22.0" transform="rotate(-40.4 441.0 1060.1)"/><rect x="550.5" y="1018.6" width="67.3" height="22.0" transform="rotate(33.5 584.1 1029.6)"/><rect x="197.8" y="1133.0" width="49.8" height="22.0" transform="rotate(-73.5 222.7 1144.0)"/><rect x="214.4" y="1239.1" width="67.3" height="22.0" transform="rotate(-51.5 248.0 1250.1)"/><rect x="332.0" y="1256.4" width="67.3" height="22.0" transform="rotate(-68.1 365.7 1267.4)"/><rect x="503.9" y="1295.1" width="67.3" height="22.0" transform="rotate(-39.2 537.6 1306.1)"/><rect x="227.6" y="1345.4" width="67.3" height="22.0" transform="rotate(81.4 261.2 1356.4)"/><rect x="526.4" y="1351.0" width="67.3" height="22.0" transform="rotate(-28.5 560.1 1362.0)"/><rect x="365.6" y="1441.7" width="67.3" height="22.0" transform="rotate(-22.4 399.3 1452.7)"/><rect x="225.6" y="1468.4" width="49.8" height="22.0" transform="rotate(28.1 250.5 1479.4)"/><rect x="559.2" y="1451.8" width="49.8" height="22.0" transform="rotate(-17.2 584.1 1462.8)"/><rect x="561.7" y="1507.8" width="67.3" height="22.0" transform="rotate(-15.0 595.3 1518.8)"/><rect x="94.3" y="1356.6" width="67.3" height="22.0" transform="rotate(87.5 128.0 1367.6)"/><rect x="627.8" y="1267.2" width="67.3" height="22.0" transform="rotate(-84.1 661.5 1278.2)"/><rect x="707.6" y="1144.2" width="49.8" height="22.0" transform="rotate(-72.1 732.5 1155.2)"/></g></mask><linearGradient id="gBL" x1="0" y1="0" x2="0" y2="1"><stop offset="0.000" stop-color="#f1f858"/><stop offset="0.031" stop-color="#f3ed57"/><stop offset="0.062" stop-color="#f4e053"/><stop offset="0.094" stop-color="#f5d350"/><stop offset="0.125" stop-color="#f4c74e"/><stop offset="0.156" stop-color="#f3bb4d"/><stop offset="0.188" stop-color="#f1b04e"/><stop offset="0.219" stop-color="#eea550"/><stop offset="0.250" stop-color="#eb9a52"/><stop offset="0.281" stop-color="#e69055"/><stop offset="0.312" stop-color="#e28659"/><stop offset="0.344" stop-color="#dc7c5d"/><stop offset="0.375" stop-color="#d77362"/><stop offset="0.406" stop-color="#d16a67"/><stop offset="0.438" stop-color="#ca626c"/><stop offset="0.469" stop-color="#c45971"/><stop offset="0.500" stop-color="#bc5177"/><stop offset="0.531" stop-color="#b5487d"/><stop offset="0.562" stop-color="#ad4084"/><stop offset="0.594" stop-color="#a5388b"/><stop offset="0.625" stop-color="#9c3091"/><stop offset="0.656" stop-color="#922997"/><stop offset="0.688" stop-color="#89229c"/><stop offset="0.719" stop-color="#7e1b9f"/><stop offset="0.750" stop-color="#7316a2"/><stop offset="0.781" stop-color="#6811a2"/><stop offset="0.812" stop-color="#5d0ea1"/><stop offset="0.844" stop-color="#510c9e"/><stop offset="0.875" stop-color="#450a9b"/><stop offset="0.906" stop-color="#390996"/><stop offset="0.938" stop-color="#2d0890"/><stop offset="0.969" stop-color="#1e078a"/><stop offset="1.000" stop-color="#0c0881"/></linearGradient><clipPath id="cBR"><rect x="1132.0" y="884.0" width="678.0" height="676.5"/></clipPath><mask id="mBR" maskUnits="userSpaceOnUse" x="1132.0" y="884.0" width="678.0" height="676.5"><rect x="1132.0" y="884.0" width="678.0" height="676.5" fill="#fff"/><g fill="#000"><rect x="1177.1" y="953.8" width="49.8" height="22.0" transform="rotate(-43.5 1202.0 964.8)"/><rect x="1403.7" y="919.2" width="67.3" height="22.0" transform="rotate(-0.9 1437.4 930.2)"/><rect x="1633.5" y="936.4" width="67.3" height="22.0" transform="rotate(34.1 1667.1 947.4)"/><rect x="1603.0" y="951.1" width="49.8" height="22.0" transform="rotate(21.4 1627.9 962.1)"/><rect x="1201.5" y="1021.2" width="49.8" height="22.0" transform="rotate(-69.5 1226.4 1032.2)"/><rect x="1209.2" y="1049.1" width="67.3" height="22.0" transform="rotate(-76.6 1242.9 1060.1)"/><rect x="1245.1" y="1093.8" width="49.8" height="22.0" transform="rotate(58.2 1270.0 1104.8)"/><rect x="1413.4" y="1099.4" width="67.3" height="22.0" transform="rotate(-86.8 1447.1 1110.4)"/><rect x="1482.2" y="1015.6" width="67.3" height="22.0" transform="rotate(-45.9 1515.8 1026.6)"/><rect x="1646.4" y="1015.6" width="67.3" height="22.0" transform="rotate(49.6 1680.1 1026.6)"/><rect x="1547.0" y="1115.8" width="49.8" height="22.0" transform="rotate(41.0 1571.9 1126.8)"/><rect x="1744.7" y="942.9" width="67.3" height="22.0" transform="rotate(58.1 1778.3 953.9)"/><rect x="1738.8" y="1004.4" width="49.8" height="22.0" transform="rotate(59.9 1763.7 1015.4)"/><rect x="1149.7" y="1082.7" width="67.3" height="22.0" transform="rotate(89.6 1183.4 1093.7)"/><rect x="1137.2" y="1311.9" width="49.8" height="22.0" transform="rotate(-85.9 1162.1 1322.9)"/><rect x="1227.9" y="1311.9" width="67.3" height="22.0" transform="rotate(-57.8 1261.6 1322.9)"/><rect x="1199.6" y="1386.2" width="49.8" height="22.0" transform="rotate(82.7 1224.5 1397.2)"/><rect x="1264.8" y="1395.8" width="49.8" height="22.0" transform="rotate(55.9 1289.7 1406.8)"/><rect x="1401.9" y="1351.0" width="67.3" height="22.0" transform="rotate(-73.0 1435.5 1362.0)"/><rect x="1450.5" y="1345.4" width="67.3" height="22.0" transform="rotate(-79.0 1484.1 1356.4)"/><rect x="1190.8" y="1452.5" width="67.3" height="22.0" transform="rotate(54.1 1224.5 1463.5)"/><rect x="1485.5" y="1462.8" width="49.8" height="22.0" transform="rotate(18.8 1510.4 1473.8)"/><rect x="1510.2" y="1500.9" width="67.3" height="22.0" transform="rotate(2.8 1543.8 1511.9)"/><rect x="1345.2" y="1537.7" width="49.8" height="22.0" transform="rotate(-4.1 1370.1 1548.7)"/><rect x="1575.2" y="1367.8" width="67.3" height="22.0" transform="rotate(12.9 1608.9 1378.8)"/><rect x="1541.4" y="1401.9" width="49.8" height="22.0" transform="rotate(52.9 1566.3 1412.9)"/><rect x="1665.0" y="1328.7" width="67.3" height="22.0" transform="rotate(77.0 1698.7 1339.7)"/><rect x="1691.9" y="1267.2" width="49.8" height="22.0" transform="rotate(81.8 1716.8 1278.2)"/><rect x="1727.0" y="1278.3" width="67.3" height="22.0" transform="rotate(-87.1 1760.6 1289.3)"/><rect x="1672.1" y="1485.2" width="49.8" height="22.0" transform="rotate(-39.4 1697.0 1496.2)"/><rect x="1682.9" y="1513.2" width="67.3" height="22.0" transform="rotate(-38.0 1716.6 1524.2)"/></g></mask><linearGradient id="gBR" x1="0" y1="0" x2="0" y2="1"><stop offset="0.000" stop-color="#f1f858"/><stop offset="0.031" stop-color="#f3ed57"/><stop offset="0.062" stop-color="#f4e053"/><stop offset="0.094" stop-color="#f5d350"/><stop offset="0.125" stop-color="#f4c74e"/><stop offset="0.156" stop-color="#f3bb4d"/><stop offset="0.188" stop-color="#f1b04e"/><stop offset="0.219" stop-color="#eea550"/><stop offset="0.250" stop-color="#eb9a52"/><stop offset="0.281" stop-color="#e69055"/><stop offset="0.312" stop-color="#e28659"/><stop offset="0.344" stop-color="#dc7c5d"/><stop offset="0.375" stop-color="#d77362"/><stop offset="0.406" stop-color="#d16a67"/><stop offset="0.438" stop-color="#ca626c"/><stop offset="0.469" stop-color="#c45971"/><stop offset="0.500" stop-color="#bc5177"/><stop offset="0.531" stop-color="#b5487d"/><stop offset="0.562" stop-color="#ad4084"/><stop offset="0.594" stop-color="#a5388b"/><stop offset="0.625" stop-color="#9c3091"/><stop offset="0.656" stop-color="#922997"/><stop offset="0.688" stop-color="#89229c"/><stop offset="0.719" stop-color="#7e1b9f"/><stop offset="0.750" stop-color="#7316a2"/><stop offset="0.781" stop-color="#6811a2"/><stop offset="0.812" stop-color="#5d0ea1"/><stop offset="0.844" stop-color="#510c9e"/><stop offset="0.875" stop-color="#450a9b"/><stop offset="0.906" stop-color="#390996"/><stop offset="0.938" stop-color="#2d0890"/><stop offset="0.969" stop-color="#1e078a"/><stop offset="1.000" stop-color="#0c0881"/></linearGradient></defs><g clip-path="url(#cTL)"><path d="M654.7 39.9L673.8 50.8 690.9 62.3 698.0 67.9 729.8 95.6 767.3 123.8 779.8 135.0 785.8 141.5M102.4 395.6L106.5 381.0 108.8 364.2 109.2 347.4 108.2 302.7 110.6 252.4 109.6 213.2 111.1 190.9 114.1 174.1 120.8 146.1 127.1 123.8 133.1 107.0 138.3 95.8 147.8 79.0 155.4 67.9 164.8 56.7 181.4 39.9M785.8 688.9L752.2 699.2 735.4 705.1 718.6 711.9 697.8 722.1M142.0 722.1L116.9 688.5 102.4 667.5M565.3 39.9L595.3 54.2 623.4 69.0 651.4 86.4 668.2 99.0 696.6 123.8 713.0 139.9 725.9 151.7 736.5 162.9 750.6 179.7 767.8 202.1 779.2 218.8 785.8 229.9M785.8 615.7L773.1 627.0 758.3 638.2 729.8 657.3 661.6 705.3 636.7 722.1M232.4 722.1L214.4 718.8 208.8 717.1 203.2 714.2 197.6 709.9 186.4 699.6 175.2 687.6 147.2 655.7 137.9 643.8 134.2 638.2 128.4 627.0 121.7 610.3 114.9 587.9 110.6 571.1 108.6 559.9 107.5 548.8 107.6 509.6 108.7 481.7 110.0 470.5 112.1 459.3 117.3 442.5 130.6 409.0 135.8 392.2 138.3 381.0 139.5 369.8 140.2 353.0 139.9 313.9 138.9 285.9 140.7 230.0 141.6 218.8 142.7 213.2 148.5 190.9 156.8 162.9 163.0 146.1 176.8 118.2 188.8 95.8 200.2 79.0 209.8 67.9 225.6 52.9 242.2 39.9M399.1 39.9L421.7 43.0 449.7 48.7 480.9 56.7 511.3 65.6 572.9 86.5 606.5 98.9 629.0 109.2 645.8 119.0 662.6 131.6 679.7 146.1 691.5 157.3 696.4 162.9 700.4 168.5 733.6 224.4 743.0 241.2 748.0 252.4 752.1 263.6 758.5 285.9 763.0 308.3 766.3 330.7 768.7 364.2 770.5 381.0 781.3 436.9 783.7 453.7 784.5 464.9 784.0 487.2 781.2 509.6 776.1 532.0 772.6 543.2 768.2 554.3 762.6 565.5 757.8 573.2 752.2 580.8 745.5 587.9 718.6 612.8 692.2 638.2 634.6 687.6 623.4 694.1 612.1 699.7 563.4 722.1M323.2 722.1L315.3 720.0 304.1 715.4 287.3 705.2 253.6 681.8 248.0 678.8 231.2 672.0 220.0 666.0 192.0 645.3 184.4 638.2 174.8 627.0 166.4 615.9 158.4 602.5 152.2 587.9 149.1 576.7 147.4 565.5 146.6 554.3 146.7 520.8 146.2 498.4 146.7 481.7 147.9 470.5 162.5 409.0 165.5 392.2 167.4 375.4 168.8 358.6 169.2 341.9 166.8 285.9 167.4 258.0 169.5 235.6 175.1 202.1 178.7 185.3 182.4 174.1 187.7 162.9 197.6 147.1 206.6 129.4 213.7 118.2 225.6 103.4 242.8 84.6 248.7 79.0 262.6 67.9 281.7 54.9 298.5 46.7 309.7 42.7 320.5 39.9M308.7 79.0L315.3 77.2 320.9 76.4 326.5 76.1 337.7 76.5 399.3 84.8 410.5 86.9 421.7 89.8 466.5 103.0 505.7 113.7 516.9 115.6 550.5 119.2 567.3 121.7 589.7 126.1 606.5 131.0 617.8 135.3 629.0 140.8 640.2 147.6 652.9 157.3 662.6 166.8 668.7 174.1 679.4 189.5 686.4 202.1 694.4 218.8 701.1 235.6 706.5 252.4 710.2 269.2 712.1 285.9 716.3 364.2 717.9 381.0 721.9 397.8 734.0 436.9 737.6 453.7 738.5 470.5 738.0 481.7 736.6 492.8 734.5 504.0 730.3 520.8 726.5 532.0 721.5 543.2 711.4 559.9 674.2 610.3 668.2 617.0 657.0 626.4 645.8 633.1 634.6 638.6 606.5 656.4 589.7 664.0 550.5 677.1 528.1 683.1 511.3 685.6 494.5 684.8 455.3 677.8 444.1 676.7 421.7 678.1 371.3 678.4 337.7 681.0 320.9 679.9 309.7 677.4 298.5 673.3 243.1 649.4 236.8 645.9 226.4 638.2 220.0 632.9 208.4 621.4 200.4 610.3 190.8 593.5 185.9 582.3 184.2 576.7 182.1 565.5 180.9 548.8 180.1 509.6 180.9 498.4 182.7 487.2 194.6 436.9 197.1 420.1 198.8 403.4 199.6 386.6 199.4 375.4 195.6 313.9 191.5 280.3 190.5 258.0 191.1 246.8 192.5 235.6 201.7 185.3 208.0 168.5 214.1 157.3 225.6 142.6 231.2 136.6 242.4 127.8 256.8 118.2 276.1 101.5 292.9 88.0 298.5 84.2 308.7 79.0M301.0 118.2L309.7 114.8 320.9 112.9 332.1 113.4 343.3 115.3 355.5 118.2 371.3 123.1 416.1 140.5 432.9 146.3 444.1 149.5 455.3 151.4 505.7 156.4 522.5 156.3 561.7 153.4 578.5 154.2 589.7 156.2 600.9 159.2 612.1 163.3 622.8 168.5 629.0 172.2 640.2 180.7 645.8 186.5 653.5 196.5 662.6 211.3 668.6 224.4 672.4 235.6 675.8 252.4 676.6 263.6 676.5 274.8 675.3 291.5 673.6 330.7 671.4 358.6 671.1 369.8 671.5 381.0 672.8 392.2 676.3 409.0 694.0 470.5 696.5 487.2 696.7 498.4 695.6 509.6 692.8 520.8 688.5 532.0 674.8 559.9 665.1 576.7 657.0 588.9 648.5 599.1 641.8 604.7 629.0 611.3 600.9 622.7 584.1 627.9 567.3 631.1 550.5 631.8 500.1 631.1 488.9 629.9 449.7 623.0 432.9 621.7 421.7 621.9 410.5 622.9 393.7 626.0 376.9 630.6 354.5 637.9 343.3 640.7 332.1 642.5 320.9 643.1 309.7 642.5 298.5 641.0 287.3 638.4 270.4 632.5 259.2 627.2 250.4 621.4 243.7 615.9 236.8 607.8 231.2 598.0 215.4 559.9 212.1 548.8 209.4 532.0 209.2 515.2 211.5 498.4 216.3 481.7 230.3 442.5 233.9 425.7 234.8 414.6 234.6 403.4 233.4 392.2 222.8 336.3 219.3 308.3 213.3 274.8 211.7 258.0 212.5 241.2 214.9 230.0 224.8 202.1 229.2 185.3 233.6 174.1 236.8 168.3 240.7 162.9 245.7 157.3 258.7 146.1 287.3 125.8 301.0 118.2M302.0 146.1L309.7 143.7 315.3 143.0 320.9 142.9 332.1 144.9 343.3 149.3 354.5 156.0 393.7 182.1 427.3 200.8 444.1 213.4 449.7 216.6 455.3 218.8 460.9 220.2 472.1 221.1 477.7 220.8 488.9 218.6 505.7 212.5 533.7 197.1 544.9 192.5 550.5 190.8 561.7 188.4 572.9 187.5 578.5 187.7 589.7 189.3 595.8 190.9 606.5 195.1 617.8 201.8 623.4 206.3 629.0 211.8 634.6 218.6 641.5 230.0 643.9 235.6 645.5 241.2 646.4 246.8 646.8 258.0 645.8 271.0 641.5 291.5 634.6 314.5 629.0 328.7 615.1 358.6 610.6 369.8 608.2 381.0 608.3 386.6 610.8 397.8 615.4 409.0 634.6 444.3 653.1 481.7 657.0 492.3 658.5 498.4 659.6 509.6 659.2 515.2 656.5 526.4 651.4 539.9 645.8 551.5 640.2 560.3 634.6 567.1 629.0 572.7 624.1 576.7 612.1 583.7 601.5 587.9 595.3 589.6 584.1 591.2 567.3 590.4 539.3 585.7 511.3 578.9 488.9 571.4 455.3 557.2 444.1 554.1 432.9 553.4 427.3 553.8 416.1 555.9 404.9 559.4 393.7 564.1 382.5 569.9 376.9 573.6 354.5 591.2 343.0 599.1 332.1 604.9 320.9 608.9 315.3 610.0 309.7 610.3 304.1 609.7 292.9 606.9 286.9 604.7 276.1 598.6 270.1 593.5 264.8 587.1 259.2 578.3 253.6 567.6 247.5 554.3 243.2 543.2 240.4 532.0 239.7 526.4 239.8 515.2 241.9 504.0 248.0 488.4 254.5 476.1 267.9 453.7 270.8 448.1 273.0 442.5 274.5 436.9 276.2 425.7 276.1 409.0 273.5 392.2 270.6 381.0 253.6 341.7 242.7 313.9 241.0 308.3 239.9 302.7 235.2 258.0 234.7 246.8 235.4 241.2 237.3 235.6 250.9 207.7 259.2 186.8 264.8 176.9 271.3 168.5 281.7 158.5 292.9 150.6 302.0 146.1M311.3 174.1L315.3 173.5 320.9 174.2 326.5 176.2 332.1 179.1 337.7 182.8 347.6 190.9 353.5 196.5 360.1 203.5 368.0 213.2 375.3 224.4 381.0 235.6 387.8 252.4 397.0 280.3 408.0 302.7 412.5 313.9 413.3 319.5 413.3 325.1 408.4 358.6 404.9 376.0 399.3 394.3 393.7 407.4 388.1 416.1 382.5 421.4 376.9 425.1 371.3 427.1 365.7 427.0 360.1 422.5 349.5 403.4 345.7 397.8 340.8 392.2 334.4 386.6 320.9 378.5 315.3 374.0 309.7 367.6 304.1 356.6 292.9 329.5 287.1 313.9 281.9 297.1 277.1 285.9 273.4 274.8 271.7 263.6 270.0 246.8 271.0 235.6 274.3 224.4 281.7 206.5 286.8 196.5 290.5 190.9 294.9 185.3 300.8 179.7 304.1 177.3 309.7 174.4 311.3 174.1M566.4 235.6L572.9 234.4 578.5 234.9 584.1 237.2 589.7 241.3 593.8 246.8 595.3 250.2 596.2 252.4 597.0 258.0 596.7 263.6 595.2 269.2 589.7 277.3 584.1 281.0 578.5 281.5 572.9 278.0 556.7 258.0 553.8 252.4 553.4 246.8 556.1 242.3 561.7 237.9 566.4 235.6M321.2 464.9L326.5 462.9 332.1 461.8 337.7 462.5 340.8 464.9 342.9 470.5 343.8 481.7 349.0 498.4 349.6 504.0 349.2 509.6 347.9 515.2 343.3 524.7 338.2 532.0 333.0 537.6 326.5 542.7 320.9 545.4 315.3 546.8 309.7 546.9 304.1 545.4 300.2 543.2 298.5 541.9 292.9 535.6 288.8 526.4 287.6 520.8 287.5 515.2 288.5 509.6 290.3 504.0 292.9 498.1 298.5 488.7 309.7 473.8 315.3 468.4 321.2 464.9M562.6 487.2L567.3 485.5 572.9 484.4 578.5 484.7 584.1 486.8 589.7 491.0 595.6 498.4 597.8 504.0 598.8 509.6 598.3 515.2 596.2 520.8 591.8 526.4 584.1 532.2 578.5 534.4 572.9 535.7 567.3 536.2 556.1 535.1 544.9 532.0 539.3 529.1 535.1 526.4 530.0 520.8 528.2 515.2 531.0 509.6 536.6 504.0 544.9 497.2 551.9 492.8 562.6 487.2M307.8 235.6L309.7 233.9 315.3 232.2 320.9 234.1 322.5 235.6 326.2 241.2 328.8 252.4 328.5 258.0 326.2 263.6 320.9 267.0 315.3 267.0 309.7 263.9 304.1 256.2 302.7 252.4 302.2 246.8 304.1 240.2 307.8 235.6" fill="none" stroke="#000" stroke-width="2.3" stroke-linejoin="round" mask="url(#mTL)"/><text x="120.8" y="157.3" text-anchor="middle" font-size="31.5" fill="#000" transform="rotate(-75.4 120.8 146.1)">0.44</text><text x="729.8" y="106.7" text-anchor="middle" font-size="31.5" fill="#000" transform="rotate(38.8 729.8 95.6)">0.44</text><text x="151.8" y="190.9" text-anchor="middle" font-size="31.5" fill="#000" transform="rotate(-73.5 151.8 179.7)">0.46</text><text x="713.0" y="151.1" text-anchor="middle" font-size="31.5" fill="#000" transform="rotate(43.8 713.0 139.9)">0.46</text><text x="131.1" y="643.8" text-anchor="middle" font-size="31.5" fill="#000" transform="rotate(61.7 131.1 632.6)">0.46</text><text x="701.8" y="688.0" text-anchor="middle" font-size="31.5" fill="#000" transform="rotate(-35.2 701.8 676.8)">0.46</text><text x="197.6" y="158.2" text-anchor="middle" font-size="31.5" fill="#000" transform="rotate(-60.6 197.6 147.1)">0.48</text><text x="544.9" y="88.2" text-anchor="middle" font-size="31.5" fill="#000" transform="rotate(18.6 544.9 77.0)">0.48</text><text x="766.9" y="347.4" text-anchor="middle" font-size="31.5" fill="#000" transform="rotate(84.6 766.9 336.3)">0.48</text><text x="146.7" y="532.0" text-anchor="middle" font-size="31.5" fill="#000" transform="rotate(89.7 146.7 520.8)">0.48</text><text x="668.2" y="670.1" text-anchor="middle" font-size="31.5" fill="#000" transform="rotate(-39.9 668.2 658.9)">0.48</text><text x="256.8" y="129.4" text-anchor="middle" font-size="31.5" fill="#000" transform="rotate(-37.6 256.8 118.2)">0.5</text><text x="382.5" y="93.6" text-anchor="middle" font-size="31.5" fill="#000" transform="rotate(7.5 382.5 82.4)">0.5</text><text x="689.1" y="218.8" text-anchor="middle" font-size="31.5" fill="#000" transform="rotate(63.8 689.1 207.7)">0.5</text><text x="186.4" y="483.0" text-anchor="middle" font-size="31.5" fill="#000" transform="rotate(-76.6 186.4 471.8)">0.5</text><text x="393.7" y="689.2" text-anchor="middle" font-size="31.5" fill="#000" transform="rotate(-0.3 393.7 678.0)">0.5</text><text x="699.2" y="587.9" text-anchor="middle" font-size="31.5" fill="#000" transform="rotate(-53.9 699.2 576.7)">0.5</text><text x="224.8" y="213.2" text-anchor="middle" font-size="31.5" fill="#000" transform="rotate(-72.4 224.8 202.1)">0.52</text><text x="488.9" y="165.9" text-anchor="middle" font-size="31.5" fill="#000" transform="rotate(5.8 488.9 154.8)">0.52</text><text x="671.2" y="386.6" text-anchor="middle" font-size="31.5" fill="#000" transform="rotate(87.6 671.2 375.4)">0.52</text><text x="222.5" y="587.9" text-anchor="middle" font-size="31.5" fill="#000" transform="rotate(67.6 222.5 576.7)">0.52</text><text x="533.7" y="642.6" text-anchor="middle" font-size="31.5" fill="#000" transform="rotate(0.5 533.7 631.4)">0.52</text><text x="250.9" y="218.8" text-anchor="middle" font-size="31.5" fill="#000" transform="rotate(-66.3 250.9 207.7)">0.54</text><text x="393.7" y="193.3" text-anchor="middle" font-size="31.5" fill="#000" transform="rotate(31.3 393.7 182.1)">0.54</text><text x="636.6" y="319.5" text-anchor="middle" font-size="31.5" fill="#000" transform="rotate(-71.7 636.6 308.3)">0.54</text><text x="253.6" y="578.7" text-anchor="middle" font-size="31.5" fill="#000" transform="rotate(63.4 253.6 567.6)">0.54</text><text x="556.1" y="599.8" text-anchor="middle" font-size="31.5" fill="#000" transform="rotate(8.8 556.1 588.6)">0.54</text><text x="271.2" y="269.2" text-anchor="middle" font-size="31.5" fill="#000" transform="rotate(84.6 271.2 258.0)">0.56</text><text x="397.0" y="291.5" text-anchor="middle" font-size="31.5" fill="#000" transform="rotate(68.0 397.0 280.3)">0.56</text><text x="304.1" y="556.5" text-anchor="middle" font-size="31.5" fill="#000" transform="rotate(21.8 304.1 545.4)">0.56</text><text x="550.5" y="545.0" text-anchor="middle" font-size="31.5" fill="#000" transform="rotate(16.9 550.5 533.8)">0.56</text></g>
<rect x="105.2" y="42.7" width="677.8" height="676.6" fill="none" stroke="#262626" stroke-width="3.7"/>
<text x="108.0" y="765.3" text-anchor="middle">-60</text>
<text x="91.2" y="57.5" text-anchor="end">-60</text>
<text x="220.0" y="765.3" text-anchor="middle">-40</text>
<text x="91.2" y="169.3" text-anchor="end">-40</text>
<text x="332.1" y="765.3" text-anchor="middle">-20</text>
<text x="91.2" y="281.2" text-anchor="end">-20</text>
<text x="444.1" y="765.3" text-anchor="middle">0</text>
<text x="91.2" y="393.0" text-anchor="end">0</text>
<text x="556.1" y="765.3" text-anchor="middle">20</text>
<text x="91.2" y="504.8" text-anchor="end">20</text>
<text x="668.2" y="765.3" text-anchor="middle">40</text>
<text x="91.2" y="616.7" text-anchor="end">40</text>
<text x="780.2" y="765.3" text-anchor="middle">60</text>
<text x="91.2" y="728.5" text-anchor="end">60</text>
<path d="M108.0 719.3v-7M108.0 42.7v7M105.2 45.5h7M783.0 45.5h-7M220.0 719.3v-7M220.0 42.7v7M105.2 157.3h7M783.0 157.3h-7M332.1 719.3v-7M332.1 42.7v7M105.2 269.2h7M783.0 269.2h-7M444.1 719.3v-7M444.1 42.7v7M105.2 381.0h7M783.0 381.0h-7M556.1 719.3v-7M556.1 42.7v7M105.2 492.8h7M783.0 492.8h-7M668.2 719.3v-7M668.2 42.7v7M105.2 604.7h7M783.0 604.7h-7M780.2 719.3v-7M780.2 42.7v7M105.2 716.5h7M783.0 716.5h-7" stroke="#262626" stroke-width="3" fill="none"/>
<text x="444.1" y="811.7" text-anchor="middle" font-size="35.2">["/sky]</text>
<text transform="translate(28.5 381.0) rotate(-90)" text-anchor="middle" font-size="35.2">["/sky]</text>
<text x="439.6" y="28.6" text-anchor="middle" font-size="35.2" font-weight="bold" fill="#000">EE: Mean=0.51, Std=0.01, PV=0.15</text>
<rect x="820.0" y="41.4" width="42.6" height="677.6" fill="url(#gTL)" stroke="#262626" stroke-width="1.2"/>
<text x="874.3" y="658.5" font-size="28.8">0.44</text>
<text x="874.3" y="574.1" font-size="28.8">0.46</text>
<text x="874.3" y="489.8" font-size="28.8">0.48</text>
<text x="874.3" y="405.5" font-size="28.8">0.5</text>
<text x="874.3" y="321.1" font-size="28.8">0.52</text>
<text x="874.3" y="236.8" font-size="28.8">0.54</text>
<text x="874.3" y="152.5" font-size="28.8">0.56</text>
<text x="874.3" y="68.1" font-size="28.8">0.58</text>
<path d="M862.6 648.2h-7M862.6 563.8h-7M862.6 479.5h-7M862.6 395.2h-7M862.6 310.8h-7M862.6 226.5h-7M862.6 142.2h-7M862.6 57.8h-7" stroke="#262626" stroke-width="1.2" fill="none"/>
<text transform="translate(968.1 380.2) rotate(-90)" text-anchor="middle" font-size="28.8">EE in 0.1"</text>
<g clip-path="url(#cTR)"><path d="M1771.3 39.9L1795.7 56.7 1812.8 69.8M1143.5 722.1L1129.2 704.1M1725.1 39.9L1734.4 47.0 1756.1 62.3 1778.0 79.0 1791.0 90.2 1812.8 110.4M1129.2 79.5L1140.4 69.4 1162.8 50.6 1176.8 39.9M1812.8 675.2L1803.6 683.0 1790.4 692.3 1751.7 722.1M1181.9 722.1L1157.2 689.6 1146.4 677.4 1135.5 666.2 1129.2 658.0M1686.7 39.9L1695.1 46.2 1740.0 83.7 1759.9 101.4 1796.0 129.6 1807.2 140.1 1812.8 146.3M1129.2 140.6L1136.8 123.8 1140.4 116.9 1146.0 108.9 1152.6 101.4 1163.6 90.2 1182.8 73.5 1225.6 39.9M1812.8 610.8L1804.0 621.4 1784.8 640.3 1773.6 652.4 1756.0 677.4 1745.6 689.8 1734.4 700.9 1708.9 722.1M1229.4 722.1L1218.9 715.1 1202.0 699.5 1185.2 682.0 1176.3 671.8 1149.9 638.2 1139.4 621.4 1129.2 602.2M1636.7 39.9L1644.7 44.5 1661.9 56.7 1683.9 69.3 1695.1 77.0 1706.3 86.8 1723.1 105.7 1728.8 111.0 1738.7 118.2 1762.4 133.3 1773.6 141.7 1784.8 151.0 1790.4 157.5 1797.4 168.5 1812.8 201.5M1129.2 331.3L1134.3 241.2 1135.2 213.2 1137.2 202.1 1140.2 190.9 1146.9 168.5 1151.6 156.2 1157.0 146.1 1174.3 118.2 1182.4 107.0 1190.8 97.9 1218.9 76.8 1246.9 54.3 1258.1 47.0 1270.4 39.9M1129.2 396.6L1129.7 375.4 1129.2 350.4M1812.8 545.0L1809.7 554.3 1804.9 565.5 1795.5 582.3 1783.1 599.1 1756.8 629.8 1747.1 643.8 1734.4 664.9 1728.8 671.8 1701.9 699.7 1695.1 705.8 1685.6 710.9 1672.7 716.5 1662.3 722.1M1289.0 722.1L1280.5 718.2 1274.9 716.7 1258.1 713.8 1251.2 710.9 1243.9 705.3 1235.7 696.3 1233.0 694.1 1213.2 680.9 1202.0 672.5 1196.4 667.5 1190.5 660.6 1182.1 649.4 1178.7 643.8 1163.8 615.9 1146.0 586.4 1141.4 576.7 1139.5 571.1 1136.9 559.9 1129.2 511.0M1379.1 39.9L1420.6 41.9 1482.2 41.7 1515.8 42.5 1549.4 44.5 1571.9 46.5 1583.1 48.1 1594.3 50.7 1605.5 54.5 1616.7 59.8 1644.7 77.3 1650.3 79.6 1667.1 84.4 1678.3 89.2 1689.5 96.3 1695.1 101.0 1700.9 107.0 1711.9 121.4 1743.1 146.1 1755.0 157.3 1765.1 168.5 1773.6 181.4 1784.5 202.1 1806.3 246.8 1812.8 263.7M1812.8 467.0L1807.8 476.1 1793.7 526.4 1787.7 543.2 1782.7 554.3 1776.5 565.5 1765.5 582.3 1720.4 643.8 1700.7 665.4 1695.1 670.7 1686.8 677.4 1627.9 714.8 1622.3 717.8 1611.9 722.1M1353.6 722.1L1330.9 720.3 1319.7 717.9 1314.1 715.9 1291.7 705.7 1280.5 702.1 1263.7 698.1 1258.1 696.0 1252.5 692.2 1244.6 683.0 1235.7 674.7 1207.6 655.1 1202.0 650.4 1198.0 643.8 1191.3 621.4 1186.7 610.3 1183.9 604.7 1180.1 599.1 1167.7 582.3 1165.5 576.7 1162.8 568.0 1159.7 554.3 1154.8 526.4 1152.7 504.0 1152.0 470.5 1152.2 453.7 1154.5 409.0 1155.0 386.6 1154.6 375.4 1151.7 341.9 1151.2 325.1 1154.3 230.0 1155.1 218.8 1156.1 213.2 1163.0 190.9 1170.0 174.1 1192.1 135.0 1199.2 123.8 1203.6 118.2 1209.5 112.6 1230.1 97.2 1258.1 74.0 1266.6 67.9 1274.9 63.0 1291.7 55.7 1314.1 48.5 1342.1 42.1 1360.9 39.9M1537.1 722.1L1510.2 718.4 1487.8 717.0 1471.0 717.7 1436.8 722.1M1333.0 67.9L1342.1 66.4 1358.9 66.4 1372.3 67.9 1403.8 72.7 1415.0 73.7 1431.8 74.5 1459.8 74.1 1543.8 71.4 1560.7 71.5 1583.1 73.3 1599.9 77.2 1633.5 91.9 1644.7 95.6 1661.5 100.0 1672.7 104.6 1683.9 110.7 1695.1 119.3 1706.3 131.6 1726.1 151.7 1735.2 162.9 1738.7 168.5 1745.6 182.9 1760.2 207.7 1765.9 218.8 1772.3 235.6 1776.0 252.4 1785.3 285.9 1788.9 302.7 1791.4 319.5 1792.8 341.9 1792.3 358.6 1786.9 397.8 1786.0 414.6 1787.3 431.3 1788.5 436.9 1793.2 448.1 1794.8 453.7 1794.3 459.3 1771.7 520.8 1762.2 543.2 1753.7 559.9 1738.1 587.9 1728.0 604.7 1720.5 615.9 1711.9 627.0 1701.8 638.2 1695.1 644.6 1683.9 653.9 1672.7 661.6 1661.5 668.3 1633.5 683.2 1622.3 688.4 1611.1 692.7 1599.9 695.5 1588.7 696.5 1577.5 696.4 1560.7 694.5 1504.6 683.3 1493.4 681.6 1482.2 680.9 1471.0 681.5 1465.4 682.4 1431.8 689.8 1415.0 692.5 1400.5 694.1 1375.7 695.6 1347.7 696.5 1330.9 695.6 1319.7 693.7 1302.9 689.1 1274.9 680.2 1269.3 677.8 1263.7 674.5 1252.5 665.3 1235.7 649.4 1225.5 638.2 1221.8 632.6 1214.0 615.9 1206.6 604.7 1200.5 593.5 1190.8 577.6 1187.1 565.5 1178.9 532.0 1177.2 520.8 1176.6 509.6 1177.0 492.8 1180.7 453.7 1180.9 392.2 1180.5 381.0 1179.3 369.8 1173.4 330.7 1172.7 313.9 1174.5 285.9 1174.7 258.0 1175.4 241.2 1177.5 224.4 1181.3 207.7 1188.4 185.3 1192.9 174.1 1199.3 162.9 1213.2 141.2 1218.9 134.0 1224.5 128.2 1236.1 118.2 1252.5 105.7 1263.7 97.9 1274.9 91.2 1308.5 75.9 1319.7 71.7 1333.0 67.9M1323.9 95.8L1336.5 93.0 1342.1 92.5 1353.3 92.9 1368.8 95.8 1392.6 102.7 1409.4 106.8 1426.2 109.3 1443.0 110.3 1459.8 109.8 1499.0 107.1 1515.8 105.0 1549.4 99.1 1560.7 97.7 1577.5 97.4 1594.3 99.5 1650.3 113.7 1672.7 121.4 1683.9 126.8 1695.3 135.0 1713.7 157.3 1721.6 168.5 1727.7 179.7 1735.2 202.1 1747.7 230.0 1751.6 241.2 1752.6 246.8 1753.8 263.6 1753.3 291.5 1754.2 313.9 1754.0 325.1 1752.6 341.9 1747.6 375.4 1746.9 386.6 1747.1 397.8 1748.6 409.0 1751.4 420.1 1755.3 431.3 1764.8 453.7 1765.6 459.3 1765.1 464.9 1762.4 476.1 1743.9 532.0 1716.9 593.5 1706.9 610.3 1697.8 621.4 1685.6 632.6 1672.7 641.7 1655.9 650.9 1644.7 655.8 1633.5 659.7 1622.3 662.8 1611.1 664.9 1599.9 666.2 1588.7 666.5 1571.9 665.4 1549.4 661.8 1543.8 660.4 1515.8 647.7 1504.6 643.7 1493.4 641.1 1487.8 640.5 1476.6 640.8 1471.0 641.8 1443.0 649.8 1403.8 662.0 1375.7 669.1 1364.5 671.3 1353.3 672.8 1336.5 673.1 1319.7 670.4 1304.1 666.2 1280.5 658.1 1269.3 652.9 1258.1 644.4 1241.3 627.0 1235.7 620.0 1224.5 603.7 1218.3 593.5 1215.6 587.9 1209.7 571.1 1200.3 532.0 1198.1 515.2 1198.3 504.0 1199.9 492.8 1207.2 464.9 1209.3 453.7 1210.8 414.6 1209.6 375.4 1208.5 364.2 1204.9 347.4 1196.7 319.5 1196.1 313.9 1197.3 297.1 1195.3 263.6 1195.2 246.8 1198.9 218.8 1201.4 207.7 1206.8 190.9 1211.2 179.7 1216.5 168.5 1224.5 155.6 1238.3 140.6 1252.5 128.3 1263.7 120.9 1269.3 117.9 1280.5 113.0 1297.3 106.9 1314.1 99.2 1323.9 95.8M1317.4 118.2L1325.3 116.1 1336.5 114.6 1347.7 115.2 1359.5 118.2 1370.1 122.7 1405.6 140.6 1434.4 157.3 1448.6 167.3 1454.2 170.2 1459.8 171.9 1465.4 172.3 1471.0 171.1 1476.6 168.1 1498.7 151.7 1508.0 146.1 1518.4 140.6 1543.8 128.4 1549.4 126.0 1560.7 122.4 1566.3 121.2 1577.5 119.8 1594.3 120.2 1622.3 124.1 1639.1 127.9 1672.7 137.5 1679.8 140.6 1687.8 146.1 1693.3 151.7 1702.0 162.9 1705.5 168.5 1710.3 179.7 1714.7 196.5 1724.1 224.4 1730.0 246.8 1731.0 252.4 1731.2 258.0 1729.7 269.2 1722.8 291.5 1719.9 319.5 1717.5 330.9 1713.6 341.9 1710.8 347.4 1706.3 354.8 1695.8 369.8 1692.8 375.4 1691.1 381.0 1691.5 386.6 1695.4 397.8 1714.2 436.9 1726.8 464.9 1730.1 476.1 1730.9 481.7 1731.2 492.8 1729.5 509.6 1726.1 526.4 1722.4 537.6 1713.5 559.9 1708.5 576.7 1704.3 587.9 1698.7 599.1 1695.0 604.7 1689.5 611.4 1683.9 616.8 1678.3 621.1 1667.1 627.8 1655.9 633.4 1644.7 637.8 1633.5 640.9 1622.3 642.5 1616.7 642.7 1599.9 641.9 1588.7 640.8 1583.1 639.6 1571.9 636.1 1563.9 632.6 1555.0 627.8 1528.9 610.3 1510.2 595.7 1499.0 588.6 1487.8 584.2 1482.2 583.2 1476.6 583.1 1471.0 584.0 1465.4 586.1 1459.8 589.2 1446.3 599.1 1420.6 614.8 1403.8 628.7 1398.2 632.7 1387.0 639.2 1370.1 646.2 1358.9 649.2 1347.7 650.8 1336.5 650.8 1319.7 647.9 1302.9 642.7 1286.1 638.7 1274.9 635.0 1269.3 632.2 1263.7 628.2 1252.5 617.8 1245.9 610.3 1237.6 599.1 1230.5 587.9 1227.8 582.3 1226.0 576.7 1216.6 532.0 1215.2 520.8 1215.7 509.6 1216.8 504.0 1220.5 492.8 1228.5 476.1 1232.9 464.9 1241.3 436.7 1256.2 392.2 1258.5 381.0 1258.4 375.4 1257.3 369.8 1253.4 358.6 1235.2 319.5 1224.5 298.6 1218.2 280.3 1214.7 263.6 1213.3 246.8 1213.6 235.6 1215.8 218.8 1219.6 202.1 1228.2 179.7 1231.1 174.1 1235.7 167.1 1241.3 160.2 1249.3 151.7 1255.3 146.1 1262.5 140.6 1274.9 133.5 1286.1 129.0 1317.4 118.2M1317.4 135.0L1325.3 133.4 1336.5 132.7 1342.1 133.2 1353.3 136.2 1362.8 140.6 1372.2 146.1 1379.4 151.7 1385.2 157.3 1389.9 162.9 1396.9 174.1 1402.3 185.3 1409.4 203.0 1417.2 218.8 1421.3 230.0 1424.3 241.2 1426.4 258.0 1425.7 274.8 1423.6 285.9 1416.7 308.3 1412.2 319.5 1408.7 325.1 1395.0 341.9 1381.3 357.0 1370.1 367.5 1352.5 381.0 1352.7 386.6 1364.5 394.1 1375.7 402.8 1387.0 412.8 1398.2 425.0 1411.5 442.5 1419.1 453.7 1425.8 464.9 1428.3 470.5 1431.8 481.7 1433.4 492.8 1432.2 504.0 1429.0 520.8 1425.7 532.0 1423.4 537.6 1409.4 568.1 1404.3 587.9 1402.1 593.5 1398.4 599.1 1387.0 610.8 1380.8 615.9 1370.1 622.8 1358.9 627.8 1353.3 629.4 1342.1 631.0 1330.9 630.8 1325.3 630.0 1280.5 619.2 1274.9 617.0 1269.3 613.9 1263.7 609.7 1258.5 604.7 1252.5 597.3 1246.1 587.9 1243.2 582.3 1241.0 576.7 1235.9 548.8 1231.8 532.0 1230.6 520.8 1230.9 515.2 1232.2 509.6 1235.7 501.1 1240.3 492.8 1248.2 481.7 1251.2 476.1 1258.1 460.2 1263.7 451.7 1274.9 439.7 1302.9 412.7 1336.9 386.6 1339.1 381.0 1336.5 379.2 1334.2 375.4 1330.9 373.1 1328.1 369.8 1315.3 358.6 1274.9 325.1 1263.7 314.1 1258.1 307.7 1246.9 292.0 1237.2 274.8 1234.8 269.2 1231.3 258.0 1229.6 246.8 1230.0 235.6 1231.0 230.0 1237.9 207.7 1242.9 185.3 1245.0 179.7 1248.0 174.1 1252.3 168.5 1263.7 157.8 1269.3 153.5 1274.9 150.0 1291.7 142.9 1317.4 135.0M1575.4 140.6L1583.1 139.1 1594.3 138.4 1605.5 138.7 1616.7 139.9 1627.9 141.9 1667.1 151.4 1672.7 153.7 1678.3 157.1 1683.9 162.1 1689.5 168.5 1692.3 174.1 1694.0 179.7 1696.5 196.5 1697.8 202.1 1703.6 213.2 1705.7 218.8 1708.0 230.0 1709.4 246.8 1711.1 258.0 1711.1 263.6 1710.2 269.2 1693.3 313.9 1689.5 322.1 1687.4 325.1 1681.2 330.7 1672.7 336.1 1633.5 356.6 1622.3 361.4 1611.1 364.2 1605.5 364.7 1599.9 363.8 1588.7 359.9 1583.1 357.3 1571.9 350.8 1555.0 338.1 1538.2 321.1 1521.4 300.3 1516.4 291.5 1513.9 285.9 1510.9 274.8 1509.9 263.6 1511.9 246.8 1519.6 207.7 1522.7 196.5 1527.0 185.3 1529.7 179.7 1536.4 168.5 1545.1 157.3 1549.4 153.0 1555.0 148.9 1560.7 145.7 1566.3 143.4 1575.4 140.6M1597.5 397.8L1605.5 396.3 1611.1 396.9 1622.3 400.0 1633.5 405.6 1644.7 412.4 1655.9 419.9 1667.1 428.4 1672.7 434.5 1685.3 453.7 1702.3 476.1 1708.3 487.2 1711.4 498.4 1712.1 509.6 1711.7 515.2 1709.8 526.4 1706.3 537.6 1699.9 554.3 1696.4 571.1 1693.0 582.3 1687.8 593.5 1684.1 599.1 1678.3 605.4 1672.7 609.7 1667.1 612.8 1655.9 617.7 1644.7 621.7 1627.9 625.4 1611.1 626.2 1605.5 625.7 1594.3 622.8 1583.1 617.4 1562.2 604.7 1554.3 599.1 1549.1 593.5 1545.5 587.9 1534.9 565.5 1518.7 543.2 1511.8 532.0 1506.6 520.8 1505.5 515.2 1505.7 509.6 1507.9 498.4 1518.8 470.5 1524.3 459.3 1527.7 453.7 1535.8 442.5 1549.4 428.6 1571.9 410.4 1577.5 406.6 1588.7 400.7 1597.5 397.8M1315.0 151.7L1325.3 149.8 1330.9 149.5 1336.5 149.9 1342.1 150.9 1347.7 152.8 1353.3 155.6 1363.1 162.9 1368.3 168.5 1372.3 174.1 1378.4 185.3 1385.1 202.1 1388.5 213.2 1390.9 224.4 1391.9 235.6 1391.3 246.8 1388.4 258.0 1385.8 263.6 1378.3 274.8 1368.9 285.9 1362.6 297.1 1358.8 302.7 1353.3 308.4 1347.7 312.1 1342.1 314.2 1336.5 315.2 1330.9 315.2 1325.3 314.2 1319.7 312.5 1299.5 302.7 1286.1 299.6 1280.3 297.1 1274.9 292.9 1269.3 287.4 1263.7 280.8 1258.1 273.1 1252.5 263.7 1249.9 258.0 1247.9 252.4 1246.8 246.8 1247.0 241.2 1248.1 235.6 1250.3 230.0 1257.1 218.8 1258.1 214.9 1258.4 213.2 1257.7 196.5 1258.1 190.9 1259.3 185.3 1261.7 179.7 1266.4 174.1 1269.3 171.8 1280.5 164.8 1297.9 157.3 1315.0 151.7M1586.8 157.3L1594.3 155.6 1599.9 155.0 1611.1 155.4 1622.3 157.4 1655.9 166.5 1661.5 168.6 1667.1 171.7 1670.3 174.1 1675.3 179.7 1678.3 184.9 1684.5 202.1 1691.9 218.8 1693.4 224.4 1695.0 235.6 1695.8 246.8 1696.2 258.0 1695.8 263.6 1693.8 269.2 1690.5 274.8 1683.9 283.3 1678.3 288.9 1672.7 293.3 1661.5 300.1 1650.3 304.5 1644.7 306.0 1633.5 307.9 1627.9 308.3 1616.7 307.8 1611.1 307.0 1599.9 304.1 1588.7 299.6 1583.1 296.4 1576.3 291.5 1564.1 280.3 1559.5 274.8 1555.0 267.7 1550.9 258.0 1549.4 252.4 1547.3 241.2 1546.9 235.6 1547.2 224.4 1548.0 218.8 1550.6 207.7 1554.9 196.5 1562.8 179.7 1565.6 174.1 1569.5 168.5 1577.5 161.6 1586.8 157.3M1324.3 453.7L1330.9 453.1 1336.5 453.3 1342.1 454.2 1347.7 455.9 1353.3 458.7 1360.9 464.9 1364.5 469.2 1369.0 476.1 1377.9 492.8 1385.4 504.0 1388.1 509.6 1389.8 515.2 1390.6 520.8 1390.6 526.4 1389.3 537.6 1384.8 559.9 1380.5 576.7 1375.7 587.9 1371.9 593.5 1367.1 599.1 1358.9 606.2 1353.3 609.6 1347.7 611.9 1342.1 613.2 1336.5 613.8 1330.9 613.8 1319.7 612.0 1302.9 607.0 1286.1 603.0 1275.7 599.1 1269.3 594.6 1263.3 587.9 1259.7 582.3 1257.5 576.7 1256.1 571.1 1253.6 554.3 1248.7 537.6 1246.4 526.4 1246.3 520.8 1247.0 515.2 1248.4 509.6 1250.7 504.0 1269.3 474.6 1274.9 469.9 1280.5 467.0 1302.9 460.3 1314.1 456.1 1324.3 453.7M1602.3 453.7L1611.1 453.2 1622.3 454.8 1627.9 456.4 1639.1 461.0 1650.3 467.4 1663.3 476.1 1678.3 483.3 1683.9 487.3 1689.3 492.8 1692.9 498.4 1695.1 504.0 1696.1 509.6 1695.9 520.8 1693.7 532.0 1683.9 569.1 1679.5 582.3 1676.4 587.9 1671.7 593.5 1667.1 597.5 1661.5 601.1 1655.9 603.0 1644.7 605.6 1622.3 608.9 1611.1 608.8 1605.5 607.8 1599.9 605.6 1589.4 599.1 1582.1 593.5 1575.7 587.9 1570.3 582.3 1566.2 576.7 1563.0 571.1 1550.1 543.2 1547.9 532.0 1547.8 520.8 1550.5 504.0 1554.1 492.8 1556.7 487.2 1560.7 480.7 1566.3 473.7 1577.5 463.7 1583.1 460.1 1588.7 457.3 1594.3 455.3 1602.3 453.7M1321.3 168.5L1330.9 167.3 1336.5 168.1 1342.1 171.0 1346.2 174.1 1351.5 179.7 1359.3 190.9 1364.9 202.1 1368.7 213.2 1370.8 224.4 1371.1 230.0 1370.2 241.2 1369.2 246.8 1367.4 252.4 1364.8 258.0 1358.9 266.8 1347.7 280.4 1342.1 286.0 1336.5 288.5 1330.9 288.7 1325.3 287.6 1319.7 285.7 1294.2 274.8 1286.1 270.0 1280.5 265.5 1273.6 258.0 1269.3 250.9 1267.6 246.8 1266.2 241.2 1265.9 235.6 1266.6 230.0 1270.2 218.8 1273.1 202.1 1275.0 196.5 1278.3 190.9 1283.9 185.3 1291.7 180.6 1314.1 170.8 1321.3 168.5M1600.3 174.1L1605.5 173.5 1611.1 174.0 1616.7 175.2 1647.2 185.3 1658.0 190.9 1661.5 193.6 1667.1 199.6 1672.7 208.8 1676.6 218.8 1678.4 224.4 1680.3 235.6 1680.6 246.8 1679.4 252.4 1676.8 258.0 1672.4 263.6 1667.1 267.4 1661.5 269.9 1655.9 271.6 1633.5 278.2 1622.3 280.0 1616.7 280.1 1605.5 278.2 1599.9 276.1 1594.3 273.0 1588.7 268.7 1578.7 258.0 1574.5 252.4 1571.8 246.8 1570.6 241.2 1570.1 230.0 1571.9 217.8 1577.5 200.3 1584.6 185.3 1588.8 179.7 1594.3 176.4 1600.3 174.1M1309.8 481.7L1319.7 479.2 1325.3 478.4 1330.9 478.5 1336.5 479.7 1342.1 482.5 1347.7 487.0 1358.9 499.5 1366.3 509.6 1368.8 515.2 1369.8 520.8 1369.7 526.4 1368.8 532.0 1359.2 571.1 1353.5 582.3 1349.1 587.9 1342.7 593.5 1336.5 595.8 1330.9 596.0 1325.3 595.1 1314.1 591.7 1303.6 587.9 1291.7 582.8 1283.1 576.7 1278.7 571.1 1275.9 565.5 1263.7 530.4 1262.2 520.8 1262.6 515.2 1264.6 509.6 1269.3 502.3 1272.6 498.4 1280.5 491.8 1286.1 488.9 1309.8 481.7M1602.4 481.7L1611.1 480.3 1616.7 480.5 1622.3 481.4 1633.5 484.8 1665.0 498.4 1672.6 504.0 1676.7 509.6 1678.7 515.2 1678.9 520.8 1678.4 526.4 1672.7 549.4 1668.4 559.9 1665.2 565.5 1661.5 570.5 1655.9 574.9 1635.0 582.3 1627.9 583.9 1622.3 584.4 1616.7 584.2 1611.1 583.1 1605.5 580.7 1599.9 577.0 1594.3 572.0 1588.7 565.5 1581.4 554.3 1576.0 543.2 1573.2 532.0 1573.1 520.8 1575.2 509.6 1577.2 504.0 1580.1 498.4 1584.3 492.8 1588.7 488.6 1594.3 484.8 1602.4 481.7M1318.4 196.5L1325.3 195.2 1330.9 195.9 1336.5 199.5 1342.1 206.9 1347.7 219.2 1350.4 230.0 1351.0 235.6 1350.7 241.2 1347.7 247.3 1342.1 252.5 1336.5 255.3 1330.9 256.6 1325.3 256.4 1319.7 254.9 1314.0 252.4 1306.5 246.8 1301.6 241.2 1298.4 235.6 1296.3 230.0 1295.5 224.4 1295.9 218.8 1297.7 213.2 1301.3 207.7 1308.5 201.4 1318.4 196.5M1610.9 213.2L1616.7 210.4 1622.3 209.4 1627.9 209.7 1633.5 211.1 1639.1 213.4 1645.7 218.8 1648.9 224.4 1650.0 230.0 1648.7 235.6 1644.8 241.2 1639.1 245.8 1627.9 252.0 1622.3 253.7 1616.7 254.5 1611.1 254.2 1605.5 252.4 1600.3 246.8 1597.9 241.2 1597.0 235.6 1597.8 230.0 1599.9 224.4 1605.5 217.5 1610.9 213.2M1323.6 504.0L1331.9 504.0 1336.5 505.8 1341.8 509.6 1346.0 515.2 1347.8 520.8 1347.7 526.4 1346.3 532.0 1343.5 537.6 1342.1 539.8 1336.5 545.9 1330.9 549.3 1325.3 550.6 1319.7 550.7 1314.1 548.9 1308.5 544.5 1304.0 537.6 1302.3 532.0 1301.8 520.8 1304.1 515.2 1310.3 509.6 1319.7 505.1 1323.6 504.0M1605.2 509.6L1611.1 507.5 1616.7 507.6 1623.8 509.6 1633.3 515.2 1639.8 520.8 1642.8 526.4 1643.0 532.0 1640.7 537.6 1634.5 543.2 1627.9 545.7 1622.3 546.2 1616.7 545.2 1611.1 542.6 1605.4 537.6 1601.9 532.0 1599.8 526.4 1599.5 520.8 1600.9 515.2 1605.2 509.6" fill="none" stroke="#000" stroke-width="2.3" stroke-linejoin="round" mask="url(#mTR)"/><text x="1510.2" y="83.9" text-anchor="middle" font-size="31.5" fill="#000" transform="rotate(-2.0 1510.2 72.7)">0.56</text><text x="1431.8" y="121.0" text-anchor="middle" font-size="31.5" fill="#000" transform="rotate(4.3 1431.8 109.8)">0.58</text><text x="1405.6" y="151.7" text-anchor="middle" font-size="31.5" fill="#000" transform="rotate(28.1 1405.6 140.6)">0.6</text><text x="1176.3" y="90.2" text-anchor="middle" font-size="31.5" fill="#000" transform="rotate(-40.6 1176.3 79.0)">0.5</text><text x="1187.3" y="112.6" text-anchor="middle" font-size="31.5" fill="#000" transform="rotate(-45.9 1187.3 101.4)">0.52</text><text x="1195.5" y="140.6" text-anchor="middle" font-size="31.5" fill="#000" transform="rotate(-55.9 1195.5 129.4)">0.54</text><text x="1235.7" y="129.7" text-anchor="middle" font-size="31.5" fill="#000" transform="rotate(-39.5 1235.7 118.5)">0.56</text><text x="1263.7" y="132.1" text-anchor="middle" font-size="31.5" fill="#000" transform="rotate(-30.0 1263.7 120.9)">0.58</text><text x="1271.9" y="146.1" text-anchor="middle" font-size="31.5" fill="#000" transform="rotate(-27.8 1271.9 135.0)">0.6</text><text x="1239.2" y="213.2" text-anchor="middle" font-size="31.5" fill="#000" transform="rotate(-75.2 1239.2 202.1)">0.62</text><text x="1388.5" y="224.4" text-anchor="middle" font-size="31.5" fill="#000" transform="rotate(76.0 1388.5 213.2)">0.64</text><text x="1425.3" y="258.0" text-anchor="middle" font-size="31.5" fill="#000" transform="rotate(81.4 1425.3 246.8)">0.62</text><text x="1280.5" y="276.7" text-anchor="middle" font-size="31.5" fill="#000" transform="rotate(42.7 1280.5 265.5)">0.66</text><text x="1319.7" y="266.1" text-anchor="middle" font-size="31.5" fill="#000" transform="rotate(16.9 1319.7 254.9)">0.68</text><text x="1515.8" y="239.4" text-anchor="middle" font-size="31.5" fill="#000" transform="rotate(-78.8 1515.8 228.2)">0.62</text><text x="1667.1" y="182.8" text-anchor="middle" font-size="31.5" fill="#000" transform="rotate(36.0 1667.1 171.7)">0.64</text><text x="1711.9" y="196.5" text-anchor="middle" font-size="31.5" fill="#000" transform="rotate(71.8 1711.9 185.3)">0.6</text><text x="1733.1" y="207.7" text-anchor="middle" font-size="31.5" fill="#000" transform="rotate(69.8 1733.1 196.5)">0.58</text><text x="1709.4" y="258.0" text-anchor="middle" font-size="31.5" fill="#000" transform="rotate(85.1 1709.4 246.8)">0.62</text><text x="1611.1" y="290.7" text-anchor="middle" font-size="31.5" fill="#000" transform="rotate(9.9 1611.1 279.5)">0.66</text><text x="1776.0" y="263.6" text-anchor="middle" font-size="31.5" fill="#000" transform="rotate(75.8 1776.0 252.4)">0.56</text><text x="1762.4" y="114.6" text-anchor="middle" font-size="31.5" fill="#000" transform="rotate(38.7 1762.4 103.4)">0.5</text><text x="1751.2" y="137.0" text-anchor="middle" font-size="31.5" fill="#000" transform="rotate(33.2 1751.2 125.8)">0.52</text><text x="1734.4" y="150.3" text-anchor="middle" font-size="31.5" fill="#000" transform="rotate(38.7 1734.4 139.2)">0.54</text><text x="1152.7" y="515.2" text-anchor="middle" font-size="31.5" fill="#000" transform="rotate(86.5 1152.7 504.0)">0.54</text><text x="1178.0" y="492.8" text-anchor="middle" font-size="31.5" fill="#000" transform="rotate(-84.8 1178.0 481.7)">0.56</text><text x="1204.2" y="487.2" text-anchor="middle" font-size="31.5" fill="#000" transform="rotate(-75.9 1204.2 476.1)">0.58</text><text x="1223.1" y="498.4" text-anchor="middle" font-size="31.5" fill="#000" transform="rotate(-67.2 1223.1 487.2)">0.6</text><text x="1248.2" y="492.8" text-anchor="middle" font-size="31.5" fill="#000" transform="rotate(-60.8 1248.2 481.7)">0.62</text><text x="1377.9" y="504.0" text-anchor="middle" font-size="31.5" fill="#000" transform="rotate(60.3 1377.9 492.8)">0.64</text><text x="1426.2" y="541.7" text-anchor="middle" font-size="31.5" fill="#000" transform="rotate(-71.2 1426.2 530.6)">0.62</text><text x="1325.3" y="561.8" text-anchor="middle" font-size="31.5" fill="#000" transform="rotate(-5.8 1325.3 550.6)">0.68</text><text x="1278.7" y="582.3" text-anchor="middle" font-size="31.5" fill="#000" transform="rotate(55.0 1278.7 571.1)">0.66</text><text x="1515.8" y="489.3" text-anchor="middle" font-size="31.5" fill="#000" transform="rotate(-67.2 1515.8 478.1)">0.62</text><text x="1663.3" y="487.2" text-anchor="middle" font-size="31.5" fill="#000" transform="rotate(29.9 1663.3 476.1)">0.64</text><text x="1712.0" y="515.2" text-anchor="middle" font-size="31.5" fill="#000" transform="rotate(85.6 1712.0 504.0)">0.62</text><text x="1724.4" y="543.2" text-anchor="middle" font-size="31.5" fill="#000" transform="rotate(-72.4 1724.4 532.0)">0.6</text><text x="1734.3" y="565.5" text-anchor="middle" font-size="31.5" fill="#000" transform="rotate(-66.3 1734.3 554.3)">0.58</text><text x="1611.1" y="594.3" text-anchor="middle" font-size="31.5" fill="#000" transform="rotate(17.1 1611.1 583.1)">0.66</text><text x="1731.5" y="610.3" text-anchor="middle" font-size="31.5" fill="#000" transform="rotate(-58.2 1731.5 599.1)">0.56</text><text x="1710.6" y="666.2" text-anchor="middle" font-size="31.5" fill="#000" transform="rotate(-47.7 1710.6 655.0)">0.54</text><text x="1733.5" y="677.4" text-anchor="middle" font-size="31.5" fill="#000" transform="rotate(-53.3 1733.5 666.2)">0.52</text><text x="1756.0" y="688.5" text-anchor="middle" font-size="31.5" fill="#000" transform="rotate(-52.3 1756.0 677.4)">0.5</text><text x="1169.7" y="638.2" text-anchor="middle" font-size="31.5" fill="#000" transform="rotate(61.7 1169.7 627.0)">0.52</text><text x="1167.5" y="671.8" text-anchor="middle" font-size="31.5" fill="#000" transform="rotate(51.1 1167.5 660.6)">0.5</text><text x="1448.6" y="608.5" text-anchor="middle" font-size="31.5" fill="#000" transform="rotate(-33.2 1448.6 597.3)">0.6</text><text x="1426.2" y="666.3" text-anchor="middle" font-size="31.5" fill="#000" transform="rotate(-17.5 1426.2 655.1)">0.58</text><text x="1403.8" y="705.0" text-anchor="middle" font-size="31.5" fill="#000" transform="rotate(-5.7 1403.8 693.9)">0.56</text></g>
<rect x="1132.0" y="42.7" width="678.0" height="676.6" fill="none" stroke="#262626" stroke-width="3.7"/>
<text x="1134.8" y="765.3" text-anchor="middle">-60</text>
<text x="1118.0" y="57.5" text-anchor="end">-60</text>
<text x="1246.9" y="765.3" text-anchor="middle">-40</text>
<text x="1118.0" y="169.3" text-anchor="end">-40</text>
<text x="1358.9" y="765.3" text-anchor="middle">-20</text>
<text x="1118.0" y="281.2" text-anchor="end">-20</text>
<text x="1471.0" y="765.3" text-anchor="middle">0</text>
<text x="1118.0" y="393.0" text-anchor="end">0</text>
<text x="1583.1" y="765.3" text-anchor="middle">20</text>
<text x="1118.0" y="504.8" text-anchor="end">20</text>
<text x="1695.1" y="765.3" text-anchor="middle">40</text>
<text x="1118.0" y="616.7" text-anchor="end">40</text>
<text x="1807.2" y="765.3" text-anchor="middle">60</text>
<text x="1118.0" y="728.5" text-anchor="end">60</text>
<path d="M1134.8 719.3v-7M1134.8 42.7v7M1132.0 45.5h7M1810.0 45.5h-7M1246.9 719.3v-7M1246.9 42.7v7M1132.0 157.3h7M1810.0 157.3h-7M1358.9 719.3v-7M1358.9 42.7v7M1132.0 269.2h7M1810.0 269.2h-7M1471.0 719.3v-7M1471.0 42.7v7M1132.0 381.0h7M1810.0 381.0h-7M1583.1 719.3v-7M1583.1 42.7v7M1132.0 492.8h7M1810.0 492.8h-7M1695.1 719.3v-7M1695.1 42.7v7M1132.0 604.7h7M1810.0 604.7h-7M1807.2 719.3v-7M1807.2 42.7v7M1132.0 716.5h7M1810.0 716.5h-7" stroke="#262626" stroke-width="3" fill="none"/>
<text x="1471.0" y="811.7" text-anchor="middle" font-size="35.2">["/sky]</text>
<text transform="translate(1055.3 381.0) rotate(-90)" text-anchor="middle" font-size="35.2">["/sky]</text>
<text x="1466.5" y="28.6" text-anchor="middle" font-size="35.2" font-weight="bold" fill="#000">EE: Mean=0.60, Std=0.01, PV=0.17</text>
<rect x="1847.0" y="41.0" width="42.7" height="678.0" fill="url(#gTR)" stroke="#262626" stroke-width="1.2"/>
<text x="1901.4" y="729.3" font-size="28.8">0.45</text>
<text x="1901.4" y="590.5" font-size="28.8">0.5</text>
<text x="1901.4" y="451.7" font-size="28.8">0.55</text>
<text x="1901.4" y="312.8" font-size="28.8">0.6</text>
<text x="1901.4" y="174.0" font-size="28.8">0.65</text>
<path d="M1889.7 719.0h-7M1889.7 580.2h-7M1889.7 441.4h-7M1889.7 302.5h-7M1889.7 163.7h-7" stroke="#262626" stroke-width="1.2" fill="none"/>
<text transform="translate(1995.2 380.0) rotate(-90)" text-anchor="middle" font-size="28.8">EE in 0.1"</text>
<g clip-path="url(#cBL)"><path d="M102.4 940.6L107.6 925.9 109.8 914.8 111.0 903.6 111.5 881.2M785.8 1467.4L737.2 1507.4 722.6 1518.6 707.4 1529.2 696.2 1536.2 679.4 1545.5 641.6 1563.3M144.8 1563.3L141.6 1562.3 136.0 1559.3 130.4 1553.9 119.2 1537.3 102.4 1506.8M678.0 881.2L746.6 897.3 785.8 907.7M785.8 1183.3L772.1 1216.7 770.6 1222.2 769.6 1233.4 770.3 1244.6 772.3 1255.8 780.4 1283.8 781.6 1289.3 784.0 1306.1 785.8 1326.0M785.8 1354.4L784.6 1362.0 782.9 1367.6 780.4 1373.2 772.5 1384.4 762.9 1395.6 741.9 1417.9 692.1 1468.2 673.8 1484.0 662.6 1491.3 640.2 1502.6 629.0 1507.4 612.1 1513.6 595.3 1518.8 556.1 1527.6 539.3 1532.4 511.3 1541.5 472.1 1556.0 460.9 1558.4 418.6 1563.3M309.5 1563.3L298.5 1557.4 270.4 1535.5 261.9 1529.8 225.6 1512.5 207.7 1501.8 192.0 1489.4 158.1 1457.1 148.1 1445.9 144.3 1440.3 141.2 1434.7 136.5 1423.5 133.1 1412.3 130.9 1401.2 129.4 1390.0 128.2 1373.2 127.4 1334.1 130.2 1289.3 130.3 1255.8 128.3 1216.7 123.1 1166.3 122.6 1149.6 123.6 1138.4 126.3 1121.6 129.7 1104.8 132.6 1093.7 136.4 1082.5 143.9 1065.7 150.0 1054.5 158.4 1041.1 164.9 1032.2 186.4 1006.2 200.7 987.4 208.8 977.8 215.9 970.7 235.5 953.9 241.1 948.3 247.7 937.1 254.8 920.3 259.2 911.6 270.4 893.5 279.2 881.2M502.8 892.4L511.3 891.1 516.9 891.1 522.5 891.7 533.7 894.4 544.9 898.6 572.9 911.7 595.3 919.4 606.5 924.1 619.8 931.5 640.2 948.7 647.6 953.9 660.5 959.5 701.8 973.6 718.6 980.9 730.9 987.4 739.1 993.0 745.4 998.6 752.2 1006.9 757.1 1015.4 759.2 1021.0 761.0 1032.2 760.7 1043.3 757.9 1060.1 753.7 1076.9 741.0 1120.8 732.5 1155.2 718.6 1190.0 713.5 1205.5 710.5 1233.4 702.9 1328.5 700.0 1345.2 694.2 1367.6 687.2 1384.4 680.7 1395.6 672.3 1406.8 661.5 1417.9 647.9 1429.1 629.0 1442.0 612.1 1451.2 595.3 1458.8 584.1 1462.8 572.9 1465.8 516.9 1475.8 500.1 1477.1 466.5 1477.6 448.2 1479.4 444.1 1480.4 432.9 1484.6 388.1 1504.8 376.9 1508.5 360.1 1512.1 348.9 1513.5 337.7 1513.9 326.5 1512.8 315.3 1510.1 304.1 1505.3 281.7 1493.3 259.2 1483.6 248.0 1478.1 232.9 1468.2 219.2 1457.1 208.8 1446.8 203.1 1440.3 194.7 1429.1 187.9 1417.9 180.2 1401.2 176.7 1390.0 174.4 1378.8 172.6 1362.0 171.5 1339.7 171.6 1328.5 173.6 1306.1 177.3 1283.8 186.4 1238.9 192.0 1216.8 195.4 1205.5 203.2 1186.0 218.4 1155.2 222.7 1144.0 225.8 1127.2 229.0 1088.1 231.0 1076.9 234.0 1065.7 240.5 1048.9 246.0 1037.8 256.6 1021.0 264.8 1011.5 276.1 1001.4 292.9 988.1 340.9 953.9 360.1 934.7 365.7 929.6 371.3 925.6 376.9 922.9 388.1 920.4 421.7 918.6 438.5 915.4 455.3 909.9 488.9 896.3 502.8 892.4M490.4 953.9L500.1 950.5 505.7 949.3 511.3 948.7 516.9 949.1 522.5 950.2 556.1 961.5 589.7 974.9 600.9 980.2 612.1 986.3 641.5 1004.2 657.0 1014.7 664.2 1021.0 668.2 1025.7 672.4 1032.2 675.1 1037.8 677.3 1043.3 680.5 1054.5 686.8 1088.1 687.5 1099.2 686.8 1116.0 685.5 1127.2 681.8 1149.6 673.2 1188.7 669.1 1211.1 664.9 1239.0 661.5 1278.2 659.5 1294.9 652.7 1334.1 648.3 1350.8 645.8 1356.6 637.8 1367.6 629.0 1376.8 614.1 1390.0 600.9 1400.4 591.6 1406.8 581.3 1412.3 572.9 1415.4 556.1 1418.7 511.3 1423.0 444.1 1435.7 427.3 1440.3 399.3 1452.7 388.1 1457.0 371.3 1462.1 354.5 1465.7 337.7 1467.4 326.5 1467.0 309.7 1463.9 292.9 1458.2 276.1 1450.4 259.3 1440.3 245.2 1429.1 239.5 1423.5 234.9 1417.9 231.1 1412.3 224.9 1401.2 219.8 1390.0 215.8 1378.8 211.5 1362.0 210.7 1356.4 210.3 1345.2 211.8 1328.5 214.9 1311.7 219.5 1294.9 224.0 1283.8 227.1 1278.2 234.6 1267.0 256.8 1239.0 272.9 1216.7 282.8 1199.9 288.1 1188.7 292.9 1176.6 297.5 1160.8 299.5 1149.6 299.1 1099.2 300.2 1088.1 304.1 1074.2 308.3 1065.7 312.1 1060.1 321.8 1048.9 337.7 1035.3 360.1 1019.8 376.4 1009.8 388.1 1003.6 432.9 986.0 444.1 980.9 472.1 963.2 483.3 957.1 490.4 953.9M508.8 1009.8L516.9 1008.7 528.1 1008.9 535.3 1009.8 544.9 1011.8 561.7 1017.8 579.4 1026.6 587.9 1032.2 595.3 1038.0 601.4 1043.3 612.1 1054.4 617.8 1061.3 623.4 1069.5 629.9 1082.5 633.0 1093.7 634.4 1110.4 634.1 1127.2 632.2 1155.2 622.7 1211.1 620.6 1227.8 620.9 1267.0 620.3 1278.2 618.0 1289.3 611.4 1306.1 606.5 1315.7 600.9 1324.5 593.6 1334.1 584.1 1344.3 576.8 1350.8 567.3 1357.7 560.1 1362.0 548.0 1367.6 533.7 1372.5 511.3 1378.7 476.7 1390.0 460.9 1394.2 438.5 1399.0 421.7 1403.3 354.5 1423.6 343.3 1425.7 332.1 1426.5 320.9 1425.9 315.3 1424.8 309.7 1422.8 304.1 1419.8 298.5 1415.9 288.6 1406.8 275.6 1390.0 268.4 1378.8 263.8 1367.6 261.2 1356.4 260.3 1345.3 261.4 1334.1 262.7 1328.5 266.9 1317.3 273.1 1306.1 285.6 1289.3 312.4 1255.8 323.0 1239.0 331.6 1222.2 334.0 1216.7 337.5 1205.5 341.8 1188.7 344.1 1177.5 346.9 1155.2 348.9 1144.9 354.5 1131.4 359.8 1121.6 363.6 1116.0 368.3 1110.4 374.3 1104.8 388.1 1095.9 404.9 1087.6 413.4 1082.5 434.4 1065.7 472.9 1032.2 488.9 1019.5 494.5 1015.4 500.1 1012.2 508.8 1009.8M440.6 1138.4L444.1 1137.3 449.7 1136.4 455.3 1136.4 466.5 1138.2 472.1 1140.0 500.1 1152.2 516.9 1160.4 533.7 1167.4 539.3 1170.7 544.9 1175.1 550.5 1180.5 556.1 1187.8 561.7 1198.2 564.3 1205.5 566.5 1216.7 567.6 1227.8 567.9 1255.8 567.0 1267.0 565.8 1272.6 563.9 1278.2 560.7 1283.8 556.3 1289.3 550.9 1294.9 523.4 1317.3 514.7 1322.9 475.9 1345.2 465.1 1350.8 451.7 1356.4 444.1 1358.6 432.9 1360.5 376.9 1366.7 365.7 1367.3 348.9 1367.5 337.7 1366.7 332.1 1365.6 322.9 1362.0 317.3 1356.4 317.0 1350.8 320.9 1344.9 332.1 1335.6 333.3 1334.1 337.7 1326.3 347.0 1306.1 360.1 1281.2 363.9 1272.6 382.5 1221.6 393.7 1194.5 404.9 1170.1 410.5 1160.6 416.1 1153.7 420.3 1149.6 428.8 1144.0 440.6 1138.4" fill="none" stroke="#000" stroke-width="2.3" stroke-linejoin="round" mask="url(#mBL)"/><text x="449.7" y="923.1" text-anchor="middle" font-size="31.5" fill="#000" transform="rotate(-18.8 449.7 911.9)">0.1</text><text x="567.3" y="920.6" text-anchor="middle" font-size="31.5" fill="#000" transform="rotate(23.1 567.3 909.4)">0.1</text><text x="186.4" y="1017.3" text-anchor="middle" font-size="31.5" fill="#000" transform="rotate(-51.5 186.4 1006.2)">0.08</text><text x="572.9" y="979.3" text-anchor="middle" font-size="31.5" fill="#000" transform="rotate(21.7 572.9 968.1)">0.12</text><text x="441.0" y="1071.3" text-anchor="middle" font-size="31.5" fill="#000" transform="rotate(-40.4 441.0 1060.1)">0.14</text><text x="584.1" y="1040.8" text-anchor="middle" font-size="31.5" fill="#000" transform="rotate(33.5 584.1 1029.6)">0.14</text><text x="222.7" y="1155.2" text-anchor="middle" font-size="31.5" fill="#000" transform="rotate(-73.5 222.7 1144.0)">0.1</text><text x="248.0" y="1261.3" text-anchor="middle" font-size="31.5" fill="#000" transform="rotate(-51.5 248.0 1250.1)">0.12</text><text x="365.7" y="1278.6" text-anchor="middle" font-size="31.5" fill="#000" transform="rotate(-68.1 365.7 1267.4)">0.16</text><text x="537.6" y="1317.3" text-anchor="middle" font-size="31.5" fill="#000" transform="rotate(-39.2 537.6 1306.1)">0.16</text><text x="261.2" y="1367.6" text-anchor="middle" font-size="31.5" fill="#000" transform="rotate(81.4 261.2 1356.4)">0.14</text><text x="560.1" y="1373.2" text-anchor="middle" font-size="31.5" fill="#000" transform="rotate(-28.5 560.1 1362.0)">0.14</text><text x="399.3" y="1463.9" text-anchor="middle" font-size="31.5" fill="#000" transform="rotate(-22.4 399.3 1452.7)">0.12</text><text x="250.5" y="1490.6" text-anchor="middle" font-size="31.5" fill="#000" transform="rotate(28.1 250.5 1479.4)">0.1</text><text x="584.1" y="1473.9" text-anchor="middle" font-size="31.5" fill="#000" transform="rotate(-17.2 584.1 1462.8)">0.1</text><text x="595.3" y="1530.0" text-anchor="middle" font-size="31.5" fill="#000" transform="rotate(-15.0 595.3 1518.8)">0.08</text><text x="128.0" y="1378.8" text-anchor="middle" font-size="31.5" fill="#000" transform="rotate(87.5 128.0 1367.6)">0.08</text><text x="661.5" y="1289.3" text-anchor="middle" font-size="31.5" fill="#000" transform="rotate(-84.1 661.5 1278.2)">0.12</text><text x="732.5" y="1166.3" text-anchor="middle" font-size="31.5" fill="#000" transform="rotate(-72.1 732.5 1155.2)">0.1</text></g>
<rect x="105.2" y="884.0" width="677.8" height="676.5" fill="none" stroke="#262626" stroke-width="3.7"/>
<text x="108.0" y="1606.5" text-anchor="middle">-60</text>
<text x="91.2" y="898.8" text-anchor="end">-60</text>
<text x="220.0" y="1606.5" text-anchor="middle">-40</text>
<text x="91.2" y="1010.6" text-anchor="end">-40</text>
<text x="332.1" y="1606.5" text-anchor="middle">-20</text>
<text x="91.2" y="1122.4" text-anchor="end">-20</text>
<text x="444.1" y="1606.5" text-anchor="middle">0</text>
<text x="91.2" y="1234.2" text-anchor="end">0</text>
<text x="556.1" y="1606.5" text-anchor="middle">20</text>
<text x="91.2" y="1346.1" text-anchor="end">20</text>
<text x="668.2" y="1606.5" text-anchor="middle">40</text>
<text x="91.2" y="1457.9" text-anchor="end">40</text>
<text x="780.2" y="1606.5" text-anchor="middle">60</text>
<text x="91.2" y="1569.7" text-anchor="end">60</text>
<path d="M108.0 1560.5v-7M108.0 884.0v7M105.2 886.8h7M783.0 886.8h-7M220.0 1560.5v-7M220.0 884.0v7M105.2 998.6h7M783.0 998.6h-7M332.1 1560.5v-7M332.1 884.0v7M105.2 1110.4h7M783.0 1110.4h-7M444.1 1560.5v-7M444.1 884.0v7M105.2 1222.2h7M783.0 1222.2h-7M556.1 1560.5v-7M556.1 884.0v7M105.2 1334.1h7M783.0 1334.1h-7M668.2 1560.5v-7M668.2 884.0v7M105.2 1445.9h7M783.0 1445.9h-7M780.2 1560.5v-7M780.2 884.0v7M105.2 1557.7h7M783.0 1557.7h-7" stroke="#262626" stroke-width="3" fill="none"/>
<text x="444.1" y="1652.9" text-anchor="middle" font-size="35.2">["/sky]</text>
<text transform="translate(28.5 1222.2) rotate(-90)" text-anchor="middle" font-size="35.2">["/sky]</text>
<text x="439.6" y="869.9" text-anchor="middle" font-size="35.2" font-weight="bold" fill="#000">SR: Mean=0.11, Std=0.01, PV=0.11</text>
<rect x="820.0" y="882.6" width="42.6" height="677.6" fill="url(#gBL)" stroke="#262626" stroke-width="1.2"/>
<text x="874.3" y="1557.8" font-size="28.8">0.06</text>
<text x="874.3" y="1442.7" font-size="28.8">0.08</text>
<text x="874.3" y="1327.6" font-size="28.8">0.1</text>
<text x="874.3" y="1212.4" font-size="28.8">0.12</text>
<text x="874.3" y="1097.3" font-size="28.8">0.14</text>
<text x="874.3" y="982.1" font-size="28.8">0.16</text>
<path d="M862.6 1547.5h-7M862.6 1432.4h-7M862.6 1317.3h-7M862.6 1202.1h-7M862.6 1087.0h-7M862.6 971.8h-7" stroke="#262626" stroke-width="1.2" fill="none"/>
<text transform="translate(968.1 1221.4) rotate(-90)" text-anchor="middle" font-size="28.8">Srehl ratio</text>
<g clip-path="url(#cBR)"><path d="M1788.6 881.2L1812.8 916.2M1129.2 896.7L1145.6 881.2M1812.8 1535.9L1804.1 1540.9 1779.2 1553.5 1755.7 1563.3M1149.1 1563.3L1140.4 1554.6 1129.2 1540.4M1723.5 881.2L1740.0 897.5 1754.1 914.8 1761.6 925.9 1779.2 955.3 1796.5 981.8 1799.6 987.4 1804.3 998.6 1812.8 1025.0M1129.2 977.1L1137.2 965.1 1150.0 948.3 1162.8 933.4 1175.4 920.3 1185.2 911.7 1196.4 903.1 1212.5 892.4 1231.2 881.2M1812.8 1394.5L1809.3 1423.5 1808.0 1429.1 1805.0 1434.7 1787.3 1451.5 1769.7 1473.8 1759.1 1485.0 1741.8 1501.8 1716.6 1524.2 1706.3 1531.7 1695.1 1538.8 1679.2 1546.5 1644.7 1558.1 1633.0 1563.3M1304.9 1563.3L1291.7 1561.6 1280.5 1559.2 1253.0 1552.1 1241.3 1548.4 1222.8 1540.9 1212.5 1535.3 1204.2 1529.8 1179.6 1511.3 1174.0 1506.1 1162.8 1493.5 1151.6 1479.0 1140.8 1462.7 1134.6 1451.5 1129.2 1438.6M1343.2 1563.3L1336.5 1561.6 1321.7 1563.3M1630.6 881.2L1661.5 895.5 1672.7 901.6 1691.0 914.8 1700.7 923.0 1709.4 931.5 1728.8 955.5 1740.0 971.8 1749.0 987.4 1763.7 1015.4 1777.6 1037.8 1783.6 1048.9 1791.3 1065.7 1799.4 1088.1 1805.3 1110.4 1809.5 1132.8 1811.9 1155.2 1812.4 1171.9 1811.5 1194.3 1808.6 1227.8 1807.2 1239.0 1802.2 1267.0 1798.6 1311.7 1796.4 1322.9 1794.8 1328.5 1781.4 1367.6 1776.4 1384.4 1772.3 1395.6 1766.4 1406.8 1749.8 1429.1 1740.3 1451.5 1734.4 1460.5 1728.8 1466.7 1711.9 1483.2 1700.7 1493.2 1683.9 1506.5 1667.1 1517.1 1644.7 1527.4 1605.5 1542.3 1577.5 1550.0 1566.3 1552.5 1555.0 1554.1 1549.4 1553.7 1543.8 1551.2 1538.2 1549.5 1532.6 1548.5 1471.0 1542.2 1448.6 1540.7 1431.8 1540.8 1415.0 1542.1 1370.1 1548.7 1336.5 1548.6 1308.5 1544.3 1297.3 1541.7 1286.1 1538.1 1254.3 1524.2 1246.9 1519.7 1238.8 1513.0 1224.5 1496.3 1205.5 1479.4 1195.7 1468.2 1183.6 1451.5 1176.5 1440.3 1170.4 1429.1 1165.9 1417.9 1163.1 1406.7 1161.3 1395.6 1159.7 1373.2 1159.7 1356.4 1163.4 1300.5 1162.2 1272.6 1161.6 1199.9 1159.6 1177.5 1151.5 1127.2 1148.6 1104.8 1147.2 1088.1 1147.4 1071.3 1148.9 1054.5 1152.0 1037.8 1155.1 1026.6 1159.6 1015.4 1165.7 1004.2 1173.5 993.0 1178.1 987.4 1189.2 976.2 1207.8 959.5 1213.2 953.8 1226.7 937.1 1231.9 931.5 1241.3 923.0 1251.8 914.8 1269.3 903.8 1286.1 896.4 1308.5 889.7 1336.5 883.3 1348.9 881.2M1534.4 909.2L1549.4 906.8 1566.3 906.0 1583.1 907.4 1594.3 909.6 1605.5 912.8 1622.3 920.0 1633.8 925.9 1655.9 939.9 1683.9 959.1 1706.3 977.4 1716.2 987.4 1723.1 997.0 1734.3 1015.4 1741.7 1026.6 1748.0 1037.8 1755.7 1054.5 1763.8 1076.9 1766.8 1088.1 1769.0 1099.2 1771.5 1121.6 1772.1 1149.6 1770.6 1166.3 1762.6 1211.1 1760.5 1227.8 1760.2 1239.0 1761.2 1255.8 1760.9 1283.8 1755.3 1356.4 1752.8 1373.2 1750.4 1384.4 1747.1 1395.6 1744.8 1401.2 1729.2 1434.7 1726.0 1440.3 1722.2 1445.9 1711.9 1456.1 1689.5 1473.7 1678.3 1481.1 1661.5 1491.0 1644.7 1499.1 1633.5 1503.2 1622.3 1506.4 1611.1 1508.7 1594.3 1511.2 1577.5 1512.4 1560.7 1512.6 1510.2 1509.7 1459.8 1502.4 1448.6 1501.8 1437.4 1502.0 1426.2 1503.3 1415.0 1505.6 1403.8 1508.9 1375.7 1518.4 1364.5 1521.5 1353.3 1523.8 1342.1 1524.8 1325.3 1524.6 1314.1 1523.2 1297.3 1519.9 1280.5 1514.8 1274.9 1512.3 1266.8 1507.4 1258.9 1501.8 1252.5 1496.4 1223.8 1462.7 1216.7 1451.5 1208.8 1434.7 1204.4 1423.5 1200.7 1412.3 1197.0 1395.6 1195.5 1384.4 1194.4 1367.6 1194.1 1317.3 1195.8 1283.8 1201.2 1239.0 1201.9 1227.8 1201.8 1216.7 1199.8 1194.3 1195.4 1166.3 1192.1 1149.6 1187.2 1132.8 1185.0 1121.6 1183.8 1110.4 1183.4 1099.2 1183.5 1076.9 1184.6 1065.7 1188.4 1048.9 1194.4 1032.2 1202.6 1015.4 1210.3 1004.2 1220.9 993.0 1228.1 987.4 1236.6 981.8 1241.3 977.9 1253.6 959.5 1258.1 953.6 1262.9 948.3 1269.3 942.8 1280.5 935.6 1297.3 928.5 1325.3 920.0 1336.5 917.9 1342.1 917.6 1353.3 918.1 1364.5 919.5 1403.8 927.6 1415.0 929.2 1431.8 930.2 1448.6 929.7 1465.4 927.7 1476.6 925.5 1521.4 912.5 1534.4 909.2M1546.1 953.9L1560.7 950.1 1571.9 948.7 1583.1 948.7 1594.3 950.2 1611.1 955.0 1655.9 973.0 1672.7 982.3 1688.5 993.0 1695.5 998.6 1700.7 1004.8 1720.9 1032.2 1725.7 1043.3 1731.2 1060.1 1735.5 1076.9 1737.6 1093.7 1737.7 1104.8 1735.3 1127.2 1731.0 1149.6 1726.6 1166.3 1714.8 1205.5 1712.0 1216.7 1711.2 1222.2 1711.3 1227.8 1714.4 1250.2 1716.8 1278.2 1724.3 1317.3 1728.8 1350.7 1729.1 1356.4 1728.6 1367.6 1726.2 1384.4 1720.6 1412.3 1717.5 1421.8 1711.9 1429.8 1701.3 1440.3 1687.0 1451.5 1672.7 1461.2 1659.7 1468.2 1644.7 1474.9 1633.5 1478.7 1616.7 1482.6 1599.9 1484.6 1583.1 1484.9 1560.7 1483.4 1538.2 1480.3 1521.4 1477.0 1510.4 1473.8 1482.2 1461.7 1471.0 1458.3 1459.8 1455.9 1448.6 1455.1 1443.0 1455.3 1431.8 1456.9 1415.0 1461.9 1403.8 1466.7 1381.9 1479.4 1370.1 1485.3 1358.9 1489.6 1347.7 1492.7 1330.9 1495.5 1314.1 1496.0 1302.9 1494.6 1297.3 1493.3 1286.1 1489.1 1274.9 1482.3 1263.7 1473.6 1258.1 1468.6 1246.9 1456.6 1239.2 1445.9 1233.5 1434.7 1227.7 1417.9 1225.6 1406.7 1223.5 1390.0 1222.1 1373.2 1222.1 1350.8 1223.7 1328.5 1227.1 1300.5 1230.1 1289.3 1242.2 1261.4 1246.2 1250.2 1248.9 1239.0 1249.5 1233.4 1248.9 1222.2 1247.5 1216.7 1232.6 1177.5 1218.0 1132.8 1213.4 1116.0 1210.8 1099.2 1210.4 1088.1 1210.9 1082.5 1214.0 1065.7 1232.5 1015.4 1235.3 1009.8 1241.3 1001.5 1257.3 987.4 1274.9 969.2 1280.5 965.3 1291.7 960.0 1297.3 958.1 1308.5 955.5 1319.7 954.1 1330.9 954.0 1347.7 955.1 1358.9 957.0 1375.7 962.4 1387.0 967.6 1403.8 976.3 1415.0 980.7 1431.8 985.1 1443.0 986.3 1448.6 986.4 1465.4 984.5 1482.2 979.9 1499.0 973.3 1527.0 961.0 1546.1 953.9M1318.6 981.8L1330.9 981.7 1342.1 983.0 1347.7 984.3 1358.9 988.1 1370.1 994.1 1383.6 1004.2 1389.6 1009.8 1403.8 1024.5 1436.8 1054.5 1447.5 1065.7 1450.4 1071.3 1450.4 1076.9 1446.4 1093.7 1446.0 1099.2 1447.1 1110.4 1446.1 1121.6 1443.1 1132.8 1440.2 1138.4 1437.4 1142.1 1429.8 1149.6 1403.8 1167.6 1375.7 1193.5 1364.5 1202.6 1353.3 1209.4 1347.7 1211.4 1342.1 1212.6 1336.5 1212.7 1330.9 1211.4 1325.3 1209.3 1319.7 1206.5 1286.1 1185.2 1276.1 1177.5 1270.3 1171.9 1263.7 1161.2 1246.9 1127.2 1240.8 1110.4 1237.5 1093.7 1237.3 1088.1 1238.4 1076.9 1242.9 1060.1 1247.8 1037.8 1252.5 1023.7 1257.2 1015.4 1262.2 1009.8 1269.3 1003.4 1275.4 998.6 1286.1 991.7 1294.9 987.4 1302.9 984.6 1308.5 983.3 1318.6 981.8M1581.5 981.8L1588.7 980.8 1599.9 980.7 1605.5 981.4 1616.7 984.3 1633.5 990.1 1644.7 994.9 1652.1 998.6 1660.4 1004.2 1666.4 1009.8 1671.4 1015.4 1680.1 1026.6 1690.5 1037.8 1695.1 1043.9 1698.1 1048.9 1707.7 1071.3 1710.9 1082.5 1711.5 1088.1 1711.2 1093.7 1708.6 1104.8 1698.8 1132.8 1693.4 1144.0 1682.9 1160.8 1672.7 1181.5 1667.1 1189.6 1641.4 1211.1 1636.8 1216.7 1638.0 1222.2 1650.3 1232.9 1655.9 1238.6 1667.1 1252.6 1672.7 1262.2 1678.3 1275.4 1692.2 1311.7 1695.4 1322.9 1698.7 1339.7 1702.1 1350.8 1703.2 1356.4 1703.6 1362.0 1703.3 1367.6 1701.0 1378.8 1693.3 1406.8 1691.2 1412.3 1688.1 1417.9 1683.9 1423.5 1678.5 1429.1 1672.1 1434.7 1661.5 1442.6 1655.9 1446.1 1645.3 1451.5 1639.1 1454.0 1627.9 1457.5 1611.1 1460.0 1599.9 1460.3 1588.7 1459.9 1577.5 1458.3 1566.3 1455.6 1554.1 1451.5 1541.1 1445.9 1530.2 1440.3 1512.2 1429.1 1504.6 1423.2 1499.9 1417.9 1496.2 1412.3 1491.0 1401.2 1484.4 1384.4 1481.9 1373.2 1481.8 1367.6 1482.4 1362.0 1484.1 1356.4 1486.6 1350.8 1488.2 1345.2 1488.9 1339.7 1488.1 1317.3 1489.0 1311.7 1490.6 1306.1 1495.6 1294.9 1508.3 1272.6 1512.9 1261.4 1529.1 1233.4 1531.2 1227.8 1532.3 1222.2 1532.3 1216.7 1531.3 1211.1 1529.0 1205.5 1525.6 1199.9 1510.2 1180.9 1499.4 1166.3 1492.4 1155.2 1490.0 1149.6 1489.1 1144.0 1490.2 1138.4 1493.6 1127.2 1495.3 1116.0 1495.3 1110.4 1494.6 1104.8 1493.0 1099.2 1490.2 1093.7 1481.6 1082.5 1479.1 1076.9 1479.0 1071.3 1481.6 1065.7 1485.6 1060.1 1499.4 1043.3 1526.2 1015.4 1538.1 1004.2 1549.4 995.6 1560.7 989.1 1571.9 984.4 1581.5 981.8M1335.2 1250.2L1336.5 1249.2 1342.1 1250.2 1347.7 1254.1 1358.9 1265.8 1384.2 1294.9 1403.8 1320.9 1409.4 1325.5 1415.0 1328.5 1431.8 1335.0 1437.7 1339.7 1438.1 1345.2 1435.5 1362.0 1433.5 1367.6 1430.7 1373.2 1420.6 1389.6 1415.3 1401.2 1409.0 1412.3 1400.7 1423.5 1390.1 1434.7 1377.1 1445.9 1370.1 1450.9 1359.2 1457.1 1353.3 1459.5 1342.1 1462.8 1330.9 1464.9 1319.7 1465.8 1314.1 1465.5 1302.9 1463.5 1297.3 1461.7 1287.1 1457.1 1280.5 1453.1 1270.7 1445.9 1264.6 1440.3 1255.1 1429.1 1251.7 1423.5 1249.9 1417.9 1248.8 1412.3 1246.6 1384.4 1246.3 1373.2 1246.7 1362.0 1248.3 1350.8 1252.5 1338.3 1258.1 1328.1 1268.8 1311.7 1273.0 1306.1 1280.5 1297.8 1297.0 1283.8 1325.3 1257.0 1330.9 1252.3 1335.2 1250.2M1309.1 1015.4L1319.7 1011.8 1325.3 1010.8 1330.9 1010.3 1336.5 1010.6 1342.1 1012.1 1347.7 1014.6 1353.3 1018.0 1362.7 1026.6 1371.2 1037.8 1375.7 1045.6 1379.8 1054.5 1382.8 1065.7 1383.5 1071.3 1383.1 1082.5 1380.8 1093.7 1378.8 1099.2 1376.0 1104.8 1364.5 1121.6 1358.9 1128.8 1355.0 1132.8 1347.7 1138.4 1342.1 1141.4 1336.5 1143.2 1330.9 1143.8 1325.3 1143.5 1319.7 1142.4 1309.8 1138.4 1302.9 1134.1 1280.5 1116.5 1274.2 1110.4 1269.3 1103.6 1265.2 1093.7 1263.8 1088.1 1262.7 1076.9 1264.2 1065.7 1269.3 1048.0 1274.9 1037.8 1280.5 1031.6 1286.1 1027.2 1291.7 1023.8 1309.1 1015.4M1588.3 1015.4L1594.3 1012.8 1599.9 1011.3 1605.5 1010.9 1611.1 1011.9 1616.7 1013.7 1627.9 1018.8 1639.1 1025.5 1650.3 1033.3 1667.1 1047.5 1673.3 1054.5 1679.3 1065.7 1683.7 1076.9 1685.2 1082.5 1685.8 1088.1 1685.1 1093.7 1681.0 1104.8 1678.3 1110.4 1672.7 1119.4 1667.1 1125.9 1655.9 1135.2 1644.7 1141.4 1633.5 1145.1 1622.3 1146.7 1611.1 1146.2 1599.9 1143.7 1594.3 1141.8 1583.1 1135.8 1577.5 1131.7 1565.9 1121.6 1560.5 1116.0 1556.2 1110.4 1550.2 1099.2 1547.0 1088.1 1546.1 1076.9 1547.6 1065.7 1551.4 1054.5 1557.6 1043.3 1566.3 1032.6 1577.5 1022.6 1588.3 1015.4M1589.7 1294.9L1599.9 1291.5 1611.1 1289.7 1616.7 1289.4 1627.9 1290.4 1633.5 1291.8 1639.1 1294.0 1644.7 1296.9 1650.3 1300.7 1655.9 1305.4 1662.0 1311.7 1667.1 1318.1 1670.2 1322.9 1673.1 1328.5 1678.3 1342.0 1681.4 1350.8 1682.5 1356.4 1682.1 1362.0 1680.8 1367.6 1678.3 1375.6 1672.7 1389.7 1666.4 1401.2 1657.7 1412.3 1651.9 1417.9 1644.7 1423.5 1634.6 1429.1 1622.3 1433.9 1611.1 1436.5 1605.5 1436.9 1599.9 1436.1 1594.3 1434.5 1583.1 1428.8 1576.0 1423.5 1570.3 1417.9 1565.8 1412.3 1559.1 1401.2 1554.4 1390.0 1546.3 1373.2 1543.1 1362.0 1542.7 1356.4 1543.4 1350.8 1545.1 1345.2 1551.0 1334.1 1560.7 1319.8 1566.3 1312.4 1572.3 1306.1 1579.4 1300.5 1589.7 1294.9M1308.4 1328.5L1319.7 1325.4 1325.3 1324.8 1330.9 1325.1 1336.5 1326.4 1342.1 1329.1 1348.5 1334.1 1353.3 1339.1 1358.0 1345.2 1364.2 1356.4 1367.9 1367.6 1369.5 1378.8 1369.0 1390.0 1366.4 1401.2 1364.2 1406.8 1358.9 1416.1 1352.8 1423.5 1345.5 1429.1 1336.5 1433.2 1330.9 1433.8 1325.3 1433.4 1319.7 1432.2 1311.5 1429.1 1303.1 1423.5 1297.3 1417.6 1285.7 1401.2 1280.5 1391.2 1278.3 1384.4 1275.8 1373.2 1274.9 1362.0 1275.7 1356.4 1278.6 1350.8 1283.2 1345.2 1291.7 1337.9 1297.3 1334.0 1308.4 1328.5M1321.3 1065.7L1325.3 1064.6 1331.8 1065.7 1336.5 1068.8 1342.1 1076.9 1343.1 1082.5 1342.3 1088.1 1336.5 1094.6 1330.9 1095.3 1325.3 1093.5 1319.4 1088.1 1315.8 1082.5 1314.2 1076.9 1315.4 1071.3 1319.7 1066.4 1321.3 1065.7M1609.0 1065.7L1611.1 1065.2 1616.7 1065.5 1622.3 1067.6 1627.9 1071.3 1631.9 1076.9 1633.3 1082.5 1632.2 1088.1 1628.4 1093.7 1622.3 1097.3 1616.7 1099.0 1611.1 1098.8 1605.5 1096.0 1602.5 1093.7 1598.0 1088.1 1596.1 1082.5 1596.8 1076.9 1599.9 1071.0 1605.5 1066.8 1609.0 1065.7M1601.1 1339.7L1605.5 1337.6 1611.1 1336.3 1616.7 1336.3 1622.3 1337.7 1626.2 1339.7 1632.4 1345.2 1635.4 1350.8 1636.8 1356.4 1637.1 1362.0 1635.7 1367.6 1633.5 1371.5 1627.9 1377.0 1622.3 1379.5 1616.7 1380.1 1611.1 1379.3 1605.5 1378.2 1599.9 1375.9 1594.3 1371.1 1591.9 1367.6 1589.7 1362.0 1589.3 1356.4 1590.9 1350.8 1594.2 1345.2 1601.1 1339.7" fill="none" stroke="#000" stroke-width="2.3" stroke-linejoin="round" mask="url(#mBR)"/><text x="1202.0" y="976.0" text-anchor="middle" font-size="31.5" fill="#000" transform="rotate(-43.5 1202.0 964.8)">0.2</text><text x="1437.4" y="941.3" text-anchor="middle" font-size="31.5" fill="#000" transform="rotate(-0.9 1437.4 930.2)">0.25</text><text x="1667.1" y="958.6" text-anchor="middle" font-size="31.5" fill="#000" transform="rotate(34.1 1667.1 947.4)">0.25</text><text x="1627.9" y="973.2" text-anchor="middle" font-size="31.5" fill="#000" transform="rotate(21.4 1627.9 962.1)">0.3</text><text x="1226.4" y="1043.3" text-anchor="middle" font-size="31.5" fill="#000" transform="rotate(-69.5 1226.4 1032.2)">0.3</text><text x="1242.9" y="1071.3" text-anchor="middle" font-size="31.5" fill="#000" transform="rotate(-76.6 1242.9 1060.1)">0.35</text><text x="1270.0" y="1116.0" text-anchor="middle" font-size="31.5" fill="#000" transform="rotate(58.2 1270.0 1104.8)">0.4</text><text x="1447.1" y="1121.6" text-anchor="middle" font-size="31.5" fill="#000" transform="rotate(-86.8 1447.1 1110.4)">0.35</text><text x="1515.8" y="1037.8" text-anchor="middle" font-size="31.5" fill="#000" transform="rotate(-45.9 1515.8 1026.6)">0.35</text><text x="1680.1" y="1037.8" text-anchor="middle" font-size="31.5" fill="#000" transform="rotate(49.6 1680.1 1026.6)">0.35</text><text x="1571.9" y="1138.0" text-anchor="middle" font-size="31.5" fill="#000" transform="rotate(41.0 1571.9 1126.8)">0.4</text><text x="1778.3" y="965.1" text-anchor="middle" font-size="31.5" fill="#000" transform="rotate(58.1 1778.3 953.9)">0.15</text><text x="1763.7" y="1026.6" text-anchor="middle" font-size="31.5" fill="#000" transform="rotate(59.9 1763.7 1015.4)">0.2</text><text x="1183.4" y="1104.8" text-anchor="middle" font-size="31.5" fill="#000" transform="rotate(89.6 1183.4 1093.7)">0.25</text><text x="1162.1" y="1334.1" text-anchor="middle" font-size="31.5" fill="#000" transform="rotate(-85.9 1162.1 1322.9)">0.2</text><text x="1261.6" y="1334.1" text-anchor="middle" font-size="31.5" fill="#000" transform="rotate(-57.8 1261.6 1322.9)">0.35</text><text x="1224.5" y="1408.4" text-anchor="middle" font-size="31.5" fill="#000" transform="rotate(82.7 1224.5 1397.2)">0.3</text><text x="1289.7" y="1417.9" text-anchor="middle" font-size="31.5" fill="#000" transform="rotate(55.9 1289.7 1406.8)">0.4</text><text x="1435.5" y="1373.2" text-anchor="middle" font-size="31.5" fill="#000" transform="rotate(-73.0 1435.5 1362.0)">0.35</text><text x="1484.1" y="1367.6" text-anchor="middle" font-size="31.5" fill="#000" transform="rotate(-79.0 1484.1 1356.4)">0.35</text><text x="1224.5" y="1474.7" text-anchor="middle" font-size="31.5" fill="#000" transform="rotate(54.1 1224.5 1463.5)">0.25</text><text x="1510.4" y="1485.0" text-anchor="middle" font-size="31.5" fill="#000" transform="rotate(18.8 1510.4 1473.8)">0.3</text><text x="1543.8" y="1523.1" text-anchor="middle" font-size="31.5" fill="#000" transform="rotate(2.8 1543.8 1511.9)">0.25</text><text x="1370.1" y="1559.9" text-anchor="middle" font-size="31.5" fill="#000" transform="rotate(-4.1 1370.1 1548.7)">0.2</text><text x="1608.9" y="1390.0" text-anchor="middle" font-size="31.5" fill="#000" transform="rotate(12.9 1608.9 1378.8)">0.45</text><text x="1566.3" y="1424.1" text-anchor="middle" font-size="31.5" fill="#000" transform="rotate(52.9 1566.3 1412.9)">0.4</text><text x="1698.7" y="1350.8" text-anchor="middle" font-size="31.5" fill="#000" transform="rotate(77.0 1698.7 1339.7)">0.35</text><text x="1716.8" y="1289.3" text-anchor="middle" font-size="31.5" fill="#000" transform="rotate(81.8 1716.8 1278.2)">0.3</text><text x="1760.6" y="1300.5" text-anchor="middle" font-size="31.5" fill="#000" transform="rotate(-87.1 1760.6 1289.3)">0.25</text><text x="1697.0" y="1507.4" text-anchor="middle" font-size="31.5" fill="#000" transform="rotate(-39.4 1697.0 1496.2)">0.2</text><text x="1716.6" y="1535.3" text-anchor="middle" font-size="31.5" fill="#000" transform="rotate(-38.0 1716.6 1524.2)">0.15</text></g>
<rect x="1132.0" y="884.0" width="678.0" height="676.5" fill="none" stroke="#262626" stroke-width="3.7"/>
<text x="1134.8" y="1606.5" text-anchor="middle">-60</text>
<text x="1118.0" y="898.8" text-anchor="end">-60</text>
<text x="1246.9" y="1606.5" text-anchor="middle">-40</text>
<text x="1118.0" y="1010.6" text-anchor="end">-40</text>
<text x="1358.9" y="1606.5" text-anchor="middle">-20</text>
<text x="1118.0" y="1122.4" text-anchor="end">-20</text>
<text x="1471.0" y="1606.5" text-anchor="middle">0</text>
<text x="1118.0" y="1234.2" text-anchor="end">0</text>
<text x="1583.1" y="1606.5" text-anchor="middle">20</text>
<text x="1118.0" y="1346.1" text-anchor="end">20</text>
<text x="1695.1" y="1606.5" text-anchor="middle">40</text>
<text x="1118.0" y="1457.9" text-anchor="end">40</text>
<text x="1807.2" y="1606.5" text-anchor="middle">60</text>
<text x="1118.0" y="1569.7" text-anchor="end">60</text>
<path d="M1134.8 1560.5v-7M1134.8 884.0v7M1132.0 886.8h7M1810.0 886.8h-7M1246.9 1560.5v-7M1246.9 884.0v7M1132.0 998.6h7M1810.0 998.6h-7M1358.9 1560.5v-7M1358.9 884.0v7M1132.0 1110.4h7M1810.0 1110.4h-7M1471.0 1560.5v-7M1471.0 884.0v7M1132.0 1222.2h7M1810.0 1222.2h-7M1583.1 1560.5v-7M1583.1 884.0v7M1132.0 1334.1h7M1810.0 1334.1h-7M1695.1 1560.5v-7M1695.1 884.0v7M1132.0 1445.9h7M1810.0 1445.9h-7M1807.2 1560.5v-7M1807.2 884.0v7M1132.0 1557.7h7M1810.0 1557.7h-7" stroke="#262626" stroke-width="3" fill="none"/>
<text x="1471.0" y="1652.9" text-anchor="middle" font-size="35.2">["/sky]</text>
<text transform="translate(1055.3 1222.2) rotate(-90)" text-anchor="middle" font-size="35.2">["/sky]</text>
<text x="1466.5" y="869.9" text-anchor="middle" font-size="35.2" font-weight="bold" fill="#000">SR: Mean=0.30, Std=0.02, PV=0.31</text>
<rect x="1847.0" y="882.6" width="42.7" height="677.6" fill="url(#gBR)" stroke="#262626" stroke-width="1.2"/>
<text x="1901.4" y="1559.2" font-size="28.8">0.1</text>
<text x="1901.4" y="1468.2" font-size="28.8">0.15</text>
<text x="1901.4" y="1377.3" font-size="28.8">0.2</text>
<text x="1901.4" y="1286.3" font-size="28.8">0.25</text>
<text x="1901.4" y="1195.3" font-size="28.8">0.3</text>
<text x="1901.4" y="1104.3" font-size="28.8">0.35</text>
<text x="1901.4" y="1013.4" font-size="28.8">0.4</text>
<text x="1901.4" y="922.4" font-size="28.8">0.45</text>
<path d="M1889.7 1548.9h-7M1889.7 1457.9h-7M1889.7 1367.0h-7M1889.7 1276.0h-7M1889.7 1185.0h-7M1889.7 1094.0h-7M1889.7 1003.1h-7M1889.7 912.1h-7" stroke="#262626" stroke-width="1.2" fill="none"/>
<text transform="translate(1995.2 1221.4) rotate(-90)" text-anchor="middle" font-size="28.8">Srehl ratio</text></svg>
</body></html>
